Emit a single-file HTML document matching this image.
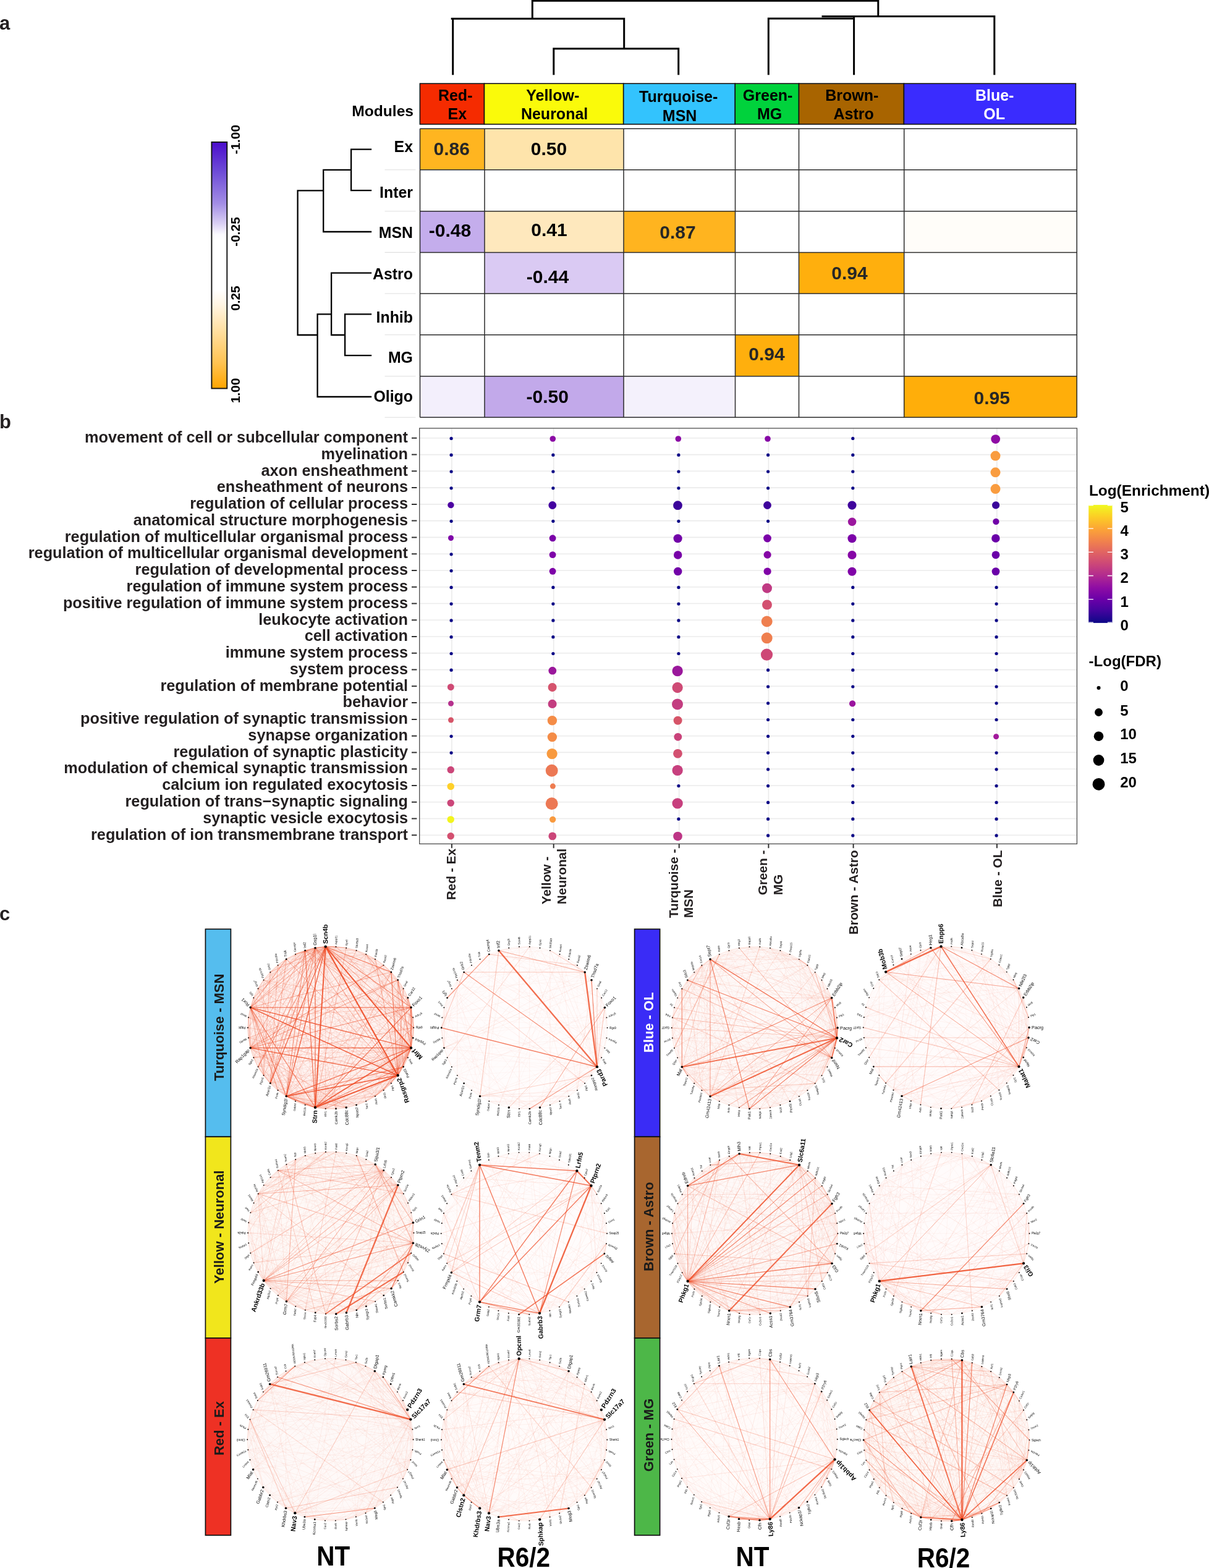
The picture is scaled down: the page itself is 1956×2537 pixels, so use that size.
<!DOCTYPE html>
<html><head><meta charset="utf-8"><title>Figure</title>
<style>html,body{margin:0;padding:0;background:#fff;overflow:hidden;}svg{display:block;}
</style></head>
<body><svg width="1956" height="2537" viewBox="0 0 1956 2537">
<rect width="1956" height="2537" fill="#fff"/>
<g font-family="'Liberation Sans', Arial, Helvetica, sans-serif" font-weight="bold" fill="#1a1a1a">
<text x="-1" y="48" font-size="31" fill="#231f20">a</text>
<path d="M861.3 1.3L1420.8 1.3 M861.3 0L861.3 30.3 M1420.8 0L1420.8 26.4 M731.2 30.3L1009.7 30.3 M732.7 30.3L732.7 119.7 M1009.7 30.3L1009.7 78.8 M895.8 78.8L1097.7 78.8 M895.8 78.8L895.8 119.7 M1097.7 78.8L1097.7 119.7 M1331 26.4L1608.8 26.4 M1243.3 30L1381.6 30 M1243.3 30L1243.3 119.7 M1381.6 26.4L1381.6 119.7 M1608.8 26.4L1608.8 119.7" stroke="#000" stroke-width="3" fill="none" stroke-linecap="square"/>
<rect x="679.4" y="135.2" width="104.1" height="65.8" fill="#f52b00" stroke="#111" stroke-width="1.6"/>
<rect x="783.5" y="135.2" width="225.2" height="65.8" fill="#fafa0a" stroke="#111" stroke-width="1.6"/>
<rect x="1008.7" y="135.2" width="180.6" height="65.8" fill="#33c3fd" stroke="#111" stroke-width="1.6"/>
<rect x="1189.3" y="135.2" width="103.2" height="65.8" fill="#00d23c" stroke="#111" stroke-width="1.6"/>
<rect x="1292.5" y="135.2" width="169.9" height="65.8" fill="#a86400" stroke="#111" stroke-width="1.6"/>
<rect x="1462.4" y="135.2" width="278" height="65.8" fill="#3a2cfe" stroke="#111" stroke-width="1.6"/>
<text x="736.7" y="162.8" font-size="25.0" text-anchor="middle" fill="#000">Red-</text>
<text x="739.9" y="193.2" font-size="25.0" text-anchor="middle" fill="#000">Ex</text>
<text x="894.3" y="162.8" font-size="25.0" text-anchor="middle" fill="#000">Yellow-</text>
<text x="897.1" y="193.2" font-size="25.0" text-anchor="middle" fill="#000">Neuronal</text>
<text x="1097.7" y="165.3" font-size="25.0" text-anchor="middle" fill="#000">Turquoise-</text>
<text x="1099.6" y="195.7" font-size="25.0" text-anchor="middle" fill="#000">MSN</text>
<text x="1242.1" y="162.8" font-size="25.0" text-anchor="middle" fill="#000">Green-</text>
<text x="1245.1" y="193.2" font-size="25.0" text-anchor="middle" fill="#000">MG</text>
<text x="1378.3" y="162.8" font-size="25.0" text-anchor="middle" fill="#000">Brown-</text>
<text x="1381.2" y="193.2" font-size="25.0" text-anchor="middle" fill="#000">Astro</text>
<text x="1609.2" y="162.8" font-size="25.0" text-anchor="middle" fill="#ffffff">Blue-</text>
<text x="1608.7" y="193.2" font-size="25.0" text-anchor="middle" fill="#ffffff">OL</text>
<text x="669" y="187.7" font-size="24.6" text-anchor="end" fill="#000">Modules</text>
<rect x="679.5" y="208.3" width="104.5" height="66.5" fill="#ffb520"/>
<rect x="784" y="208.3" width="225" height="66.5" fill="#fee4ab"/>
<rect x="679.5" y="341.7" width="104.5" height="66.7" fill="#c4adec"/>
<rect x="784" y="341.7" width="225" height="66.7" fill="#fee8bd"/>
<rect x="1009" y="341.7" width="180.5" height="66.7" fill="#ffb41f"/>
<rect x="1462.7" y="341.7" width="279.5" height="66.7" fill="#fffdf9"/>
<rect x="784" y="408.4" width="225" height="66.6" fill="#dacaf3"/>
<rect x="1292.5" y="408.4" width="170.2" height="66.6" fill="#ffaf0d"/>
<rect x="1189.5" y="541.8" width="103" height="66.9" fill="#ffaf0d"/>
<rect x="679.5" y="608.7" width="104.5" height="66.5" fill="#f3effc"/>
<rect x="784" y="608.7" width="225" height="66.5" fill="#c2a9ea"/>
<rect x="1009" y="608.7" width="180.5" height="66.5" fill="#f4f1fc"/>
<rect x="1462.7" y="608.7" width="279.5" height="66.5" fill="#ffae0a"/>
<text x="730.7" y="251" font-size="30" text-anchor="middle" fill="#262626">0.86</text>
<text x="888" y="251" font-size="30" text-anchor="middle" fill="#000">0.50</text>
<text x="728" y="383.1" font-size="30" text-anchor="middle" fill="#000">-0.48</text>
<text x="888.5" y="382.4" font-size="30" text-anchor="middle" fill="#000">0.41</text>
<text x="1096.5" y="385.6" font-size="30" text-anchor="middle" fill="#262626">0.87</text>
<text x="886" y="457.8" font-size="30" text-anchor="middle" fill="#000">-0.44</text>
<text x="1374.4" y="452.4" font-size="30" text-anchor="middle" fill="#262626">0.94</text>
<text x="1240.4" y="583" font-size="30" text-anchor="middle" fill="#262626">0.94</text>
<text x="885.7" y="652.3" font-size="30" text-anchor="middle" fill="#000">-0.50</text>
<text x="1604.8" y="653.5" font-size="30" text-anchor="middle" fill="#262626">0.95</text>
<path d="M679.5 208.3V675.2M784 208.3V675.2M1009 208.3V675.2M1189.5 208.3V675.2M1292.5 208.3V675.2M1462.7 208.3V675.2M1742.2 208.3V675.2M679.5 208.3H1742.2M679.5 274.8H1742.2M679.5 341.7H1742.2M679.5 408.4H1742.2M679.5 475H1742.2M679.5 541.8H1742.2M679.5 608.7H1742.2M679.5 675.2H1742.2" stroke="#2b2b2b" stroke-width="1.5" fill="none"/>
<path d="M622.5 274.8H672.5M622.5 341.7H672.5M622.5 408.4H672.5M622.5 475H672.5M622.5 541.8H672.5M622.5 608.7H672.5M622.5 675.2H672.5" stroke="#dedede" stroke-width="1.1" fill="none"/>
<text x="668" y="245.5" font-size="24.9" text-anchor="end" fill="#000">Ex</text>
<text x="668" y="319.6" font-size="24.9" text-anchor="end" fill="#000">Inter</text>
<text x="668" y="384.6" font-size="24.9" text-anchor="end" fill="#000">MSN</text>
<text x="668" y="452" font-size="24.9" text-anchor="end" fill="#000">Astro</text>
<text x="668" y="522.2" font-size="24.9" text-anchor="end" fill="#000">Inhib</text>
<text x="668" y="587.1" font-size="24.9" text-anchor="end" fill="#000">MG</text>
<text x="668" y="649.5" font-size="24.9" text-anchor="end" fill="#000">Oligo</text>
<path d="M568.1 241.6L600 241.6 M568.1 308.2L600 308.2 M568.1 241.6L568.1 308.2 M523.2 274.8L568.1 274.8 M523.2 274.8L523.2 375 M523.2 375L600 375 M481.6 308.4L523.2 308.4 M481.6 308.4L481.6 542 M481.6 542L513.6 542 M513.6 508.3L513.6 642 M513.6 642L600 642 M513.6 508.3L536.1 508.3 M536.1 441.7L536.1 542 M536.1 441.7L600 441.7 M536.1 542L558.1 542 M558.1 508.4L558.1 575.2 M558.1 508.4L600 508.4 M558.1 575.2L600 575.2" stroke="#000" stroke-width="2.3" fill="none" stroke-linecap="square"/>
<defs><linearGradient id="cb1" x1="0" y1="0" x2="0" y2="1"><stop offset="0" stop-color="#4b0ccc"/><stop offset="0.12" stop-color="#6e4cd7"/><stop offset="0.25" stop-color="#a38ee5"/><stop offset="0.33" stop-color="#d9cff4"/><stop offset="0.375" stop-color="#fbfaff"/><stop offset="0.4" stop-color="#ffffff"/><stop offset="0.6" stop-color="#ffffff"/><stop offset="0.66" stop-color="#fff5e3"/><stop offset="0.78" stop-color="#ffdc98"/><stop offset="0.9" stop-color="#ffc24f"/><stop offset="1" stop-color="#ffa500"/></linearGradient></defs>
<rect x="342.4" y="229.9" width="24.9" height="398.6" fill="url(#cb1)" stroke="#111" stroke-width="1.9"/>
<text x="0" y="0" font-size="20.8" text-anchor="middle" fill="#000" transform="translate(388,225.7) rotate(-90)">-1.00</text>
<text x="0" y="0" font-size="20.8" text-anchor="middle" fill="#000" transform="translate(388,375) rotate(-90)">-0.25</text>
<text x="0" y="0" font-size="20.8" text-anchor="middle" fill="#000" transform="translate(388,482.6) rotate(-90)">0.25</text>
<text x="0" y="0" font-size="20.8" text-anchor="middle" fill="#000" transform="translate(388,632) rotate(-90)">1.00</text>
<text x="-1" y="692.9" font-size="31" fill="#231f20">b</text>
<path d="M730.9 692.9V1365.4M895.7 692.9V1365.4M1098.7 692.9V1365.4M1243.4 692.9V1365.4M1380.6 692.9V1365.4M1612.9 692.9V1365.4M678.7 708.8H1742.4M678.7 735.6H1742.4M678.7 762.3H1742.4M678.7 789.1H1742.4M678.7 815.9H1742.4M678.7 842.6H1742.4M678.7 869.4H1742.4M678.7 896.2H1742.4M678.7 923H1742.4M678.7 949.7H1742.4M678.7 976.5H1742.4M678.7 1003.3H1742.4M678.7 1030H1742.4M678.7 1056.8H1742.4M678.7 1083.6H1742.4M678.7 1110.3H1742.4M678.7 1137.1H1742.4M678.7 1163.9H1742.4M678.7 1190.7H1742.4M678.7 1217.4H1742.4M678.7 1244.2H1742.4M678.7 1271H1742.4M678.7 1297.7H1742.4M678.7 1324.5H1742.4M678.7 1351.3H1742.4" stroke="#ebebeb" stroke-width="1.6" fill="none"/>
<rect x="678.7" y="692.9" width="1063.7" height="672.5" fill="none" stroke="#4d4d4d" stroke-width="1.3"/>
<path d="M666 708.8H674.4M666 735.6H674.4M666 762.3H674.4M666 789.1H674.4M666 815.9H674.4M666 842.6H674.4M666 869.4H674.4M666 896.2H674.4M666 923H674.4M666 949.7H674.4M666 976.5H674.4M666 1003.3H674.4M666 1030H674.4M666 1056.8H674.4M666 1083.6H674.4M666 1110.3H674.4M666 1137.1H674.4M666 1163.9H674.4M666 1190.7H674.4M666 1217.4H674.4M666 1244.2H674.4M666 1271H674.4M666 1297.7H674.4M666 1324.5H674.4M666 1351.3H674.4M730.9 1365.4V1372.2M895.7 1365.4V1372.2M1098.7 1365.4V1372.2M1243.4 1365.4V1372.2M1380.6 1365.4V1372.2M1612.9 1365.4V1372.2" stroke="#333" stroke-width="2" fill="none"/>
<text x="660" y="716" font-size="25.3" text-anchor="end" fill="#231f20">movement of cell or subcellular component</text>
<text x="660" y="742.8" font-size="25.3" text-anchor="end" fill="#231f20">myelination</text>
<text x="660" y="769.5" font-size="25.3" text-anchor="end" fill="#231f20">axon ensheathment</text>
<text x="660" y="796.3" font-size="25.3" text-anchor="end" fill="#231f20">ensheathment of neurons</text>
<text x="660" y="823.1" font-size="25.3" text-anchor="end" fill="#231f20">regulation of cellular process</text>
<text x="660" y="849.9" font-size="25.3" text-anchor="end" fill="#231f20">anatomical structure morphogenesis</text>
<text x="660" y="876.6" font-size="25.3" text-anchor="end" fill="#231f20">regulation of multicellular organismal process</text>
<text x="660" y="903.4" font-size="25.3" text-anchor="end" fill="#231f20">regulation of multicellular organismal development</text>
<text x="660" y="930.2" font-size="25.3" text-anchor="end" fill="#231f20">regulation of developmental process</text>
<text x="660" y="956.9" font-size="25.3" text-anchor="end" fill="#231f20">regulation of immune system process</text>
<text x="660" y="983.7" font-size="25.3" text-anchor="end" fill="#231f20">positive regulation of immune system process</text>
<text x="660" y="1010.5" font-size="25.3" text-anchor="end" fill="#231f20">leukocyte activation</text>
<text x="660" y="1037.2" font-size="25.3" text-anchor="end" fill="#231f20">cell activation</text>
<text x="660" y="1064" font-size="25.3" text-anchor="end" fill="#231f20">immune system process</text>
<text x="660" y="1090.8" font-size="25.3" text-anchor="end" fill="#231f20">system process</text>
<text x="660" y="1117.5" font-size="25.3" text-anchor="end" fill="#231f20">regulation of membrane potential</text>
<text x="660" y="1144.3" font-size="25.3" text-anchor="end" fill="#231f20">behavior</text>
<text x="660" y="1171.1" font-size="25.3" text-anchor="end" fill="#231f20">positive regulation of synaptic transmission</text>
<text x="660" y="1197.9" font-size="25.3" text-anchor="end" fill="#231f20">synapse organization</text>
<text x="660" y="1224.6" font-size="25.3" text-anchor="end" fill="#231f20">regulation of synaptic plasticity</text>
<text x="660" y="1251.4" font-size="25.3" text-anchor="end" fill="#231f20">modulation of chemical synaptic transmission</text>
<text x="660" y="1278.2" font-size="25.3" text-anchor="end" fill="#231f20">calcium ion regulated exocytosis</text>
<text x="660" y="1304.9" font-size="25.3" text-anchor="end" fill="#231f20">regulation of trans&#8722;synaptic signaling</text>
<text x="660" y="1331.7" font-size="25.3" text-anchor="end" fill="#231f20">synaptic vesicle exocytosis</text>
<text x="660" y="1358.5" font-size="25.3" text-anchor="end" fill="#231f20">regulation of ion transmembrane transport</text>
<circle cx="730.1" cy="709.4" r="2.60" fill="#0d0887"/>
<circle cx="894.3" cy="710" r="4.80" fill="#8b0aa5"/>
<circle cx="1097.3" cy="710" r="4.80" fill="#8b0aa5"/>
<circle cx="1242" cy="710" r="4.80" fill="#8606a6"/>
<circle cx="1379.8" cy="709.4" r="2.60" fill="#0d0887"/>
<circle cx="1610.7" cy="710.6" r="7.40" fill="#8e0ca4"/>
<circle cx="730.1" cy="736.2" r="2.60" fill="#0d0887"/>
<circle cx="894.9" cy="736.2" r="2.60" fill="#0d0887"/>
<circle cx="1097.9" cy="736.2" r="2.60" fill="#0d0887"/>
<circle cx="1242.6" cy="736.2" r="2.60" fill="#0d0887"/>
<circle cx="1379.8" cy="736.2" r="2.60" fill="#0d0887"/>
<circle cx="1610.5" cy="737.6" r="8.00" fill="#f99c3f"/>
<circle cx="730.1" cy="763" r="2.60" fill="#0d0887"/>
<circle cx="894.9" cy="763" r="2.60" fill="#0d0887"/>
<circle cx="1097.9" cy="763" r="2.60" fill="#0d0887"/>
<circle cx="1242.6" cy="763" r="2.60" fill="#0d0887"/>
<circle cx="1379.8" cy="763" r="2.60" fill="#0d0887"/>
<circle cx="1610.5" cy="764.3" r="8.00" fill="#f99c3f"/>
<circle cx="730.1" cy="789.8" r="2.60" fill="#0d0887"/>
<circle cx="894.9" cy="789.8" r="2.60" fill="#0d0887"/>
<circle cx="1097.9" cy="789.8" r="2.60" fill="#0d0887"/>
<circle cx="1242.6" cy="789.8" r="2.60" fill="#0d0887"/>
<circle cx="1379.8" cy="789.8" r="2.60" fill="#0d0887"/>
<circle cx="1610.5" cy="791.1" r="8.00" fill="#f99c3f"/>
<circle cx="729.4" cy="817.2" r="5.15" fill="#4c02a1"/>
<circle cx="893.8" cy="817.5" r="6.40" fill="#4402a0"/>
<circle cx="1096.5" cy="817.7" r="7.40" fill="#3b049a"/>
<circle cx="1241.5" cy="817.5" r="6.40" fill="#3f049c"/>
<circle cx="1378.5" cy="817.6" r="7.05" fill="#3f049c"/>
<circle cx="1611.1" cy="817.4" r="6.10" fill="#3a049a"/>
<circle cx="730.1" cy="843.3" r="2.60" fill="#0d0887"/>
<circle cx="894.9" cy="843.3" r="2.60" fill="#0d0887"/>
<circle cx="1097.9" cy="843.3" r="2.60" fill="#0d0887"/>
<circle cx="1242.6" cy="843.3" r="2.60" fill="#0d0887"/>
<circle cx="1378.6" cy="844.3" r="6.75" fill="#9b179e"/>
<circle cx="1611.4" cy="843.9" r="5.15" fill="#7000a8"/>
<circle cx="729.5" cy="870.5" r="4.50" fill="#7e03a8"/>
<circle cx="894.1" cy="870.8" r="5.45" fill="#7a02a8"/>
<circle cx="1096.6" cy="871.2" r="7.05" fill="#7202a8"/>
<circle cx="1241.5" cy="871" r="6.40" fill="#7b02a8"/>
<circle cx="1378.5" cy="871.2" r="7.05" fill="#7b02a8"/>
<circle cx="1610.9" cy="871.1" r="6.75" fill="#6a00a8"/>
<circle cx="730.1" cy="896.8" r="2.60" fill="#0d0887"/>
<circle cx="894.1" cy="897.6" r="5.45" fill="#7e03a8"/>
<circle cx="1096.7" cy="897.9" r="6.75" fill="#7802a8"/>
<circle cx="1241.6" cy="897.7" r="6.10" fill="#8606a6"/>
<circle cx="1378.5" cy="898" r="7.05" fill="#8606a6"/>
<circle cx="1611" cy="897.8" r="6.40" fill="#6a00a8"/>
<circle cx="730.1" cy="923.6" r="2.60" fill="#0d0887"/>
<circle cx="894.1" cy="924.3" r="5.45" fill="#7e03a8"/>
<circle cx="1096.7" cy="924.6" r="6.75" fill="#7202a8"/>
<circle cx="1241.6" cy="924.5" r="6.10" fill="#8003a7"/>
<circle cx="1378.5" cy="924.7" r="7.05" fill="#8003a7"/>
<circle cx="1611" cy="924.6" r="6.40" fill="#6a00a8"/>
<circle cx="730.1" cy="950.4" r="2.60" fill="#0d0887"/>
<circle cx="894.9" cy="950.4" r="2.60" fill="#0d0887"/>
<circle cx="1097.9" cy="950.4" r="2.60" fill="#0d0887"/>
<circle cx="1241" cy="951.7" r="8.00" fill="#c03a83"/>
<circle cx="1379.8" cy="950.4" r="2.60" fill="#0d0887"/>
<circle cx="1612.1" cy="950.4" r="2.60" fill="#0d0887"/>
<circle cx="730.1" cy="977.1" r="2.60" fill="#0d0887"/>
<circle cx="894.9" cy="977.1" r="2.60" fill="#0d0887"/>
<circle cx="1097.9" cy="977.1" r="2.60" fill="#0d0887"/>
<circle cx="1241" cy="978.5" r="8.00" fill="#d35070"/>
<circle cx="1379.8" cy="977.1" r="2.60" fill="#0d0887"/>
<circle cx="1612.1" cy="977.1" r="2.60" fill="#0d0887"/>
<circle cx="730.1" cy="1003.9" r="2.60" fill="#0d0887"/>
<circle cx="894.9" cy="1003.9" r="2.60" fill="#0d0887"/>
<circle cx="1097.9" cy="1003.9" r="2.60" fill="#0d0887"/>
<circle cx="1240.7" cy="1005.5" r="9.00" fill="#ef7f4f"/>
<circle cx="1379.8" cy="1003.9" r="2.60" fill="#0d0887"/>
<circle cx="1612.1" cy="1003.9" r="2.60" fill="#0d0887"/>
<circle cx="730.1" cy="1030.7" r="2.60" fill="#0d0887"/>
<circle cx="894.9" cy="1030.7" r="2.60" fill="#0d0887"/>
<circle cx="1097.9" cy="1030.7" r="2.60" fill="#0d0887"/>
<circle cx="1240.7" cy="1032.3" r="9.00" fill="#ef7f4f"/>
<circle cx="1379.8" cy="1030.7" r="2.60" fill="#0d0887"/>
<circle cx="1612.1" cy="1030.7" r="2.60" fill="#0d0887"/>
<circle cx="730.1" cy="1057.5" r="2.60" fill="#0d0887"/>
<circle cx="894.9" cy="1057.5" r="2.60" fill="#0d0887"/>
<circle cx="1097.9" cy="1057.5" r="2.60" fill="#0d0887"/>
<circle cx="1240.5" cy="1059.2" r="9.60" fill="#ce4876"/>
<circle cx="1379.8" cy="1057.5" r="2.60" fill="#0d0887"/>
<circle cx="1612.1" cy="1057.5" r="2.60" fill="#0d0887"/>
<circle cx="730.1" cy="1084.2" r="2.60" fill="#0d0887"/>
<circle cx="893.8" cy="1085.2" r="6.40" fill="#9a179b"/>
<circle cx="1096.1" cy="1085.7" r="8.65" fill="#9a179b"/>
<circle cx="1242.6" cy="1084.2" r="2.60" fill="#0d0887"/>
<circle cx="1379.8" cy="1084.2" r="2.60" fill="#0d0887"/>
<circle cx="1612.1" cy="1084.2" r="2.60" fill="#0d0887"/>
<circle cx="729.3" cy="1111.7" r="5.45" fill="#cf4a74"/>
<circle cx="893.6" cy="1112.1" r="7.05" fill="#d5536d"/>
<circle cx="1096.1" cy="1112.5" r="8.65" fill="#ce4a75"/>
<circle cx="1242.6" cy="1111" r="2.60" fill="#0d0887"/>
<circle cx="1379.8" cy="1111" r="2.60" fill="#0d0887"/>
<circle cx="1612.1" cy="1111" r="2.60" fill="#0d0887"/>
<circle cx="729.5" cy="1138.2" r="4.50" fill="#b5318d"/>
<circle cx="893.6" cy="1138.9" r="7.05" fill="#c33d80"/>
<circle cx="1096" cy="1139.4" r="9.00" fill="#c33d80"/>
<circle cx="1242.6" cy="1137.8" r="2.60" fill="#0d0887"/>
<circle cx="1379.1" cy="1138.4" r="5.15" fill="#9a159e"/>
<circle cx="1612.1" cy="1137.8" r="2.60" fill="#0d0887"/>
<circle cx="729.5" cy="1165" r="4.50" fill="#d65468"/>
<circle cx="893.4" cy="1165.8" r="7.70" fill="#f48c47"/>
<circle cx="1096.6" cy="1165.7" r="7.05" fill="#d65468"/>
<circle cx="1242.6" cy="1164.5" r="2.60" fill="#0d0887"/>
<circle cx="1379.8" cy="1164.5" r="2.60" fill="#0d0887"/>
<circle cx="1612.1" cy="1164.5" r="2.60" fill="#0d0887"/>
<circle cx="730.1" cy="1191.3" r="2.60" fill="#0d0887"/>
<circle cx="893.4" cy="1192.6" r="7.70" fill="#f48c47"/>
<circle cx="1096.8" cy="1192.3" r="6.40" fill="#c9427a"/>
<circle cx="1242.6" cy="1191.3" r="2.60" fill="#0d0887"/>
<circle cx="1379.8" cy="1191.3" r="2.60" fill="#0d0887"/>
<circle cx="1611.6" cy="1191.8" r="4.50" fill="#a2199b"/>
<circle cx="730.1" cy="1218.1" r="2.60" fill="#0d0887"/>
<circle cx="893.1" cy="1219.6" r="8.65" fill="#f89a3f"/>
<circle cx="1096.5" cy="1219.3" r="7.40" fill="#d35070"/>
<circle cx="1242.6" cy="1218.1" r="2.60" fill="#0d0887"/>
<circle cx="1379.8" cy="1218.1" r="2.60" fill="#0d0887"/>
<circle cx="1612.1" cy="1218.1" r="2.60" fill="#0d0887"/>
<circle cx="729.2" cy="1245.6" r="5.75" fill="#cb4679"/>
<circle cx="892.7" cy="1246.7" r="9.95" fill="#ec7854"/>
<circle cx="1096.1" cy="1246.4" r="8.65" fill="#c7407e"/>
<circle cx="1242.6" cy="1244.8" r="2.60" fill="#0d0887"/>
<circle cx="1379.8" cy="1244.8" r="2.60" fill="#0d0887"/>
<circle cx="1612.1" cy="1244.8" r="2.60" fill="#0d0887"/>
<circle cx="729.2" cy="1272.4" r="5.75" fill="#fed02a"/>
<circle cx="894.4" cy="1272.1" r="4.50" fill="#ee7c50"/>
<circle cx="1097.9" cy="1271.6" r="2.60" fill="#0d0887"/>
<circle cx="1242.6" cy="1271.6" r="2.60" fill="#0d0887"/>
<circle cx="1379.8" cy="1271.6" r="2.60" fill="#0d0887"/>
<circle cx="1612.1" cy="1271.6" r="2.60" fill="#0d0887"/>
<circle cx="729.2" cy="1299.2" r="5.75" fill="#cb4679"/>
<circle cx="892.7" cy="1300.2" r="9.95" fill="#ec7854"/>
<circle cx="1096.1" cy="1299.9" r="8.65" fill="#c7407e"/>
<circle cx="1242.6" cy="1298.4" r="2.60" fill="#0d0887"/>
<circle cx="1379.8" cy="1298.4" r="2.60" fill="#0d0887"/>
<circle cx="1612.1" cy="1298.4" r="2.60" fill="#0d0887"/>
<circle cx="729.2" cy="1325.9" r="5.75" fill="#f2f41e"/>
<circle cx="894.2" cy="1325.8" r="5.15" fill="#f89a3f"/>
<circle cx="1097.9" cy="1325.2" r="2.60" fill="#0d0887"/>
<circle cx="1242.6" cy="1325.2" r="2.60" fill="#0d0887"/>
<circle cx="1379.8" cy="1325.2" r="2.60" fill="#0d0887"/>
<circle cx="1612.1" cy="1325.2" r="2.60" fill="#0d0887"/>
<circle cx="729.2" cy="1352.7" r="5.75" fill="#d34f6f"/>
<circle cx="893.8" cy="1352.9" r="6.40" fill="#cb4679"/>
<circle cx="1096.5" cy="1353.1" r="7.40" fill="#bd3585"/>
<circle cx="1242.6" cy="1351.9" r="2.60" fill="#0d0887"/>
<circle cx="1379.8" cy="1351.9" r="2.60" fill="#0d0887"/>
<circle cx="1612.1" cy="1351.9" r="2.60" fill="#0d0887"/>
<text x="0" y="0" font-size="20.8" text-anchor="end" fill="#231f20" transform="translate(737,1373) rotate(-90)">Red - Ex</text>
<text x="0" y="0" font-size="20.8" fill="#231f20" transform="translate(891,1463.2) rotate(-90)">Yellow -</text>
<text x="0" y="0" font-size="20.8" fill="#231f20" transform="translate(915.7,1463.2) rotate(-90)">Neuronal</text>
<text x="0" y="0" font-size="20.8" fill="#231f20" transform="translate(1096.5,1485.2) rotate(-90)">Turquoise -</text>
<text x="0" y="0" font-size="20.8" fill="#231f20" transform="translate(1121.2,1485.2) rotate(-90)">MSN</text>
<text x="0" y="0" font-size="20.8" fill="#231f20" transform="translate(1241.2,1448.3) rotate(-90)">Green -</text>
<text x="0" y="0" font-size="20.8" fill="#231f20" transform="translate(1265.9,1448.3) rotate(-90)">MG</text>
<text x="0" y="0" font-size="20.8" text-anchor="end" fill="#231f20" transform="translate(1388.2,1375.5) rotate(-90)">Brown - Astro</text>
<text x="0" y="0" font-size="20.8" text-anchor="end" fill="#231f20" transform="translate(1620.5,1375.5) rotate(-90)">Blue - OL</text>
<text x="1761.9" y="802.4" font-size="24.4" fill="#000">Log(Enrichment)</text>
<defs><linearGradient id="cb2" x1="0" y1="0" x2="0" y2="1"><stop offset="0.0" stop-color="#f0f921"/><stop offset="0.1" stop-color="#fcce25"/><stop offset="0.2" stop-color="#fca636"/><stop offset="0.3" stop-color="#f2844b"/><stop offset="0.4" stop-color="#e16462"/><stop offset="0.5" stop-color="#cc4778"/><stop offset="0.6" stop-color="#b12a90"/><stop offset="0.7" stop-color="#8f0da4"/><stop offset="0.8" stop-color="#6a00a8"/><stop offset="0.9" stop-color="#41049d"/><stop offset="1.0" stop-color="#0d0887"/></linearGradient></defs>
<rect x="1761.2" y="816.9" width="38.3" height="191" fill="url(#cb2)"/>
<path d="M1761.2 1007.2h7.7M1791.8 1007.2h7.7M1761.2 969.7h7.7M1791.8 969.7h7.7M1761.2 931.5h7.7M1791.8 931.5h7.7M1761.2 893.3h7.7M1791.8 893.3h7.7M1761.2 855.1h7.7M1791.8 855.1h7.7M1761.2 817.6h7.7M1791.8 817.6h7.7" stroke="#fff" stroke-width="1.3"/>
<text x="1812.5" y="1019.9" font-size="24" fill="#000">0</text>
<text x="1812.5" y="981.6" font-size="24" fill="#000">1</text>
<text x="1812.5" y="943.4" font-size="24" fill="#000">2</text>
<text x="1812.5" y="905.1" font-size="24" fill="#000">3</text>
<text x="1812.5" y="866.9" font-size="24" fill="#000">4</text>
<text x="1812.5" y="828.6" font-size="24" fill="#000">5</text>
<text x="1761.6" y="1078" font-size="24" fill="#000">-Log(FDR)</text>
<circle cx="1777.5" cy="1113" r="3.0" fill="#000"/>
<text x="1812.2" y="1118" font-size="24" fill="#000">0</text>
<circle cx="1777.5" cy="1152.5" r="6.4" fill="#000"/>
<text x="1812.2" y="1157.5" font-size="24" fill="#000">5</text>
<circle cx="1777.5" cy="1191.3" r="7.8" fill="#000"/>
<text x="1812.2" y="1196.3" font-size="24" fill="#000">10</text>
<circle cx="1777.5" cy="1230" r="8.9" fill="#000"/>
<text x="1812.2" y="1235" font-size="24" fill="#000">15</text>
<circle cx="1777.5" cy="1268.8" r="9.9" fill="#000"/>
<text x="1812.2" y="1273.8" font-size="24" fill="#000">20</text>
<text x="-1" y="1489" font-size="31" fill="#231f20">c</text>
<rect x="332.4" y="1503.3" width="41.0" height="336" fill="#55bdee" stroke="#111" stroke-width="1.7"/>
<text x="0" y="0" font-size="22" text-anchor="middle" transform="translate(362.4,1662.3) rotate(-90)">Turquoise - MSN</text>
<rect x="332.4" y="1839.3" width="41.0" height="325.7" fill="#f1e61c" stroke="#111" stroke-width="1.7"/>
<text x="0" y="0" font-size="22" text-anchor="middle" transform="translate(362.4,1985.2) rotate(-90)">Yellow - Neuronal</text>
<rect x="332.4" y="2165" width="41.0" height="319" fill="#ee3124" stroke="#111" stroke-width="1.7"/>
<text x="0" y="0" font-size="22" text-anchor="middle" transform="translate(362.4,2311) rotate(-90)">Red - Ex</text>
<rect x="1026.6" y="1503.3" width="41.0" height="336" fill="#3a2cf6" stroke="#111" stroke-width="1.7"/>
<text x="0" y="0" font-size="22" text-anchor="middle" fill="#ffffff" transform="translate(1056.6,1654.3) rotate(-90)">Blue - OL</text>
<rect x="1026.6" y="1839.3" width="41.0" height="325.7" fill="#a8662f" stroke="#111" stroke-width="1.7"/>
<text x="0" y="0" font-size="22" text-anchor="middle" transform="translate(1056.6,1984.7) rotate(-90)">Brown - Astro</text>
<rect x="1026.6" y="2165" width="41.0" height="319" fill="#4db748" stroke="#111" stroke-width="1.7"/>
<text x="0" y="0" font-size="22" text-anchor="middle" transform="translate(1056.6,2322) rotate(-90)">Green - MG</text>
<text x="539.2" y="2533.3" font-size="40.5" text-anchor="middle" fill="#000" transform="matrix(1 0 0 1.08 0 -202.66)">NT</text>
<text x="847.3" y="2535.4" font-size="40.5" text-anchor="middle" fill="#000" transform="matrix(1 0 0 1.08 0 -202.83)">R6/2</text>
<text x="1217.5" y="2534.2" font-size="40.5" text-anchor="middle" fill="#000" transform="matrix(1 0 0 1.08 0 -202.74)">NT</text>
<text x="1526.5" y="2535.7" font-size="40.5" text-anchor="middle" fill="#000" transform="matrix(1 0 0 1.08 0 -202.86)">R6/2</text>
<polygon points="669.3,1662.8 668.2,1646.3 665.1,1630.1 659.9,1614.4 652.7,1599.5 643.7,1585.6 632.9,1572.9 620.6,1561.6 607,1551.9 592.2,1543.9 576.6,1537.8 560.2,1533.7 543.5,1531.7 526.7,1531.7 510,1533.7 493.6,1537.8 478,1543.9 463.2,1551.9 449.6,1561.6 437.3,1572.9 426.5,1585.6 417.5,1599.5 410.3,1614.4 405.1,1630.1 402,1646.3 400.9,1662.8 402,1679.3 405.1,1695.5 410.3,1711.2 417.5,1726.1 426.5,1740 437.3,1752.7 449.6,1764 463.2,1773.7 478,1781.7 493.6,1787.8 510,1791.9 526.7,1793.9 543.5,1793.9 560.2,1791.9 576.6,1787.8 592.2,1781.7 607,1773.7 620.6,1764 632.9,1752.7 643.7,1740 652.7,1726.1 659.9,1711.2 665.1,1695.5 668.2,1679.3" fill="#ef4b24" fill-opacity="0.06" stroke="#ef4b24" stroke-opacity="0.18" stroke-width="1.5"/>
<path d="M620.6 1561.6L643.7 1740M643.7 1740L510 1791.9M620.6 1764L405.1 1695.5M632.9 1572.9L652.7 1726.1M526.7 1531.7L510 1791.9M592.2 1781.7L643.7 1740M659.9 1711.2L665.1 1695.5M665.1 1695.5L560.2 1533.7M417.5 1599.5L463.2 1773.7M576.6 1537.8L510 1791.9M665.1 1695.5L417.5 1726.1M463.2 1773.7L410.3 1711.2M526.7 1531.7L510 1791.9M659.9 1711.2L668.2 1646.3M592.2 1543.9L659.9 1711.2M643.7 1740L510 1533.7M510 1791.9L426.5 1740M643.7 1740L405.1 1630.1M463.2 1551.9L405.1 1630.1M643.7 1740L592.2 1781.7M607 1551.9L405.1 1630.1M493.6 1537.8L607 1551.9M400.9 1662.8L410.3 1614.4M665.1 1630.1L510 1791.9M426.5 1585.6L643.7 1740M576.6 1787.8L665.1 1695.5M510 1791.9L478 1543.9M449.6 1764L463.2 1773.7M526.7 1531.7L632.9 1752.7M449.6 1764L643.7 1740M576.6 1537.8L665.1 1695.5M665.1 1695.5L665.1 1630.1M510 1791.9L405.1 1695.5" stroke="#ef4b24" stroke-opacity="0.035" stroke-width="0.89" fill="none"/>
<path d="M560.2 1791.9L526.7 1531.7M493.6 1537.8L449.6 1764M426.5 1740L405.1 1630.1M405.1 1695.5L526.7 1531.7M405.1 1630.1L543.5 1531.7M478 1543.9L463.2 1773.7M665.1 1695.5L632.9 1572.9M576.6 1787.8L665.1 1695.5M526.7 1531.7L669.3 1662.8M665.1 1630.1L665.1 1695.5M402 1679.3L643.7 1740M449.6 1561.6L669.3 1662.8M643.7 1740L510 1533.7M510 1791.9L493.6 1537.8M607 1551.9L493.6 1787.8M592.2 1543.9L437.3 1572.9M652.7 1726.1L543.5 1531.7M543.5 1531.7L493.6 1537.8M668.2 1646.3L576.6 1537.8M510 1791.9L643.7 1585.6M510 1533.7L510 1791.9M526.7 1531.7L560.2 1791.9M632.9 1572.9L437.3 1572.9M669.3 1662.8L665.1 1630.1M560.2 1533.7L510 1791.9M665.1 1695.5L560.2 1533.7M607 1551.9L526.7 1531.7M543.5 1793.9L526.7 1531.7M410.3 1711.2L665.1 1695.5M510 1533.7L643.7 1740M510 1533.7L643.7 1585.6M526.7 1531.7L426.5 1740M437.3 1752.7L620.6 1764" stroke="#ef4b24" stroke-opacity="0.039" stroke-width="0.82" fill="none"/>
<path d="M405.1 1695.5L405.1 1630.1M665.1 1630.1L643.7 1740M463.2 1773.7L632.9 1752.7M632.9 1572.9L493.6 1787.8M592.2 1781.7L437.3 1572.9M526.7 1531.7L463.2 1773.7M632.9 1752.7L493.6 1537.8M620.6 1764L463.2 1773.7M560.2 1791.9L437.3 1752.7M426.5 1585.6L405.1 1630.1M652.7 1599.5L643.7 1740M632.9 1572.9L417.5 1599.5M665.1 1630.1L426.5 1585.6M665.1 1630.1L643.7 1585.6M405.1 1695.5L643.7 1585.6M410.3 1614.4L510 1791.9M510 1791.9L669.3 1662.8M526.7 1531.7L643.7 1740M426.5 1585.6L510 1791.9M510 1533.7L526.7 1531.7M510 1791.9L665.1 1630.1M478 1781.7L417.5 1726.1M632.9 1572.9L607 1551.9M643.7 1585.6L478 1543.9M437.3 1752.7L405.1 1695.5M463.2 1551.9L510 1533.7M659.9 1614.4L643.7 1740M652.7 1726.1L643.7 1585.6M592.2 1781.7L576.6 1787.8M510 1533.7L510 1791.9M669.3 1662.8L560.2 1791.9M463.2 1773.7L526.7 1531.7" stroke="#ef4b24" stroke-opacity="0.043" stroke-width="0.83" fill="none"/>
<path d="M478 1781.7L592.2 1781.7M405.1 1695.5L449.6 1764M437.3 1752.7L526.7 1531.7M510 1533.7L405.1 1695.5M437.3 1752.7L526.7 1531.7M665.1 1695.5L417.5 1726.1M632.9 1572.9L405.1 1695.5M478 1781.7L405.1 1630.1M510 1533.7L659.9 1711.2M426.5 1585.6L510 1533.7M410.3 1614.4L643.7 1740M405.1 1695.5L437.3 1572.9M402 1679.3L643.7 1585.6M620.6 1561.6L402 1646.3M620.6 1764L402 1646.3M463.2 1551.9L437.3 1752.7M665.1 1630.1L643.7 1585.6M632.9 1572.9L493.6 1537.8M449.6 1764L510 1533.7M510 1533.7L405.1 1695.5M449.6 1561.6L402 1646.3M652.7 1599.5L510 1791.9M417.5 1726.1L643.7 1740M405.1 1695.5L463.2 1551.9M665.1 1695.5L493.6 1787.8M405.1 1630.1L607 1773.7M402 1646.3L607 1551.9M493.6 1537.8L620.6 1764M510 1791.9L665.1 1630.1M405.1 1630.1L668.2 1679.3M643.7 1585.6L632.9 1752.7M493.6 1537.8L463.2 1773.7" stroke="#ef4b24" stroke-opacity="0.047" stroke-width="0.89" fill="none"/>
<path d="M643.7 1585.6L665.1 1630.1M665.1 1630.1L526.7 1531.7M405.1 1695.5L402 1679.3M607 1551.9L510 1791.9M493.6 1537.8L643.7 1740M643.7 1585.6L510 1533.7M510 1791.9L493.6 1787.8M659.9 1711.2L510 1533.7M665.1 1695.5L607 1551.9M632.9 1572.9L620.6 1764M437.3 1752.7L510 1791.9M405.1 1695.5L526.7 1793.9M543.5 1531.7L665.1 1630.1M643.7 1740L652.7 1726.1M437.3 1572.9L665.1 1695.5M665.1 1630.1L620.6 1764M417.5 1726.1L510 1533.7M643.7 1740L526.7 1793.9M668.2 1679.3L526.7 1531.7M652.7 1726.1L632.9 1572.9M478 1543.9L463.2 1773.7M643.7 1585.6L493.6 1537.8M510 1533.7L665.1 1695.5M592.2 1781.7L402 1646.3M665.1 1695.5L510 1791.9M620.6 1561.6L526.7 1531.7M665.1 1695.5L463.2 1773.7M592.2 1781.7L437.3 1752.7M510 1533.7L400.9 1662.8M665.1 1630.1L405.1 1695.5M665.1 1630.1L405.1 1630.1" stroke="#ef4b24" stroke-opacity="0.052" stroke-width="0.81" fill="none"/>
<path d="M643.7 1740L405.1 1630.1M607 1773.7L405.1 1630.1M449.6 1561.6L463.2 1551.9M592.2 1543.9L510 1791.9M652.7 1726.1L668.2 1646.3M643.7 1740L437.3 1752.7M526.7 1531.7L417.5 1726.1M643.7 1740L607 1551.9M526.7 1531.7L405.1 1695.5M576.6 1787.8L643.7 1740M632.9 1572.9L543.5 1793.9M652.7 1726.1L543.5 1793.9M576.6 1537.8L478 1781.7M449.6 1764L643.7 1740M665.1 1630.1L659.9 1614.4M665.1 1630.1L410.3 1711.2M478 1781.7L493.6 1537.8M632.9 1572.9L526.7 1531.7M665.1 1695.5L417.5 1726.1M405.1 1695.5L526.7 1793.9M643.7 1740L632.9 1572.9M560.2 1533.7L643.7 1740M510 1533.7L665.1 1630.1M665.1 1630.1L493.6 1537.8M659.9 1711.2L478 1781.7M402 1646.3L402 1679.3M526.7 1531.7L607 1773.7M643.7 1585.6L643.7 1740M665.1 1695.5L449.6 1764M632.9 1572.9L437.3 1752.7M526.7 1793.9L493.6 1537.8M526.7 1531.7L510 1533.7M643.7 1740L526.7 1531.7" stroke="#ef4b24" stroke-opacity="0.056" stroke-width="0.94" fill="none"/>
<path d="M560.2 1791.9L669.3 1662.8M560.2 1533.7L417.5 1726.1M410.3 1711.2L463.2 1773.7M510 1791.9L417.5 1726.1M526.7 1531.7L493.6 1537.8M665.1 1695.5L405.1 1630.1M493.6 1537.8L526.7 1531.7M659.9 1711.2L665.1 1630.1M400.9 1662.8L526.7 1531.7M493.6 1787.8L510 1791.9M417.5 1726.1L665.1 1695.5M402 1679.3L526.7 1793.9M510 1791.9L620.6 1764M526.7 1531.7L665.1 1630.1M643.7 1740L665.1 1630.1M405.1 1630.1L620.6 1561.6M510 1533.7L463.2 1551.9M463.2 1773.7L405.1 1695.5M437.3 1752.7L417.5 1726.1M510 1791.9L405.1 1630.1M426.5 1585.6L652.7 1726.1M510 1791.9L410.3 1711.2M665.1 1630.1L607 1551.9M510 1791.9L592.2 1543.9M607 1773.7L632.9 1752.7M576.6 1787.8L510 1791.9M478 1781.7L410.3 1711.2M410.3 1711.2L526.7 1531.7M463.2 1773.7L526.7 1531.7M543.5 1531.7L405.1 1695.5M668.2 1646.3L652.7 1726.1M643.7 1740L665.1 1695.5M402 1679.3L437.3 1572.9M405.1 1630.1L510 1791.9" stroke="#ef4b24" stroke-opacity="0.060" stroke-width="0.70" fill="none"/>
<path d="M405.1 1630.1L510 1791.9M463.2 1773.7L405.1 1630.1M526.7 1531.7L665.1 1695.5M665.1 1695.5L592.2 1781.7M510 1533.7L592.2 1781.7M643.7 1585.6L510 1533.7M493.6 1537.8L652.7 1726.1M410.3 1614.4L426.5 1740M405.1 1630.1L665.1 1695.5M560.2 1791.9L665.1 1695.5M463.2 1773.7L478 1781.7M510 1533.7L463.2 1773.7M510 1791.9L620.6 1764M510 1533.7L632.9 1572.9M417.5 1599.5L510 1791.9M493.6 1537.8L543.5 1793.9M405.1 1695.5L417.5 1726.1M576.6 1787.8L402 1679.3M526.7 1531.7L405.1 1695.5M659.9 1614.4L493.6 1537.8M417.5 1599.5L665.1 1695.5M659.9 1711.2L607 1551.9M526.7 1531.7L620.6 1764M543.5 1531.7L405.1 1630.1M526.7 1531.7L576.6 1787.8M405.1 1630.1L643.7 1740M526.7 1531.7L405.1 1695.5M405.1 1695.5L526.7 1531.7M478 1543.9L437.3 1572.9M632.9 1752.7L652.7 1599.5M417.5 1599.5L478 1781.7M665.1 1695.5L510 1791.9" stroke="#ef4b24" stroke-opacity="0.064" stroke-width="0.93" fill="none"/>
<path d="M526.7 1531.7L665.1 1695.5M437.3 1572.9L405.1 1630.1M665.1 1630.1L526.7 1531.7M607 1773.7L405.1 1695.5M478 1543.9L526.7 1531.7M643.7 1740L668.2 1646.3M665.1 1695.5L405.1 1630.1M607 1773.7L652.7 1726.1M652.7 1726.1L659.9 1711.2M665.1 1695.5L426.5 1585.6M620.6 1561.6L405.1 1695.5M463.2 1773.7L410.3 1614.4M526.7 1531.7L426.5 1740M665.1 1695.5L463.2 1773.7M643.7 1585.6L665.1 1630.1M643.7 1740L665.1 1630.1M643.7 1740L463.2 1773.7M632.9 1752.7L665.1 1695.5M510 1791.9L402 1679.3M405.1 1630.1L643.7 1740M510 1791.9L478 1781.7M463.2 1773.7L526.7 1531.7M643.7 1740L526.7 1531.7M526.7 1531.7L426.5 1740M417.5 1726.1L437.3 1752.7M632.9 1572.9L478 1781.7M437.3 1752.7L426.5 1740M632.9 1572.9L652.7 1726.1M449.6 1561.6L643.7 1740M417.5 1726.1L463.2 1773.7M493.6 1537.8L665.1 1695.5M543.5 1531.7L560.2 1533.7" stroke="#ef4b24" stroke-opacity="0.068" stroke-width="0.92" fill="none"/>
<path d="M652.7 1726.1L665.1 1630.1M405.1 1695.5L576.6 1787.8M560.2 1533.7L437.3 1752.7M526.7 1531.7L478 1781.7M510 1791.9L643.7 1740M510 1791.9L643.7 1585.6M478 1781.7L463.2 1773.7M643.7 1740L526.7 1793.9M510 1533.7L478 1781.7M607 1773.7L405.1 1630.1M437.3 1752.7L493.6 1537.8M576.6 1537.8L592.2 1781.7M478 1543.9L643.7 1740M463.2 1773.7L526.7 1793.9M405.1 1695.5L643.7 1585.6M607 1551.9L659.9 1711.2M560.2 1533.7L643.7 1740M410.3 1614.4L463.2 1773.7M665.1 1695.5L510 1791.9M668.2 1679.3L510 1533.7M620.6 1764L643.7 1740M510 1791.9L510 1533.7M449.6 1561.6L592.2 1543.9M665.1 1695.5L643.7 1740M426.5 1585.6L426.5 1740M417.5 1599.5L526.7 1531.7M510 1791.9L632.9 1752.7M665.1 1695.5L576.6 1787.8M437.3 1752.7L402 1679.3M643.7 1740L620.6 1561.6M510 1791.9L510 1533.7" stroke="#ef4b24" stroke-opacity="0.072" stroke-width="0.79" fill="none"/>
<path d="M665.1 1630.1L417.5 1726.1M405.1 1695.5L417.5 1599.5M643.7 1740L607 1773.7M417.5 1599.5L437.3 1752.7M665.1 1695.5L478 1543.9M632.9 1572.9L643.7 1740M665.1 1695.5L426.5 1585.6M510 1791.9L560.2 1533.7M665.1 1630.1L652.7 1599.5M576.6 1537.8L493.6 1537.8M405.1 1695.5L449.6 1561.6M665.1 1695.5L592.2 1781.7M643.7 1740L493.6 1537.8M632.9 1572.9L510 1791.9M510 1791.9L643.7 1740M607 1773.7L643.7 1585.6M668.2 1646.3L437.3 1572.9M643.7 1585.6L620.6 1561.6M402 1679.3L643.7 1740M493.6 1537.8L402 1679.3M405.1 1695.5L493.6 1537.8M478 1543.9L643.7 1740M576.6 1787.8L659.9 1711.2M592.2 1543.9L437.3 1572.9M463.2 1773.7L400.9 1662.8M463.2 1773.7L652.7 1599.5M426.5 1585.6L665.1 1695.5M659.9 1614.4L652.7 1726.1M463.2 1773.7L643.7 1740M405.1 1630.1L449.6 1561.6M665.1 1695.5L405.1 1630.1" stroke="#ef4b24" stroke-opacity="0.076" stroke-width="0.70" fill="none"/>
<path d="M665.1 1695.5L426.5 1585.6M402 1679.3L665.1 1630.1M607 1773.7L632.9 1752.7M493.6 1537.8L463.2 1773.7M643.7 1740L510 1791.9M665.1 1630.1L526.7 1531.7M405.1 1630.1L592.2 1543.9M405.1 1695.5L643.7 1740M632.9 1572.9L659.9 1711.2M405.1 1695.5L669.3 1662.8M643.7 1740L560.2 1791.9M526.7 1531.7L665.1 1695.5M643.7 1585.6L417.5 1599.5M493.6 1787.8L426.5 1585.6M665.1 1630.1L426.5 1585.6M659.9 1614.4L665.1 1695.5M643.7 1740L510 1791.9M405.1 1695.5L449.6 1764M665.1 1695.5L526.7 1531.7M417.5 1726.1L526.7 1531.7M493.6 1537.8L620.6 1561.6M665.1 1695.5L463.2 1551.9M592.2 1543.9L643.7 1740M493.6 1537.8L643.7 1740M632.9 1572.9L665.1 1630.1M665.1 1695.5L526.7 1531.7M592.2 1781.7L659.9 1614.4M620.6 1561.6L510 1791.9M405.1 1630.1L643.7 1740M405.1 1630.1L405.1 1695.5M543.5 1793.9L665.1 1630.1M400.9 1662.8L665.1 1630.1" stroke="#ef4b24" stroke-opacity="0.080" stroke-width="0.80" fill="none"/>
<path d="M526.7 1531.7L405.1 1630.1M665.1 1630.1L510 1791.9M526.7 1531.7L643.7 1740M659.9 1614.4L510 1533.7M402 1679.3L665.1 1695.5M665.1 1695.5L405.1 1630.1M493.6 1537.8L643.7 1740M592.2 1543.9L560.2 1791.9M665.1 1695.5L632.9 1572.9M620.6 1764L463.2 1773.7M510 1791.9L643.7 1740M405.1 1695.5L437.3 1572.9M463.2 1773.7L665.1 1695.5M510 1791.9L493.6 1537.8M400.9 1662.8L659.9 1711.2M510 1533.7L643.7 1740M417.5 1726.1L665.1 1695.5M665.1 1630.1L526.7 1531.7M560.2 1791.9L478 1543.9M607 1551.9L526.7 1531.7M607 1773.7L463.2 1773.7M426.5 1585.6L405.1 1630.1M463.2 1551.9L493.6 1787.8M652.7 1599.5L560.2 1533.7M668.2 1646.3L665.1 1695.5M526.7 1793.9L426.5 1585.6M526.7 1531.7L669.3 1662.8M560.2 1533.7L607 1551.9M620.6 1764L669.3 1662.8M493.6 1537.8L543.5 1793.9M668.2 1646.3L632.9 1572.9" stroke="#ef4b24" stroke-opacity="0.085" stroke-width="0.88" fill="none"/>
<path d="M665.1 1630.1L526.7 1531.7M665.1 1695.5L449.6 1764M510 1791.9L643.7 1585.6M665.1 1695.5L643.7 1740M526.7 1531.7L510 1791.9M632.9 1572.9L576.6 1537.8M643.7 1740L493.6 1537.8M526.7 1531.7L659.9 1614.4M643.7 1740L493.6 1537.8M463.2 1773.7L410.3 1614.4M493.6 1537.8L417.5 1599.5M463.2 1551.9L510 1533.7M665.1 1630.1L652.7 1726.1M576.6 1537.8L526.7 1531.7M463.2 1773.7L526.7 1531.7M620.6 1561.6L607 1773.7M463.2 1773.7L643.7 1740M576.6 1537.8L463.2 1773.7M400.9 1662.8L665.1 1695.5M402 1679.3L669.3 1662.8M643.7 1585.6L410.3 1711.2M643.7 1740L463.2 1773.7M632.9 1572.9L463.2 1773.7M668.2 1679.3L576.6 1787.8M560.2 1791.9L510 1791.9M493.6 1537.8L510 1533.7M510 1791.9L449.6 1764M632.9 1572.9L526.7 1531.7M652.7 1726.1L510 1533.7M592.2 1543.9L493.6 1537.8M643.7 1740L665.1 1630.1M463.2 1773.7L493.6 1787.8" stroke="#ef4b24" stroke-opacity="0.089" stroke-width="0.94" fill="none"/>
<path d="M405.1 1630.1L405.1 1695.5M417.5 1599.5L576.6 1537.8M493.6 1537.8L643.7 1740M643.7 1585.6L576.6 1537.8M526.7 1531.7L526.7 1793.9M478 1543.9L417.5 1726.1M665.1 1695.5L620.6 1764M510 1791.9L643.7 1740M632.9 1572.9L510 1533.7M592.2 1781.7L510 1791.9M510 1791.9L643.7 1740M463.2 1773.7L493.6 1537.8M632.9 1752.7L402 1646.3M659.9 1614.4L665.1 1695.5M620.6 1764L643.7 1740M620.6 1764L665.1 1695.5M643.7 1740L405.1 1630.1M668.2 1679.3L526.7 1793.9M417.5 1599.5L510 1791.9M668.2 1679.3L493.6 1787.8M510 1791.9L426.5 1740M643.7 1740L410.3 1614.4M510 1533.7L510 1791.9M665.1 1630.1L405.1 1630.1M607 1773.7L510 1533.7M405.1 1630.1L449.6 1764M620.6 1561.6L410.3 1711.2M560.2 1791.9L437.3 1572.9M665.1 1630.1L405.1 1695.5M526.7 1531.7L643.7 1740M449.6 1764L493.6 1787.8M665.1 1695.5L405.1 1630.1" stroke="#ef4b24" stroke-opacity="0.093" stroke-width="0.96" fill="none"/>
<path d="M405.1 1695.5L665.1 1695.5M543.5 1793.9L526.7 1531.7M493.6 1537.8L665.1 1695.5M659.9 1711.2L526.7 1531.7M643.7 1585.6L659.9 1711.2M437.3 1752.7L449.6 1764M437.3 1572.9L510 1791.9M526.7 1531.7L543.5 1793.9M402 1679.3L478 1781.7M417.5 1726.1L592.2 1543.9M405.1 1630.1L560.2 1791.9M437.3 1752.7L526.7 1531.7M449.6 1764L463.2 1551.9M493.6 1537.8L405.1 1630.1M665.1 1695.5L607 1773.7M510 1791.9L417.5 1726.1M437.3 1752.7L437.3 1572.9M643.7 1740L643.7 1585.6M510 1791.9L526.7 1531.7M510 1791.9L463.2 1773.7M607 1773.7L463.2 1773.7M437.3 1572.9L510 1533.7M592.2 1543.9L665.1 1695.5M665.1 1695.5L510 1791.9M652.7 1599.5L526.7 1531.7M400.9 1662.8L463.2 1773.7M668.2 1679.3L643.7 1740M607 1551.9L632.9 1572.9M643.7 1740L405.1 1630.1M510 1791.9L478 1543.9" stroke="#ef4b24" stroke-opacity="0.097" stroke-width="0.76" fill="none"/>
<path d="M526.7 1531.7L405.1 1630.1M576.6 1787.8L410.3 1711.2M632.9 1572.9L463.2 1773.7M526.7 1793.9L405.1 1630.1M560.2 1791.9L463.2 1773.7M437.3 1572.9L665.1 1695.5M526.7 1531.7L668.2 1646.3M643.7 1740L405.1 1630.1M526.7 1793.9L449.6 1764M669.3 1662.8L543.5 1531.7M437.3 1572.9L526.7 1531.7M643.7 1740L402 1679.3M592.2 1781.7L543.5 1531.7M510 1791.9L493.6 1537.8M463.2 1773.7L426.5 1740M526.7 1531.7L426.5 1740M620.6 1561.6L405.1 1695.5M665.1 1695.5L607 1773.7M417.5 1599.5L665.1 1695.5M463.2 1773.7L668.2 1679.3M510 1533.7L417.5 1726.1M526.7 1531.7L437.3 1752.7M405.1 1695.5L437.3 1752.7M669.3 1662.8L665.1 1695.5M632.9 1752.7L405.1 1630.1M632.9 1752.7L665.1 1695.5M493.6 1537.8L410.3 1711.2M426.5 1585.6L510 1533.7M510 1533.7L463.2 1773.7M417.5 1599.5L668.2 1679.3M493.6 1537.8L405.1 1695.5M665.1 1695.5L526.7 1531.7M652.7 1599.5L405.1 1630.1" stroke="#ef4b24" stroke-opacity="0.101" stroke-width="0.72" fill="none"/>
<path d="M510 1533.7L668.2 1646.3M643.7 1740L526.7 1531.7M478 1543.9L652.7 1599.5M526.7 1531.7L669.3 1662.8M643.7 1740L437.3 1572.9M659.9 1711.2L510 1533.7M526.7 1531.7L652.7 1599.5M417.5 1599.5L478 1543.9M643.7 1740L652.7 1726.1M405.1 1630.1L668.2 1646.3M669.3 1662.8L510 1533.7M402 1646.3L665.1 1630.1M463.2 1773.7L576.6 1537.8M449.6 1764L659.9 1711.2M405.1 1695.5L659.9 1614.4M493.6 1537.8L478 1543.9M437.3 1752.7L668.2 1679.3M510 1791.9L620.6 1764M643.7 1740L510 1791.9M417.5 1726.1L410.3 1711.2M405.1 1630.1L560.2 1791.9M643.7 1740L405.1 1630.1M410.3 1711.2L417.5 1599.5M665.1 1695.5L463.2 1773.7M510 1791.9L463.2 1773.7M668.2 1646.3L417.5 1599.5M405.1 1630.1L405.1 1695.5M493.6 1787.8L665.1 1695.5M510 1791.9L665.1 1695.5M607 1773.7L643.7 1740M632.9 1752.7L668.2 1679.3M632.9 1572.9L620.6 1561.6M510 1791.9L607 1773.7" stroke="#ef4b24" stroke-opacity="0.105" stroke-width="0.74" fill="none"/>
<path d="M643.7 1740L426.5 1740M405.1 1695.5L665.1 1695.5M592.2 1543.9L405.1 1695.5M643.7 1740L665.1 1630.1M478 1543.9L510 1533.7M526.7 1531.7L400.9 1662.8M417.5 1726.1L652.7 1599.5M526.7 1531.7L665.1 1630.1M665.1 1695.5L437.3 1752.7M463.2 1773.7L643.7 1740M405.1 1695.5L526.7 1793.9M665.1 1695.5L405.1 1630.1M668.2 1679.3L665.1 1630.1M463.2 1551.9L410.3 1614.4M592.2 1781.7L665.1 1695.5M592.2 1781.7L510 1791.9M668.2 1679.3L526.7 1531.7M652.7 1726.1L665.1 1695.5M463.2 1551.9L665.1 1695.5M643.7 1740L526.7 1531.7M669.3 1662.8L668.2 1646.3M652.7 1726.1L463.2 1773.7M426.5 1585.6L426.5 1740M405.1 1695.5L665.1 1630.1M463.2 1773.7L526.7 1793.9M405.1 1630.1L576.6 1537.8M449.6 1561.6L643.7 1740M405.1 1695.5L643.7 1740M478 1781.7L417.5 1599.5M643.7 1740L463.2 1773.7M449.6 1764L632.9 1572.9M665.1 1695.5L643.7 1740" stroke="#ef4b24" stroke-opacity="0.109" stroke-width="1.00" fill="none"/>
<path d="M463.2 1773.7L543.5 1531.7M437.3 1752.7L405.1 1630.1M576.6 1537.8L510 1533.7M632.9 1752.7L665.1 1695.5M643.7 1740L463.2 1773.7M643.7 1585.6L478 1781.7M652.7 1599.5L463.2 1773.7M478 1781.7L405.1 1630.1M560.2 1533.7L526.7 1531.7M643.7 1740L526.7 1531.7M643.7 1740L405.1 1695.5M405.1 1630.1L463.2 1551.9M659.9 1711.2L510 1791.9M607 1773.7L643.7 1740M526.7 1531.7L643.7 1740M437.3 1752.7L632.9 1572.9M526.7 1793.9L449.6 1561.6M526.7 1531.7L526.7 1793.9M643.7 1740L426.5 1585.6M665.1 1695.5L643.7 1585.6M510 1533.7L510 1791.9M493.6 1537.8L463.2 1773.7M417.5 1726.1L665.1 1630.1M643.7 1740L405.1 1630.1M510 1791.9L643.7 1740M659.9 1711.2L410.3 1711.2M417.5 1599.5L426.5 1585.6M526.7 1531.7L510 1791.9M665.1 1695.5L560.2 1791.9M652.7 1726.1L402 1646.3M665.1 1630.1L659.9 1614.4M510 1533.7L526.7 1531.7M437.3 1752.7L417.5 1726.1" stroke="#ef4b24" stroke-opacity="0.113" stroke-width="0.89" fill="none"/>
<path d="M668.2 1679.3L643.7 1740M510 1533.7L417.5 1726.1M510 1791.9L405.1 1630.1M437.3 1752.7L576.6 1537.8M665.1 1695.5L643.7 1740M665.1 1630.1L669.3 1662.8M510 1533.7L592.2 1781.7M437.3 1752.7L659.9 1614.4M526.7 1531.7L437.3 1752.7M510 1533.7L417.5 1726.1M665.1 1695.5L402 1646.3M493.6 1787.8L668.2 1646.3M463.2 1773.7L526.7 1531.7M493.6 1537.8L426.5 1585.6M405.1 1630.1L493.6 1787.8M478 1781.7L405.1 1630.1M665.1 1695.5L463.2 1773.7M576.6 1787.8L405.1 1695.5M402 1646.3L607 1773.7M426.5 1740L405.1 1630.1M410.3 1614.4L620.6 1561.6M643.7 1585.6L526.7 1531.7M405.1 1695.5L560.2 1533.7M576.6 1787.8L463.2 1773.7M576.6 1537.8L463.2 1773.7M426.5 1585.6L669.3 1662.8M526.7 1531.7L632.9 1752.7M463.2 1551.9L410.3 1711.2M405.1 1630.1L510 1533.7M665.1 1695.5L426.5 1740M463.2 1773.7L632.9 1752.7M665.1 1630.1L665.1 1695.5M405.1 1695.5L400.9 1662.8" stroke="#ef4b24" stroke-opacity="0.118" stroke-width="0.74" fill="none"/>
<path d="M632.9 1572.9L493.6 1537.8M665.1 1695.5L669.3 1662.8M493.6 1537.8L400.9 1662.8M643.7 1740L665.1 1695.5M620.6 1561.6L417.5 1726.1M665.1 1695.5L510 1533.7M402 1679.3L643.7 1740M463.2 1551.9L607 1551.9M543.5 1793.9L665.1 1630.1M510 1533.7L437.3 1752.7M643.7 1740L410.3 1614.4M405.1 1695.5L665.1 1695.5M405.1 1695.5L607 1551.9M437.3 1752.7L659.9 1711.2M510 1791.9L526.7 1793.9M665.1 1695.5L510 1791.9M410.3 1614.4L402 1646.3M402 1679.3L410.3 1614.4M437.3 1572.9L543.5 1793.9M510 1791.9L632.9 1572.9M543.5 1531.7L426.5 1740M510 1791.9L665.1 1695.5M526.7 1531.7L405.1 1630.1M405.1 1630.1L665.1 1695.5M402 1679.3L478 1543.9M607 1773.7L665.1 1695.5M449.6 1561.6L592.2 1543.9M643.7 1585.6L632.9 1752.7M643.7 1585.6L643.7 1740M659.9 1711.2L400.9 1662.8M510 1533.7L665.1 1695.5M478 1543.9L665.1 1695.5M510 1791.9L437.3 1752.7" stroke="#ef4b24" stroke-opacity="0.122" stroke-width="0.91" fill="none"/>
<path d="M592.2 1781.7L632.9 1752.7M665.1 1630.1L426.5 1585.6M510 1791.9L405.1 1695.5M632.9 1572.9L665.1 1630.1M449.6 1764L405.1 1630.1M592.2 1543.9L405.1 1695.5M632.9 1572.9L526.7 1531.7M526.7 1531.7L510 1791.9M526.7 1793.9L665.1 1695.5M510 1791.9L417.5 1599.5M607 1551.9L510 1791.9M417.5 1599.5L643.7 1740M510 1791.9L543.5 1793.9M643.7 1740L510 1791.9M665.1 1695.5L410.3 1711.2M643.7 1740L607 1773.7M400.9 1662.8L478 1543.9M463.2 1773.7L665.1 1695.5M478 1543.9L463.2 1773.7M417.5 1726.1L526.7 1531.7M410.3 1614.4L463.2 1773.7M510 1791.9L665.1 1695.5M652.7 1726.1L493.6 1787.8M437.3 1752.7L643.7 1740M526.7 1531.7L402 1646.3M620.6 1561.6L426.5 1740M405.1 1630.1L449.6 1764M417.5 1726.1L437.3 1752.7M510 1791.9L526.7 1531.7M643.7 1740L405.1 1630.1" stroke="#ef4b24" stroke-opacity="0.126" stroke-width="0.99" fill="none"/>
<path d="M665.1 1695.5L405.1 1630.1M643.7 1740L526.7 1793.9M405.1 1630.1L543.5 1531.7M437.3 1572.9L463.2 1551.9M652.7 1599.5L643.7 1740M493.6 1537.8L659.9 1614.4M607 1773.7L652.7 1599.5M643.7 1740L417.5 1599.5M463.2 1551.9L405.1 1695.5M592.2 1781.7L620.6 1764M493.6 1537.8L576.6 1537.8M510 1791.9L463.2 1773.7M449.6 1561.6L543.5 1793.9M543.5 1793.9L592.2 1543.9M526.7 1531.7L665.1 1695.5M410.3 1711.2L652.7 1726.1M576.6 1537.8L607 1551.9M437.3 1752.7L665.1 1630.1M405.1 1630.1L632.9 1572.9M400.9 1662.8L607 1773.7M410.3 1711.2L463.2 1773.7M405.1 1695.5L665.1 1630.1M510 1533.7L410.3 1711.2M665.1 1630.1L402 1646.3M668.2 1646.3L652.7 1726.1M478 1543.9L526.7 1531.7M576.6 1787.8L463.2 1773.7M510 1533.7L620.6 1764M405.1 1630.1L665.1 1630.1M493.6 1537.8L607 1551.9M463.2 1773.7L652.7 1599.5M665.1 1695.5L669.3 1662.8M402 1646.3L643.7 1740" stroke="#ef4b24" stroke-opacity="0.130" stroke-width="0.88" fill="none"/>
<path d="M526.7 1531.7L665.1 1695.5M417.5 1599.5L526.7 1531.7M417.5 1726.1L510 1533.7M659.9 1614.4L669.3 1662.8M426.5 1740L405.1 1630.1M449.6 1764L405.1 1630.1" stroke="#ef4b24" stroke-opacity="0.220" stroke-width="1.25" fill="none"/>
<path d="M510 1791.9L560.2 1533.7M592.2 1543.9L668.2 1679.3M669.3 1662.8L493.6 1537.8M659.9 1614.4L510 1791.9M493.6 1537.8L410.3 1614.4M607 1773.7L493.6 1787.8" stroke="#ef4b24" stroke-opacity="0.238" stroke-width="1.16" fill="none"/>
<path d="M560.2 1791.9L405.1 1695.5M526.7 1793.9L643.7 1740M643.7 1585.6L402 1679.3M643.7 1740L659.9 1614.4M668.2 1646.3L543.5 1531.7M632.9 1572.9L526.7 1531.7" stroke="#ef4b24" stroke-opacity="0.256" stroke-width="1.15" fill="none"/>
<path d="M437.3 1752.7L449.6 1561.6M669.3 1662.8L510 1791.9M405.1 1695.5L643.7 1740M669.3 1662.8L410.3 1711.2M463.2 1773.7L560.2 1791.9M526.7 1793.9L632.9 1572.9" stroke="#ef4b24" stroke-opacity="0.273" stroke-width="1.25" fill="none"/>
<path d="M510 1533.7L405.1 1630.1M493.6 1537.8L405.1 1695.5M493.6 1537.8L668.2 1646.3M526.7 1531.7L560.2 1533.7M665.1 1695.5L620.6 1764" stroke="#ef4b24" stroke-opacity="0.291" stroke-width="1.05" fill="none"/>
<path d="M405.1 1695.5L402 1646.3M510 1791.9L665.1 1630.1M668.2 1679.3L510 1533.7M669.3 1662.8L526.7 1531.7M652.7 1726.1L643.7 1585.6M526.7 1531.7L510 1533.7" stroke="#ef4b24" stroke-opacity="0.309" stroke-width="1.07" fill="none"/>
<path d="M643.7 1740L652.7 1599.5M437.3 1572.9L426.5 1740M437.3 1572.9L526.7 1531.7M526.7 1531.7L510 1533.7M607 1773.7L643.7 1740M526.7 1531.7L405.1 1630.1" stroke="#ef4b24" stroke-opacity="0.327" stroke-width="1.00" fill="none"/>
<path d="M526.7 1531.7L665.1 1695.5M643.7 1740L405.1 1695.5M643.7 1585.6L405.1 1695.5M417.5 1726.1L526.7 1531.7M607 1551.9L643.7 1740M526.7 1531.7L665.1 1630.1" stroke="#ef4b24" stroke-opacity="0.344" stroke-width="1.23" fill="none"/>
<path d="M493.6 1537.8L463.2 1773.7M405.1 1695.5L620.6 1561.6M592.2 1543.9L665.1 1630.1M526.7 1531.7L543.5 1531.7" stroke="#ef4b24" stroke-opacity="0.362" stroke-width="1.25" fill="none"/>
<path d="M463.2 1773.7L526.7 1531.7M437.3 1752.7L510 1533.7M643.7 1740L526.7 1531.7M510 1533.7L478 1543.9M463.2 1551.9L405.1 1630.1" stroke="#ef4b24" stroke-opacity="0.380" stroke-width="1.26" fill="none"/>
<line x1="526.7" y1="1531.7" x2="643.7" y2="1740" stroke="#ef4b24" stroke-opacity="0.80" stroke-width="2.34"/>
<line x1="526.7" y1="1531.7" x2="665.1" y2="1695.5" stroke="#ef4b24" stroke-opacity="0.76" stroke-width="2.03"/>
<line x1="526.7" y1="1531.7" x2="510" y2="1791.9" stroke="#ef4b24" stroke-opacity="0.80" stroke-width="2.03"/>
<line x1="510" y1="1791.9" x2="643.7" y2="1740" stroke="#ef4b24" stroke-opacity="0.80" stroke-width="2.03"/>
<line x1="510" y1="1791.9" x2="665.1" y2="1695.5" stroke="#ef4b24" stroke-opacity="0.76" stroke-width="1.87"/>
<line x1="463.2" y1="1773.7" x2="643.7" y2="1740" stroke="#ef4b24" stroke-opacity="0.71" stroke-width="1.56"/>
<line x1="463.2" y1="1773.7" x2="665.1" y2="1695.5" stroke="#ef4b24" stroke-opacity="0.67" stroke-width="1.25"/>
<line x1="405.1" y1="1630.1" x2="643.7" y2="1740" stroke="#ef4b24" stroke-opacity="0.71" stroke-width="1.56"/>
<line x1="405.1" y1="1630.1" x2="665.1" y2="1695.5" stroke="#ef4b24" stroke-opacity="0.63" stroke-width="1.25"/>
<line x1="405.1" y1="1630.1" x2="463.2" y2="1773.7" stroke="#ef4b24" stroke-opacity="0.59" stroke-width="1.17"/>
<line x1="405.1" y1="1630.1" x2="510" y2="1791.9" stroke="#ef4b24" stroke-opacity="0.59" stroke-width="1.09"/>
<line x1="405.1" y1="1695.5" x2="665.1" y2="1695.5" stroke="#ef4b24" stroke-opacity="0.67" stroke-width="1.40"/>
<line x1="405.1" y1="1695.5" x2="643.7" y2="1740" stroke="#ef4b24" stroke-opacity="0.59" stroke-width="1.01"/>
<line x1="405.1" y1="1630.1" x2="665.1" y2="1630.1" stroke="#ef4b24" stroke-opacity="0.55" stroke-width="1.09"/>
<line x1="526.7" y1="1531.7" x2="463.2" y2="1773.7" stroke="#ef4b24" stroke-opacity="0.63" stroke-width="1.17"/>
<line x1="526.7" y1="1531.7" x2="437.3" y2="1752.7" stroke="#ef4b24" stroke-opacity="0.59" stroke-width="1.09"/>
<line x1="493.6" y1="1537.8" x2="510" y2="1791.9" stroke="#ef4b24" stroke-opacity="0.67" stroke-width="1.25"/>
<line x1="632.9" y1="1572.9" x2="643.7" y2="1740" stroke="#ef4b24" stroke-opacity="0.63" stroke-width="1.17"/>
<line x1="643.7" y1="1585.6" x2="665.1" y2="1695.5" stroke="#ef4b24" stroke-opacity="0.59" stroke-width="1.01"/>
<line x1="665.1" y1="1630.1" x2="665.1" y2="1695.5" stroke="#ef4b24" stroke-opacity="0.67" stroke-width="1.56"/>
<line x1="665.1" y1="1695.5" x2="643.7" y2="1740" stroke="#ef4b24" stroke-opacity="0.59" stroke-width="1.09"/>
<line x1="510" y1="1533.7" x2="510" y2="1791.9" stroke="#ef4b24" stroke-opacity="0.59" stroke-width="1.09"/>
<line x1="510" y1="1533.7" x2="463.2" y2="1773.7" stroke="#ef4b24" stroke-opacity="0.55" stroke-width="0.94"/>
<line x1="510" y1="1791.9" x2="665.1" y2="1630.1" stroke="#ef4b24" stroke-opacity="0.55" stroke-width="1.01"/>
<line x1="463.2" y1="1773.7" x2="510" y2="1791.9" stroke="#ef4b24" stroke-opacity="0.71" stroke-width="1.40"/>
<line x1="510" y1="1791.9" x2="652.7" y2="1726.1" stroke="#ef4b24" stroke-opacity="0.63" stroke-width="1.09"/>
<line x1="463.2" y1="1773.7" x2="652.7" y2="1726.1" stroke="#ef4b24" stroke-opacity="0.59" stroke-width="1.09"/>
<line x1="526.7" y1="1531.7" x2="632.9" y2="1572.9" stroke="#ef4b24" stroke-opacity="0.50" stroke-width="0.94"/>
<line x1="510" y1="1533.7" x2="643.7" y2="1740" stroke="#ef4b24" stroke-opacity="0.50" stroke-width="0.94"/>
<line x1="463.2" y1="1551.9" x2="643.7" y2="1740" stroke="#ef4b24" stroke-opacity="0.50" stroke-width="0.94"/>
<line x1="405.1" y1="1695.5" x2="665.1" y2="1630.1" stroke="#ef4b24" stroke-opacity="0.42" stroke-width="0.78"/>
<line x1="437.3" y1="1752.7" x2="526.7" y2="1531.7" stroke="#ef4b24" stroke-opacity="0.50" stroke-width="0.94"/>
<line x1="405.1" y1="1630.1" x2="632.9" y2="1572.9" stroke="#ef4b24" stroke-opacity="0.42" stroke-width="0.78"/>
<line x1="493.6" y1="1537.8" x2="437.3" y2="1752.7" stroke="#ef4b24" stroke-opacity="0.46" stroke-width="0.78"/>
<line x1="463.2" y1="1551.9" x2="437.3" y2="1752.7" stroke="#ef4b24" stroke-opacity="0.46" stroke-width="0.78"/>
<g fill="#000"><circle cx="669.3" cy="1662.8" r="0.95"/><circle cx="668.2" cy="1646.3" r="0.95"/><circle cx="665.1" cy="1630.1" r="1.75"/><circle cx="659.9" cy="1614.4" r="1.35"/><circle cx="652.7" cy="1599.5" r="0.95"/><circle cx="643.7" cy="1585.6" r="1.35"/><circle cx="632.9" cy="1572.9" r="1.35"/><circle cx="620.6" cy="1561.6" r="0.95"/><circle cx="607" cy="1551.9" r="0.95"/><circle cx="592.2" cy="1543.9" r="0.95"/><circle cx="576.6" cy="1537.8" r="0.95"/><circle cx="560.2" cy="1533.7" r="0.95"/><circle cx="543.5" cy="1531.7" r="0.95"/><circle cx="526.7" cy="1531.7" r="2.15"/><circle cx="510" cy="1533.7" r="1.75"/><circle cx="493.6" cy="1537.8" r="1.35"/><circle cx="478" cy="1543.9" r="0.95"/><circle cx="463.2" cy="1551.9" r="1.35"/><circle cx="449.6" cy="1561.6" r="0.95"/><circle cx="437.3" cy="1572.9" r="0.95"/><circle cx="426.5" cy="1585.6" r="0.95"/><circle cx="417.5" cy="1599.5" r="0.95"/><circle cx="410.3" cy="1614.4" r="0.95"/><circle cx="405.1" cy="1630.1" r="1.75"/><circle cx="402" cy="1646.3" r="0.95"/><circle cx="400.9" cy="1662.8" r="0.95"/><circle cx="402" cy="1679.3" r="0.95"/><circle cx="405.1" cy="1695.5" r="1.75"/><circle cx="410.3" cy="1711.2" r="0.95"/><circle cx="417.5" cy="1726.1" r="0.95"/><circle cx="426.5" cy="1740" r="0.95"/><circle cx="437.3" cy="1752.7" r="1.35"/><circle cx="449.6" cy="1764" r="0.95"/><circle cx="463.2" cy="1773.7" r="1.75"/><circle cx="478" cy="1781.7" r="0.95"/><circle cx="493.6" cy="1787.8" r="0.95"/><circle cx="510" cy="1791.9" r="2.15"/><circle cx="526.7" cy="1793.9" r="0.95"/><circle cx="543.5" cy="1793.9" r="1.35"/><circle cx="560.2" cy="1791.9" r="1.75"/><circle cx="576.6" cy="1787.8" r="1.35"/><circle cx="592.2" cy="1781.7" r="0.95"/><circle cx="607" cy="1773.7" r="0.95"/><circle cx="620.6" cy="1764" r="0.95"/><circle cx="632.9" cy="1752.7" r="0.95"/><circle cx="643.7" cy="1740" r="2.15"/><circle cx="652.7" cy="1726.1" r="1.35"/><circle cx="659.9" cy="1711.2" r="0.95"/><circle cx="665.1" cy="1695.5" r="2.15"/><circle cx="668.2" cy="1679.3" r="1.35"/></g>
<g font-weight="normal" fill="#000"><text transform="translate(672.9,1662.8) rotate(-0.0) translate(0,1.6)" font-size="4.5">Rgs9</text><text transform="translate(671.5,1644.7) rotate(-26.8) translate(0,1.6)" font-size="4.5">Adcy5</text><text transform="translate(667.9,1627.3) rotate(-45.8) translate(0,2.5)" font-size="7.2">Foxo1</text><text transform="translate(661.9,1611.2) rotate(-57.7) translate(0,2)" font-size="5.8">Car12</text><text transform="translate(654.2,1596.2) rotate(-65.5) translate(0,1.6)" font-size="4.5">Gnal</text><text transform="translate(644.9,1582) rotate(-71.0) translate(0,2)" font-size="5.8">Thsd7a</text><text transform="translate(633.9,1569.2) rotate(-75.1) translate(0,2)" font-size="5.8">Zswim6</text><text transform="translate(621.4,1558) rotate(-78.3) translate(0,1.6)" font-size="4.5">Rasd2</text><text transform="translate(607.6,1548.3) rotate(-81.0) translate(0,1.6)" font-size="4.5">Pde1b</text><text transform="translate(592.7,1540.3) rotate(-83.3) translate(0,1.6)" font-size="4.5">Kcnk4</text><text transform="translate(576.9,1534.2) rotate(-85.4) translate(0,1.6)" font-size="4.5">Slc35d3</text><text transform="translate(560.4,1530.1) rotate(-87.3) translate(0,1.6)" font-size="4.5">Gpr6</text><text transform="translate(543.6,1528.1) rotate(-89.1) translate(0,1.6)" font-size="4.5">Arpp21</text><text transform="translate(526.6,1527.1) rotate(-90.9) translate(0,3.7)" font-size="10.5" font-weight="bold">Scn4b</text><text transform="translate(509.8,1529.7) rotate(-92.7) translate(0,2.5)" font-size="7.2">Gsg1l</text><text transform="translate(493.3,1534) rotate(-94.6) translate(0,2)" font-size="5.8">Inf2</text><text transform="translate(477.5,1540.3) rotate(-96.7) translate(0,1.6)" font-size="4.5">Cacng4</text><text transform="translate(462.6,1548.1) rotate(-99.0) translate(0,2)" font-size="5.8">Tnik</text><text transform="translate(448.8,1558) rotate(-101.7) translate(0,1.6)" font-size="4.5">Pde10a</text><text transform="translate(436.3,1569.4) rotate(-104.9) translate(0,1.6)" font-size="4.5">Grik2</text><text transform="translate(425.4,1582.2) rotate(-109.0) translate(0,1.6)" font-size="4.5">Ppp1r1b</text><text transform="translate(416,1596.2) rotate(-114.5) translate(0,1.6)" font-size="4.5">Gng7</text><text transform="translate(408.4,1611.4) rotate(-122.3) translate(0,1.6)" font-size="4.5">Igf1</text><text transform="translate(402.3,1627.3) rotate(-134.2) translate(0,2.5)" font-size="7.2">Ror1</text><text transform="translate(398.7,1644.7) rotate(-153.2) translate(0,1.6)" font-size="4.5">Wnt2</text><text transform="translate(397.3,1662.8) rotate(-180.0) translate(0,1.6)" font-size="4.5">Pdgfc</text><text transform="translate(398.7,1680.9) rotate(-26.8) translate(0,1.6)" font-size="4.5" text-anchor="end">Gpr88</text><text transform="translate(402.3,1698.3) rotate(-45.8) translate(0,2.5)" font-size="7.2" text-anchor="end">Rap1gap</text><text transform="translate(408.4,1714.2) rotate(-57.7) translate(0,1.6)" font-size="4.5" text-anchor="end">Sgk3</text><text transform="translate(416,1729.4) rotate(-65.5) translate(0,1.6)" font-size="4.5" text-anchor="end">Adora2a</text><text transform="translate(425.4,1743.4) rotate(-71.0) translate(0,1.6)" font-size="4.5" text-anchor="end">Ptpn5</text><text transform="translate(436.3,1756.4) rotate(-75.1) translate(0,2)" font-size="5.8" text-anchor="end">Acvr1c</text><text transform="translate(448.8,1767.6) rotate(-78.3) translate(0,1.6)" font-size="4.5" text-anchor="end">Penk</text><text transform="translate(462.6,1777.7) rotate(-81.0) translate(0,2.5)" font-size="7.2" text-anchor="end">Syndig1l</text><text transform="translate(477.5,1785.3) rotate(-83.3) translate(0,1.6)" font-size="4.5" text-anchor="end">Gabrd</text><text transform="translate(493.3,1791.4) rotate(-85.4) translate(0,1.6)" font-size="4.5" text-anchor="end">Bcl11b</text><text transform="translate(509.7,1796.5) rotate(-87.3) translate(0,3.7)" font-size="10.5" font-weight="bold" text-anchor="end">Strn</text><text transform="translate(526.6,1797.5) rotate(-89.1) translate(0,1.6)" font-size="4.5" text-anchor="end">Ebf1</text><text transform="translate(543.6,1797.7) rotate(-90.9) translate(0,2)" font-size="5.8" text-anchor="end">Camk2b</text><text transform="translate(560.4,1795.9) rotate(-92.7) translate(0,2.5)" font-size="7.2" text-anchor="end">Cdc88c</text><text transform="translate(576.9,1791.6) rotate(-94.6) translate(0,2)" font-size="5.8" text-anchor="end">Npas2</text><text transform="translate(592.7,1785.3) rotate(-96.7) translate(0,1.6)" font-size="4.5" text-anchor="end">Tac1</text><text transform="translate(607.6,1777.3) rotate(-99.0) translate(0,1.6)" font-size="4.5" text-anchor="end">Rarb</text><text transform="translate(621.4,1767.6) rotate(-101.7) translate(0,1.6)" font-size="4.5" text-anchor="end">Drd1</text><text transform="translate(633.9,1756.2) rotate(-104.9) translate(0,1.6)" font-size="4.5" text-anchor="end">Plp1</text><text transform="translate(645.2,1744.4) rotate(-109.0) translate(0,3.7)" font-size="10.5" font-weight="bold" text-anchor="end">Rasgrp2</text><text transform="translate(654.3,1729.6) rotate(-114.5) translate(0,2)" font-size="5.8" text-anchor="end">Pard3</text><text transform="translate(661.8,1714.2) rotate(-122.3) translate(0,1.6)" font-size="4.5" text-anchor="end">Mog</text><text transform="translate(668.3,1698.8) rotate(-134.2) translate(0,3.7)" font-size="10.5" font-weight="bold" text-anchor="end">Mlrf</text><text transform="translate(671.6,1681) rotate(-153.2) translate(0,2)" font-size="5.8" text-anchor="end">Ppp4r4</text></g>
<polygon points="982.6,1662.9 981.5,1646.4 978.4,1630.2 973.2,1614.5 966,1599.6 957,1585.7 946.2,1573 933.9,1561.7 920.3,1552 905.5,1544 889.9,1537.9 873.5,1533.8 856.8,1531.8 840,1531.8 823.3,1533.8 806.9,1537.9 791.3,1544 776.5,1552 762.9,1561.7 750.6,1573 739.8,1585.7 730.8,1599.6 723.6,1614.5 718.4,1630.2 715.3,1646.4 714.2,1662.9 715.3,1679.4 718.4,1695.6 723.6,1711.3 730.8,1726.2 739.8,1740.1 750.6,1752.8 762.9,1764.1 776.5,1773.8 791.3,1781.8 806.9,1787.9 823.3,1792 840,1794 856.8,1794 873.5,1792 889.9,1787.9 905.5,1781.8 920.3,1773.8 933.9,1764.1 946.2,1752.8 957,1740.1 966,1726.2 973.2,1711.3 978.4,1695.6 981.5,1679.4" fill="#ef4b24" fill-opacity="0.015" stroke="#ef4b24" stroke-opacity="0.04" stroke-width="1.5"/>
<path d="M973.2 1711.3L966 1726.2M714.2 1662.9L718.4 1695.6M889.9 1537.9L966 1726.2M973.2 1711.3L840 1531.8M723.6 1614.5L718.4 1695.6M762.9 1561.7L715.3 1646.4M981.5 1679.4L905.5 1781.8M946.2 1573L762.9 1764.1M946.2 1752.8L806.9 1537.9M776.5 1552L966 1726.2" stroke="#ef4b24" stroke-opacity="0.020" stroke-width="0.96" fill="none"/>
<path d="M978.4 1630.2L966 1599.6M714.2 1662.9L966 1726.2M723.6 1614.5L840 1794M750.6 1752.8L723.6 1614.5M905.5 1544L966 1599.6M920.3 1773.8L823.3 1533.8M730.8 1726.2L946.2 1573M718.4 1630.2L840 1531.8M776.5 1773.8L920.3 1773.8M966 1726.2L715.3 1679.4" stroke="#ef4b24" stroke-opacity="0.022" stroke-width="0.98" fill="none"/>
<path d="M946.2 1752.8L856.8 1794M715.3 1679.4L946.2 1752.8M981.5 1646.4L750.6 1573M981.5 1646.4L730.8 1726.2M920.3 1773.8L750.6 1573M718.4 1695.6L714.2 1662.9M718.4 1630.2L981.5 1646.4M730.8 1726.2L714.2 1662.9M776.5 1773.8L739.8 1585.7M823.3 1792L966 1726.2" stroke="#ef4b24" stroke-opacity="0.025" stroke-width="0.93" fill="none"/>
<path d="M791.3 1781.8L806.9 1537.9M762.9 1561.7L966 1726.2M920.3 1552L806.9 1787.9M946.2 1573L978.4 1630.2M718.4 1695.6L966 1726.2M973.2 1711.3L933.9 1764.1M750.6 1752.8L966 1726.2M889.9 1537.9L973.2 1711.3M957 1740.1L966 1599.6" stroke="#ef4b24" stroke-opacity="0.027" stroke-width="0.99" fill="none"/>
<path d="M750.6 1752.8L762.9 1764.1M966 1726.2L714.2 1662.9M966 1599.6L973.2 1711.3M978.4 1630.2L933.9 1561.7M762.9 1764.1L806.9 1537.9M966 1726.2L946.2 1752.8M905.5 1544L718.4 1695.6M973.2 1614.5L982.6 1662.9M776.5 1773.8L739.8 1585.7" stroke="#ef4b24" stroke-opacity="0.030" stroke-width="0.79" fill="none"/>
<path d="M739.8 1740.1L933.9 1561.7M730.8 1726.2L966 1726.2M981.5 1646.4L856.8 1794M966 1599.6L776.5 1773.8M978.4 1695.6L750.6 1573M806.9 1537.9L856.8 1531.8M714.2 1662.9L730.8 1599.6M714.2 1662.9L957 1740.1M718.4 1695.6L957 1740.1" stroke="#ef4b24" stroke-opacity="0.032" stroke-width="0.89" fill="none"/>
<path d="M718.4 1630.2L730.8 1599.6M856.8 1794L714.2 1662.9M981.5 1646.4L840 1531.8M718.4 1695.6L978.4 1695.6M981.5 1646.4L806.9 1787.9M714.2 1662.9L840 1531.8M840 1794L966 1726.2M791.3 1781.8L889.9 1787.9M920.3 1773.8L776.5 1773.8" stroke="#ef4b24" stroke-opacity="0.034" stroke-width="0.90" fill="none"/>
<path d="M856.8 1794L981.5 1679.4M873.5 1533.8L791.3 1544M933.9 1764.1L933.9 1561.7M966 1726.2L981.5 1679.4M957 1585.7L806.9 1537.9M718.4 1630.2L806.9 1787.9M840 1794L714.2 1662.9M714.2 1662.9L806.9 1787.9M806.9 1537.9L856.8 1531.8" stroke="#ef4b24" stroke-opacity="0.037" stroke-width="0.81" fill="none"/>
<path d="M966 1726.2L723.6 1711.3M823.3 1792L920.3 1552M905.5 1544L823.3 1792M856.8 1531.8L715.3 1646.4M957 1740.1L806.9 1787.9M966 1726.2L739.8 1740.1M973.2 1711.3L776.5 1552M776.5 1552L823.3 1533.8M715.3 1646.4L856.8 1531.8" stroke="#ef4b24" stroke-opacity="0.039" stroke-width="0.82" fill="none"/>
<path d="M715.3 1646.4L823.3 1533.8M966 1726.2L823.3 1533.8M739.8 1585.7L978.4 1630.2M840 1531.8L750.6 1752.8M982.6 1662.9L715.3 1646.4M933.9 1764.1L966 1599.6M873.5 1792L791.3 1781.8M715.3 1679.4L981.5 1646.4M823.3 1533.8L973.2 1711.3" stroke="#ef4b24" stroke-opacity="0.042" stroke-width="0.75" fill="none"/>
<path d="M978.4 1630.2L981.5 1646.4M966 1726.2L806.9 1537.9M981.5 1679.4L933.9 1561.7M776.5 1773.8L920.3 1773.8M723.6 1614.5L714.2 1662.9M762.9 1561.7L981.5 1679.4M889.9 1787.9L957 1740.1M973.2 1614.5L873.5 1792M957 1585.7L933.9 1764.1" stroke="#ef4b24" stroke-opacity="0.044" stroke-width="0.99" fill="none"/>
<path d="M714.2 1662.9L791.3 1544M973.2 1711.3L840 1794M978.4 1630.2L776.5 1552M840 1794L840 1531.8M889.9 1537.9L739.8 1740.1M946.2 1573L723.6 1614.5M873.5 1533.8L762.9 1764.1M920.3 1552L873.5 1792M739.8 1585.7L750.6 1573" stroke="#ef4b24" stroke-opacity="0.046" stroke-width="0.81" fill="none"/>
<path d="M739.8 1585.7L966 1726.2M715.3 1679.4L718.4 1695.6M762.9 1764.1L873.5 1792M723.6 1614.5L718.4 1695.6M973.2 1614.5L806.9 1537.9M973.2 1614.5L966 1599.6M730.8 1599.6L791.3 1781.8M905.5 1781.8L730.8 1599.6M791.3 1544L973.2 1614.5" stroke="#ef4b24" stroke-opacity="0.049" stroke-width="0.84" fill="none"/>
<path d="M718.4 1695.6L730.8 1726.2M776.5 1773.8L739.8 1740.1M957 1585.7L776.5 1552M982.6 1662.9L978.4 1630.2M750.6 1573L966 1726.2M966 1726.2L981.5 1679.4M978.4 1695.6L776.5 1773.8M806.9 1787.9L920.3 1773.8M715.3 1646.4L920.3 1552" stroke="#ef4b24" stroke-opacity="0.051" stroke-width="0.97" fill="none"/>
<path d="M856.8 1531.8L981.5 1646.4M791.3 1544L889.9 1537.9M981.5 1646.4L715.3 1646.4M730.8 1599.6L957 1585.7M973.2 1614.5L889.9 1787.9M776.5 1773.8L946.2 1573M982.6 1662.9L714.2 1662.9M957 1740.1L946.2 1573M718.4 1630.2L806.9 1537.9" stroke="#ef4b24" stroke-opacity="0.053" stroke-width="0.76" fill="none"/>
<path d="M791.3 1544L946.2 1573M718.4 1695.6L966 1726.2M889.9 1787.9L873.5 1792M856.8 1794L856.8 1531.8M905.5 1544L730.8 1726.2M806.9 1537.9L856.8 1531.8M840 1794L966 1726.2M933.9 1561.7L739.8 1585.7" stroke="#ef4b24" stroke-opacity="0.056" stroke-width="0.99" fill="none"/>
<path d="M718.4 1695.6L981.5 1679.4M776.5 1773.8L973.2 1614.5M966 1726.2L889.9 1787.9M957 1585.7L905.5 1544M739.8 1585.7L714.2 1662.9M791.3 1781.8L806.9 1787.9M776.5 1773.8L933.9 1764.1M714.2 1662.9L806.9 1537.9M718.4 1630.2L776.5 1773.8" stroke="#ef4b24" stroke-opacity="0.058" stroke-width="0.74" fill="none"/>
<path d="M806.9 1787.9L905.5 1544M946.2 1752.8L856.8 1794M957 1740.1L840 1794M856.8 1531.8L873.5 1533.8M873.5 1792L730.8 1599.6M718.4 1630.2L718.4 1695.6M981.5 1646.4L966 1726.2M982.6 1662.9L730.8 1726.2M966 1726.2L791.3 1544" stroke="#ef4b24" stroke-opacity="0.061" stroke-width="0.71" fill="none"/>
<path d="M966 1726.2L920.3 1773.8M966 1726.2L905.5 1544M714.2 1662.9L873.5 1533.8M718.4 1695.6L714.2 1662.9M957 1585.7L718.4 1695.6M856.8 1794L750.6 1752.8M973.2 1711.3L750.6 1573M957 1585.7L856.8 1531.8" stroke="#ef4b24" stroke-opacity="0.063" stroke-width="0.81" fill="none"/>
<path d="M856.8 1794L966 1726.2M873.5 1792L978.4 1630.2M791.3 1781.8L791.3 1544M806.9 1537.9L776.5 1773.8M973.2 1614.5L957 1740.1M966 1726.2L889.9 1787.9M718.4 1695.6L739.8 1585.7M905.5 1544L806.9 1787.9" stroke="#ef4b24" stroke-opacity="0.065" stroke-width="0.81" fill="none"/>
<path d="M889.9 1787.9L920.3 1773.8M776.5 1773.8L823.3 1533.8M957 1585.7L715.3 1646.4M889.9 1537.9L966 1726.2M776.5 1773.8L973.2 1711.3M966 1599.6L718.4 1695.6M957 1585.7L933.9 1764.1M715.3 1646.4L966 1726.2M750.6 1573L762.9 1561.7" stroke="#ef4b24" stroke-opacity="0.068" stroke-width="0.98" fill="none"/>
<path d="M762.9 1561.7L978.4 1695.6M873.5 1533.8L966 1726.2M966 1726.2L946.2 1573M973.2 1711.3L856.8 1794M823.3 1792L981.5 1646.4M840 1794L840 1531.8M889.9 1787.9L889.9 1537.9M806.9 1537.9L776.5 1773.8M920.3 1773.8L856.8 1531.8" stroke="#ef4b24" stroke-opacity="0.070" stroke-width="0.96" fill="none"/>
<path d="M973.2 1711.3L933.9 1561.7M957 1585.7L718.4 1695.6M739.8 1740.1L739.8 1585.7M718.4 1630.2L718.4 1695.6M791.3 1781.8L905.5 1781.8M966 1726.2L714.2 1662.9M873.5 1792L739.8 1740.1M714.2 1662.9L718.4 1695.6M933.9 1764.1L776.5 1773.8" stroke="#ef4b24" stroke-opacity="0.073" stroke-width="0.93" fill="none"/>
<path d="M873.5 1792L840 1794M957 1740.1L856.8 1531.8M718.4 1695.6L946.2 1573M739.8 1740.1L978.4 1630.2M856.8 1794L715.3 1679.4M823.3 1792L730.8 1599.6M905.5 1544L933.9 1764.1M966 1726.2L973.2 1614.5M730.8 1599.6L946.2 1752.8" stroke="#ef4b24" stroke-opacity="0.075" stroke-width="0.83" fill="none"/>
<path d="M723.6 1711.3L856.8 1531.8" stroke="#ef4b24" stroke-opacity="0.200" stroke-width="1.00" fill="none"/>
<path d="M946.2 1752.8L739.8 1585.7" stroke="#ef4b24" stroke-opacity="0.213" stroke-width="1.07" fill="none"/>
<path d="M806.9 1537.9L776.5 1773.8" stroke="#ef4b24" stroke-opacity="0.227" stroke-width="1.00" fill="none"/>
<path d="M933.9 1561.7L791.3 1544" stroke="#ef4b24" stroke-opacity="0.240" stroke-width="1.04" fill="none"/>
<path d="M966 1726.2L966 1599.6" stroke="#ef4b24" stroke-opacity="0.253" stroke-width="1.00" fill="none"/>
<path d="M946.2 1573L889.9 1537.9" stroke="#ef4b24" stroke-opacity="0.267" stroke-width="1.00" fill="none"/>
<line x1="806.9" y1="1537.9" x2="966" y2="1726.2" stroke="#ef4b24" stroke-opacity="0.80" stroke-width="2.34"/>
<line x1="946.2" y1="1573" x2="966" y2="1726.2" stroke="#ef4b24" stroke-opacity="0.80" stroke-width="2.34"/>
<line x1="957" y1="1585.7" x2="966" y2="1726.2" stroke="#ef4b24" stroke-opacity="0.67" stroke-width="1.17"/>
<line x1="714.2" y1="1662.9" x2="966" y2="1726.2" stroke="#ef4b24" stroke-opacity="0.67" stroke-width="1.40"/>
<line x1="750.6" y1="1573" x2="966" y2="1726.2" stroke="#ef4b24" stroke-opacity="0.63" stroke-width="1.09"/>
<line x1="806.9" y1="1537.9" x2="946.2" y2="1573" stroke="#ef4b24" stroke-opacity="0.50" stroke-width="0.94"/>
<line x1="791.3" y1="1544" x2="723.6" y2="1614.5" stroke="#ef4b24" stroke-opacity="0.59" stroke-width="1.17"/>
<line x1="750.6" y1="1573" x2="714.2" y2="1662.9" stroke="#ef4b24" stroke-opacity="0.42" stroke-width="0.78"/>
<line x1="978.4" y1="1630.2" x2="873.5" y2="1792" stroke="#ef4b24" stroke-opacity="0.50" stroke-width="0.94"/>
<line x1="966" y1="1726.2" x2="856.8" y2="1794" stroke="#ef4b24" stroke-opacity="0.55" stroke-width="1.01"/>
<line x1="750.6" y1="1573" x2="946.2" y2="1573" stroke="#ef4b24" stroke-opacity="0.38" stroke-width="0.78"/>
<line x1="978.4" y1="1630.2" x2="966" y2="1726.2" stroke="#ef4b24" stroke-opacity="0.42" stroke-width="0.78"/>
<line x1="823.3" y1="1792" x2="978.4" y2="1630.2" stroke="#ef4b24" stroke-opacity="0.34" stroke-width="0.70"/>
<line x1="776.5" y1="1773.8" x2="957" y2="1740.1" stroke="#ef4b24" stroke-opacity="0.34" stroke-width="0.70"/>
<g fill="#000"><circle cx="982.6" cy="1662.9" r="0.95"/><circle cx="981.5" cy="1646.4" r="0.95"/><circle cx="978.4" cy="1630.2" r="1.75"/><circle cx="973.2" cy="1614.5" r="0.95"/><circle cx="966" cy="1599.6" r="0.95"/><circle cx="957" cy="1585.7" r="1.75"/><circle cx="946.2" cy="1573" r="1.75"/><circle cx="933.9" cy="1561.7" r="0.95"/><circle cx="920.3" cy="1552" r="0.95"/><circle cx="905.5" cy="1544" r="0.95"/><circle cx="889.9" cy="1537.9" r="0.95"/><circle cx="873.5" cy="1533.8" r="0.95"/><circle cx="856.8" cy="1531.8" r="0.95"/><circle cx="840" cy="1531.8" r="0.95"/><circle cx="823.3" cy="1533.8" r="0.95"/><circle cx="806.9" cy="1537.9" r="1.75"/><circle cx="791.3" cy="1544" r="1.35"/><circle cx="776.5" cy="1552" r="0.95"/><circle cx="762.9" cy="1561.7" r="0.95"/><circle cx="750.6" cy="1573" r="1.35"/><circle cx="739.8" cy="1585.7" r="0.95"/><circle cx="730.8" cy="1599.6" r="0.95"/><circle cx="723.6" cy="1614.5" r="1.35"/><circle cx="718.4" cy="1630.2" r="0.95"/><circle cx="715.3" cy="1646.4" r="0.95"/><circle cx="714.2" cy="1662.9" r="1.35"/><circle cx="715.3" cy="1679.4" r="0.95"/><circle cx="718.4" cy="1695.6" r="1.35"/><circle cx="723.6" cy="1711.3" r="0.95"/><circle cx="730.8" cy="1726.2" r="0.95"/><circle cx="739.8" cy="1740.1" r="0.95"/><circle cx="750.6" cy="1752.8" r="1.35"/><circle cx="762.9" cy="1764.1" r="0.95"/><circle cx="776.5" cy="1773.8" r="1.75"/><circle cx="791.3" cy="1781.8" r="0.95"/><circle cx="806.9" cy="1787.9" r="0.95"/><circle cx="823.3" cy="1792" r="1.75"/><circle cx="840" cy="1794" r="0.95"/><circle cx="856.8" cy="1794" r="1.35"/><circle cx="873.5" cy="1792" r="1.75"/><circle cx="889.9" cy="1787.9" r="0.95"/><circle cx="905.5" cy="1781.8" r="0.95"/><circle cx="920.3" cy="1773.8" r="0.95"/><circle cx="933.9" cy="1764.1" r="0.95"/><circle cx="946.2" cy="1752.8" r="0.95"/><circle cx="957" cy="1740.1" r="1.35"/><circle cx="966" cy="1726.2" r="2.15"/><circle cx="973.2" cy="1711.3" r="0.95"/><circle cx="978.4" cy="1695.6" r="0.95"/><circle cx="981.5" cy="1679.4" r="0.95"/></g>
<g font-weight="normal" fill="#000"><text transform="translate(986.2,1662.9) rotate(-0.0) translate(0,1.6)" font-size="4.5">Rgs9</text><text transform="translate(984.8,1644.8) rotate(-26.8) translate(0,1.6)" font-size="4.5">Adcy5</text><text transform="translate(981.2,1627.4) rotate(-45.8) translate(0,2.5)" font-size="7.2">Foxo1</text><text transform="translate(975.1,1611.5) rotate(-57.7) translate(0,1.6)" font-size="4.5">Car12</text><text transform="translate(967.5,1596.3) rotate(-65.5) translate(0,1.6)" font-size="4.5">Gnal</text><text transform="translate(958.3,1581.9) rotate(-71.0) translate(0,2.5)" font-size="7.2">Thsd7a</text><text transform="translate(947.3,1569.1) rotate(-75.1) translate(0,2.5)" font-size="7.2">Zswim6</text><text transform="translate(934.7,1558.1) rotate(-78.3) translate(0,1.6)" font-size="4.5">Rasd2</text><text transform="translate(920.9,1548.4) rotate(-81.0) translate(0,1.6)" font-size="4.5">Pde1b</text><text transform="translate(906,1540.4) rotate(-83.3) translate(0,1.6)" font-size="4.5">Kcnk4</text><text transform="translate(890.2,1534.3) rotate(-85.4) translate(0,1.6)" font-size="4.5">Slc35d3</text><text transform="translate(873.7,1530.2) rotate(-87.3) translate(0,1.6)" font-size="4.5">Gpr6</text><text transform="translate(856.9,1528.2) rotate(-89.1) translate(0,1.6)" font-size="4.5">Arpp21</text><text transform="translate(839.9,1528.2) rotate(-90.9) translate(0,1.6)" font-size="4.5">Scn4b</text><text transform="translate(823.1,1530.2) rotate(-92.7) translate(0,1.6)" font-size="4.5">Gsg1l</text><text transform="translate(806.6,1533.9) rotate(-94.6) translate(0,2.5)" font-size="7.2">Inf2</text><text transform="translate(790.8,1540.2) rotate(-96.7) translate(0,2)" font-size="5.8">Cacng4</text><text transform="translate(775.9,1548.4) rotate(-99.0) translate(0,1.6)" font-size="4.5">Tnik</text><text transform="translate(762.1,1558.1) rotate(-101.7) translate(0,1.6)" font-size="4.5">Pde10a</text><text transform="translate(749.6,1569.3) rotate(-104.9) translate(0,2)" font-size="5.8">Grik2</text><text transform="translate(738.7,1582.3) rotate(-109.0) translate(0,1.6)" font-size="4.5">Ppp1r1b</text><text transform="translate(729.3,1596.3) rotate(-114.5) translate(0,1.6)" font-size="4.5">Gng7</text><text transform="translate(721.6,1611.3) rotate(-122.3) translate(0,2)" font-size="5.8">Igf1</text><text transform="translate(715.9,1627.6) rotate(-134.2) translate(0,1.6)" font-size="4.5">Ror1</text><text transform="translate(712,1644.8) rotate(-153.2) translate(0,1.6)" font-size="4.5">Wnt2</text><text transform="translate(710.4,1662.9) rotate(-180.0) translate(0,2)" font-size="5.8">Pdgfc</text><text transform="translate(712,1681) rotate(-26.8) translate(0,1.6)" font-size="4.5" text-anchor="end">Gpr88</text><text transform="translate(715.8,1698.3) rotate(-45.8) translate(0,2)" font-size="5.8" text-anchor="end">Rap1gap</text><text transform="translate(721.7,1714.3) rotate(-57.7) translate(0,1.6)" font-size="4.5" text-anchor="end">Sgk3</text><text transform="translate(729.3,1729.5) rotate(-65.5) translate(0,1.6)" font-size="4.5" text-anchor="end">Adora2a</text><text transform="translate(738.7,1743.5) rotate(-71.0) translate(0,1.6)" font-size="4.5" text-anchor="end">Ptpn5</text><text transform="translate(749.6,1756.5) rotate(-75.1) translate(0,2)" font-size="5.8" text-anchor="end">Acvr1c</text><text transform="translate(762.1,1767.7) rotate(-78.3) translate(0,1.6)" font-size="4.5" text-anchor="end">Penk</text><text transform="translate(775.9,1777.8) rotate(-81.0) translate(0,2.5)" font-size="7.2" text-anchor="end">Syndig1l</text><text transform="translate(790.8,1785.4) rotate(-83.3) translate(0,1.6)" font-size="4.5" text-anchor="end">Gabrd</text><text transform="translate(806.6,1791.5) rotate(-85.4) translate(0,1.6)" font-size="4.5" text-anchor="end">Bcl11b</text><text transform="translate(823.1,1796) rotate(-87.3) translate(0,2.5)" font-size="7.2" text-anchor="end">Strn</text><text transform="translate(839.9,1797.6) rotate(-89.1) translate(0,1.6)" font-size="4.5" text-anchor="end">Ebf1</text><text transform="translate(856.9,1797.8) rotate(-90.9) translate(0,2)" font-size="5.8" text-anchor="end">Camk2b</text><text transform="translate(873.7,1796) rotate(-92.7) translate(0,2.5)" font-size="7.2" text-anchor="end">Cdc88c</text><text transform="translate(890.2,1791.5) rotate(-94.6) translate(0,1.6)" font-size="4.5" text-anchor="end">Npas2</text><text transform="translate(906,1785.4) rotate(-96.7) translate(0,1.6)" font-size="4.5" text-anchor="end">Tac1</text><text transform="translate(920.9,1777.4) rotate(-99.0) translate(0,1.6)" font-size="4.5" text-anchor="end">Rarb</text><text transform="translate(934.7,1767.7) rotate(-101.7) translate(0,1.6)" font-size="4.5" text-anchor="end">Drd1</text><text transform="translate(947.2,1756.3) rotate(-104.9) translate(0,1.6)" font-size="4.5" text-anchor="end">Plp1</text><text transform="translate(958.2,1743.7) rotate(-109.0) translate(0,2)" font-size="5.8" text-anchor="end">Rasgrp2</text><text transform="translate(967.9,1730.4) rotate(-114.5) translate(0,3.7)" font-size="10.5" font-weight="bold" text-anchor="end">Pard3</text><text transform="translate(975.1,1714.3) rotate(-122.3) translate(0,1.6)" font-size="4.5" text-anchor="end">Mog</text><text transform="translate(980.9,1698.2) rotate(-134.2) translate(0,1.6)" font-size="4.5" text-anchor="end">Mlrf</text><text transform="translate(984.8,1681) rotate(-153.2) translate(0,1.6)" font-size="4.5" text-anchor="end">Ppp4r4</text></g>
<polygon points="1355.1,1663 1354,1646.5 1350.9,1630.3 1345.7,1614.6 1338.5,1599.7 1329.5,1585.8 1318.7,1573.1 1306.4,1561.8 1292.8,1552.1 1278,1544.1 1262.4,1538 1246,1533.9 1229.3,1531.9 1212.5,1531.9 1195.8,1533.9 1179.4,1538 1163.8,1544.1 1149,1552.1 1135.4,1561.8 1123.1,1573.1 1112.3,1585.8 1103.3,1599.7 1096.1,1614.6 1090.9,1630.3 1087.8,1646.5 1086.7,1663 1087.8,1679.5 1090.9,1695.7 1096.1,1711.4 1103.3,1726.3 1112.3,1740.2 1123.1,1752.9 1135.4,1764.2 1149,1773.9 1163.8,1781.9 1179.4,1788 1195.8,1792.1 1212.5,1794.1 1229.3,1794.1 1246,1792.1 1262.4,1788 1278,1781.9 1292.8,1773.9 1306.4,1764.2 1318.7,1752.9 1329.5,1740.2 1338.5,1726.3 1345.7,1711.4 1350.9,1695.7 1354,1679.5" fill="#ef4b24" fill-opacity="0.03" stroke="#ef4b24" stroke-opacity="0.09" stroke-width="1.5"/>
<path d="M1212.5 1531.9L1103.3 1726.3M1123.1 1752.9L1354 1679.5M1354 1679.5L1112.3 1585.8M1149 1552.1L1246 1533.9M1246 1792.1L1338.5 1726.3M1096.1 1614.6L1086.7 1663M1354 1679.5L1306.4 1764.2M1123.1 1573.1L1112.3 1585.8M1087.8 1679.5L1135.4 1764.2M1179.4 1538L1179.4 1788M1179.4 1538L1112.3 1585.8M1135.4 1764.2L1229.3 1794.1M1212.5 1794.1L1103.3 1726.3M1229.3 1794.1L1179.4 1538M1103.3 1599.7L1229.3 1531.9M1135.4 1764.2L1292.8 1773.9M1354 1679.5L1229.3 1794.1M1123.1 1573.1L1345.7 1711.4" stroke="#ef4b24" stroke-opacity="0.028" stroke-width="0.83" fill="none"/>
<path d="M1112.3 1585.8L1135.4 1764.2M1195.8 1792.1L1354 1679.5M1087.8 1646.5L1103.3 1726.3M1318.7 1752.9L1212.5 1531.9M1179.4 1788L1103.3 1726.3M1292.8 1773.9L1355.1 1663M1195.8 1533.9L1086.7 1663M1135.4 1561.8L1103.3 1599.7M1086.7 1663L1338.5 1726.3M1345.7 1614.6L1350.9 1695.7M1345.7 1711.4L1354 1646.5M1355.1 1663L1278 1781.9M1096.1 1614.6L1163.8 1781.9M1292.8 1773.9L1086.7 1663M1292.8 1773.9L1087.8 1679.5M1103.3 1726.3L1278 1544.1M1345.7 1711.4L1354 1679.5M1163.8 1544.1L1086.7 1663" stroke="#ef4b24" stroke-opacity="0.031" stroke-width="0.80" fill="none"/>
<path d="M1149 1773.9L1350.9 1630.3M1345.7 1711.4L1354 1679.5M1149 1773.9L1135.4 1764.2M1278 1544.1L1090.9 1630.3M1163.8 1544.1L1149 1552.1M1350.9 1630.3L1338.5 1599.7M1338.5 1599.7L1318.7 1752.9M1345.7 1614.6L1096.1 1711.4M1329.5 1740.2L1103.3 1726.3M1354 1679.5L1345.7 1614.6M1096.1 1711.4L1212.5 1531.9M1179.4 1788L1090.9 1695.7M1149 1552.1L1086.7 1663M1354 1679.5L1149 1552.1M1179.4 1538L1306.4 1561.8M1292.8 1552.1L1345.7 1614.6M1149 1773.9L1354 1679.5M1350.9 1695.7L1318.7 1752.9" stroke="#ef4b24" stroke-opacity="0.034" stroke-width="0.72" fill="none"/>
<path d="M1355.1 1663L1338.5 1726.3M1195.8 1792.1L1306.4 1561.8M1103.3 1726.3L1149 1773.9M1212.5 1794.1L1345.7 1614.6M1229.3 1531.9L1345.7 1614.6M1338.5 1599.7L1345.7 1614.6M1179.4 1788L1350.9 1695.7M1354 1679.5L1103.3 1599.7M1087.8 1679.5L1212.5 1794.1M1354 1679.5L1112.3 1585.8M1278 1781.9L1135.4 1561.8M1103.3 1726.3L1086.7 1663M1262.4 1788L1112.3 1585.8M1212.5 1531.9L1179.4 1538M1212.5 1794.1L1149 1773.9M1329.5 1740.2L1345.7 1614.6M1103.3 1726.3L1103.3 1599.7M1149 1552.1L1212.5 1531.9" stroke="#ef4b24" stroke-opacity="0.037" stroke-width="0.86" fill="none"/>
<path d="M1195.8 1533.9L1229.3 1531.9M1345.7 1711.4L1354 1679.5M1354 1679.5L1096.1 1711.4M1123.1 1752.9L1163.8 1544.1M1354 1679.5L1345.7 1711.4M1306.4 1764.2L1179.4 1788M1246 1792.1L1306.4 1561.8M1345.7 1711.4L1112.3 1585.8M1278 1781.9L1262.4 1788M1149 1552.1L1112.3 1585.8M1278 1544.1L1103.3 1726.3M1292.8 1552.1L1354 1679.5M1318.7 1752.9L1149 1773.9M1212.5 1794.1L1112.3 1585.8M1355.1 1663L1354 1679.5M1318.7 1752.9L1355.1 1663" stroke="#ef4b24" stroke-opacity="0.041" stroke-width="0.73" fill="none"/>
<path d="M1354 1679.5L1086.7 1663M1354 1679.5L1112.3 1740.2M1096.1 1614.6L1212.5 1794.1M1338.5 1726.3L1090.9 1630.3M1318.7 1752.9L1354 1646.5M1345.7 1614.6L1096.1 1711.4M1229.3 1794.1L1103.3 1726.3M1212.5 1794.1L1262.4 1788M1229.3 1794.1L1354 1679.5M1149 1552.1L1195.8 1792.1M1103.3 1726.3L1278 1781.9M1355.1 1663L1096.1 1711.4M1212.5 1794.1L1123.1 1573.1M1135.4 1561.8L1345.7 1614.6M1090.9 1695.7L1318.7 1573.1M1262.4 1538L1350.9 1695.7M1354 1679.5L1087.8 1679.5M1338.5 1599.7L1103.3 1726.3" stroke="#ef4b24" stroke-opacity="0.044" stroke-width="0.79" fill="none"/>
<path d="M1338.5 1726.3L1087.8 1679.5M1212.5 1794.1L1246 1533.9M1212.5 1531.9L1149 1552.1M1345.7 1711.4L1306.4 1561.8M1354 1679.5L1212.5 1794.1M1345.7 1614.6L1123.1 1752.9M1195.8 1792.1L1103.3 1726.3M1086.7 1663L1229.3 1531.9M1163.8 1781.9L1318.7 1752.9M1135.4 1561.8L1345.7 1711.4M1163.8 1781.9L1090.9 1630.3M1112.3 1585.8L1103.3 1726.3M1195.8 1792.1L1354 1679.5M1212.5 1794.1L1355.1 1663M1345.7 1614.6L1086.7 1663M1278 1781.9L1112.3 1585.8M1103.3 1726.3L1306.4 1561.8" stroke="#ef4b24" stroke-opacity="0.047" stroke-width="0.77" fill="none"/>
<path d="M1149 1773.9L1318.7 1573.1M1338.5 1726.3L1112.3 1740.2M1354 1679.5L1103.3 1726.3M1149 1552.1L1163.8 1781.9M1135.4 1561.8L1163.8 1781.9M1355.1 1663L1329.5 1585.8M1087.8 1679.5L1149 1773.9M1229.3 1531.9L1212.5 1794.1M1179.4 1538L1262.4 1788M1345.7 1614.6L1179.4 1538M1112.3 1740.2L1354 1679.5M1135.4 1764.2L1229.3 1531.9M1135.4 1764.2L1355.1 1663M1086.7 1663L1262.4 1788M1246 1533.9L1338.5 1726.3M1354 1646.5L1262.4 1538" stroke="#ef4b24" stroke-opacity="0.050" stroke-width="0.94" fill="none"/>
<path d="M1149 1773.9L1345.7 1711.4M1163.8 1544.1L1350.9 1630.3M1103.3 1726.3L1355.1 1663M1350.9 1695.7L1087.8 1646.5M1354 1679.5L1112.3 1740.2M1123.1 1752.9L1123.1 1573.1M1278 1781.9L1354 1646.5M1354 1679.5L1318.7 1573.1M1195.8 1792.1L1354 1679.5M1354 1679.5L1195.8 1792.1M1350.9 1695.7L1329.5 1585.8M1355.1 1663L1262.4 1538M1355.1 1663L1345.7 1614.6M1195.8 1792.1L1345.7 1614.6M1149 1552.1L1354 1679.5M1278 1781.9L1086.7 1663" stroke="#ef4b24" stroke-opacity="0.053" stroke-width="0.83" fill="none"/>
<path d="M1103.3 1726.3L1246 1792.1M1345.7 1711.4L1354 1679.5M1103.3 1599.7L1123.1 1752.9M1229.3 1531.9L1338.5 1599.7M1355.1 1663L1246 1792.1M1278 1544.1L1149 1552.1M1345.7 1614.6L1246 1792.1M1345.7 1711.4L1212.5 1531.9M1103.3 1726.3L1345.7 1614.6M1292.8 1773.9L1229.3 1794.1M1306.4 1764.2L1149 1773.9M1292.8 1773.9L1329.5 1585.8M1306.4 1561.8L1355.1 1663M1212.5 1531.9L1345.7 1711.4M1262.4 1788L1345.7 1711.4M1278 1544.1L1345.7 1614.6M1354 1679.5L1292.8 1773.9" stroke="#ef4b24" stroke-opacity="0.056" stroke-width="0.78" fill="none"/>
<path d="M1195.8 1792.1L1350.9 1630.3M1345.7 1614.6L1306.4 1764.2M1355.1 1663L1149 1773.9M1103.3 1726.3L1278 1544.1M1292.8 1552.1L1149 1552.1M1338.5 1599.7L1103.3 1726.3M1345.7 1711.4L1292.8 1552.1M1354 1679.5L1103.3 1726.3M1278 1544.1L1195.8 1533.9M1090.9 1695.7L1135.4 1561.8M1354 1646.5L1123.1 1573.1M1087.8 1646.5L1278 1544.1M1350.9 1630.3L1163.8 1781.9M1149 1773.9L1345.7 1711.4M1135.4 1561.8L1135.4 1764.2M1212.5 1794.1L1149 1552.1M1354 1679.5L1355.1 1663" stroke="#ef4b24" stroke-opacity="0.059" stroke-width="0.71" fill="none"/>
<path d="M1262.4 1788L1123.1 1752.9M1103.3 1599.7L1318.7 1573.1M1149 1773.9L1350.9 1630.3M1318.7 1752.9L1338.5 1726.3M1179.4 1788L1103.3 1726.3M1212.5 1794.1L1112.3 1585.8M1355.1 1663L1338.5 1726.3M1090.9 1630.3L1212.5 1794.1M1278 1544.1L1212.5 1794.1M1212.5 1794.1L1195.8 1792.1M1103.3 1599.7L1246 1792.1M1229.3 1531.9L1345.7 1614.6M1262.4 1538L1306.4 1561.8M1354 1679.5L1262.4 1538M1345.7 1711.4L1087.8 1646.5M1090.9 1630.3L1345.7 1614.6M1103.3 1726.3L1149 1773.9M1278 1544.1L1355.1 1663" stroke="#ef4b24" stroke-opacity="0.062" stroke-width="0.83" fill="none"/>
<path d="M1149 1552.1L1355.1 1663M1149 1552.1L1278 1781.9M1149 1773.9L1086.7 1663M1292.8 1552.1L1163.8 1544.1M1103.3 1599.7L1354 1679.5M1345.7 1614.6L1292.8 1552.1M1338.5 1599.7L1345.7 1711.4M1278 1544.1L1179.4 1538M1345.7 1711.4L1354 1679.5M1112.3 1740.2L1292.8 1552.1M1318.7 1752.9L1246 1792.1M1103.3 1726.3L1354 1679.5M1112.3 1585.8L1306.4 1561.8M1354 1679.5L1087.8 1679.5M1354 1679.5L1229.3 1794.1M1338.5 1726.3L1135.4 1764.2M1354 1646.5L1246 1792.1" stroke="#ef4b24" stroke-opacity="0.066" stroke-width="0.89" fill="none"/>
<path d="M1345.7 1711.4L1086.7 1663M1345.7 1711.4L1354 1646.5M1195.8 1792.1L1135.4 1561.8M1318.7 1752.9L1149 1773.9M1149 1773.9L1149 1552.1M1112.3 1585.8L1135.4 1764.2M1195.8 1792.1L1338.5 1726.3M1262.4 1538L1123.1 1752.9M1195.8 1533.9L1345.7 1711.4M1163.8 1781.9L1149 1773.9M1123.1 1752.9L1318.7 1573.1M1149 1552.1L1345.7 1711.4M1355.1 1663L1345.7 1614.6M1318.7 1752.9L1354 1679.5M1149 1552.1L1112.3 1585.8M1318.7 1752.9L1262.4 1538M1179.4 1538L1096.1 1614.6" stroke="#ef4b24" stroke-opacity="0.069" stroke-width="0.90" fill="none"/>
<path d="M1212.5 1794.1L1345.7 1711.4M1149 1773.9L1354 1646.5M1212.5 1794.1L1246 1792.1M1318.7 1752.9L1135.4 1561.8M1195.8 1533.9L1345.7 1711.4M1292.8 1773.9L1112.3 1585.8M1354 1679.5L1123.1 1752.9M1149 1552.1L1229.3 1531.9M1149 1552.1L1096.1 1614.6M1292.8 1552.1L1350.9 1695.7M1112.3 1585.8L1278 1544.1M1212.5 1794.1L1329.5 1585.8M1306.4 1561.8L1090.9 1695.7M1354 1679.5L1355.1 1663M1345.7 1614.6L1112.3 1585.8M1103.3 1726.3L1086.7 1663M1135.4 1561.8L1246 1792.1" stroke="#ef4b24" stroke-opacity="0.072" stroke-width="0.97" fill="none"/>
<path d="M1212.5 1794.1L1354 1679.5M1212.5 1794.1L1149 1552.1M1355.1 1663L1350.9 1630.3M1338.5 1599.7L1149 1552.1M1087.8 1679.5L1292.8 1773.9M1306.4 1764.2L1149 1773.9M1306.4 1764.2L1355.1 1663M1212.5 1794.1L1354 1679.5M1229.3 1794.1L1345.7 1614.6M1163.8 1781.9L1338.5 1599.7M1103.3 1726.3L1112.3 1740.2M1345.7 1711.4L1135.4 1764.2M1350.9 1630.3L1355.1 1663M1149 1552.1L1149 1773.9M1354 1679.5L1345.7 1614.6M1229.3 1794.1L1345.7 1614.6M1246 1792.1L1163.8 1544.1" stroke="#ef4b24" stroke-opacity="0.075" stroke-width="0.94" fill="none"/>
<path d="M1112.3 1585.8L1306.4 1764.2M1345.7 1711.4L1354 1679.5M1195.8 1792.1L1354 1679.5M1306.4 1764.2L1179.4 1538M1135.4 1561.8L1278 1544.1M1096.1 1614.6L1112.3 1585.8M1278 1781.9L1096.1 1711.4M1149 1552.1L1212.5 1794.1M1345.7 1614.6L1338.5 1726.3M1354 1679.5L1329.5 1585.8M1262.4 1538L1195.8 1533.9M1354 1679.5L1212.5 1794.1M1087.8 1646.5L1112.3 1585.8M1354 1679.5L1345.7 1614.6M1112.3 1740.2L1345.7 1614.6M1135.4 1561.8L1087.8 1679.5M1345.7 1614.6L1149 1552.1" stroke="#ef4b24" stroke-opacity="0.078" stroke-width="0.77" fill="none"/>
<path d="M1090.9 1630.3L1354 1679.5M1096.1 1711.4L1354 1679.5M1195.8 1533.9L1087.8 1646.5M1135.4 1561.8L1103.3 1599.7M1103.3 1726.3L1329.5 1740.2M1090.9 1695.7L1212.5 1794.1M1212.5 1794.1L1345.7 1614.6M1103.3 1599.7L1345.7 1711.4M1149 1552.1L1123.1 1573.1M1149 1552.1L1212.5 1794.1M1292.8 1773.9L1355.1 1663M1246 1792.1L1135.4 1561.8M1212.5 1794.1L1354 1646.5M1149 1552.1L1345.7 1711.4M1345.7 1614.6L1163.8 1781.9M1345.7 1614.6L1103.3 1726.3M1103.3 1599.7L1345.7 1614.6" stroke="#ef4b24" stroke-opacity="0.081" stroke-width="0.74" fill="none"/>
<path d="M1345.7 1711.4L1345.7 1614.6M1149 1552.1L1345.7 1614.6M1135.4 1764.2L1149 1552.1M1292.8 1552.1L1306.4 1764.2M1103.3 1599.7L1212.5 1794.1M1246 1792.1L1354 1679.5M1123.1 1752.9L1179.4 1538M1123.1 1752.9L1195.8 1792.1M1135.4 1764.2L1103.3 1726.3M1318.7 1752.9L1350.9 1695.7M1318.7 1752.9L1354 1679.5M1345.7 1614.6L1112.3 1585.8M1212.5 1531.9L1354 1646.5M1229.3 1794.1L1096.1 1614.6M1318.7 1573.1L1262.4 1788" stroke="#ef4b24" stroke-opacity="0.084" stroke-width="0.93" fill="none"/>
<path d="M1329.5 1585.8L1246 1533.9M1135.4 1764.2L1355.1 1663M1123.1 1573.1L1149 1552.1M1354 1679.5L1318.7 1573.1M1354 1679.5L1318.7 1752.9M1086.7 1663L1212.5 1531.9M1350.9 1630.3L1149 1552.1M1246 1533.9L1355.1 1663M1355.1 1663L1149 1552.1M1163.8 1781.9L1087.8 1646.5M1354 1679.5L1112.3 1585.8M1345.7 1711.4L1090.9 1630.3M1355.1 1663L1354 1679.5M1149 1552.1L1195.8 1792.1M1318.7 1573.1L1149 1773.9M1163.8 1781.9L1149 1773.9M1212.5 1794.1L1354 1679.5" stroke="#ef4b24" stroke-opacity="0.087" stroke-width="0.94" fill="none"/>
<path d="M1354 1679.5L1090.9 1630.3M1262.4 1538L1103.3 1599.7M1112.3 1585.8L1135.4 1764.2M1355.1 1663L1354 1679.5M1329.5 1740.2L1355.1 1663M1103.3 1726.3L1212.5 1794.1M1103.3 1726.3L1329.5 1740.2M1087.8 1679.5L1112.3 1585.8M1090.9 1630.3L1087.8 1679.5M1149 1552.1L1292.8 1552.1M1103.3 1726.3L1123.1 1752.9M1262.4 1788L1087.8 1679.5M1246 1533.9L1345.7 1614.6M1354 1679.5L1292.8 1552.1M1123.1 1752.9L1355.1 1663M1246 1533.9L1135.4 1561.8M1354 1679.5L1345.7 1711.4" stroke="#ef4b24" stroke-opacity="0.091" stroke-width="0.85" fill="none"/>
<path d="M1149 1773.9L1149 1552.1M1149 1773.9L1318.7 1573.1M1149 1552.1L1112.3 1585.8M1345.7 1711.4L1354 1679.5M1149 1773.9L1345.7 1711.4M1345.7 1614.6L1096.1 1614.6M1212.5 1531.9L1292.8 1552.1M1292.8 1552.1L1123.1 1573.1M1262.4 1538L1123.1 1752.9M1345.7 1614.6L1212.5 1794.1M1149 1773.9L1354 1679.5M1345.7 1614.6L1354 1646.5M1087.8 1679.5L1306.4 1561.8M1246 1792.1L1229.3 1794.1M1229.3 1531.9L1354 1679.5M1354 1679.5L1149 1552.1M1112.3 1585.8L1306.4 1561.8" stroke="#ef4b24" stroke-opacity="0.094" stroke-width="0.95" fill="none"/>
<path d="M1096.1 1711.4L1112.3 1585.8M1354 1646.5L1345.7 1711.4M1278 1781.9L1355.1 1663M1090.9 1630.3L1354 1679.5M1354 1646.5L1179.4 1538M1096.1 1614.6L1345.7 1711.4M1212.5 1531.9L1149 1773.9M1149 1552.1L1278 1781.9M1354 1679.5L1112.3 1585.8M1262.4 1788L1103.3 1726.3M1212.5 1794.1L1149 1552.1M1345.7 1614.6L1262.4 1538M1149 1773.9L1135.4 1561.8M1338.5 1726.3L1103.3 1726.3M1246 1533.9L1103.3 1726.3M1096.1 1614.6L1345.7 1614.6M1149 1552.1L1086.7 1663" stroke="#ef4b24" stroke-opacity="0.097" stroke-width="0.87" fill="none"/>
<path d="M1135.4 1561.8L1123.1 1752.9M1149 1552.1L1354 1679.5M1112.3 1740.2L1229.3 1794.1M1354 1679.5L1246 1533.9M1179.4 1538L1103.3 1726.3M1354 1679.5L1112.3 1585.8M1262.4 1788L1112.3 1585.8M1329.5 1585.8L1354 1679.5M1103.3 1726.3L1338.5 1599.7M1246 1792.1L1123.1 1573.1M1345.7 1711.4L1087.8 1679.5M1306.4 1561.8L1090.9 1695.7M1338.5 1599.7L1354 1646.5M1354 1679.5L1123.1 1573.1M1103.3 1599.7L1292.8 1773.9M1246 1533.9L1306.4 1561.8" stroke="#ef4b24" stroke-opacity="0.100" stroke-width="0.78" fill="none"/>
<path d="M1306.4 1561.8L1355.1 1663M1318.7 1752.9L1087.8 1646.5" stroke="#ef4b24" stroke-opacity="0.220" stroke-width="1.18" fill="none"/>
<path d="M1149 1773.9L1354 1679.5M1354 1679.5L1318.7 1573.1" stroke="#ef4b24" stroke-opacity="0.238" stroke-width="1.26" fill="none"/>
<path d="M1354 1679.5L1086.7 1663M1149 1552.1L1103.3 1726.3" stroke="#ef4b24" stroke-opacity="0.256" stroke-width="0.94" fill="none"/>
<path d="M1179.4 1788L1354 1679.5M1103.3 1599.7L1345.7 1711.4" stroke="#ef4b24" stroke-opacity="0.273" stroke-width="1.17" fill="none"/>
<path d="M1318.7 1752.9L1135.4 1764.2M1329.5 1740.2L1354 1679.5" stroke="#ef4b24" stroke-opacity="0.291" stroke-width="1.05" fill="none"/>
<path d="M1103.3 1599.7L1103.3 1726.3M1149 1773.9L1355.1 1663" stroke="#ef4b24" stroke-opacity="0.309" stroke-width="1.11" fill="none"/>
<path d="M1306.4 1561.8L1292.8 1552.1M1112.3 1740.2L1103.3 1726.3" stroke="#ef4b24" stroke-opacity="0.327" stroke-width="1.26" fill="none"/>
<path d="M1195.8 1792.1L1354 1679.5M1090.9 1695.7L1163.8 1544.1" stroke="#ef4b24" stroke-opacity="0.344" stroke-width="1.28" fill="none"/>
<path d="M1103.3 1726.3L1103.3 1599.7" stroke="#ef4b24" stroke-opacity="0.362" stroke-width="1.16" fill="none"/>
<path d="M1135.4 1561.8L1087.8 1646.5" stroke="#ef4b24" stroke-opacity="0.380" stroke-width="0.98" fill="none"/>
<line x1="1103.3" y1="1726.3" x2="1354" y2="1679.5" stroke="#ef4b24" stroke-opacity="0.76" stroke-width="1.87"/>
<line x1="1149" y1="1773.9" x2="1354" y2="1679.5" stroke="#ef4b24" stroke-opacity="0.76" stroke-width="2.03"/>
<line x1="1149" y1="1552.1" x2="1354" y2="1679.5" stroke="#ef4b24" stroke-opacity="0.71" stroke-width="1.40"/>
<line x1="1112.3" y1="1585.8" x2="1354" y2="1679.5" stroke="#ef4b24" stroke-opacity="0.59" stroke-width="1.09"/>
<line x1="1212.5" y1="1794.1" x2="1354" y2="1679.5" stroke="#ef4b24" stroke-opacity="0.63" stroke-width="1.09"/>
<line x1="1345.7" y1="1614.6" x2="1354" y2="1679.5" stroke="#ef4b24" stroke-opacity="0.71" stroke-width="1.56"/>
<line x1="1345.7" y1="1614.6" x2="1103.3" y2="1726.3" stroke="#ef4b24" stroke-opacity="0.59" stroke-width="1.09"/>
<line x1="1355.1" y1="1663" x2="1354" y2="1679.5" stroke="#ef4b24" stroke-opacity="0.67" stroke-width="1.25"/>
<line x1="1354" y1="1679.5" x2="1345.7" y2="1711.4" stroke="#ef4b24" stroke-opacity="0.71" stroke-width="1.72"/>
<line x1="1149" y1="1552.1" x2="1212.5" y2="1794.1" stroke="#ef4b24" stroke-opacity="0.59" stroke-width="1.01"/>
<line x1="1149" y1="1552.1" x2="1345.7" y2="1711.4" stroke="#ef4b24" stroke-opacity="0.50" stroke-width="0.94"/>
<line x1="1149" y1="1773.9" x2="1345.7" y2="1614.6" stroke="#ef4b24" stroke-opacity="0.50" stroke-width="0.94"/>
<line x1="1149" y1="1552.1" x2="1149" y2="1773.9" stroke="#ef4b24" stroke-opacity="0.42" stroke-width="0.78"/>
<line x1="1112.3" y1="1585.8" x2="1345.7" y2="1711.4" stroke="#ef4b24" stroke-opacity="0.42" stroke-width="0.78"/>
<line x1="1103.3" y1="1726.3" x2="1149" y2="1773.9" stroke="#ef4b24" stroke-opacity="0.42" stroke-width="0.78"/>
<line x1="1212.5" y1="1794.1" x2="1345.7" y2="1614.6" stroke="#ef4b24" stroke-opacity="0.50" stroke-width="0.86"/>
<line x1="1103.3" y1="1726.3" x2="1355.1" y2="1663" stroke="#ef4b24" stroke-opacity="0.46" stroke-width="0.86"/>
<line x1="1087.8" y1="1646.5" x2="1354" y2="1679.5" stroke="#ef4b24" stroke-opacity="0.42" stroke-width="0.78"/>
<line x1="1195.8" y1="1533.9" x2="1345.7" y2="1711.4" stroke="#ef4b24" stroke-opacity="0.38" stroke-width="0.78"/>
<line x1="1229.3" y1="1531.9" x2="1149" y2="1773.9" stroke="#ef4b24" stroke-opacity="0.34" stroke-width="0.70"/>
<g fill="#000"><circle cx="1355.1" cy="1663" r="1.75"/><circle cx="1354" cy="1646.5" r="0.95"/><circle cx="1350.9" cy="1630.3" r="0.95"/><circle cx="1345.7" cy="1614.6" r="1.75"/><circle cx="1338.5" cy="1599.7" r="0.95"/><circle cx="1329.5" cy="1585.8" r="0.95"/><circle cx="1318.7" cy="1573.1" r="0.95"/><circle cx="1306.4" cy="1561.8" r="0.95"/><circle cx="1292.8" cy="1552.1" r="0.95"/><circle cx="1278" cy="1544.1" r="0.95"/><circle cx="1262.4" cy="1538" r="0.95"/><circle cx="1246" cy="1533.9" r="0.95"/><circle cx="1229.3" cy="1531.9" r="0.95"/><circle cx="1212.5" cy="1531.9" r="0.95"/><circle cx="1195.8" cy="1533.9" r="0.95"/><circle cx="1179.4" cy="1538" r="0.95"/><circle cx="1163.8" cy="1544.1" r="0.95"/><circle cx="1149" cy="1552.1" r="1.75"/><circle cx="1135.4" cy="1561.8" r="0.95"/><circle cx="1123.1" cy="1573.1" r="0.95"/><circle cx="1112.3" cy="1585.8" r="1.35"/><circle cx="1103.3" cy="1599.7" r="0.95"/><circle cx="1096.1" cy="1614.6" r="0.95"/><circle cx="1090.9" cy="1630.3" r="0.95"/><circle cx="1087.8" cy="1646.5" r="0.95"/><circle cx="1086.7" cy="1663" r="0.95"/><circle cx="1087.8" cy="1679.5" r="0.95"/><circle cx="1090.9" cy="1695.7" r="0.95"/><circle cx="1096.1" cy="1711.4" r="0.95"/><circle cx="1103.3" cy="1726.3" r="1.75"/><circle cx="1112.3" cy="1740.2" r="0.95"/><circle cx="1123.1" cy="1752.9" r="0.95"/><circle cx="1135.4" cy="1764.2" r="0.95"/><circle cx="1149" cy="1773.9" r="1.75"/><circle cx="1163.8" cy="1781.9" r="0.95"/><circle cx="1179.4" cy="1788" r="0.95"/><circle cx="1195.8" cy="1792.1" r="0.95"/><circle cx="1212.5" cy="1794.1" r="1.35"/><circle cx="1229.3" cy="1794.1" r="0.95"/><circle cx="1246" cy="1792.1" r="0.95"/><circle cx="1262.4" cy="1788" r="0.95"/><circle cx="1278" cy="1781.9" r="1.35"/><circle cx="1292.8" cy="1773.9" r="0.95"/><circle cx="1306.4" cy="1764.2" r="0.95"/><circle cx="1318.7" cy="1752.9" r="0.95"/><circle cx="1329.5" cy="1740.2" r="0.95"/><circle cx="1338.5" cy="1726.3" r="0.95"/><circle cx="1345.7" cy="1711.4" r="1.75"/><circle cx="1350.9" cy="1695.7" r="0.95"/><circle cx="1354" cy="1679.5" r="2.15"/></g>
<g font-weight="normal" fill="#000"><text transform="translate(1359.1,1663) rotate(-0.0) translate(0,2.5)" font-size="7.2">Pacrg</text><text transform="translate(1357.3,1644.9) rotate(-26.8) translate(0,1.6)" font-size="4.5">Plp1</text><text transform="translate(1353.4,1627.7) rotate(-45.8) translate(0,1.6)" font-size="4.5">Mog</text><text transform="translate(1347.8,1611.2) rotate(-57.7) translate(0,2.5)" font-size="7.2">Erbb2ip</text><text transform="translate(1340,1596.4) rotate(-65.5) translate(0,1.6)" font-size="4.5">Nfe2l3</text><text transform="translate(1330.6,1582.4) rotate(-71.0) translate(0,1.6)" font-size="4.5">Mag</text><text transform="translate(1319.7,1569.6) rotate(-75.1) translate(0,1.6)" font-size="4.5">Tppp</text><text transform="translate(1307.2,1558.2) rotate(-78.3) translate(0,1.6)" font-size="4.5">Cldn11</text><text transform="translate(1293.4,1548.5) rotate(-81.0) translate(0,1.6)" font-size="4.5">Ugt8a</text><text transform="translate(1278.5,1540.5) rotate(-83.3) translate(0,1.6)" font-size="4.5">Dusp15</text><text transform="translate(1262.7,1534.4) rotate(-85.4) translate(0,1.6)" font-size="4.5">Sept4</text><text transform="translate(1246.2,1530.3) rotate(-87.3) translate(0,1.6)" font-size="4.5">Abca8a</text><text transform="translate(1229.4,1528.3) rotate(-89.1) translate(0,1.6)" font-size="4.5">Fa2h</text><text transform="translate(1212.4,1528.3) rotate(-90.9) translate(0,1.6)" font-size="4.5">Enpp6</text><text transform="translate(1195.6,1530.3) rotate(-92.7) translate(0,1.6)" font-size="4.5">Heg1</text><text transform="translate(1179.1,1534.4) rotate(-94.6) translate(0,1.6)" font-size="4.5">Gjc3</text><text transform="translate(1163.3,1540.5) rotate(-96.7) translate(0,1.6)" font-size="4.5">Aspa</text><text transform="translate(1148.4,1548.1) rotate(-99.0) translate(0,2.5)" font-size="7.2">Sept7</text><text transform="translate(1134.6,1558.2) rotate(-101.7) translate(0,1.6)" font-size="4.5">Car14</text><text transform="translate(1122.1,1569.6) rotate(-104.9) translate(0,1.6)" font-size="4.5">Mob3b</text><text transform="translate(1111.1,1582.2) rotate(-109.0) translate(0,2)" font-size="5.8">Sdc3</text><text transform="translate(1101.8,1596.4) rotate(-114.5) translate(0,1.6)" font-size="4.5">Cnp</text><text transform="translate(1094.2,1611.6) rotate(-122.3) translate(0,1.6)" font-size="4.5">Opalin</text><text transform="translate(1088.4,1627.7) rotate(-134.2) translate(0,1.6)" font-size="4.5">Trf</text><text transform="translate(1084.5,1644.9) rotate(-153.2) translate(0,1.6)" font-size="4.5">Klk6</text><text transform="translate(1083.1,1663) rotate(-180.0) translate(0,1.6)" font-size="4.5">Gpr37</text><text transform="translate(1084.5,1681.1) rotate(-26.8) translate(0,1.6)" font-size="4.5" text-anchor="end">Prr18</text><text transform="translate(1088.4,1698.3) rotate(-45.8) translate(0,1.6)" font-size="4.5" text-anchor="end">Tmeff2</text><text transform="translate(1094.2,1714.4) rotate(-57.7) translate(0,1.6)" font-size="4.5" text-anchor="end">Qdpr</text><text transform="translate(1101.6,1729.9) rotate(-65.5) translate(0,2.5)" font-size="7.2" text-anchor="end">Mal</text><text transform="translate(1111.2,1743.6) rotate(-71.0) translate(0,1.6)" font-size="4.5" text-anchor="end">Tspan2</text><text transform="translate(1122.1,1756.4) rotate(-75.1) translate(0,1.6)" font-size="4.5" text-anchor="end">Tubb4a</text><text transform="translate(1134.6,1767.8) rotate(-78.3) translate(0,1.6)" font-size="4.5" text-anchor="end">Plekhh1</text><text transform="translate(1148.4,1777.9) rotate(-81.0) translate(0,2.5)" font-size="7.2" text-anchor="end">Gm42413</text><text transform="translate(1163.3,1785.5) rotate(-83.3) translate(0,1.6)" font-size="4.5" text-anchor="end">Mbp</text><text transform="translate(1179.1,1791.6) rotate(-85.4) translate(0,1.6)" font-size="4.5" text-anchor="end">Anln</text><text transform="translate(1195.6,1795.7) rotate(-87.3) translate(0,1.6)" font-size="4.5" text-anchor="end">Mobp</text><text transform="translate(1212.4,1797.9) rotate(-89.1) translate(0,2)" font-size="5.8" text-anchor="end">Pak1</text><text transform="translate(1229.4,1797.7) rotate(-90.9) translate(0,1.6)" font-size="4.5" text-anchor="end">Ndrg1</text><text transform="translate(1246.2,1795.7) rotate(-92.7) translate(0,1.6)" font-size="4.5" text-anchor="end">Zdhhc9</text><text transform="translate(1262.7,1791.6) rotate(-94.6) translate(0,1.6)" font-size="4.5" text-anchor="end">St18</text><text transform="translate(1278.5,1785.7) rotate(-96.7) translate(0,2)" font-size="5.8" text-anchor="end">Pex5l</text><text transform="translate(1293.4,1777.5) rotate(-99.0) translate(0,1.6)" font-size="4.5" text-anchor="end">Cryab</text><text transform="translate(1307.2,1767.8) rotate(-101.7) translate(0,1.6)" font-size="4.5" text-anchor="end">Sox10</text><text transform="translate(1319.7,1756.4) rotate(-104.9) translate(0,1.6)" font-size="4.5" text-anchor="end">Snap25</text><text transform="translate(1330.6,1743.6) rotate(-109.0) translate(0,1.6)" font-size="4.5" text-anchor="end">Syt1</text><text transform="translate(1340,1729.6) rotate(-114.5) translate(0,1.6)" font-size="4.5" text-anchor="end">Malat1</text><text transform="translate(1347.8,1714.8) rotate(-122.3) translate(0,2.5)" font-size="7.2" text-anchor="end">Nsmf</text><text transform="translate(1353.4,1698.3) rotate(-134.2) translate(0,1.6)" font-size="4.5" text-anchor="end">Rbfox3</text><text transform="translate(1358.1,1681.5) rotate(-153.2) translate(0,3.7)" font-size="10.5" font-weight="bold" text-anchor="end">Car2</text></g>
<polygon points="1665.1,1662.5 1664,1646 1660.9,1629.8 1655.7,1614.1 1648.5,1599.2 1639.5,1585.3 1628.7,1572.6 1616.4,1561.3 1602.8,1551.6 1588,1543.6 1572.4,1537.5 1556,1533.4 1539.3,1531.4 1522.5,1531.4 1505.8,1533.4 1489.4,1537.5 1473.8,1543.6 1459,1551.6 1445.4,1561.3 1433.1,1572.6 1422.3,1585.3 1413.3,1599.2 1406.1,1614.1 1400.9,1629.8 1397.8,1646 1396.7,1662.5 1397.8,1679 1400.9,1695.2 1406.1,1710.9 1413.3,1725.8 1422.3,1739.7 1433.1,1752.4 1445.4,1763.7 1459,1773.4 1473.8,1781.4 1489.4,1787.5 1505.8,1791.6 1522.5,1793.6 1539.3,1793.6 1556,1791.6 1572.4,1787.5 1588,1781.4 1602.8,1773.4 1616.4,1763.7 1628.7,1752.4 1639.5,1739.7 1648.5,1725.8 1655.7,1710.9 1660.9,1695.2 1664,1679" fill="#ef4b24" fill-opacity="0.018" stroke="#ef4b24" stroke-opacity="0.05" stroke-width="1.5"/>
<path d="M1539.3 1531.4L1648.5 1599.2M1660.9 1629.8L1445.4 1763.7M1664 1646L1602.8 1551.6M1397.8 1646L1648.5 1599.2M1406.1 1614.1L1397.8 1679M1505.8 1533.4L1400.9 1695.2M1648.5 1599.2L1522.5 1531.4M1664 1679L1473.8 1543.6M1572.4 1787.5L1433.1 1572.6M1433.1 1752.4L1459 1551.6" stroke="#ef4b24" stroke-opacity="0.022" stroke-width="0.81" fill="none"/>
<path d="M1433.1 1572.6L1616.4 1561.3M1522.5 1531.4L1397.8 1679M1588 1781.4L1459 1551.6M1572.4 1537.5L1648.5 1725.8M1665.1 1662.5L1664 1646M1400.9 1629.8L1522.5 1793.6M1660.9 1695.2L1616.4 1561.3M1556 1533.4L1655.7 1710.9M1665.1 1662.5L1648.5 1725.8M1648.5 1599.2L1522.5 1793.6M1445.4 1763.7L1639.5 1739.7M1664 1679L1602.8 1551.6" stroke="#ef4b24" stroke-opacity="0.025" stroke-width="0.91" fill="none"/>
<path d="M1655.7 1614.1L1433.1 1572.6M1406.1 1614.1L1473.8 1543.6M1522.5 1531.4L1648.5 1599.2M1648.5 1725.8L1655.7 1710.9M1422.3 1739.7L1400.9 1629.8M1400.9 1629.8L1655.7 1614.1M1413.3 1725.8L1397.8 1646M1648.5 1725.8L1588 1781.4M1665.1 1662.5L1664 1679M1397.8 1646L1400.9 1695.2M1505.8 1533.4L1445.4 1763.7M1572.4 1537.5L1664 1679" stroke="#ef4b24" stroke-opacity="0.028" stroke-width="0.98" fill="none"/>
<path d="M1648.5 1725.8L1616.4 1763.7M1664 1679L1588 1543.6M1664 1679L1433.1 1572.6M1489.4 1537.5L1459 1773.4M1648.5 1725.8L1433.1 1752.4M1539.3 1531.4L1648.5 1725.8M1413.3 1725.8L1655.7 1710.9M1628.7 1572.6L1539.3 1531.4M1628.7 1572.6L1616.4 1561.3M1422.3 1739.7L1522.5 1531.4M1522.5 1531.4L1396.7 1662.5M1660.9 1695.2L1489.4 1787.5" stroke="#ef4b24" stroke-opacity="0.031" stroke-width="0.76" fill="none"/>
<path d="M1572.4 1787.5L1556 1533.4M1433.1 1572.6L1572.4 1537.5M1572.4 1537.5L1660.9 1629.8M1602.8 1773.4L1459 1773.4M1628.7 1572.6L1459 1551.6M1459 1551.6L1572.4 1787.5M1572.4 1787.5L1664 1679M1522.5 1531.4L1660.9 1695.2M1648.5 1725.8L1628.7 1752.4M1572.4 1537.5L1655.7 1614.1M1665.1 1662.5L1522.5 1531.4M1664 1679L1660.9 1629.8" stroke="#ef4b24" stroke-opacity="0.034" stroke-width="0.80" fill="none"/>
<path d="M1397.8 1679L1522.5 1531.4M1459 1773.4L1522.5 1531.4M1660.9 1629.8L1616.4 1561.3M1616.4 1763.7L1397.8 1679M1572.4 1787.5L1396.7 1662.5M1664 1679L1445.4 1763.7M1648.5 1599.2L1459 1773.4M1616.4 1561.3L1602.8 1773.4M1539.3 1531.4L1400.9 1695.2M1588 1781.4L1648.5 1725.8M1522.5 1531.4L1648.5 1725.8M1648.5 1725.8L1505.8 1791.6" stroke="#ef4b24" stroke-opacity="0.037" stroke-width="0.99" fill="none"/>
<path d="M1602.8 1551.6L1648.5 1599.2M1459 1551.6L1556 1791.6M1473.8 1781.4L1628.7 1572.6M1459 1773.4L1489.4 1787.5M1665.1 1662.5L1639.5 1739.7M1473.8 1781.4L1433.1 1752.4M1473.8 1781.4L1556 1791.6M1489.4 1787.5L1400.9 1695.2M1406.1 1614.1L1522.5 1793.6M1505.8 1791.6L1648.5 1599.2M1639.5 1585.3L1572.4 1787.5M1473.8 1781.4L1639.5 1739.7" stroke="#ef4b24" stroke-opacity="0.040" stroke-width="0.76" fill="none"/>
<path d="M1572.4 1537.5L1655.7 1710.9M1505.8 1533.4L1406.1 1710.9M1664 1646L1400.9 1629.8M1522.5 1531.4L1648.5 1725.8M1628.7 1752.4L1648.5 1599.2M1505.8 1533.4L1648.5 1725.8M1445.4 1763.7L1639.5 1739.7M1664 1679L1522.5 1531.4M1588 1543.6L1628.7 1752.4M1664 1679L1628.7 1752.4M1648.5 1599.2L1664 1679M1648.5 1599.2L1588 1543.6" stroke="#ef4b24" stroke-opacity="0.043" stroke-width="0.71" fill="none"/>
<path d="M1628.7 1752.4L1616.4 1763.7M1648.5 1725.8L1648.5 1599.2M1522.5 1531.4L1664 1679M1664 1679L1655.7 1614.1M1400.9 1695.2L1445.4 1561.3M1406.1 1614.1L1648.5 1725.8M1522.5 1531.4L1655.7 1710.9M1397.8 1679L1616.4 1561.3M1664 1679L1505.8 1791.6M1396.7 1662.5L1665.1 1662.5M1616.4 1561.3L1648.5 1599.2M1639.5 1585.3L1400.9 1629.8" stroke="#ef4b24" stroke-opacity="0.046" stroke-width="0.76" fill="none"/>
<path d="M1616.4 1763.7L1588 1543.6M1655.7 1614.1L1556 1533.4M1648.5 1599.2L1397.8 1679M1602.8 1773.4L1505.8 1533.4M1522.5 1531.4L1648.5 1725.8M1433.1 1572.6L1422.3 1739.7M1648.5 1599.2L1664 1646M1648.5 1725.8L1655.7 1710.9M1639.5 1739.7L1445.4 1763.7M1572.4 1537.5L1655.7 1710.9" stroke="#ef4b24" stroke-opacity="0.049" stroke-width="0.95" fill="none"/>
<path d="M1505.8 1533.4L1445.4 1763.7M1572.4 1787.5L1445.4 1763.7M1588 1781.4L1433.1 1572.6M1473.8 1781.4L1664 1646M1539.3 1531.4L1400.9 1629.8M1602.8 1773.4L1433.1 1752.4M1648.5 1725.8L1505.8 1791.6M1505.8 1533.4L1648.5 1599.2M1445.4 1561.3L1648.5 1725.8M1445.4 1763.7L1665.1 1662.5M1473.8 1781.4L1648.5 1725.8M1459 1551.6L1556 1791.6" stroke="#ef4b24" stroke-opacity="0.052" stroke-width="0.92" fill="none"/>
<path d="M1539.3 1793.6L1648.5 1725.8M1539.3 1531.4L1489.4 1537.5M1664 1679L1400.9 1629.8M1648.5 1725.8L1639.5 1585.3M1664 1679L1648.5 1599.2M1422.3 1585.3L1628.7 1572.6M1505.8 1533.4L1556 1533.4M1660.9 1629.8L1664 1679M1639.5 1739.7L1422.3 1739.7M1539.3 1793.6L1664 1646M1397.8 1646L1648.5 1599.2M1639.5 1739.7L1572.4 1787.5" stroke="#ef4b24" stroke-opacity="0.055" stroke-width="0.98" fill="none"/>
<path d="M1648.5 1725.8L1648.5 1599.2M1602.8 1551.6L1413.3 1599.2M1539.3 1531.4L1433.1 1572.6M1664 1679L1473.8 1781.4M1648.5 1599.2L1445.4 1763.7M1588 1781.4L1459 1551.6M1489.4 1537.5L1445.4 1763.7M1522.5 1531.4L1648.5 1725.8M1648.5 1599.2L1445.4 1763.7M1400.9 1629.8L1628.7 1572.6M1473.8 1543.6L1413.3 1599.2M1664 1646L1628.7 1572.6" stroke="#ef4b24" stroke-opacity="0.057" stroke-width="0.85" fill="none"/>
<path d="M1433.1 1752.4L1473.8 1781.4M1664 1646L1505.8 1791.6M1664 1646L1433.1 1572.6M1660.9 1629.8L1616.4 1561.3M1648.5 1725.8L1396.7 1662.5M1473.8 1781.4L1639.5 1585.3M1664 1679L1648.5 1725.8M1505.8 1791.6L1539.3 1793.6M1648.5 1725.8L1522.5 1531.4M1459 1551.6L1648.5 1725.8M1664 1679L1616.4 1561.3M1556 1533.4L1539.3 1531.4" stroke="#ef4b24" stroke-opacity="0.060" stroke-width="0.71" fill="none"/>
<path d="M1397.8 1646L1602.8 1551.6M1648.5 1725.8L1664 1679M1522.5 1531.4L1648.5 1725.8M1459 1773.4L1406.1 1710.9M1422.3 1585.3L1648.5 1725.8M1648.5 1599.2L1628.7 1572.6M1459 1773.4L1660.9 1695.2M1459 1773.4L1648.5 1725.8M1556 1791.6L1628.7 1752.4M1539.3 1531.4L1639.5 1739.7M1413.3 1725.8L1588 1543.6" stroke="#ef4b24" stroke-opacity="0.063" stroke-width="0.79" fill="none"/>
<path d="M1406.1 1614.1L1648.5 1599.2M1539.3 1793.6L1664 1679M1639.5 1739.7L1397.8 1646M1556 1791.6L1655.7 1710.9M1588 1781.4L1655.7 1614.1M1616.4 1763.7L1602.8 1551.6M1628.7 1752.4L1522.5 1531.4M1648.5 1725.8L1522.5 1793.6M1433.1 1752.4L1664 1646M1522.5 1531.4L1433.1 1572.6M1648.5 1599.2L1664 1679M1445.4 1763.7L1473.8 1543.6" stroke="#ef4b24" stroke-opacity="0.066" stroke-width="0.92" fill="none"/>
<path d="M1655.7 1710.9L1648.5 1725.8M1665.1 1662.5L1522.5 1531.4M1664 1646L1522.5 1531.4M1556 1533.4L1665.1 1662.5M1648.5 1725.8L1588 1543.6M1648.5 1725.8L1445.4 1561.3M1433.1 1572.6L1665.1 1662.5M1406.1 1710.9L1505.8 1791.6M1459 1773.4L1522.5 1531.4M1433.1 1752.4L1664 1646M1522.5 1531.4L1406.1 1710.9" stroke="#ef4b24" stroke-opacity="0.069" stroke-width="0.82" fill="none"/>
<path d="M1400.9 1695.2L1522.5 1531.4M1664 1679L1588 1781.4M1539.3 1531.4L1572.4 1537.5M1648.5 1725.8L1665.1 1662.5M1522.5 1531.4L1639.5 1739.7M1413.3 1725.8L1473.8 1543.6M1602.8 1551.6L1400.9 1695.2M1539.3 1793.6L1400.9 1695.2M1648.5 1725.8L1473.8 1781.4M1433.1 1572.6L1664 1679M1459 1773.4L1648.5 1725.8" stroke="#ef4b24" stroke-opacity="0.072" stroke-width="0.74" fill="none"/>
<path d="M1648.5 1725.8L1413.3 1725.8M1433.1 1572.6L1660.9 1695.2M1539.3 1531.4L1648.5 1725.8M1648.5 1725.8L1648.5 1599.2M1433.1 1572.6L1602.8 1773.4M1445.4 1763.7L1648.5 1599.2M1505.8 1791.6L1433.1 1752.4M1397.8 1646L1616.4 1561.3M1522.5 1531.4L1648.5 1725.8M1572.4 1787.5L1648.5 1725.8M1655.7 1614.1L1648.5 1725.8" stroke="#ef4b24" stroke-opacity="0.075" stroke-width="0.81" fill="none"/>
<path d="M1445.4 1763.7L1628.7 1752.4M1628.7 1572.6L1660.9 1629.8M1616.4 1763.7L1588 1781.4M1616.4 1561.3L1648.5 1725.8M1433.1 1572.6L1655.7 1710.9M1459 1551.6L1660.9 1695.2M1639.5 1739.7L1400.9 1629.8M1445.4 1763.7L1473.8 1543.6M1522.5 1531.4L1489.4 1787.5M1602.8 1551.6L1522.5 1793.6" stroke="#ef4b24" stroke-opacity="0.078" stroke-width="0.84" fill="none"/>
<path d="M1396.7 1662.5L1433.1 1572.6M1522.5 1531.4L1588 1543.6M1655.7 1710.9L1406.1 1710.9M1648.5 1725.8L1400.9 1695.2M1602.8 1551.6L1628.7 1572.6M1602.8 1551.6L1459 1773.4M1445.4 1763.7L1616.4 1561.3M1655.7 1614.1L1616.4 1561.3M1639.5 1739.7L1648.5 1725.8M1602.8 1773.4L1505.8 1791.6M1665.1 1662.5L1572.4 1787.5" stroke="#ef4b24" stroke-opacity="0.081" stroke-width="0.81" fill="none"/>
<path d="M1422.3 1739.7L1422.3 1585.3M1422.3 1585.3L1639.5 1585.3M1664 1679L1433.1 1572.6M1648.5 1725.8L1572.4 1537.5M1397.8 1646L1473.8 1543.6M1489.4 1537.5L1522.5 1531.4M1655.7 1614.1L1664 1679M1648.5 1725.8L1522.5 1531.4M1422.3 1585.3L1602.8 1551.6M1602.8 1551.6L1572.4 1537.5" stroke="#ef4b24" stroke-opacity="0.084" stroke-width="0.83" fill="none"/>
<path d="M1616.4 1561.3L1522.5 1531.4M1445.4 1561.3L1664 1679M1648.5 1725.8L1459 1773.4M1473.8 1781.4L1489.4 1537.5M1400.9 1695.2L1648.5 1725.8M1664 1679L1648.5 1725.8M1433.1 1572.6L1489.4 1787.5M1459 1773.4L1505.8 1791.6M1665.1 1662.5L1648.5 1725.8M1664 1646L1489.4 1537.5" stroke="#ef4b24" stroke-opacity="0.087" stroke-width="0.74" fill="none"/>
<path d="M1616.4 1763.7L1664 1646M1489.4 1537.5L1665.1 1662.5M1602.8 1773.4L1556 1791.6M1648.5 1725.8L1588 1781.4M1522.5 1793.6L1665.1 1662.5M1660.9 1695.2L1628.7 1752.4M1433.1 1752.4L1505.8 1533.4M1648.5 1725.8L1489.4 1537.5M1433.1 1752.4L1397.8 1679M1655.7 1710.9L1522.5 1531.4M1489.4 1537.5L1664 1679" stroke="#ef4b24" stroke-opacity="0.090" stroke-width="0.71" fill="none"/>
<path d="M1588 1781.4L1539.3 1793.6M1602.8 1551.6L1522.5 1531.4" stroke="#ef4b24" stroke-opacity="0.180" stroke-width="1.15" fill="none"/>
<path d="M1433.1 1572.6L1648.5 1599.2M1422.3 1585.3L1505.8 1533.4" stroke="#ef4b24" stroke-opacity="0.196" stroke-width="0.97" fill="none"/>
<path d="M1522.5 1531.4L1406.1 1710.9" stroke="#ef4b24" stroke-opacity="0.211" stroke-width="1.04" fill="none"/>
<path d="M1648.5 1725.8L1400.9 1629.8" stroke="#ef4b24" stroke-opacity="0.227" stroke-width="1.17" fill="none"/>
<path d="M1664 1679L1397.8 1679" stroke="#ef4b24" stroke-opacity="0.242" stroke-width="1.12" fill="none"/>
<path d="M1602.8 1551.6L1433.1 1752.4" stroke="#ef4b24" stroke-opacity="0.258" stroke-width="1.28" fill="none"/>
<path d="M1433.1 1752.4L1422.3 1739.7" stroke="#ef4b24" stroke-opacity="0.273" stroke-width="1.27" fill="none"/>
<path d="M1539.3 1793.6L1665.1 1662.5" stroke="#ef4b24" stroke-opacity="0.289" stroke-width="1.00" fill="none"/>
<path d="M1422.3 1585.3L1616.4 1763.7" stroke="#ef4b24" stroke-opacity="0.304" stroke-width="1.03" fill="none"/>
<path d="M1639.5 1585.3L1664 1646" stroke="#ef4b24" stroke-opacity="0.320" stroke-width="1.12" fill="none"/>
<line x1="1433.1" y1="1572.6" x2="1522.5" y2="1531.4" stroke="#ef4b24" stroke-opacity="0.80" stroke-width="2.34"/>
<line x1="1433.1" y1="1572.6" x2="1505.8" y2="1533.4" stroke="#ef4b24" stroke-opacity="0.59" stroke-width="1.01"/>
<line x1="1522.5" y1="1531.4" x2="1648.5" y2="1725.8" stroke="#ef4b24" stroke-opacity="0.71" stroke-width="1.56"/>
<line x1="1505.8" y1="1533.4" x2="1648.5" y2="1725.8" stroke="#ef4b24" stroke-opacity="0.59" stroke-width="1.01"/>
<line x1="1522.5" y1="1531.4" x2="1648.5" y2="1599.2" stroke="#ef4b24" stroke-opacity="0.63" stroke-width="1.17"/>
<line x1="1433.1" y1="1572.6" x2="1648.5" y2="1599.2" stroke="#ef4b24" stroke-opacity="0.46" stroke-width="0.78"/>
<line x1="1433.1" y1="1572.6" x2="1648.5" y2="1725.8" stroke="#ef4b24" stroke-opacity="0.55" stroke-width="0.94"/>
<line x1="1459" y1="1773.4" x2="1664" y2="1679" stroke="#ef4b24" stroke-opacity="0.59" stroke-width="1.01"/>
<line x1="1413.3" y1="1725.8" x2="1648.5" y2="1725.8" stroke="#ef4b24" stroke-opacity="0.46" stroke-width="0.78"/>
<line x1="1648.5" y1="1725.8" x2="1664" y2="1679" stroke="#ef4b24" stroke-opacity="0.50" stroke-width="0.94"/>
<line x1="1648.5" y1="1725.8" x2="1665.1" y2="1662.5" stroke="#ef4b24" stroke-opacity="0.50" stroke-width="0.94"/>
<line x1="1572.4" y1="1787.5" x2="1655.7" y2="1614.1" stroke="#ef4b24" stroke-opacity="0.42" stroke-width="0.78"/>
<line x1="1489.4" y1="1787.5" x2="1522.5" y2="1531.4" stroke="#ef4b24" stroke-opacity="0.42" stroke-width="0.78"/>
<line x1="1396.7" y1="1662.5" x2="1648.5" y2="1725.8" stroke="#ef4b24" stroke-opacity="0.42" stroke-width="0.78"/>
<line x1="1655.7" y1="1710.9" x2="1664" y2="1679" stroke="#ef4b24" stroke-opacity="0.42" stroke-width="0.78"/>
<g fill="#000"><circle cx="1665.1" cy="1662.5" r="1.75"/><circle cx="1664" cy="1646" r="0.95"/><circle cx="1660.9" cy="1629.8" r="0.95"/><circle cx="1655.7" cy="1614.1" r="1.75"/><circle cx="1648.5" cy="1599.2" r="1.75"/><circle cx="1639.5" cy="1585.3" r="0.95"/><circle cx="1628.7" cy="1572.6" r="0.95"/><circle cx="1616.4" cy="1561.3" r="0.95"/><circle cx="1602.8" cy="1551.6" r="0.95"/><circle cx="1588" cy="1543.6" r="0.95"/><circle cx="1572.4" cy="1537.5" r="0.95"/><circle cx="1556" cy="1533.4" r="1.35"/><circle cx="1539.3" cy="1531.4" r="0.95"/><circle cx="1522.5" cy="1531.4" r="2.15"/><circle cx="1505.8" cy="1533.4" r="1.75"/><circle cx="1489.4" cy="1537.5" r="0.95"/><circle cx="1473.8" cy="1543.6" r="0.95"/><circle cx="1459" cy="1551.6" r="1.35"/><circle cx="1445.4" cy="1561.3" r="0.95"/><circle cx="1433.1" cy="1572.6" r="2.15"/><circle cx="1422.3" cy="1585.3" r="0.95"/><circle cx="1413.3" cy="1599.2" r="0.95"/><circle cx="1406.1" cy="1614.1" r="0.95"/><circle cx="1400.9" cy="1629.8" r="0.95"/><circle cx="1397.8" cy="1646" r="0.95"/><circle cx="1396.7" cy="1662.5" r="0.95"/><circle cx="1397.8" cy="1679" r="0.95"/><circle cx="1400.9" cy="1695.2" r="0.95"/><circle cx="1406.1" cy="1710.9" r="0.95"/><circle cx="1413.3" cy="1725.8" r="1.35"/><circle cx="1422.3" cy="1739.7" r="0.95"/><circle cx="1433.1" cy="1752.4" r="0.95"/><circle cx="1445.4" cy="1763.7" r="0.95"/><circle cx="1459" cy="1773.4" r="1.75"/><circle cx="1473.8" cy="1781.4" r="0.95"/><circle cx="1489.4" cy="1787.5" r="0.95"/><circle cx="1505.8" cy="1791.6" r="0.95"/><circle cx="1522.5" cy="1793.6" r="1.35"/><circle cx="1539.3" cy="1793.6" r="0.95"/><circle cx="1556" cy="1791.6" r="0.95"/><circle cx="1572.4" cy="1787.5" r="0.95"/><circle cx="1588" cy="1781.4" r="0.95"/><circle cx="1602.8" cy="1773.4" r="0.95"/><circle cx="1616.4" cy="1763.7" r="0.95"/><circle cx="1628.7" cy="1752.4" r="0.95"/><circle cx="1639.5" cy="1739.7" r="0.95"/><circle cx="1648.5" cy="1725.8" r="2.15"/><circle cx="1655.7" cy="1710.9" r="1.35"/><circle cx="1660.9" cy="1695.2" r="0.95"/><circle cx="1664" cy="1679" r="1.75"/></g>
<g font-weight="normal" fill="#000"><text transform="translate(1669.1,1662.5) rotate(-0.0) translate(0,2.5)" font-size="7.2">Pacrg</text><text transform="translate(1667.3,1644.4) rotate(-26.8) translate(0,1.6)" font-size="4.5">Plp1</text><text transform="translate(1663.4,1627.2) rotate(-45.8) translate(0,1.6)" font-size="4.5">Mog</text><text transform="translate(1657.8,1610.7) rotate(-57.7) translate(0,2.5)" font-size="7.2">Erbb2ip</text><text transform="translate(1650.2,1595.6) rotate(-65.5) translate(0,2.5)" font-size="7.2">Nfe2l3</text><text transform="translate(1640.6,1581.9) rotate(-71.0) translate(0,1.6)" font-size="4.5">Mag</text><text transform="translate(1629.7,1569.1) rotate(-75.1) translate(0,1.6)" font-size="4.5">Tppp</text><text transform="translate(1617.2,1557.7) rotate(-78.3) translate(0,1.6)" font-size="4.5">Cldn11</text><text transform="translate(1603.4,1548) rotate(-81.0) translate(0,1.6)" font-size="4.5">Ugt8a</text><text transform="translate(1588.5,1540) rotate(-83.3) translate(0,1.6)" font-size="4.5">Dusp15</text><text transform="translate(1572.7,1533.9) rotate(-85.4) translate(0,1.6)" font-size="4.5">Sept4</text><text transform="translate(1556.2,1529.6) rotate(-87.3) translate(0,2)" font-size="5.8">Abca8a</text><text transform="translate(1539.4,1527.8) rotate(-89.1) translate(0,1.6)" font-size="4.5">Fa2h</text><text transform="translate(1522.4,1526.8) rotate(-90.9) translate(0,3.7)" font-size="10.5" font-weight="bold">Enpp6</text><text transform="translate(1505.6,1529.4) rotate(-92.7) translate(0,2.5)" font-size="7.2">Heg1</text><text transform="translate(1489.1,1533.9) rotate(-94.6) translate(0,1.6)" font-size="4.5">Gjc3</text><text transform="translate(1473.3,1540) rotate(-96.7) translate(0,1.6)" font-size="4.5">Aspa</text><text transform="translate(1458.4,1547.8) rotate(-99.0) translate(0,2)" font-size="5.8">Sept7</text><text transform="translate(1444.6,1557.7) rotate(-101.7) translate(0,1.6)" font-size="4.5">Car14</text><text transform="translate(1431.9,1568.1) rotate(-104.9) translate(0,3.7)" font-size="10.5" font-weight="bold">Mob3b</text><text transform="translate(1421.2,1581.9) rotate(-109.0) translate(0,1.6)" font-size="4.5">Sdc3</text><text transform="translate(1411.8,1595.9) rotate(-114.5) translate(0,1.6)" font-size="4.5">Cnp</text><text transform="translate(1404.2,1611.1) rotate(-122.3) translate(0,1.6)" font-size="4.5">Opalin</text><text transform="translate(1398.4,1627.2) rotate(-134.2) translate(0,1.6)" font-size="4.5">Trf</text><text transform="translate(1394.5,1644.4) rotate(-153.2) translate(0,1.6)" font-size="4.5">Klk6</text><text transform="translate(1393.1,1662.5) rotate(-180.0) translate(0,1.6)" font-size="4.5">Gpr37</text><text transform="translate(1394.5,1680.6) rotate(-26.8) translate(0,1.6)" font-size="4.5" text-anchor="end">Prr18</text><text transform="translate(1398.4,1697.8) rotate(-45.8) translate(0,1.6)" font-size="4.5" text-anchor="end">Tmeff2</text><text transform="translate(1404.2,1713.9) rotate(-57.7) translate(0,1.6)" font-size="4.5" text-anchor="end">Qdpr</text><text transform="translate(1411.7,1729.3) rotate(-65.5) translate(0,2)" font-size="5.8" text-anchor="end">Mal</text><text transform="translate(1421.2,1743.1) rotate(-71.0) translate(0,1.6)" font-size="4.5" text-anchor="end">Tspan2</text><text transform="translate(1432.1,1755.9) rotate(-75.1) translate(0,1.6)" font-size="4.5" text-anchor="end">Tubb4a</text><text transform="translate(1444.6,1767.3) rotate(-78.3) translate(0,1.6)" font-size="4.5" text-anchor="end">Plekhh1</text><text transform="translate(1458.4,1777.4) rotate(-81.0) translate(0,2.5)" font-size="7.2" text-anchor="end">Gm42413</text><text transform="translate(1473.3,1785) rotate(-83.3) translate(0,1.6)" font-size="4.5" text-anchor="end">Mbp</text><text transform="translate(1489.1,1791.1) rotate(-85.4) translate(0,1.6)" font-size="4.5" text-anchor="end">Anln</text><text transform="translate(1505.6,1795.2) rotate(-87.3) translate(0,1.6)" font-size="4.5" text-anchor="end">Mobp</text><text transform="translate(1522.4,1797.4) rotate(-89.1) translate(0,2)" font-size="5.8" text-anchor="end">Pak1</text><text transform="translate(1539.4,1797.2) rotate(-90.9) translate(0,1.6)" font-size="4.5" text-anchor="end">Ndrg1</text><text transform="translate(1556.2,1795.2) rotate(-92.7) translate(0,1.6)" font-size="4.5" text-anchor="end">Zdhhc9</text><text transform="translate(1572.7,1791.1) rotate(-94.6) translate(0,1.6)" font-size="4.5" text-anchor="end">St18</text><text transform="translate(1588.5,1785) rotate(-96.7) translate(0,1.6)" font-size="4.5" text-anchor="end">Pex5l</text><text transform="translate(1603.4,1777) rotate(-99.0) translate(0,1.6)" font-size="4.5" text-anchor="end">Cryab</text><text transform="translate(1617.2,1767.3) rotate(-101.7) translate(0,1.6)" font-size="4.5" text-anchor="end">Sox10</text><text transform="translate(1629.7,1755.9) rotate(-104.9) translate(0,1.6)" font-size="4.5" text-anchor="end">Snap25</text><text transform="translate(1640.6,1743.1) rotate(-109.0) translate(0,1.6)" font-size="4.5" text-anchor="end">Syt1</text><text transform="translate(1650.4,1730) rotate(-114.5) translate(0,3.7)" font-size="10.5" font-weight="bold" text-anchor="end">Malat1</text><text transform="translate(1657.7,1714.1) rotate(-122.3) translate(0,2)" font-size="5.8" text-anchor="end">Nsmf</text><text transform="translate(1663.4,1697.8) rotate(-134.2) translate(0,1.6)" font-size="4.5" text-anchor="end">Rbfox3</text><text transform="translate(1667.6,1680.8) rotate(-153.2) translate(0,2.5)" font-size="7.2" text-anchor="end">Car2</text></g>
<polygon points="669.5,1994.8 668.4,1978.3 665.3,1962.1 660.1,1946.4 652.9,1931.5 643.9,1917.6 633.1,1904.9 620.8,1893.6 607.2,1883.9 592.4,1875.9 576.8,1869.8 560.4,1865.7 543.7,1863.7 526.9,1863.7 510.2,1865.7 493.8,1869.8 478.2,1875.9 463.4,1883.9 449.8,1893.6 437.5,1904.9 426.7,1917.6 417.7,1931.5 410.5,1946.4 405.3,1962.1 402.2,1978.3 401.1,1994.8 402.2,2011.3 405.3,2027.5 410.5,2043.2 417.7,2058.1 426.7,2072 437.5,2084.7 449.8,2096 463.4,2105.7 478.2,2113.7 493.8,2119.8 510.2,2123.9 526.9,2125.9 543.7,2125.9 560.4,2123.9 576.8,2119.8 592.4,2113.7 607.2,2105.7 620.8,2096 633.1,2084.7 643.9,2072 652.9,2058.1 660.1,2043.2 665.3,2027.5 668.4,2011.3" fill="#ef4b24" fill-opacity="0.035" stroke="#ef4b24" stroke-opacity="0.11" stroke-width="1.5"/>
<path d="M426.7 2072L478.2 2113.7M669.5 1994.8L463.4 2105.7M463.4 2105.7L668.4 2011.3M463.4 1883.9L526.9 2125.9M426.7 2072L510.2 2123.9M560.4 2123.9L660.1 1946.4M560.4 1865.7L417.7 2058.1M426.7 1917.6L668.4 2011.3M652.9 2058.1L426.7 2072M560.4 2123.9L417.7 1931.5M402.2 1978.3L463.4 2105.7M437.5 1904.9L643.9 1917.6M592.4 1875.9L463.4 2105.7M449.8 1893.6L526.9 1863.7" stroke="#ef4b24" stroke-opacity="0.030" stroke-width="0.94" fill="none"/>
<path d="M543.7 2125.9L665.3 2027.5M478.2 1875.9L493.8 1869.8M620.8 1893.6L665.3 1962.1M510.2 2123.9L463.4 2105.7M426.7 2072L463.4 2105.7M426.7 2072L478.2 1875.9M478.2 2113.7L643.9 1917.6M592.4 1875.9L560.4 2123.9M560.4 1865.7L493.8 2119.8M478.2 2113.7L437.5 1904.9M463.4 1883.9L493.8 1869.8M607.2 2105.7L607.2 1883.9M543.7 1863.7L560.4 2123.9M665.3 1962.1L668.4 2011.3M426.7 1917.6L668.4 2011.3M463.4 2105.7L417.7 2058.1M592.4 2113.7L402.2 1978.3M401.1 1994.8L463.4 2105.7" stroke="#ef4b24" stroke-opacity="0.033" stroke-width="0.70" fill="none"/>
<path d="M478.2 2113.7L652.9 2058.1M560.4 2123.9L402.2 1978.3M668.4 2011.3L410.5 2043.2M449.8 2096L493.8 2119.8M668.4 1978.3L620.8 1893.6M633.1 2084.7L669.5 1994.8M493.8 2119.8L510.2 1865.7M526.9 2125.9L449.8 2096M405.3 2027.5L633.1 1904.9M643.9 1917.6L668.4 1978.3M405.3 1962.1L526.9 1863.7M668.4 1978.3L410.5 2043.2M437.5 1904.9L643.9 1917.6M668.4 1978.3L426.7 2072M560.4 2123.9L652.9 2058.1M463.4 2105.7L449.8 1893.6M643.9 1917.6L607.2 1883.9M526.9 2125.9L426.7 2072" stroke="#ef4b24" stroke-opacity="0.036" stroke-width="0.93" fill="none"/>
<path d="M668.4 1978.3L405.3 1962.1M493.8 1869.8L402.2 1978.3M426.7 1917.6L576.8 1869.8M463.4 1883.9L463.4 2105.7M417.7 1931.5L437.5 2084.7M643.9 1917.6L426.7 2072M410.5 2043.2L478.2 1875.9M668.4 1978.3L463.4 2105.7M592.4 1875.9L449.8 1893.6M607.2 1883.9L668.4 1978.3M401.1 1994.8L426.7 2072M660.1 1946.4L620.8 1893.6M402.2 1978.3L620.8 2096M463.4 2105.7L449.8 2096M633.1 2084.7L607.2 1883.9M620.8 1893.6L643.9 1917.6M510.2 1865.7L478.2 1875.9" stroke="#ef4b24" stroke-opacity="0.039" stroke-width="0.81" fill="none"/>
<path d="M665.3 2027.5L437.5 2084.7M463.4 2105.7L665.3 1962.1M426.7 2072L576.8 2119.8M526.9 1863.7L401.1 1994.8M607.2 1883.9L463.4 2105.7M426.7 2072L633.1 1904.9M510.2 1865.7L410.5 2043.2M478.2 2113.7L620.8 1893.6M633.1 2084.7L402.2 1978.3M620.8 1893.6L576.8 1869.8M449.8 1893.6L426.7 2072M560.4 1865.7L449.8 2096M437.5 1904.9L607.2 1883.9M410.5 2043.2L543.7 2125.9M510.2 1865.7L543.7 1863.7M620.8 1893.6L426.7 2072M592.4 2113.7L405.3 2027.5" stroke="#ef4b24" stroke-opacity="0.042" stroke-width="0.70" fill="none"/>
<path d="M643.9 2072L643.9 1917.6M668.4 2011.3L668.4 1978.3M410.5 1946.4L417.7 1931.5M510.2 2123.9L463.4 2105.7M426.7 2072L668.4 1978.3M426.7 2072L633.1 2084.7M405.3 1962.1L463.4 1883.9M463.4 2105.7L665.3 1962.1M463.4 2105.7L437.5 2084.7M493.8 2119.8L669.5 1994.8M449.8 2096L660.1 2043.2M463.4 2105.7L652.9 2058.1M526.9 1863.7L660.1 1946.4M543.7 1863.7L607.2 1883.9M463.4 1883.9L426.7 2072M426.7 2072L643.9 2072M643.9 1917.6L493.8 2119.8M665.3 1962.1L417.7 1931.5" stroke="#ef4b24" stroke-opacity="0.045" stroke-width="0.78" fill="none"/>
<path d="M405.3 1962.1L576.8 1869.8M478.2 2113.7L592.4 2113.7M665.3 1962.1L652.9 2058.1M526.9 1863.7L665.3 2027.5M402.2 1978.3L592.4 1875.9M449.8 1893.6L417.7 1931.5M478.2 2113.7L426.7 2072M592.4 2113.7L607.2 1883.9M652.9 1931.5L449.8 2096M405.3 1962.1L633.1 2084.7M426.7 2072L417.7 1931.5M510.2 1865.7L410.5 1946.4M493.8 2119.8L417.7 2058.1M426.7 2072L463.4 1883.9M463.4 2105.7L405.3 2027.5M620.8 1893.6L426.7 2072M478.2 2113.7L560.4 2123.9M576.8 1869.8L449.8 2096" stroke="#ef4b24" stroke-opacity="0.048" stroke-width="0.84" fill="none"/>
<path d="M410.5 2043.2L426.7 2072M668.4 1978.3L526.9 2125.9M668.4 1978.3L401.1 1994.8M437.5 2084.7L426.7 2072M665.3 1962.1L633.1 1904.9M592.4 1875.9L526.9 1863.7M668.4 1978.3L560.4 1865.7M426.7 2072L665.3 2027.5M426.7 2072L417.7 1931.5M668.4 2011.3L669.5 1994.8M576.8 2119.8L592.4 1875.9M668.4 1978.3L665.3 1962.1M493.8 2119.8L576.8 1869.8M526.9 1863.7L652.9 1931.5M510.2 2123.9L592.4 1875.9M543.7 2125.9L463.4 2105.7M660.1 1946.4L543.7 1863.7" stroke="#ef4b24" stroke-opacity="0.051" stroke-width="0.81" fill="none"/>
<path d="M669.5 1994.8L607.2 1883.9M463.4 1883.9L426.7 2072M592.4 2113.7L643.9 1917.6M669.5 1994.8L417.7 2058.1M493.8 1869.8L620.8 1893.6M668.4 2011.3L449.8 1893.6M410.5 1946.4L652.9 2058.1M463.4 2105.7L633.1 1904.9M426.7 2072L576.8 1869.8M405.3 1962.1L643.9 1917.6M660.1 1946.4L510.2 2123.9M643.9 1917.6L493.8 1869.8M643.9 1917.6L463.4 1883.9M478.2 1875.9L576.8 1869.8M652.9 1931.5L463.4 1883.9M660.1 1946.4L426.7 2072M652.9 2058.1L668.4 2011.3M643.9 1917.6L402.2 1978.3" stroke="#ef4b24" stroke-opacity="0.054" stroke-width="0.86" fill="none"/>
<path d="M526.9 1863.7L652.9 2058.1M669.5 1994.8L665.3 1962.1M463.4 2105.7L665.3 2027.5M560.4 1865.7L449.8 2096M607.2 1883.9L668.4 1978.3M668.4 2011.3L652.9 2058.1M633.1 2084.7L417.7 2058.1M526.9 1863.7L652.9 2058.1M620.8 2096L402.2 1978.3M426.7 1917.6L665.3 1962.1M652.9 1931.5L510.2 2123.9M607.2 2105.7L665.3 2027.5M668.4 2011.3L592.4 2113.7M426.7 2072L493.8 2119.8M576.8 2119.8L620.8 2096M426.7 2072L668.4 2011.3M668.4 2011.3L410.5 2043.2" stroke="#ef4b24" stroke-opacity="0.057" stroke-width="0.72" fill="none"/>
<path d="M510.2 2123.9L620.8 1893.6M620.8 1893.6L665.3 2027.5M426.7 2072L526.9 2125.9M405.3 1962.1L560.4 2123.9M405.3 1962.1L449.8 1893.6M426.7 2072L560.4 1865.7M669.5 1994.8L510.2 2123.9M620.8 1893.6L426.7 2072M493.8 1869.8L543.7 2125.9M449.8 1893.6L437.5 1904.9M417.7 2058.1L668.4 2011.3M560.4 2123.9L493.8 1869.8M426.7 2072L592.4 1875.9M592.4 2113.7L426.7 2072M463.4 2105.7L510.2 1865.7M463.4 2105.7L417.7 1931.5M437.5 1904.9L660.1 2043.2" stroke="#ef4b24" stroke-opacity="0.060" stroke-width="0.77" fill="none"/>
<path d="M543.7 2125.9L633.1 1904.9M607.2 1883.9L493.8 2119.8M643.9 1917.6L417.7 1931.5M437.5 2084.7L543.7 2125.9M668.4 2011.3L401.1 1994.8M417.7 1931.5L426.7 2072M417.7 1931.5L620.8 1893.6M668.4 1978.3L463.4 2105.7M620.8 2096L620.8 1893.6M405.3 2027.5L478.2 1875.9M643.9 1917.6L652.9 1931.5M417.7 1931.5L463.4 1883.9M426.7 1917.6L633.1 1904.9M660.1 2043.2L543.7 1863.7M417.7 1931.5L405.3 2027.5M660.1 1946.4L607.2 1883.9M643.9 1917.6L463.4 1883.9" stroke="#ef4b24" stroke-opacity="0.063" stroke-width="0.99" fill="none"/>
<path d="M426.7 2072L643.9 1917.6M660.1 2043.2L665.3 2027.5M620.8 1893.6L592.4 2113.7M478.2 1875.9L426.7 2072M576.8 1869.8L643.9 2072M417.7 1931.5L493.8 1869.8M463.4 2105.7L426.7 2072M426.7 2072L668.4 1978.3M665.3 1962.1L620.8 1893.6M560.4 1865.7L543.7 1863.7M643.9 1917.6L660.1 1946.4M576.8 1869.8L652.9 1931.5M478.2 1875.9L669.5 1994.8M576.8 2119.8L401.1 1994.8M463.4 2105.7L660.1 1946.4M643.9 2072L510.2 1865.7M449.8 1893.6L405.3 1962.1" stroke="#ef4b24" stroke-opacity="0.067" stroke-width="0.83" fill="none"/>
<path d="M669.5 1994.8L620.8 2096M478.2 1875.9L463.4 1883.9M510.2 1865.7L410.5 1946.4M478.2 2113.7L576.8 2119.8M669.5 1994.8L426.7 1917.6M668.4 2011.3L401.1 1994.8M402.2 1978.3L643.9 2072M643.9 1917.6L449.8 1893.6M665.3 2027.5L463.4 2105.7M620.8 1893.6L526.9 1863.7M643.9 2072L401.1 1994.8M417.7 1931.5L426.7 2072M426.7 2072L576.8 2119.8M668.4 1978.3L620.8 1893.6M493.8 2119.8L449.8 2096M526.9 1863.7L426.7 2072M463.4 2105.7L478.2 2113.7" stroke="#ef4b24" stroke-opacity="0.070" stroke-width="0.84" fill="none"/>
<path d="M405.3 2027.5L510.2 2123.9M668.4 2011.3L592.4 2113.7M478.2 1875.9L592.4 2113.7M543.7 1863.7L426.7 1917.6M526.9 1863.7L402.2 1978.3M660.1 1946.4L665.3 1962.1M592.4 1875.9L643.9 1917.6M592.4 1875.9L402.2 1978.3M660.1 2043.2L665.3 1962.1M576.8 1869.8L660.1 1946.4M463.4 2105.7L643.9 1917.6M643.9 1917.6L463.4 2105.7M668.4 2011.3L643.9 2072M668.4 2011.3L620.8 1893.6M652.9 1931.5L426.7 1917.6" stroke="#ef4b24" stroke-opacity="0.073" stroke-width="0.73" fill="none"/>
<path d="M668.4 2011.3L620.8 2096M643.9 1917.6L478.2 2113.7M668.4 2011.3L410.5 1946.4M620.8 2096L463.4 2105.7M643.9 1917.6L576.8 2119.8M643.9 1917.6L426.7 2072M592.4 2113.7L607.2 1883.9M426.7 2072L478.2 2113.7M668.4 2011.3L449.8 2096M668.4 1978.3L652.9 2058.1M576.8 1869.8L665.3 1962.1M463.4 2105.7L665.3 1962.1M410.5 2043.2L620.8 1893.6M643.9 2072L607.2 1883.9M463.4 2105.7L592.4 2113.7M668.4 1978.3L643.9 1917.6M410.5 2043.2L449.8 1893.6" stroke="#ef4b24" stroke-opacity="0.076" stroke-width="0.78" fill="none"/>
<path d="M526.9 1863.7L668.4 2011.3M543.7 2125.9L607.2 2105.7M401.1 1994.8L463.4 2105.7M449.8 1893.6L668.4 1978.3M410.5 1946.4L526.9 1863.7M510.2 1865.7L576.8 2119.8M620.8 2096L633.1 1904.9M560.4 2123.9L633.1 1904.9M449.8 1893.6L660.1 2043.2M426.7 1917.6L660.1 1946.4M607.2 1883.9L526.9 1863.7M463.4 2105.7L410.5 1946.4M543.7 2125.9L478.2 1875.9M478.2 2113.7L426.7 2072M643.9 1917.6L426.7 2072" stroke="#ef4b24" stroke-opacity="0.079" stroke-width="0.99" fill="none"/>
<path d="M410.5 2043.2L463.4 2105.7M668.4 1978.3L665.3 2027.5M402.2 1978.3L526.9 1863.7M426.7 2072L643.9 1917.6M526.9 2125.9L576.8 2119.8M660.1 1946.4L576.8 2119.8M417.7 1931.5L493.8 1869.8M426.7 2072L463.4 1883.9M463.4 2105.7L449.8 2096M560.4 1865.7L426.7 1917.6M449.8 1893.6L643.9 1917.6M660.1 2043.2L543.7 2125.9M463.4 2105.7L607.2 2105.7M607.2 1883.9L405.3 2027.5M449.8 1893.6L463.4 2105.7" stroke="#ef4b24" stroke-opacity="0.082" stroke-width="0.91" fill="none"/>
<path d="M607.2 1883.9L660.1 2043.2M643.9 1917.6L478.2 1875.9M426.7 1917.6L633.1 1904.9M620.8 1893.6L576.8 2119.8M417.7 2058.1L478.2 1875.9M669.5 1994.8L410.5 2043.2M463.4 2105.7L417.7 1931.5M426.7 2072L401.1 1994.8M592.4 1875.9L478.2 1875.9M402.2 1978.3L665.3 2027.5M510.2 1865.7L665.3 1962.1M417.7 1931.5L493.8 1869.8M643.9 1917.6L493.8 1869.8M426.7 2072L543.7 2125.9M633.1 2084.7L576.8 1869.8M401.1 1994.8L668.4 2011.3" stroke="#ef4b24" stroke-opacity="0.085" stroke-width="0.85" fill="none"/>
<path d="M463.4 2105.7L668.4 2011.3M426.7 2072L652.9 2058.1M449.8 1893.6L668.4 2011.3M660.1 2043.2L402.2 1978.3M426.7 2072L668.4 2011.3M543.7 1863.7L660.1 2043.2M526.9 1863.7L526.9 2125.9M660.1 2043.2L449.8 1893.6M426.7 2072L478.2 1875.9M643.9 1917.6L449.8 2096M668.4 1978.3L668.4 2011.3M493.8 2119.8L417.7 2058.1M652.9 2058.1L405.3 1962.1M449.8 1893.6L669.5 1994.8M668.4 2011.3L410.5 2043.2M665.3 2027.5L660.1 1946.4" stroke="#ef4b24" stroke-opacity="0.088" stroke-width="0.72" fill="none"/>
<path d="M633.1 2084.7L510.2 1865.7M478.2 1875.9L652.9 2058.1M668.4 2011.3L426.7 2072M560.4 2123.9L417.7 1931.5M526.9 2125.9L576.8 1869.8M643.9 2072L633.1 1904.9M665.3 1962.1L463.4 2105.7M437.5 1904.9L633.1 1904.9M526.9 1863.7L449.8 2096M620.8 1893.6L402.2 2011.3M633.1 2084.7L437.5 2084.7M417.7 1931.5L410.5 1946.4M402.2 2011.3L426.7 2072M437.5 1904.9L669.5 1994.8M660.1 1946.4L402.2 1978.3M493.8 2119.8L463.4 2105.7" stroke="#ef4b24" stroke-opacity="0.091" stroke-width="0.82" fill="none"/>
<path d="M463.4 1883.9L620.8 1893.6M417.7 2058.1L493.8 1869.8M401.1 1994.8L478.2 1875.9M463.4 2105.7L620.8 1893.6M560.4 2123.9L426.7 2072M543.7 1863.7L620.8 1893.6M402.2 1978.3L417.7 2058.1M620.8 1893.6L426.7 2072M576.8 2119.8L437.5 2084.7M463.4 2105.7L620.8 1893.6M426.7 1917.6L410.5 2043.2M493.8 2119.8L426.7 2072M510.2 2123.9L660.1 2043.2M620.8 1893.6L437.5 1904.9M437.5 1904.9L620.8 1893.6M576.8 2119.8L668.4 2011.3M510.2 1865.7L643.9 1917.6" stroke="#ef4b24" stroke-opacity="0.094" stroke-width="0.93" fill="none"/>
<path d="M633.1 1904.9L660.1 1946.4M493.8 1869.8L620.8 1893.6M643.9 1917.6L543.7 1863.7M526.9 2125.9L426.7 2072M449.8 1893.6L633.1 1904.9M668.4 2011.3L526.9 1863.7M401.1 1994.8L478.2 1875.9M402.2 2011.3L643.9 2072M543.7 2125.9L417.7 1931.5M607.2 1883.9L668.4 1978.3M652.9 1931.5L493.8 1869.8M410.5 1946.4L560.4 2123.9M410.5 2043.2L668.4 2011.3M493.8 1869.8L668.4 1978.3M437.5 2084.7L643.9 2072M493.8 1869.8L592.4 2113.7M402.2 1978.3L463.4 1883.9" stroke="#ef4b24" stroke-opacity="0.097" stroke-width="0.83" fill="none"/>
<path d="M510.2 1865.7L426.7 2072M652.9 1931.5L620.8 1893.6M526.9 2125.9L607.2 2105.7M449.8 2096L417.7 1931.5M426.7 2072L402.2 1978.3M620.8 1893.6L426.7 2072M417.7 2058.1L426.7 2072M592.4 2113.7L405.3 2027.5M592.4 1875.9L652.9 1931.5M643.9 1917.6L410.5 2043.2M437.5 2084.7L665.3 2027.5M426.7 2072L643.9 1917.6M493.8 1869.8L437.5 1904.9M643.9 2072L426.7 2072M426.7 2072L660.1 2043.2M478.2 2113.7L652.9 2058.1" stroke="#ef4b24" stroke-opacity="0.100" stroke-width="0.88" fill="none"/>
<path d="M643.9 2072L426.7 2072M417.7 1931.5L543.7 1863.7M660.1 2043.2L668.4 1978.3" stroke="#ef4b24" stroke-opacity="0.200" stroke-width="1.29" fill="none"/>
<path d="M426.7 2072L668.4 1978.3M405.3 1962.1L526.9 1863.7M620.8 1893.6L417.7 1931.5" stroke="#ef4b24" stroke-opacity="0.217" stroke-width="1.18" fill="none"/>
<path d="M668.4 1978.3L510.2 2123.9M449.8 2096L643.9 1917.6M543.7 1863.7L493.8 2119.8" stroke="#ef4b24" stroke-opacity="0.233" stroke-width="0.94" fill="none"/>
<path d="M417.7 1931.5L620.8 2096M620.8 1893.6L405.3 1962.1M449.8 1893.6L510.2 2123.9" stroke="#ef4b24" stroke-opacity="0.250" stroke-width="0.94" fill="none"/>
<path d="M576.8 2119.8L652.9 2058.1M652.9 1931.5L449.8 1893.6M620.8 1893.6L405.3 2027.5" stroke="#ef4b24" stroke-opacity="0.267" stroke-width="1.16" fill="none"/>
<path d="M449.8 1893.6L668.4 2011.3M643.9 2072L633.1 2084.7" stroke="#ef4b24" stroke-opacity="0.283" stroke-width="1.05" fill="none"/>
<path d="M493.8 2119.8L633.1 2084.7M607.2 1883.9L668.4 1978.3" stroke="#ef4b24" stroke-opacity="0.300" stroke-width="1.05" fill="none"/>
<path d="M620.8 1893.6L526.9 2125.9M576.8 2119.8L668.4 2011.3" stroke="#ef4b24" stroke-opacity="0.317" stroke-width="1.09" fill="none"/>
<path d="M417.7 1931.5L668.4 2011.3M426.7 2072L633.1 1904.9" stroke="#ef4b24" stroke-opacity="0.333" stroke-width="1.13" fill="none"/>
<path d="M668.4 2011.3L607.2 1883.9M576.8 1869.8L652.9 2058.1" stroke="#ef4b24" stroke-opacity="0.350" stroke-width="1.29" fill="none"/>
<line x1="643.9" y1="1917.6" x2="560.4" y2="2123.9" stroke="#ef4b24" stroke-opacity="0.80" stroke-width="2.34"/>
<line x1="526.9" y1="2125.9" x2="665.3" y2="2027.5" stroke="#ef4b24" stroke-opacity="0.76" stroke-width="1.72"/>
<line x1="543.7" y1="2125.9" x2="652.9" y2="2058.1" stroke="#ef4b24" stroke-opacity="0.80" stroke-width="2.03"/>
<line x1="668.4" y1="2011.3" x2="633.1" y2="2084.7" stroke="#ef4b24" stroke-opacity="0.71" stroke-width="1.40"/>
<line x1="426.7" y1="2072" x2="668.4" y2="2011.3" stroke="#ef4b24" stroke-opacity="0.50" stroke-width="0.94"/>
<line x1="426.7" y1="2072" x2="668.4" y2="1978.3" stroke="#ef4b24" stroke-opacity="0.46" stroke-width="0.86"/>
<line x1="426.7" y1="2072" x2="633.1" y2="2084.7" stroke="#ef4b24" stroke-opacity="0.46" stroke-width="0.78"/>
<line x1="426.7" y1="2072" x2="607.2" y2="2105.7" stroke="#ef4b24" stroke-opacity="0.42" stroke-width="0.78"/>
<line x1="463.4" y1="2105.7" x2="478.2" y2="1875.9" stroke="#ef4b24" stroke-opacity="0.46" stroke-width="0.86"/>
<line x1="463.4" y1="2105.7" x2="643.9" y2="1917.6" stroke="#ef4b24" stroke-opacity="0.42" stroke-width="0.78"/>
<line x1="417.7" y1="1931.5" x2="643.9" y2="1917.6" stroke="#ef4b24" stroke-opacity="0.42" stroke-width="0.78"/>
<line x1="449.8" y1="1893.6" x2="607.2" y2="1883.9" stroke="#ef4b24" stroke-opacity="0.42" stroke-width="0.78"/>
<line x1="426.7" y1="2072" x2="607.2" y2="1883.9" stroke="#ef4b24" stroke-opacity="0.42" stroke-width="0.78"/>
<line x1="463.4" y1="2105.7" x2="620.8" y2="1893.6" stroke="#ef4b24" stroke-opacity="0.42" stroke-width="0.78"/>
<line x1="463.4" y1="1883.9" x2="526.9" y2="2125.9" stroke="#ef4b24" stroke-opacity="0.42" stroke-width="0.78"/>
<g fill="#000"><circle cx="669.5" cy="1994.8" r="0.95"/><circle cx="668.4" cy="1978.3" r="1.75"/><circle cx="665.3" cy="1962.1" r="0.95"/><circle cx="660.1" cy="1946.4" r="0.95"/><circle cx="652.9" cy="1931.5" r="0.95"/><circle cx="643.9" cy="1917.6" r="1.75"/><circle cx="633.1" cy="1904.9" r="0.95"/><circle cx="620.8" cy="1893.6" r="1.35"/><circle cx="607.2" cy="1883.9" r="1.75"/><circle cx="592.4" cy="1875.9" r="0.95"/><circle cx="576.8" cy="1869.8" r="0.95"/><circle cx="560.4" cy="1865.7" r="0.95"/><circle cx="543.7" cy="1863.7" r="0.95"/><circle cx="526.9" cy="1863.7" r="0.95"/><circle cx="510.2" cy="1865.7" r="0.95"/><circle cx="493.8" cy="1869.8" r="0.95"/><circle cx="478.2" cy="1875.9" r="0.95"/><circle cx="463.4" cy="1883.9" r="0.95"/><circle cx="449.8" cy="1893.6" r="0.95"/><circle cx="437.5" cy="1904.9" r="0.95"/><circle cx="426.7" cy="1917.6" r="0.95"/><circle cx="417.7" cy="1931.5" r="0.95"/><circle cx="410.5" cy="1946.4" r="0.95"/><circle cx="405.3" cy="1962.1" r="0.95"/><circle cx="402.2" cy="1978.3" r="0.95"/><circle cx="401.1" cy="1994.8" r="0.95"/><circle cx="402.2" cy="2011.3" r="0.95"/><circle cx="405.3" cy="2027.5" r="0.95"/><circle cx="410.5" cy="2043.2" r="0.95"/><circle cx="417.7" cy="2058.1" r="1.35"/><circle cx="426.7" cy="2072" r="2.15"/><circle cx="437.5" cy="2084.7" r="0.95"/><circle cx="449.8" cy="2096" r="0.95"/><circle cx="463.4" cy="2105.7" r="1.75"/><circle cx="478.2" cy="2113.7" r="0.95"/><circle cx="493.8" cy="2119.8" r="0.95"/><circle cx="510.2" cy="2123.9" r="1.35"/><circle cx="526.9" cy="2125.9" r="0.95"/><circle cx="543.7" cy="2125.9" r="1.75"/><circle cx="560.4" cy="2123.9" r="1.75"/><circle cx="576.8" cy="2119.8" r="1.35"/><circle cx="592.4" cy="2113.7" r="1.35"/><circle cx="607.2" cy="2105.7" r="0.95"/><circle cx="620.8" cy="2096" r="1.35"/><circle cx="633.1" cy="2084.7" r="1.75"/><circle cx="643.9" cy="2072" r="0.95"/><circle cx="652.9" cy="2058.1" r="0.95"/><circle cx="660.1" cy="2043.2" r="0.95"/><circle cx="665.3" cy="2027.5" r="0.95"/><circle cx="668.4" cy="2011.3" r="1.75"/></g>
<g font-weight="normal" fill="#000"><text transform="translate(673.1,1994.8) rotate(-0.0) translate(0,1.6)" font-size="4.5">Snap25</text><text transform="translate(672,1976.5) rotate(-26.8) translate(0,2.5)" font-size="7.2">Grin1</text><text transform="translate(667.8,1959.5) rotate(-45.8) translate(0,1.6)" font-size="4.5">Syt1</text><text transform="translate(662,1943.4) rotate(-57.7) translate(0,1.6)" font-size="4.5">Rbfox3</text><text transform="translate(654.4,1928.2) rotate(-65.5) translate(0,1.6)" font-size="4.5">Scn2a</text><text transform="translate(645.2,1913.8) rotate(-71.0) translate(0,2.5)" font-size="7.2">Ptprn2</text><text transform="translate(634.1,1901.4) rotate(-75.1) translate(0,1.6)" font-size="4.5">Cplx2</text><text transform="translate(621.6,1889.8) rotate(-78.3) translate(0,2)" font-size="5.8">Lrfn5</text><text transform="translate(607.8,1879.9) rotate(-81.0) translate(0,2.5)" font-size="7.2">Sipa1l1</text><text transform="translate(592.9,1872.3) rotate(-83.3) translate(0,1.6)" font-size="4.5">Gria2</text><text transform="translate(577.1,1866.2) rotate(-85.4) translate(0,1.6)" font-size="4.5">Nrgn</text><text transform="translate(560.6,1862.1) rotate(-87.3) translate(0,1.6)" font-size="4.5">Kcnq5</text><text transform="translate(543.8,1860.1) rotate(-89.1) translate(0,1.6)" font-size="4.5">Pak6</text><text transform="translate(526.8,1860.1) rotate(-90.9) translate(0,1.6)" font-size="4.5">Kcnb2</text><text transform="translate(510,1862.1) rotate(-92.7) translate(0,1.6)" font-size="4.5">Nrxn3</text><text transform="translate(493.5,1866.2) rotate(-94.6) translate(0,1.6)" font-size="4.5">Ntrk3</text><text transform="translate(477.7,1872.3) rotate(-96.7) translate(0,1.6)" font-size="4.5">Syp</text><text transform="translate(462.8,1880.3) rotate(-99.0) translate(0,1.6)" font-size="4.5">Tenm2</text><text transform="translate(449,1890) rotate(-101.7) translate(0,1.6)" font-size="4.5">Gabra1</text><text transform="translate(436.5,1901.4) rotate(-104.9) translate(0,1.6)" font-size="4.5">Celf4</text><text transform="translate(425.6,1914.2) rotate(-109.0) translate(0,1.6)" font-size="4.5">Atp1a3</text><text transform="translate(416.2,1928.2) rotate(-114.5) translate(0,1.6)" font-size="4.5">Rph3a</text><text transform="translate(408.6,1943.4) rotate(-122.3) translate(0,1.6)" font-size="4.5">Mast1</text><text transform="translate(402.8,1959.5) rotate(-134.2) translate(0,1.6)" font-size="4.5">Nefl</text><text transform="translate(398.9,1976.7) rotate(-153.2) translate(0,1.6)" font-size="4.5">Nell2</text><text transform="translate(397.5,1994.8) rotate(-180.0) translate(0,1.6)" font-size="4.5">Pde2a</text><text transform="translate(398.9,2012.9) rotate(-26.8) translate(0,1.6)" font-size="4.5" text-anchor="end">Stxbp1</text><text transform="translate(402.8,2030.1) rotate(-45.8) translate(0,1.6)" font-size="4.5" text-anchor="end">Dlg4</text><text transform="translate(408.6,2046.2) rotate(-57.7) translate(0,1.6)" font-size="4.5" text-anchor="end">Kalrn</text><text transform="translate(416.1,2061.6) rotate(-65.5) translate(0,2)" font-size="5.8" text-anchor="end">Frmpd4</text><text transform="translate(425.2,2076.4) rotate(-71.0) translate(0,3.7)" font-size="10.5" font-weight="bold" text-anchor="end">Ankrd33b</text><text transform="translate(436.5,2088.2) rotate(-75.1) translate(0,1.6)" font-size="4.5" text-anchor="end">Atp2b2</text><text transform="translate(449,2099.6) rotate(-78.3) translate(0,1.6)" font-size="4.5" text-anchor="end">Pcp4</text><text transform="translate(462.8,2109.7) rotate(-81.0) translate(0,2.5)" font-size="7.2" text-anchor="end">Grm7</text><text transform="translate(477.7,2117.3) rotate(-83.3) translate(0,1.6)" font-size="4.5" text-anchor="end">Satb2</text><text transform="translate(493.5,2123.4) rotate(-85.4) translate(0,1.6)" font-size="4.5" text-anchor="end">Stx1a</text><text transform="translate(510,2127.7) rotate(-87.3) translate(0,2)" font-size="5.8" text-anchor="end">Fat4</text><text transform="translate(526.8,2129.5) rotate(-89.1) translate(0,1.6)" font-size="4.5" text-anchor="end">Gm30382</text><text transform="translate(543.8,2129.9) rotate(-90.9) translate(0,2.5)" font-size="7.2" text-anchor="end">Sorbs2</text><text transform="translate(560.6,2127.9) rotate(-92.7) translate(0,2.5)" font-size="7.2" text-anchor="end">Gabrb3</text><text transform="translate(577.1,2123.6) rotate(-94.6) translate(0,2)" font-size="5.8" text-anchor="end">Nin</text><text transform="translate(592.9,2117.5) rotate(-96.7) translate(0,2)" font-size="5.8" text-anchor="end">Syngr3</text><text transform="translate(607.8,2109.3) rotate(-99.0) translate(0,1.6)" font-size="4.5" text-anchor="end">Shank1</text><text transform="translate(621.6,2099.8) rotate(-101.7) translate(0,2)" font-size="5.8" text-anchor="end">Sorbs1</text><text transform="translate(634.2,2088.6) rotate(-104.9) translate(0,2.5)" font-size="7.2" text-anchor="end">Camkk2</text><text transform="translate(645,2075.4) rotate(-109.0) translate(0,1.6)" font-size="4.5" text-anchor="end">Nrn1</text><text transform="translate(654.4,2061.4) rotate(-114.5) translate(0,1.6)" font-size="4.5" text-anchor="end">Sorcs3</text><text transform="translate(662,2046.2) rotate(-122.3) translate(0,1.6)" font-size="4.5" text-anchor="end">Kcnc2</text><text transform="translate(667.8,2030.1) rotate(-134.2) translate(0,1.6)" font-size="4.5" text-anchor="end">Adgrl2</text><text transform="translate(672,2013.1) rotate(-153.2) translate(0,2.5)" font-size="7.2" text-anchor="end">Zfyve28</text></g>
<polygon points="982.1,1995.7 981,1979.2 977.9,1963 972.7,1947.3 965.5,1932.4 956.5,1918.5 945.7,1905.8 933.4,1894.5 919.8,1884.8 905,1876.8 889.4,1870.7 873,1866.6 856.3,1864.6 839.5,1864.6 822.8,1866.6 806.4,1870.7 790.8,1876.8 776,1884.8 762.4,1894.5 750.1,1905.8 739.3,1918.5 730.3,1932.4 723.1,1947.3 717.9,1963 714.8,1979.2 713.7,1995.7 714.8,2012.2 717.9,2028.4 723.1,2044.1 730.3,2059 739.3,2072.9 750.1,2085.6 762.4,2096.9 776,2106.6 790.8,2114.6 806.4,2120.7 822.8,2124.8 839.5,2126.8 856.3,2126.8 873,2124.8 889.4,2120.7 905,2114.6 919.8,2106.6 933.4,2096.9 945.7,2085.6 956.5,2072.9 965.5,2059 972.7,2044.1 977.9,2028.4 981,2012.2" fill="#ef4b24" fill-opacity="0.015" stroke="#ef4b24" stroke-opacity="0.04" stroke-width="1.5"/>
<path d="M730.3 2059L956.5 1918.5M956.5 1918.5L730.3 2059M956.5 1918.5L776 1884.8M977.9 1963L933.4 1894.5M776 2106.6L977.9 2028.4M956.5 1918.5L730.3 2059M933.4 2096.9L945.7 1905.8M776 1884.8L933.4 1894.5" stroke="#ef4b24" stroke-opacity="0.025" stroke-width="0.99" fill="none"/>
<path d="M714.8 1979.2L873 1866.6M919.8 2106.6L714.8 2012.2M776 1884.8L873 1866.6M945.7 1905.8L750.1 2085.6M776 1884.8L972.7 1947.3M933.4 1894.5L750.1 2085.6M977.9 1963L776 1884.8M945.7 2085.6L905 2114.6M806.4 2120.7L945.7 2085.6" stroke="#ef4b24" stroke-opacity="0.028" stroke-width="0.89" fill="none"/>
<path d="M982.1 1995.7L776 2106.6M956.5 1918.5L776 2106.6M730.3 1932.4L956.5 2072.9M730.3 2059L945.7 1905.8M981 2012.2L839.5 2126.8M776 1884.8L972.7 1947.3M956.5 1918.5L965.5 2059M889.4 2120.7L790.8 1876.8" stroke="#ef4b24" stroke-opacity="0.031" stroke-width="0.97" fill="none"/>
<path d="M717.9 1963L839.5 2126.8M822.8 1866.6L933.4 1894.5M873 1866.6L750.1 1905.8M750.1 2085.6L956.5 1918.5M965.5 2059L776 2106.6M977.9 1963L839.5 2126.8M981 1979.2L945.7 2085.6M873 1866.6L956.5 1918.5M750.1 2085.6L905 2114.6" stroke="#ef4b24" stroke-opacity="0.033" stroke-width="0.78" fill="none"/>
<path d="M776 1884.8L856.3 2126.8M717.9 1963L956.5 1918.5M919.8 2106.6L739.3 2072.9M956.5 1918.5L762.4 2096.9M790.8 1876.8L965.5 1932.4M956.5 1918.5L790.8 2114.6M965.5 2059L739.3 1918.5M776 1884.8L889.4 2120.7M822.8 2124.8L723.1 1947.3" stroke="#ef4b24" stroke-opacity="0.036" stroke-width="0.70" fill="none"/>
<path d="M856.3 1864.6L873 2124.8M919.8 1884.8L905 2114.6M856.3 1864.6L717.9 1963M723.1 1947.3L933.4 2096.9M806.4 2120.7L956.5 1918.5M956.5 1918.5L776 1884.8M873 2124.8L972.7 1947.3M776 1884.8L982.1 1995.7M956.5 1918.5L739.3 2072.9" stroke="#ef4b24" stroke-opacity="0.039" stroke-width="0.96" fill="none"/>
<path d="M806.4 2120.7L750.1 1905.8M776 2106.6L982.1 1995.7M717.9 1963L945.7 1905.8M750.1 2085.6L776 2106.6M723.1 2044.1L723.1 1947.3M977.9 1963L717.9 2028.4M956.5 1918.5L982.1 1995.7M822.8 1866.6L956.5 1918.5M723.1 1947.3L873 2124.8" stroke="#ef4b24" stroke-opacity="0.042" stroke-width="0.71" fill="none"/>
<path d="M717.9 2028.4L776 2106.6M856.3 2126.8L981 1979.2M776 1884.8L822.8 1866.6M956.5 1918.5L873 2124.8M714.8 1979.2L965.5 1932.4M873 2124.8L905 1876.8M965.5 1932.4L982.1 1995.7M739.3 2072.9L856.3 2126.8M723.1 2044.1L806.4 2120.7" stroke="#ef4b24" stroke-opacity="0.045" stroke-width="1.00" fill="none"/>
<path d="M933.4 1894.5L723.1 2044.1M790.8 1876.8L933.4 2096.9M873 2124.8L806.4 1870.7M956.5 1918.5L739.3 2072.9M965.5 1932.4L714.8 2012.2M723.1 2044.1L956.5 2072.9M873 2124.8L956.5 1918.5M956.5 2072.9L956.5 1918.5" stroke="#ef4b24" stroke-opacity="0.048" stroke-width="0.84" fill="none"/>
<path d="M873 2124.8L873 1866.6M739.3 2072.9L822.8 1866.6M776 2106.6L977.9 2028.4M981 1979.2L714.8 2012.2M839.5 1864.6L717.9 1963M730.3 2059L856.3 1864.6M776 1884.8L956.5 1918.5" stroke="#ef4b24" stroke-opacity="0.050" stroke-width="0.72" fill="none"/>
<path d="M873 2124.8L776 2106.6M956.5 2072.9L776 1884.8M933.4 2096.9L730.3 1932.4M945.7 1905.8L839.5 1864.6M806.4 2120.7L905 2114.6M956.5 1918.5L750.1 1905.8M945.7 2085.6L873 2124.8" stroke="#ef4b24" stroke-opacity="0.053" stroke-width="0.78" fill="none"/>
<path d="M889.4 2120.7L790.8 1876.8M956.5 1918.5L981 2012.2M730.3 2059L806.4 1870.7M776 2106.6L873 2124.8M945.7 1905.8L723.1 2044.1M933.4 1894.5L776 2106.6M933.4 1894.5L977.9 2028.4M714.8 2012.2L972.7 2044.1" stroke="#ef4b24" stroke-opacity="0.056" stroke-width="0.92" fill="none"/>
<path d="M956.5 1918.5L873 2124.8M972.7 1947.3L739.3 1918.5M762.4 1894.5L714.8 1979.2M956.5 1918.5L965.5 2059M776 1884.8L905 1876.8M776 1884.8L730.3 2059M714.8 2012.2L856.3 2126.8" stroke="#ef4b24" stroke-opacity="0.059" stroke-width="0.82" fill="none"/>
<path d="M873 2124.8L730.3 1932.4M822.8 2124.8L762.4 1894.5M873 2124.8L956.5 2072.9M945.7 2085.6L730.3 1932.4M905 1876.8L723.1 2044.1M977.9 2028.4L972.7 1947.3M723.1 2044.1L750.1 2085.6M714.8 1979.2L776 1884.8" stroke="#ef4b24" stroke-opacity="0.062" stroke-width="0.89" fill="none"/>
<path d="M956.5 1918.5L933.4 1894.5M977.9 2028.4L889.4 1870.7M839.5 1864.6L982.1 1995.7M856.3 2126.8L730.3 1932.4M945.7 2085.6L750.1 1905.8M945.7 2085.6L839.5 2126.8M717.9 1963L856.3 1864.6M981 2012.2L873 2124.8" stroke="#ef4b24" stroke-opacity="0.065" stroke-width="0.73" fill="none"/>
<path d="M750.1 2085.6L839.5 1864.6M977.9 2028.4L933.4 2096.9M730.3 1932.4L972.7 1947.3M856.3 1864.6L790.8 2114.6M933.4 1894.5L806.4 1870.7M776 2106.6L806.4 2120.7M956.5 1918.5L919.8 2106.6M730.3 2059L905 2114.6" stroke="#ef4b24" stroke-opacity="0.067" stroke-width="0.95" fill="none"/>
<path d="M965.5 2059L730.3 2059M776 2106.6L919.8 2106.6M981 1979.2L856.3 2126.8M965.5 1932.4L873 2124.8M889.4 1870.7L723.1 2044.1M762.4 2096.9L839.5 1864.6M933.4 1894.5L730.3 1932.4M762.4 2096.9L873 2124.8" stroke="#ef4b24" stroke-opacity="0.070" stroke-width="0.81" fill="none"/>
<path d="M933.4 1894.5L762.4 2096.9M730.3 1932.4L873 2124.8M956.5 1918.5L790.8 2114.6M977.9 2028.4L839.5 1864.6M873 2124.8L723.1 2044.1M730.3 1932.4L933.4 1894.5M873 2124.8L723.1 2044.1M965.5 1932.4L956.5 1918.5" stroke="#ef4b24" stroke-opacity="0.073" stroke-width="0.95" fill="none"/>
<path d="M776 1884.8L956.5 2072.9M873 2124.8L714.8 2012.2M776 1884.8L965.5 2059M965.5 2059L956.5 1918.5M933.4 1894.5L806.4 1870.7M889.4 2120.7L856.3 2126.8M965.5 2059L873 2124.8M956.5 1918.5L730.3 2059" stroke="#ef4b24" stroke-opacity="0.076" stroke-width="0.74" fill="none"/>
<path d="M945.7 2085.6L713.7 1995.7M717.9 1963L790.8 2114.6M889.4 2120.7L972.7 1947.3M889.4 2120.7L856.3 1864.6M776 1884.8L730.3 1932.4M873 2124.8L919.8 1884.8M713.7 1995.7L956.5 1918.5M806.4 2120.7L945.7 1905.8" stroke="#ef4b24" stroke-opacity="0.079" stroke-width="0.90" fill="none"/>
<path d="M762.4 2096.9L776 2106.6M750.1 1905.8L956.5 1918.5M933.4 1894.5L965.5 2059M972.7 2044.1L739.3 1918.5M762.4 1894.5L981 2012.2M730.3 2059L873 1866.6M730.3 2059L717.9 1963M713.7 1995.7L956.5 1918.5" stroke="#ef4b24" stroke-opacity="0.082" stroke-width="0.84" fill="none"/>
<path d="M873 2124.8L977.9 2028.4M822.8 2124.8L856.3 1864.6M739.3 2072.9L739.3 1918.5M956.5 2072.9L977.9 1963M723.1 2044.1L776 2106.6M873 2124.8L822.8 2124.8M905 2114.6L714.8 2012.2M776 2106.6L856.3 2126.8" stroke="#ef4b24" stroke-opacity="0.084" stroke-width="0.82" fill="none"/>
<path d="M981 1979.2L776 1884.8M714.8 1979.2L873 2124.8M956.5 1918.5L873 2124.8M790.8 2114.6L762.4 2096.9M981 2012.2L790.8 2114.6M776 2106.6L873 2124.8M956.5 1918.5L977.9 2028.4" stroke="#ef4b24" stroke-opacity="0.087" stroke-width="0.71" fill="none"/>
<path d="M730.3 2059L822.8 1866.6M933.4 1894.5L981 1979.2M714.8 1979.2L717.9 1963M750.1 2085.6L717.9 2028.4M873 2124.8L776 1884.8M776 2106.6L856.3 2126.8M717.9 1963L873 2124.8M776 2106.6L956.5 1918.5" stroke="#ef4b24" stroke-opacity="0.090" stroke-width="0.86" fill="none"/>
<path d="M873 2124.8L956.5 1918.5" stroke="#ef4b24" stroke-opacity="0.180" stroke-width="1.08" fill="none"/>
<path d="M730.3 1932.4L982.1 1995.7" stroke="#ef4b24" stroke-opacity="0.196" stroke-width="1.29" fill="none"/>
<path d="M981 2012.2L977.9 2028.4" stroke="#ef4b24" stroke-opacity="0.211" stroke-width="1.19" fill="none"/>
<path d="M776 2106.6L717.9 1963" stroke="#ef4b24" stroke-opacity="0.227" stroke-width="0.92" fill="none"/>
<path d="M965.5 1932.4L956.5 1918.5" stroke="#ef4b24" stroke-opacity="0.242" stroke-width="1.20" fill="none"/>
<path d="M790.8 2114.6L873 2124.8" stroke="#ef4b24" stroke-opacity="0.258" stroke-width="1.16" fill="none"/>
<path d="M981 2012.2L905 2114.6" stroke="#ef4b24" stroke-opacity="0.273" stroke-width="1.15" fill="none"/>
<path d="M730.3 1932.4L873 1866.6" stroke="#ef4b24" stroke-opacity="0.289" stroke-width="0.90" fill="none"/>
<path d="M717.9 2028.4L776 1884.8" stroke="#ef4b24" stroke-opacity="0.304" stroke-width="1.25" fill="none"/>
<path d="M717.9 2028.4L919.8 2106.6" stroke="#ef4b24" stroke-opacity="0.320" stroke-width="1.10" fill="none"/>
<line x1="776" y1="1884.8" x2="933.4" y2="1894.5" stroke="#ef4b24" stroke-opacity="0.71" stroke-width="1.40"/>
<line x1="776" y1="1884.8" x2="956.5" y2="1918.5" stroke="#ef4b24" stroke-opacity="0.71" stroke-width="1.56"/>
<line x1="933.4" y1="1894.5" x2="956.5" y2="1918.5" stroke="#ef4b24" stroke-opacity="0.80" stroke-width="2.03"/>
<line x1="776" y1="1884.8" x2="776" y2="2106.6" stroke="#ef4b24" stroke-opacity="0.67" stroke-width="1.40"/>
<line x1="776" y1="1884.8" x2="873" y2="2124.8" stroke="#ef4b24" stroke-opacity="0.71" stroke-width="1.40"/>
<line x1="776" y1="2106.6" x2="933.4" y2="1894.5" stroke="#ef4b24" stroke-opacity="0.71" stroke-width="1.40"/>
<line x1="776" y1="2106.6" x2="956.5" y2="1918.5" stroke="#ef4b24" stroke-opacity="0.71" stroke-width="1.40"/>
<line x1="873" y1="2124.8" x2="956.5" y2="1918.5" stroke="#ef4b24" stroke-opacity="0.80" stroke-width="2.34"/>
<line x1="873" y1="2124.8" x2="933.4" y2="1894.5" stroke="#ef4b24" stroke-opacity="0.67" stroke-width="1.17"/>
<line x1="776" y1="2106.6" x2="873" y2="2124.8" stroke="#ef4b24" stroke-opacity="0.67" stroke-width="1.17"/>
<line x1="839.5" y1="2126.8" x2="977.9" y2="2028.4" stroke="#ef4b24" stroke-opacity="0.76" stroke-width="1.56"/>
<line x1="730.3" y1="2059" x2="776" y2="1884.8" stroke="#ef4b24" stroke-opacity="0.42" stroke-width="0.78"/>
<line x1="730.3" y1="2059" x2="873" y2="2124.8" stroke="#ef4b24" stroke-opacity="0.42" stroke-width="0.78"/>
<line x1="723.1" y1="2044.1" x2="956.5" y2="1918.5" stroke="#ef4b24" stroke-opacity="0.38" stroke-width="0.70"/>
<line x1="730.3" y1="2059" x2="933.4" y2="1894.5" stroke="#ef4b24" stroke-opacity="0.38" stroke-width="0.70"/>
<line x1="723.1" y1="2044.1" x2="776" y2="1884.8" stroke="#ef4b24" stroke-opacity="0.34" stroke-width="0.70"/>
<line x1="730.3" y1="2059" x2="956.5" y2="1918.5" stroke="#ef4b24" stroke-opacity="0.34" stroke-width="0.70"/>
<line x1="776" y1="2106.6" x2="856.3" y2="2126.8" stroke="#ef4b24" stroke-opacity="0.50" stroke-width="0.94"/>
<g fill="#000"><circle cx="982.1" cy="1995.7" r="0.95"/><circle cx="981" cy="1979.2" r="0.95"/><circle cx="977.9" cy="1963" r="0.95"/><circle cx="972.7" cy="1947.3" r="0.95"/><circle cx="965.5" cy="1932.4" r="0.95"/><circle cx="956.5" cy="1918.5" r="2.15"/><circle cx="945.7" cy="1905.8" r="0.95"/><circle cx="933.4" cy="1894.5" r="2.15"/><circle cx="919.8" cy="1884.8" r="0.95"/><circle cx="905" cy="1876.8" r="0.95"/><circle cx="889.4" cy="1870.7" r="0.95"/><circle cx="873" cy="1866.6" r="0.95"/><circle cx="856.3" cy="1864.6" r="0.95"/><circle cx="839.5" cy="1864.6" r="0.95"/><circle cx="822.8" cy="1866.6" r="0.95"/><circle cx="806.4" cy="1870.7" r="0.95"/><circle cx="790.8" cy="1876.8" r="0.95"/><circle cx="776" cy="1884.8" r="2.15"/><circle cx="762.4" cy="1894.5" r="0.95"/><circle cx="750.1" cy="1905.8" r="0.95"/><circle cx="739.3" cy="1918.5" r="0.95"/><circle cx="730.3" cy="1932.4" r="0.95"/><circle cx="723.1" cy="1947.3" r="0.95"/><circle cx="717.9" cy="1963" r="0.95"/><circle cx="714.8" cy="1979.2" r="0.95"/><circle cx="713.7" cy="1995.7" r="0.95"/><circle cx="714.8" cy="2012.2" r="0.95"/><circle cx="717.9" cy="2028.4" r="0.95"/><circle cx="723.1" cy="2044.1" r="0.95"/><circle cx="730.3" cy="2059" r="1.75"/><circle cx="739.3" cy="2072.9" r="0.95"/><circle cx="750.1" cy="2085.6" r="0.95"/><circle cx="762.4" cy="2096.9" r="0.95"/><circle cx="776" cy="2106.6" r="2.15"/><circle cx="790.8" cy="2114.6" r="0.95"/><circle cx="806.4" cy="2120.7" r="0.95"/><circle cx="822.8" cy="2124.8" r="0.95"/><circle cx="839.5" cy="2126.8" r="1.35"/><circle cx="856.3" cy="2126.8" r="0.95"/><circle cx="873" cy="2124.8" r="2.15"/><circle cx="889.4" cy="2120.7" r="0.95"/><circle cx="905" cy="2114.6" r="0.95"/><circle cx="919.8" cy="2106.6" r="0.95"/><circle cx="933.4" cy="2096.9" r="0.95"/><circle cx="945.7" cy="2085.6" r="0.95"/><circle cx="956.5" cy="2072.9" r="0.95"/><circle cx="965.5" cy="2059" r="0.95"/><circle cx="972.7" cy="2044.1" r="0.95"/><circle cx="977.9" cy="2028.4" r="1.35"/><circle cx="981" cy="2012.2" r="0.95"/></g>
<g font-weight="normal" fill="#000"><text transform="translate(985.7,1995.7) rotate(-0.0) translate(0,1.6)" font-size="4.5">Snap25</text><text transform="translate(984.3,1977.6) rotate(-26.8) translate(0,1.6)" font-size="4.5">Grin1</text><text transform="translate(980.4,1960.4) rotate(-45.8) translate(0,1.6)" font-size="4.5">Syt1</text><text transform="translate(974.6,1944.3) rotate(-57.7) translate(0,1.6)" font-size="4.5">Rbfox3</text><text transform="translate(967,1929.1) rotate(-65.5) translate(0,1.6)" font-size="4.5">Scn2a</text><text transform="translate(958,1914.1) rotate(-71.0) translate(0,3.7)" font-size="10.5" font-weight="bold">Ptprn2</text><text transform="translate(946.7,1902.3) rotate(-75.1) translate(0,1.6)" font-size="4.5">Cplx2</text><text transform="translate(934.4,1889.9) rotate(-78.3) translate(0,3.7)" font-size="10.5" font-weight="bold">Lrfn5</text><text transform="translate(920.4,1881.2) rotate(-81.0) translate(0,1.6)" font-size="4.5">Sipa1l1</text><text transform="translate(905.5,1873.2) rotate(-83.3) translate(0,1.6)" font-size="4.5">Gria2</text><text transform="translate(889.7,1867.1) rotate(-85.4) translate(0,1.6)" font-size="4.5">Nrgn</text><text transform="translate(873.2,1863) rotate(-87.3) translate(0,1.6)" font-size="4.5">Kcnq5</text><text transform="translate(856.4,1861) rotate(-89.1) translate(0,1.6)" font-size="4.5">Pak6</text><text transform="translate(839.4,1861) rotate(-90.9) translate(0,1.6)" font-size="4.5">Kcnb2</text><text transform="translate(822.6,1863) rotate(-92.7) translate(0,1.6)" font-size="4.5">Nrxn3</text><text transform="translate(806.1,1867.1) rotate(-94.6) translate(0,1.6)" font-size="4.5">Ntrk3</text><text transform="translate(790.3,1873.2) rotate(-96.7) translate(0,1.6)" font-size="4.5">Syp</text><text transform="translate(775.3,1880.2) rotate(-99.0) translate(0,3.7)" font-size="10.5" font-weight="bold">Tenm2</text><text transform="translate(761.6,1890.9) rotate(-101.7) translate(0,1.6)" font-size="4.5">Gabra1</text><text transform="translate(749.1,1902.3) rotate(-104.9) translate(0,1.6)" font-size="4.5">Celf4</text><text transform="translate(738.2,1915.1) rotate(-109.0) translate(0,1.6)" font-size="4.5">Atp1a3</text><text transform="translate(728.8,1929.1) rotate(-114.5) translate(0,1.6)" font-size="4.5">Rph3a</text><text transform="translate(721.2,1944.3) rotate(-122.3) translate(0,1.6)" font-size="4.5">Mast1</text><text transform="translate(715.4,1960.4) rotate(-134.2) translate(0,1.6)" font-size="4.5">Nefl</text><text transform="translate(711.5,1977.6) rotate(-153.2) translate(0,1.6)" font-size="4.5">Nell2</text><text transform="translate(710.1,1995.7) rotate(-180.0) translate(0,1.6)" font-size="4.5">Pde2a</text><text transform="translate(711.5,2013.8) rotate(-26.8) translate(0,1.6)" font-size="4.5" text-anchor="end">Stxbp1</text><text transform="translate(715.4,2031) rotate(-45.8) translate(0,1.6)" font-size="4.5" text-anchor="end">Dlg4</text><text transform="translate(721.2,2047.1) rotate(-57.7) translate(0,1.6)" font-size="4.5" text-anchor="end">Kalrn</text><text transform="translate(728.6,2062.6) rotate(-65.5) translate(0,2.5)" font-size="7.2" text-anchor="end">Frmpd4</text><text transform="translate(738.2,2076.3) rotate(-71.0) translate(0,1.6)" font-size="4.5" text-anchor="end">Ankrd33b</text><text transform="translate(749.1,2089.1) rotate(-75.1) translate(0,1.6)" font-size="4.5" text-anchor="end">Atp2b2</text><text transform="translate(761.6,2100.5) rotate(-78.3) translate(0,1.6)" font-size="4.5" text-anchor="end">Pcp4</text><text transform="translate(775.3,2111.2) rotate(-81.0) translate(0,3.7)" font-size="10.5" font-weight="bold" text-anchor="end">Grm7</text><text transform="translate(790.3,2118.2) rotate(-83.3) translate(0,1.6)" font-size="4.5" text-anchor="end">Satb2</text><text transform="translate(806.1,2124.3) rotate(-85.4) translate(0,1.6)" font-size="4.5" text-anchor="end">Stx1a</text><text transform="translate(822.6,2128.4) rotate(-87.3) translate(0,1.6)" font-size="4.5" text-anchor="end">Fat4</text><text transform="translate(839.4,2130.6) rotate(-89.1) translate(0,2)" font-size="5.8" text-anchor="end">Gm30382</text><text transform="translate(856.4,2130.4) rotate(-90.9) translate(0,1.6)" font-size="4.5" text-anchor="end">Sorbs2</text><text transform="translate(873.3,2129.4) rotate(-92.7) translate(0,3.7)" font-size="10.5" font-weight="bold" text-anchor="end">Gabrb3</text><text transform="translate(889.7,2124.3) rotate(-94.6) translate(0,1.6)" font-size="4.5" text-anchor="end">Nin</text><text transform="translate(905.5,2118.2) rotate(-96.7) translate(0,1.6)" font-size="4.5" text-anchor="end">Syngr3</text><text transform="translate(920.4,2110.2) rotate(-99.0) translate(0,1.6)" font-size="4.5" text-anchor="end">Shank1</text><text transform="translate(934.2,2100.5) rotate(-101.7) translate(0,1.6)" font-size="4.5" text-anchor="end">Sorbs1</text><text transform="translate(946.7,2089.1) rotate(-104.9) translate(0,1.6)" font-size="4.5" text-anchor="end">Camkk2</text><text transform="translate(957.6,2076.3) rotate(-109.0) translate(0,1.6)" font-size="4.5" text-anchor="end">Nrn1</text><text transform="translate(967,2062.3) rotate(-114.5) translate(0,1.6)" font-size="4.5" text-anchor="end">Sorcs3</text><text transform="translate(974.6,2047.1) rotate(-122.3) translate(0,1.6)" font-size="4.5" text-anchor="end">Kcnc2</text><text transform="translate(980.5,2031.1) rotate(-134.2) translate(0,2)" font-size="5.8" text-anchor="end">Adgrl2</text><text transform="translate(984.3,2013.8) rotate(-153.2) translate(0,1.6)" font-size="4.5" text-anchor="end">Zfyve28</text></g>
<polygon points="668.6,2329.3 667.5,2312.8 664.4,2296.6 659.2,2280.9 652,2266 643,2252.1 632.2,2239.4 619.9,2228.1 606.3,2218.4 591.5,2210.4 575.9,2204.3 559.5,2200.2 542.8,2198.2 526,2198.2 509.3,2200.2 492.9,2204.3 477.3,2210.4 462.5,2218.4 448.9,2228.1 436.6,2239.4 425.8,2252.1 416.8,2266 409.6,2280.9 404.4,2296.6 401.3,2312.8 400.2,2329.3 401.3,2345.8 404.4,2362 409.6,2377.7 416.8,2392.6 425.8,2406.5 436.6,2419.2 448.9,2430.5 462.5,2440.2 477.3,2448.2 492.9,2454.3 509.3,2458.4 526,2460.4 542.8,2460.4 559.5,2458.4 575.9,2454.3 591.5,2448.2 606.3,2440.2 619.9,2430.5 632.2,2419.2 643,2406.5 652,2392.6 659.2,2377.7 664.4,2362 667.5,2345.8" fill="#ef4b24" fill-opacity="0.03" stroke="#ef4b24" stroke-opacity="0.09" stroke-width="1.5"/>
<path d="M509.3 2200.2L652 2266M492.9 2454.3L559.5 2200.2M477.3 2210.4L619.9 2430.5M416.8 2266L409.6 2280.9M619.9 2228.1L606.3 2218.4M575.9 2204.3L436.6 2239.4M404.4 2362L652 2392.6M436.6 2239.4L632.2 2419.2M575.9 2454.3L436.6 2239.4M664.4 2296.6L667.5 2312.8M448.9 2430.5L664.4 2296.6M652 2266L401.3 2312.8M436.6 2419.2L632.2 2419.2M664.4 2296.6L559.5 2200.2" stroke="#ef4b24" stroke-opacity="0.022" stroke-width="0.84" fill="none"/>
<path d="M448.9 2430.5L664.4 2296.6M664.4 2362L664.4 2296.6M659.2 2377.7L652 2266M425.8 2406.5L632.2 2419.2M659.2 2280.9L632.2 2419.2M591.5 2448.2L652 2266M575.9 2454.3L575.9 2204.3M404.4 2296.6L591.5 2448.2M542.8 2198.2L606.3 2218.4M492.9 2454.3L591.5 2210.4M659.2 2377.7L659.2 2280.9M652 2392.6L401.3 2345.8M664.4 2362L659.2 2280.9" stroke="#ef4b24" stroke-opacity="0.025" stroke-width="0.87" fill="none"/>
<path d="M400.2 2329.3L477.3 2210.4M436.6 2239.4L509.3 2458.4M632.2 2239.4L606.3 2218.4M492.9 2204.3L575.9 2204.3M591.5 2448.2L409.6 2280.9M492.9 2204.3L416.8 2266M659.2 2280.9L425.8 2252.1M652 2266L643 2406.5M448.9 2228.1L404.4 2296.6M409.6 2377.7L400.2 2329.3M664.4 2296.6L575.9 2204.3M575.9 2454.3L401.3 2312.8M477.3 2448.2L664.4 2296.6M404.4 2296.6L436.6 2419.2" stroke="#ef4b24" stroke-opacity="0.028" stroke-width="0.71" fill="none"/>
<path d="M664.4 2296.6L404.4 2296.6M652 2266L409.6 2280.9M606.3 2218.4L409.6 2280.9M575.9 2454.3L643 2252.1M448.9 2430.5L559.5 2458.4M409.6 2377.7L632.2 2419.2M664.4 2296.6L591.5 2210.4M404.4 2362L477.3 2448.2M477.3 2448.2L664.4 2362M509.3 2458.4L448.9 2430.5M492.9 2454.3L606.3 2218.4M619.9 2430.5L477.3 2448.2M492.9 2454.3L425.8 2252.1M606.3 2440.2L606.3 2218.4" stroke="#ef4b24" stroke-opacity="0.031" stroke-width="0.93" fill="none"/>
<path d="M664.4 2296.6L436.6 2239.4M664.4 2296.6L462.5 2440.2M409.6 2377.7L575.9 2204.3M667.5 2312.8L659.2 2377.7M664.4 2296.6L448.9 2430.5M436.6 2239.4L643 2406.5M664.4 2296.6L462.5 2440.2M492.9 2204.3L591.5 2448.2M477.3 2448.2L606.3 2440.2M492.9 2454.3L664.4 2362M606.3 2218.4L619.9 2430.5M509.3 2458.4L448.9 2430.5M575.9 2204.3L591.5 2210.4" stroke="#ef4b24" stroke-opacity="0.034" stroke-width="0.77" fill="none"/>
<path d="M526 2460.4L404.4 2362M668.6 2329.3L436.6 2239.4M400.2 2329.3L652 2266M632.2 2419.2L542.8 2460.4M404.4 2296.6L400.2 2329.3M542.8 2460.4L619.9 2430.5M477.3 2448.2L436.6 2239.4M477.3 2448.2L436.6 2419.2M462.5 2218.4L509.3 2200.2M404.4 2296.6L462.5 2218.4M409.6 2280.9L667.5 2312.8M559.5 2200.2L664.4 2296.6M448.9 2228.1L425.8 2252.1" stroke="#ef4b24" stroke-opacity="0.037" stroke-width="0.98" fill="none"/>
<path d="M436.6 2239.4L575.9 2454.3M606.3 2440.2L526 2198.2M477.3 2210.4L404.4 2362M401.3 2345.8L667.5 2312.8M509.3 2458.4L409.6 2280.9M401.3 2312.8L667.5 2312.8M643 2252.1L477.3 2448.2M664.4 2296.6L652 2392.6M448.9 2228.1L492.9 2204.3M667.5 2345.8L652 2266M409.6 2280.9L477.3 2448.2M668.6 2329.3L404.4 2296.6M643 2406.5L659.2 2280.9M659.2 2377.7L606.3 2440.2" stroke="#ef4b24" stroke-opacity="0.040" stroke-width="0.89" fill="none"/>
<path d="M659.2 2280.9L606.3 2218.4M477.3 2448.2L416.8 2392.6M659.2 2377.7L477.3 2448.2M400.2 2329.3L664.4 2362M632.2 2239.4L542.8 2460.4M436.6 2239.4L632.2 2239.4M448.9 2430.5L652 2266M436.6 2419.2L559.5 2458.4M664.4 2296.6L659.2 2280.9M477.3 2448.2L436.6 2419.2M526 2460.4L425.8 2406.5M425.8 2252.1L542.8 2198.2M416.8 2266L492.9 2204.3M606.3 2440.2L667.5 2312.8" stroke="#ef4b24" stroke-opacity="0.043" stroke-width="0.79" fill="none"/>
<path d="M436.6 2419.2L652 2392.6M409.6 2377.7L425.8 2252.1M401.3 2312.8L425.8 2406.5M606.3 2440.2L477.3 2448.2M509.3 2200.2L559.5 2458.4M668.6 2329.3L559.5 2458.4M619.9 2430.5L664.4 2362M664.4 2296.6L606.3 2440.2M664.4 2296.6L492.9 2454.3M664.4 2296.6L591.5 2448.2M436.6 2419.2L664.4 2296.6M652 2266L492.9 2204.3M542.8 2198.2L492.9 2454.3M667.5 2312.8L477.3 2448.2" stroke="#ef4b24" stroke-opacity="0.046" stroke-width="0.74" fill="none"/>
<path d="M409.6 2377.7L448.9 2228.1M591.5 2448.2L652 2392.6M462.5 2440.2L664.4 2296.6M575.9 2204.3L477.3 2210.4M664.4 2362L448.9 2228.1M632.2 2239.4L416.8 2266M606.3 2218.4L659.2 2377.7M664.4 2296.6L606.3 2440.2M575.9 2204.3L643 2252.1M619.9 2430.5L436.6 2419.2M652 2266L591.5 2210.4M526 2198.2L591.5 2448.2M664.4 2362L575.9 2204.3M619.9 2430.5L416.8 2266" stroke="#ef4b24" stroke-opacity="0.049" stroke-width="0.78" fill="none"/>
<path d="M664.4 2362L664.4 2296.6M416.8 2266L462.5 2440.2M632.2 2419.2L542.8 2460.4M643 2252.1L526 2460.4M448.9 2228.1L652 2392.6M477.3 2448.2L401.3 2345.8M448.9 2228.1L409.6 2280.9M425.8 2252.1L492.9 2204.3M664.4 2296.6L591.5 2448.2M492.9 2454.3L559.5 2458.4M492.9 2454.3L542.8 2198.2M668.6 2329.3L509.3 2458.4M448.9 2430.5L542.8 2198.2M409.6 2377.7L668.6 2329.3" stroke="#ef4b24" stroke-opacity="0.052" stroke-width="0.89" fill="none"/>
<path d="M606.3 2440.2L542.8 2198.2M664.4 2296.6L477.3 2448.2M606.3 2440.2L559.5 2458.4M400.2 2329.3L526 2460.4M477.3 2448.2L632.2 2239.4M509.3 2200.2L401.3 2312.8M667.5 2345.8L591.5 2448.2M401.3 2345.8L643 2406.5M606.3 2440.2L462.5 2440.2M652 2266L401.3 2312.8M404.4 2362L668.6 2329.3M591.5 2448.2L659.2 2280.9M401.3 2345.8L448.9 2228.1M448.9 2228.1L643 2406.5" stroke="#ef4b24" stroke-opacity="0.055" stroke-width="0.91" fill="none"/>
<path d="M652 2266L664.4 2296.6M448.9 2430.5L667.5 2345.8M509.3 2200.2L606.3 2218.4M659.2 2280.9L652 2266M401.3 2345.8L542.8 2460.4M643 2252.1L436.6 2239.4M575.9 2204.3L659.2 2280.9M559.5 2200.2L591.5 2210.4M404.4 2296.6L591.5 2448.2M664.4 2296.6L575.9 2204.3M643 2406.5L477.3 2448.2M575.9 2454.3L606.3 2440.2" stroke="#ef4b24" stroke-opacity="0.057" stroke-width="0.73" fill="none"/>
<path d="M526 2198.2L575.9 2454.3M575.9 2454.3L559.5 2200.2M664.4 2296.6L436.6 2419.2M559.5 2458.4L667.5 2345.8M632.2 2419.2L559.5 2458.4M664.4 2296.6L404.4 2362M401.3 2312.8L492.9 2204.3M400.2 2329.3L591.5 2210.4M542.8 2198.2L416.8 2266M559.5 2458.4L575.9 2454.3M462.5 2440.2L477.3 2448.2M632.2 2419.2L542.8 2198.2M606.3 2218.4L632.2 2419.2M664.4 2362L591.5 2210.4" stroke="#ef4b24" stroke-opacity="0.060" stroke-width="0.72" fill="none"/>
<path d="M632.2 2239.4L409.6 2377.7M462.5 2218.4L462.5 2440.2M606.3 2440.2L559.5 2458.4M652 2266L575.9 2454.3M591.5 2210.4L559.5 2200.2M619.9 2228.1L526 2198.2M664.4 2296.6L643 2252.1M643 2252.1L425.8 2252.1M409.6 2377.7L619.9 2430.5M462.5 2440.2L542.8 2198.2M477.3 2210.4L448.9 2228.1M404.4 2296.6L606.3 2218.4M664.4 2296.6L643 2252.1" stroke="#ef4b24" stroke-opacity="0.063" stroke-width="0.86" fill="none"/>
<path d="M436.6 2419.2L477.3 2210.4M667.5 2312.8L416.8 2266M606.3 2218.4L643 2252.1M575.9 2454.3L492.9 2454.3M664.4 2362L448.9 2430.5M526 2460.4L404.4 2296.6M477.3 2448.2L667.5 2312.8M664.4 2296.6L619.9 2228.1M575.9 2204.3L659.2 2377.7M401.3 2312.8L416.8 2266M667.5 2345.8L409.6 2377.7M632.2 2419.2L667.5 2345.8M401.3 2312.8L477.3 2448.2" stroke="#ef4b24" stroke-opacity="0.066" stroke-width="0.87" fill="none"/>
<path d="M401.3 2345.8L664.4 2296.6M643 2252.1L664.4 2296.6M492.9 2204.3L664.4 2296.6M606.3 2218.4L401.3 2312.8M492.9 2204.3L401.3 2345.8M404.4 2362L509.3 2458.4M401.3 2345.8L436.6 2239.4M526 2198.2L542.8 2198.2M664.4 2362L401.3 2345.8M606.3 2218.4L667.5 2312.8M416.8 2266L664.4 2296.6M477.3 2210.4L436.6 2239.4M425.8 2252.1L652 2266M652 2392.6L477.3 2448.2" stroke="#ef4b24" stroke-opacity="0.069" stroke-width="0.82" fill="none"/>
<path d="M664.4 2296.6L606.3 2218.4M664.4 2296.6L526 2460.4M668.6 2329.3L652 2266M492.9 2204.3L667.5 2312.8M659.2 2280.9L668.6 2329.3M632.2 2419.2L425.8 2252.1M667.5 2312.8L509.3 2200.2M509.3 2458.4L542.8 2198.2M591.5 2210.4L659.2 2377.7M659.2 2280.9L477.3 2210.4M619.9 2430.5L619.9 2228.1M559.5 2200.2L664.4 2296.6M619.9 2228.1L664.4 2296.6M448.9 2430.5L526 2460.4" stroke="#ef4b24" stroke-opacity="0.072" stroke-width="0.77" fill="none"/>
<path d="M477.3 2448.2L436.6 2239.4M659.2 2280.9L591.5 2210.4M664.4 2296.6L477.3 2210.4M667.5 2312.8L559.5 2200.2M664.4 2362L448.9 2430.5M425.8 2406.5L404.4 2296.6M425.8 2406.5L401.3 2312.8M404.4 2296.6L632.2 2239.4M526 2198.2L477.3 2210.4M664.4 2296.6L591.5 2448.2M664.4 2362L652 2392.6M664.4 2296.6L591.5 2448.2M492.9 2204.3L664.4 2296.6" stroke="#ef4b24" stroke-opacity="0.075" stroke-width="0.88" fill="none"/>
<path d="M526 2198.2L409.6 2377.7M448.9 2228.1L606.3 2440.2M667.5 2312.8L606.3 2440.2M575.9 2204.3L477.3 2448.2M400.2 2329.3L652 2392.6M401.3 2312.8L477.3 2448.2M664.4 2296.6L667.5 2345.8M492.9 2204.3L667.5 2312.8M668.6 2329.3L462.5 2218.4M401.3 2345.8L436.6 2419.2M667.5 2312.8L416.8 2266M559.5 2200.2L652 2392.6M591.5 2210.4L575.9 2204.3" stroke="#ef4b24" stroke-opacity="0.078" stroke-width="0.70" fill="none"/>
<path d="M425.8 2252.1L542.8 2198.2M664.4 2296.6L425.8 2252.1M425.8 2406.5L652 2266M659.2 2377.7L425.8 2252.1M436.6 2239.4L606.3 2440.2M425.8 2252.1L400.2 2329.3M542.8 2460.4L664.4 2362M591.5 2210.4L668.6 2329.3M409.6 2280.9L404.4 2296.6M425.8 2406.5L477.3 2448.2M575.9 2454.3L664.4 2362M591.5 2210.4L575.9 2204.3M404.4 2362L619.9 2430.5" stroke="#ef4b24" stroke-opacity="0.081" stroke-width="0.79" fill="none"/>
<path d="M542.8 2460.4L477.3 2448.2M401.3 2345.8L619.9 2430.5M591.5 2210.4L492.9 2204.3M652 2392.6L667.5 2345.8M575.9 2454.3L606.3 2218.4M409.6 2280.9L652 2392.6M664.4 2296.6L575.9 2204.3M492.9 2454.3L401.3 2345.8M619.9 2228.1L404.4 2296.6M409.6 2280.9L668.6 2329.3M425.8 2252.1L575.9 2204.3M401.3 2312.8L619.9 2228.1M509.3 2458.4L436.6 2239.4" stroke="#ef4b24" stroke-opacity="0.084" stroke-width="0.84" fill="none"/>
<path d="M591.5 2210.4L404.4 2362M575.9 2454.3L606.3 2440.2M477.3 2210.4L659.2 2280.9M659.2 2377.7L477.3 2210.4M591.5 2210.4L542.8 2198.2M477.3 2448.2L606.3 2440.2M664.4 2296.6L526 2460.4M619.9 2228.1L409.6 2280.9M668.6 2329.3L575.9 2204.3M559.5 2458.4L509.3 2458.4M606.3 2218.4L652 2392.6M462.5 2218.4L659.2 2377.7M436.6 2239.4L401.3 2312.8" stroke="#ef4b24" stroke-opacity="0.087" stroke-width="0.99" fill="none"/>
<path d="M401.3 2312.8L606.3 2440.2M559.5 2200.2L436.6 2239.4M606.3 2440.2L667.5 2345.8M591.5 2210.4L409.6 2377.7M652 2392.6L575.9 2204.3M575.9 2204.3L659.2 2280.9M652 2392.6L664.4 2296.6M664.4 2296.6L448.9 2228.1M404.4 2296.6L400.2 2329.3M606.3 2218.4L409.6 2377.7M619.9 2430.5L559.5 2458.4M462.5 2218.4L509.3 2200.2" stroke="#ef4b24" stroke-opacity="0.090" stroke-width="0.89" fill="none"/>
<path d="M619.9 2430.5L409.6 2280.9" stroke="#ef4b24" stroke-opacity="0.180" stroke-width="1.04" fill="none"/>
<path d="M606.3 2218.4L591.5 2210.4" stroke="#ef4b24" stroke-opacity="0.193" stroke-width="1.07" fill="none"/>
<path d="M659.2 2377.7L477.3 2448.2" stroke="#ef4b24" stroke-opacity="0.207" stroke-width="1.17" fill="none"/>
<path d="M526 2198.2L667.5 2312.8" stroke="#ef4b24" stroke-opacity="0.220" stroke-width="0.98" fill="none"/>
<path d="M404.4 2296.6L462.5 2440.2" stroke="#ef4b24" stroke-opacity="0.233" stroke-width="1.22" fill="none"/>
<path d="M436.6 2239.4L575.9 2204.3" stroke="#ef4b24" stroke-opacity="0.247" stroke-width="1.20" fill="none"/>
<path d="M462.5 2440.2L643 2406.5" stroke="#ef4b24" stroke-opacity="0.260" stroke-width="1.10" fill="none"/>
<path d="M606.3 2218.4L664.4 2296.6" stroke="#ef4b24" stroke-opacity="0.273" stroke-width="0.98" fill="none"/>
<line x1="436.6" y1="2239.4" x2="664.4" y2="2296.6" stroke="#ef4b24" stroke-opacity="0.80" stroke-width="2.34"/>
<line x1="448.9" y1="2228.1" x2="664.4" y2="2296.6" stroke="#ef4b24" stroke-opacity="0.59" stroke-width="1.01"/>
<line x1="477.3" y1="2210.4" x2="416.8" y2="2266" stroke="#ef4b24" stroke-opacity="0.59" stroke-width="1.01"/>
<line x1="477.3" y1="2210.4" x2="425.8" y2="2252.1" stroke="#ef4b24" stroke-opacity="0.50" stroke-width="0.78"/>
<line x1="619.9" y1="2228.1" x2="664.4" y2="2296.6" stroke="#ef4b24" stroke-opacity="0.50" stroke-width="0.94"/>
<line x1="492.9" y1="2454.3" x2="606.3" y2="2440.2" stroke="#ef4b24" stroke-opacity="0.59" stroke-width="1.01"/>
<line x1="606.3" y1="2218.4" x2="477.3" y2="2448.2" stroke="#ef4b24" stroke-opacity="0.42" stroke-width="0.70"/>
<line x1="477.3" y1="2448.2" x2="404.4" y2="2296.6" stroke="#ef4b24" stroke-opacity="0.42" stroke-width="0.70"/>
<line x1="409.6" y1="2280.9" x2="664.4" y2="2296.6" stroke="#ef4b24" stroke-opacity="0.38" stroke-width="0.62"/>
<g fill="#000"><circle cx="668.6" cy="2329.3" r="0.95"/><circle cx="667.5" cy="2312.8" r="0.95"/><circle cx="664.4" cy="2296.6" r="2.15"/><circle cx="659.2" cy="2280.9" r="2.15"/><circle cx="652" cy="2266" r="0.95"/><circle cx="643" cy="2252.1" r="0.95"/><circle cx="632.2" cy="2239.4" r="1.35"/><circle cx="619.9" cy="2228.1" r="1.35"/><circle cx="606.3" cy="2218.4" r="1.75"/><circle cx="591.5" cy="2210.4" r="0.95"/><circle cx="575.9" cy="2204.3" r="0.95"/><circle cx="559.5" cy="2200.2" r="0.95"/><circle cx="542.8" cy="2198.2" r="0.95"/><circle cx="526" cy="2198.2" r="0.95"/><circle cx="509.3" cy="2200.2" r="0.95"/><circle cx="492.9" cy="2204.3" r="0.95"/><circle cx="477.3" cy="2210.4" r="0.95"/><circle cx="462.5" cy="2218.4" r="0.95"/><circle cx="448.9" cy="2228.1" r="0.95"/><circle cx="436.6" cy="2239.4" r="1.75"/><circle cx="425.8" cy="2252.1" r="0.95"/><circle cx="416.8" cy="2266" r="0.95"/><circle cx="409.6" cy="2280.9" r="0.95"/><circle cx="404.4" cy="2296.6" r="0.95"/><circle cx="401.3" cy="2312.8" r="0.95"/><circle cx="400.2" cy="2329.3" r="0.95"/><circle cx="401.3" cy="2345.8" r="0.95"/><circle cx="404.4" cy="2362" r="0.95"/><circle cx="409.6" cy="2377.7" r="1.75"/><circle cx="416.8" cy="2392.6" r="0.95"/><circle cx="425.8" cy="2406.5" r="1.75"/><circle cx="436.6" cy="2419.2" r="1.35"/><circle cx="448.9" cy="2430.5" r="0.95"/><circle cx="462.5" cy="2440.2" r="1.75"/><circle cx="477.3" cy="2448.2" r="2.15"/><circle cx="492.9" cy="2454.3" r="1.35"/><circle cx="509.3" cy="2458.4" r="1.35"/><circle cx="526" cy="2460.4" r="0.95"/><circle cx="542.8" cy="2460.4" r="0.95"/><circle cx="559.5" cy="2458.4" r="0.95"/><circle cx="575.9" cy="2454.3" r="0.95"/><circle cx="591.5" cy="2448.2" r="0.95"/><circle cx="606.3" cy="2440.2" r="1.35"/><circle cx="619.9" cy="2430.5" r="0.95"/><circle cx="632.2" cy="2419.2" r="0.95"/><circle cx="643" cy="2406.5" r="0.95"/><circle cx="652" cy="2392.6" r="0.95"/><circle cx="659.2" cy="2377.7" r="0.95"/><circle cx="664.4" cy="2362" r="0.95"/><circle cx="667.5" cy="2345.8" r="0.95"/></g>
<g font-weight="normal" fill="#000"><text transform="translate(672.2,2329.3) rotate(-0.0) translate(0,1.6)" font-size="4.5">Shank1</text><text transform="translate(670.8,2311.2) rotate(-26.8) translate(0,1.6)" font-size="4.5">Nrn1</text><text transform="translate(667.6,2293.3) rotate(-45.8) translate(0,3.7)" font-size="10.5" font-weight="bold">Slc17a7</text><text transform="translate(661.6,2277) rotate(-57.7) translate(0,3.7)" font-size="10.5" font-weight="bold">Pdzrn3</text><text transform="translate(653.5,2262.7) rotate(-65.5) translate(0,1.6)" font-size="4.5">Kcnc2</text><text transform="translate(644.1,2248.7) rotate(-71.0) translate(0,1.6)" font-size="4.5">Rtn4r</text><text transform="translate(633.2,2235.7) rotate(-75.1) translate(0,2)" font-size="5.8">Olfm1</text><text transform="translate(620.7,2224.3) rotate(-78.3) translate(0,2)" font-size="5.8">Pparg</text><text transform="translate(606.9,2214.4) rotate(-81.0) translate(0,2.5)" font-size="7.2">Dlgap1</text><text transform="translate(592,2206.8) rotate(-83.3) translate(0,1.6)" font-size="4.5">Sv2b</text><text transform="translate(576.2,2200.7) rotate(-85.4) translate(0,1.6)" font-size="4.5">Tbr1</text><text transform="translate(559.7,2196.6) rotate(-87.3) translate(0,1.6)" font-size="4.5">Grm2</text><text transform="translate(542.9,2194.6) rotate(-89.1) translate(0,1.6)" font-size="4.5">Lmo4</text><text transform="translate(525.9,2194.6) rotate(-90.9) translate(0,1.6)" font-size="4.5">Opcml</text><text transform="translate(509.1,2196.6) rotate(-92.7) translate(0,1.6)" font-size="4.5">Kcnh7</text><text transform="translate(492.6,2200.7) rotate(-94.6) translate(0,1.6)" font-size="4.5">Nptx1</text><text transform="translate(476.8,2206.8) rotate(-96.7) translate(0,1.6)" font-size="4.5">4930578G10Rik</text><text transform="translate(461.9,2214.8) rotate(-99.0) translate(0,1.6)" font-size="4.5">Cck</text><text transform="translate(448.1,2224.5) rotate(-101.7) translate(0,1.6)" font-size="4.5">Sorcs2</text><text transform="translate(435.5,2235.5) rotate(-104.9) translate(0,2.5)" font-size="7.2">Gm26911</text><text transform="translate(424.7,2248.7) rotate(-109.0) translate(0,1.6)" font-size="4.5">Satb1</text><text transform="translate(415.3,2262.7) rotate(-114.5) translate(0,1.6)" font-size="4.5">Sstr4</text><text transform="translate(407.7,2277.9) rotate(-122.3) translate(0,1.6)" font-size="4.5">Prickle1</text><text transform="translate(401.9,2294) rotate(-134.2) translate(0,1.6)" font-size="4.5">Etl4</text><text transform="translate(398,2311.2) rotate(-153.2) translate(0,1.6)" font-size="4.5">Ptk2b</text><text transform="translate(396.6,2329.3) rotate(-180.0) translate(0,1.6)" font-size="4.5">Chrm3</text><text transform="translate(398,2347.4) rotate(-26.8) translate(0,1.6)" font-size="4.5" text-anchor="end">Camk2a</text><text transform="translate(401.9,2364.6) rotate(-45.8) translate(0,1.6)" font-size="4.5" text-anchor="end">Lrrtm4</text><text transform="translate(407.5,2381.1) rotate(-57.7) translate(0,2.5)" font-size="7.2" text-anchor="end">Mlat</text><text transform="translate(415.3,2395.9) rotate(-65.5) translate(0,1.6)" font-size="4.5" text-anchor="end">Neurod6</text><text transform="translate(424.5,2410.3) rotate(-71.0) translate(0,2.5)" font-size="7.2" text-anchor="end">Gabbr2</text><text transform="translate(435.6,2422.9) rotate(-75.1) translate(0,2)" font-size="5.8" text-anchor="end">Clstn2</text><text transform="translate(448.1,2434.1) rotate(-78.3) translate(0,1.6)" font-size="4.5" text-anchor="end">Ryr2</text><text transform="translate(461.9,2444.2) rotate(-81.0) translate(0,2.5)" font-size="7.2" text-anchor="end">Khdrbs3</text><text transform="translate(476.7,2452.8) rotate(-83.3) translate(0,3.7)" font-size="10.5" font-weight="bold" text-anchor="end">Nav3</text><text transform="translate(492.6,2458.1) rotate(-85.4) translate(0,2)" font-size="5.8" text-anchor="end">Ube3a</text><text transform="translate(509.1,2462.2) rotate(-87.3) translate(0,2)" font-size="5.8" text-anchor="end">Kcnma1</text><text transform="translate(525.9,2464) rotate(-89.1) translate(0,1.6)" font-size="4.5" text-anchor="end">Cux2</text><text transform="translate(542.9,2464) rotate(-90.9) translate(0,1.6)" font-size="4.5" text-anchor="end">Rorb</text><text transform="translate(559.7,2462) rotate(-92.7) translate(0,1.6)" font-size="4.5" text-anchor="end">Sphkap</text><text transform="translate(576.2,2457.9) rotate(-94.6) translate(0,1.6)" font-size="4.5" text-anchor="end">Vsnl1</text><text transform="translate(592,2451.8) rotate(-96.7) translate(0,1.6)" font-size="4.5" text-anchor="end">Slc1a2</text><text transform="translate(606.9,2444) rotate(-99.0) translate(0,2)" font-size="5.8" text-anchor="end">Meg3</text><text transform="translate(620.7,2434.1) rotate(-101.7) translate(0,1.6)" font-size="4.5" text-anchor="end">Gja1</text><text transform="translate(633.2,2422.7) rotate(-104.9) translate(0,1.6)" font-size="4.5" text-anchor="end">Aqp4</text><text transform="translate(644.1,2409.9) rotate(-109.0) translate(0,1.6)" font-size="4.5" text-anchor="end">Sparcl1</text><text transform="translate(653.5,2395.9) rotate(-114.5) translate(0,1.6)" font-size="4.5" text-anchor="end">Atp1a2</text><text transform="translate(661.1,2380.7) rotate(-122.3) translate(0,1.6)" font-size="4.5" text-anchor="end">Pla2g7</text><text transform="translate(666.9,2364.6) rotate(-134.2) translate(0,1.6)" font-size="4.5" text-anchor="end">Ntsr2</text><text transform="translate(670.8,2347.4) rotate(-153.2) translate(0,1.6)" font-size="4.5" text-anchor="end">Prodh</text></g>
<polygon points="982.3,2329.5 981.2,2313 978.1,2296.8 972.9,2281.1 965.7,2266.2 956.7,2252.3 945.9,2239.6 933.6,2228.3 920,2218.6 905.2,2210.6 889.6,2204.5 873.2,2200.4 856.5,2198.4 839.7,2198.4 823,2200.4 806.6,2204.5 791,2210.6 776.2,2218.6 762.6,2228.3 750.3,2239.6 739.5,2252.3 730.5,2266.2 723.3,2281.1 718.1,2296.8 715,2313 713.9,2329.5 715,2346 718.1,2362.2 723.3,2377.9 730.5,2392.8 739.5,2406.7 750.3,2419.4 762.6,2430.7 776.2,2440.4 791,2448.4 806.6,2454.5 823,2458.6 839.7,2460.6 856.5,2460.6 873.2,2458.6 889.6,2454.5 905.2,2448.4 920,2440.4 933.6,2430.7 945.9,2419.4 956.7,2406.7 965.7,2392.8 972.9,2377.9 978.1,2362.2 981.2,2346" fill="#ef4b24" fill-opacity="0.025" stroke="#ef4b24" stroke-opacity="0.08" stroke-width="1.5"/>
<path d="M905.2 2210.6L972.9 2377.9M978.1 2296.8L776.2 2440.4M718.1 2296.8L791 2448.4M978.1 2296.8L978.1 2362.2M978.1 2296.8L791 2448.4M933.6 2430.7L956.7 2406.7M965.7 2392.8L750.3 2419.4M978.1 2296.8L839.7 2460.6M791 2448.4L905.2 2210.6M889.6 2454.5L956.7 2406.7M718.1 2296.8L776.2 2218.6M715 2313L718.1 2362.2" stroke="#ef4b24" stroke-opacity="0.022" stroke-width="0.72" fill="none"/>
<path d="M965.7 2266.2L791 2448.4M791 2448.4L972.9 2377.9M978.1 2362.2L978.1 2296.8M806.6 2454.5L718.1 2296.8M873.2 2200.4L762.6 2228.3M791 2448.4L730.5 2392.8M776.2 2440.4L981.2 2346M723.3 2281.1L933.6 2228.3M806.6 2454.5L920 2218.6M776.2 2218.6L776.2 2440.4M776.2 2218.6L823 2458.6M739.5 2252.3L730.5 2266.2M723.3 2377.9L739.5 2252.3" stroke="#ef4b24" stroke-opacity="0.025" stroke-width="0.75" fill="none"/>
<path d="M978.1 2296.8L889.6 2204.5M889.6 2454.5L718.1 2296.8M982.3 2329.5L956.7 2252.3M791 2448.4L920 2218.6M972.9 2281.1L873.2 2458.6M723.3 2281.1L806.6 2204.5M905.2 2210.6L806.6 2204.5M750.3 2419.4L889.6 2204.5M873.2 2200.4L715 2313M972.9 2281.1L791 2210.6M856.5 2460.6L945.9 2239.6M806.6 2204.5L839.7 2198.4" stroke="#ef4b24" stroke-opacity="0.028" stroke-width="0.83" fill="none"/>
<path d="M981.2 2346L920 2218.6M920 2218.6L956.7 2252.3M791 2210.6L718.1 2362.2M905.2 2210.6L713.9 2329.5M856.5 2198.4L839.7 2198.4M806.6 2204.5L839.7 2198.4M889.6 2454.5L713.9 2329.5M823 2200.4L806.6 2204.5M933.6 2430.7L920 2218.6M730.5 2392.8L776.2 2218.6M905.2 2448.4L762.6 2430.7M972.9 2281.1L956.7 2406.7M972.9 2281.1L920 2218.6" stroke="#ef4b24" stroke-opacity="0.031" stroke-width="0.78" fill="none"/>
<path d="M750.3 2419.4L730.5 2266.2M713.9 2329.5L715 2313M791 2448.4L823 2200.4M791 2448.4L750.3 2419.4M856.5 2460.6L718.1 2296.8M715 2313L972.9 2281.1M839.7 2198.4L776.2 2440.4M856.5 2460.6L791 2210.6M972.9 2281.1L978.1 2296.8M920 2218.6L776.2 2440.4M739.5 2252.3L730.5 2392.8M715 2313L791 2448.4M723.3 2281.1L718.1 2362.2" stroke="#ef4b24" stroke-opacity="0.034" stroke-width="0.87" fill="none"/>
<path d="M739.5 2252.3L718.1 2296.8M978.1 2296.8L945.9 2419.4M972.9 2377.9L982.3 2329.5M982.3 2329.5L739.5 2406.7M856.5 2198.4L933.6 2430.7M791 2448.4L823 2200.4M723.3 2281.1L965.7 2266.2M750.3 2419.4L978.1 2296.8M791 2448.4L920 2218.6M791 2448.4L920 2218.6M723.3 2281.1L715 2346M956.7 2406.7L791 2448.4M978.1 2296.8L889.6 2454.5" stroke="#ef4b24" stroke-opacity="0.037" stroke-width="0.90" fill="none"/>
<path d="M920 2218.6L889.6 2454.5M718.1 2296.8L791 2448.4M889.6 2454.5L920 2218.6M945.9 2419.4L791 2448.4M762.6 2228.3L806.6 2204.5M945.9 2239.6L873.2 2200.4M889.6 2454.5L718.1 2296.8M956.7 2252.3L791 2448.4M839.7 2198.4L978.1 2362.2M856.5 2460.6L750.3 2419.4M933.6 2430.7L978.1 2362.2M718.1 2362.2L972.9 2377.9M981.2 2313L965.7 2266.2" stroke="#ef4b24" stroke-opacity="0.040" stroke-width="0.98" fill="none"/>
<path d="M978.1 2296.8L905.2 2210.6M920 2218.6L889.6 2204.5M920 2440.4L981.2 2313M956.7 2406.7L978.1 2362.2M972.9 2377.9L839.7 2460.6M791 2210.6L750.3 2239.6M978.1 2362.2L713.9 2329.5M933.6 2430.7L839.7 2198.4M920 2440.4L839.7 2460.6M920 2218.6L806.6 2454.5M739.5 2406.7L739.5 2252.3M739.5 2252.3L839.7 2198.4" stroke="#ef4b24" stroke-opacity="0.043" stroke-width="0.74" fill="none"/>
<path d="M981.2 2313L873.2 2200.4M982.3 2329.5L823 2200.4M972.9 2377.9L806.6 2454.5M905.2 2210.6L839.7 2198.4M806.6 2454.5L889.6 2204.5M839.7 2460.6L978.1 2296.8M965.7 2392.8L839.7 2198.4M981.2 2313L905.2 2210.6M718.1 2362.2L750.3 2419.4M718.1 2296.8L791 2448.4M965.7 2392.8L730.5 2392.8M933.6 2228.3L945.9 2239.6M715 2313L776.2 2440.4" stroke="#ef4b24" stroke-opacity="0.046" stroke-width="0.99" fill="none"/>
<path d="M762.6 2228.3L945.9 2419.4M873.2 2200.4L762.6 2228.3M981.2 2346L723.3 2377.9M715 2346L978.1 2362.2M856.5 2460.6L730.5 2392.8M905.2 2210.6L839.7 2198.4M920 2218.6L713.9 2329.5M982.3 2329.5L856.5 2460.6M839.7 2198.4L750.3 2419.4M718.1 2296.8L806.6 2204.5M839.7 2460.6L933.6 2430.7M730.5 2392.8L839.7 2460.6" stroke="#ef4b24" stroke-opacity="0.049" stroke-width="0.70" fill="none"/>
<path d="M791 2210.6L972.9 2281.1M791 2210.6L889.6 2454.5M933.6 2228.3L978.1 2362.2M806.6 2204.5L965.7 2392.8M873.2 2458.6L806.6 2204.5M933.6 2228.3L806.6 2454.5M823 2458.6L873.2 2458.6M718.1 2362.2L839.7 2198.4M839.7 2198.4L905.2 2448.4M978.1 2296.8L823 2200.4M723.3 2281.1L723.3 2377.9M806.6 2204.5L713.9 2329.5M730.5 2266.2L762.6 2430.7" stroke="#ef4b24" stroke-opacity="0.052" stroke-width="0.97" fill="none"/>
<path d="M873.2 2200.4L981.2 2346M933.6 2430.7L933.6 2228.3M739.5 2252.3L978.1 2296.8M905.2 2448.4L715 2313M972.9 2281.1L978.1 2296.8M750.3 2419.4L965.7 2266.2M750.3 2419.4L839.7 2460.6M762.6 2228.3L945.9 2419.4M718.1 2296.8L933.6 2430.7M739.5 2406.7L972.9 2281.1M776.2 2440.4L730.5 2392.8M762.6 2228.3L965.7 2266.2" stroke="#ef4b24" stroke-opacity="0.055" stroke-width="1.00" fill="none"/>
<path d="M978.1 2296.8L739.5 2406.7M776.2 2218.6L945.9 2239.6M730.5 2392.8L718.1 2296.8M739.5 2406.7L972.9 2377.9M791 2210.6L750.3 2419.4M715 2346L791 2448.4M776.2 2218.6L978.1 2296.8M839.7 2460.6L791 2448.4M982.3 2329.5L978.1 2362.2M776.2 2440.4L945.9 2419.4M981.2 2346L856.5 2198.4M856.5 2198.4L945.9 2419.4" stroke="#ef4b24" stroke-opacity="0.057" stroke-width="0.81" fill="none"/>
<path d="M791 2210.6L750.3 2419.4M762.6 2430.7L978.1 2362.2M730.5 2266.2L945.9 2239.6M839.7 2460.6L839.7 2198.4M839.7 2460.6L981.2 2346M873.2 2458.6L718.1 2362.2M806.6 2204.5L965.7 2392.8M723.3 2377.9L873.2 2200.4M978.1 2296.8L715 2313M920 2440.4L978.1 2362.2M715 2346L920 2218.6M715 2346L791 2448.4" stroke="#ef4b24" stroke-opacity="0.060" stroke-width="0.94" fill="none"/>
<path d="M839.7 2198.4L776.2 2440.4M920 2218.6L823 2458.6M965.7 2266.2L723.3 2377.9M889.6 2454.5L920 2218.6M956.7 2406.7L839.7 2460.6M839.7 2198.4L933.6 2430.7M823 2200.4L791 2448.4M889.6 2454.5L839.7 2198.4M723.3 2281.1L981.2 2346M750.3 2419.4L978.1 2296.8M776.2 2440.4L750.3 2239.6" stroke="#ef4b24" stroke-opacity="0.063" stroke-width="0.85" fill="none"/>
<path d="M718.1 2296.8L750.3 2419.4M839.7 2198.4L982.3 2329.5M739.5 2252.3L965.7 2266.2M806.6 2204.5L972.9 2377.9M956.7 2252.3L739.5 2406.7M791 2448.4L723.3 2281.1M739.5 2406.7L956.7 2252.3M905.2 2448.4L739.5 2252.3M791 2448.4L978.1 2362.2M730.5 2266.2L905.2 2210.6M839.7 2198.4L791 2210.6M791 2448.4L920 2218.6" stroke="#ef4b24" stroke-opacity="0.066" stroke-width="0.87" fill="none"/>
<path d="M945.9 2419.4L723.3 2377.9M823 2458.6L823 2200.4M750.3 2239.6L791 2448.4M889.6 2454.5L839.7 2198.4M776.2 2440.4L978.1 2296.8M718.1 2362.2L965.7 2392.8M776.2 2440.4L978.1 2296.8M750.3 2419.4L718.1 2296.8M945.9 2419.4L750.3 2239.6M839.7 2460.6L739.5 2406.7M839.7 2198.4L723.3 2281.1M715 2346L750.3 2419.4" stroke="#ef4b24" stroke-opacity="0.069" stroke-width="0.96" fill="none"/>
<path d="M956.7 2252.3L978.1 2296.8M933.6 2228.3L750.3 2239.6M791 2448.4L730.5 2266.2M839.7 2198.4L739.5 2406.7M730.5 2266.2L920 2440.4M981.2 2346L956.7 2406.7M933.6 2228.3L723.3 2377.9M750.3 2419.4L823 2200.4M945.9 2239.6L889.6 2204.5M945.9 2239.6L723.3 2281.1M750.3 2419.4L839.7 2198.4" stroke="#ef4b24" stroke-opacity="0.072" stroke-width="0.98" fill="none"/>
<path d="M965.7 2392.8L723.3 2281.1M905.2 2210.6L762.6 2228.3M776.2 2218.6L806.6 2204.5M889.6 2454.5L776.2 2440.4M945.9 2419.4L956.7 2406.7M965.7 2266.2L839.7 2198.4M965.7 2266.2L972.9 2377.9M723.3 2377.9L791 2448.4M791 2448.4L972.9 2377.9M905.2 2210.6L791 2448.4M839.7 2460.6L750.3 2419.4M933.6 2228.3L978.1 2296.8" stroke="#ef4b24" stroke-opacity="0.075" stroke-width="0.79" fill="none"/>
<path d="M920 2218.6L965.7 2392.8M739.5 2252.3L762.6 2228.3M905.2 2210.6L920 2218.6M965.7 2392.8L791 2448.4M978.1 2296.8L730.5 2392.8M762.6 2228.3L945.9 2239.6M750.3 2239.6L750.3 2419.4M806.6 2204.5L730.5 2392.8M762.6 2430.7L823 2200.4M730.5 2392.8L920 2218.6M978.1 2362.2L972.9 2377.9M965.7 2266.2L933.6 2228.3" stroke="#ef4b24" stroke-opacity="0.078" stroke-width="0.77" fill="none"/>
<path d="M723.3 2377.9L791 2448.4M723.3 2377.9L839.7 2198.4M739.5 2252.3L972.9 2281.1M873.2 2458.6L730.5 2392.8M920 2440.4L750.3 2419.4M806.6 2454.5L978.1 2296.8M972.9 2377.9L972.9 2281.1M739.5 2252.3L730.5 2266.2M730.5 2392.8L750.3 2419.4M776.2 2440.4L718.1 2362.2M723.3 2281.1L730.5 2266.2M723.3 2281.1L718.1 2362.2" stroke="#ef4b24" stroke-opacity="0.081" stroke-width="0.97" fill="none"/>
<path d="M920 2440.4L856.5 2198.4M806.6 2204.5L750.3 2239.6M839.7 2198.4L978.1 2296.8M933.6 2430.7L723.3 2377.9M981.2 2346L978.1 2296.8M791 2210.6L715 2346M889.6 2204.5L776.2 2440.4M873.2 2200.4L739.5 2252.3M806.6 2454.5L920 2440.4M791 2448.4L750.3 2239.6" stroke="#ef4b24" stroke-opacity="0.084" stroke-width="0.88" fill="none"/>
<path d="M806.6 2204.5L920 2440.4M972.9 2281.1L715 2313M739.5 2406.7L981.2 2313M723.3 2281.1L713.9 2329.5M956.7 2406.7L905.2 2448.4M739.5 2406.7L762.6 2228.3M730.5 2392.8L750.3 2419.4M791 2448.4L933.6 2228.3M920 2218.6L981.2 2313M981.2 2346L956.7 2252.3M713.9 2329.5L762.6 2430.7M823 2458.6L981.2 2313" stroke="#ef4b24" stroke-opacity="0.087" stroke-width="0.97" fill="none"/>
<path d="M965.7 2266.2L823 2458.6M806.6 2204.5L856.5 2460.6M806.6 2204.5L750.3 2239.6M889.6 2454.5L873.2 2200.4M750.3 2419.4L806.6 2204.5M965.7 2392.8L723.3 2377.9M981.2 2346L806.6 2204.5M956.7 2252.3L873.2 2458.6M978.1 2296.8L723.3 2281.1M905.2 2210.6L730.5 2392.8M776.2 2440.4L715 2313M823 2200.4L965.7 2266.2" stroke="#ef4b24" stroke-opacity="0.090" stroke-width="0.77" fill="none"/>
<path d="M905.2 2448.4L945.9 2239.6" stroke="#ef4b24" stroke-opacity="0.180" stroke-width="1.16" fill="none"/>
<path d="M956.7 2252.3L839.7 2198.4" stroke="#ef4b24" stroke-opacity="0.193" stroke-width="1.07" fill="none"/>
<path d="M956.7 2406.7L791 2210.6" stroke="#ef4b24" stroke-opacity="0.207" stroke-width="1.19" fill="none"/>
<path d="M750.3 2239.6L839.7 2198.4" stroke="#ef4b24" stroke-opacity="0.220" stroke-width="1.30" fill="none"/>
<path d="M978.1 2296.8L739.5 2252.3" stroke="#ef4b24" stroke-opacity="0.233" stroke-width="1.18" fill="none"/>
<path d="M718.1 2296.8L839.7 2198.4" stroke="#ef4b24" stroke-opacity="0.247" stroke-width="0.92" fill="none"/>
<path d="M791 2448.4L839.7 2198.4" stroke="#ef4b24" stroke-opacity="0.260" stroke-width="1.15" fill="none"/>
<path d="M978.1 2362.2L945.9 2419.4" stroke="#ef4b24" stroke-opacity="0.273" stroke-width="1.15" fill="none"/>
<path d="M723.3 2377.9L978.1 2296.8" stroke="#ef4b24" stroke-opacity="0.287" stroke-width="1.12" fill="none"/>
<path d="M718.1 2362.2L739.5 2406.7" stroke="#ef4b24" stroke-opacity="0.300" stroke-width="1.28" fill="none"/>
<line x1="750.3" y1="2239.6" x2="978.1" y2="2296.8" stroke="#ef4b24" stroke-opacity="0.76" stroke-width="1.72"/>
<line x1="806.6" y1="2454.5" x2="920" y2="2440.4" stroke="#ef4b24" stroke-opacity="0.80" stroke-width="2.03"/>
<line x1="839.7" y1="2198.4" x2="791" y2="2448.4" stroke="#ef4b24" stroke-opacity="0.59" stroke-width="1.01"/>
<line x1="839.7" y1="2198.4" x2="920" y2="2218.6" stroke="#ef4b24" stroke-opacity="0.46" stroke-width="0.78"/>
<line x1="791" y1="2210.6" x2="730.5" y2="2266.2" stroke="#ef4b24" stroke-opacity="0.59" stroke-width="1.01"/>
<line x1="762.6" y1="2228.3" x2="978.1" y2="2296.8" stroke="#ef4b24" stroke-opacity="0.42" stroke-width="0.70"/>
<line x1="873.2" y1="2458.6" x2="978.1" y2="2296.8" stroke="#ef4b24" stroke-opacity="0.46" stroke-width="0.78"/>
<line x1="750.3" y1="2419.4" x2="839.7" y2="2198.4" stroke="#ef4b24" stroke-opacity="0.42" stroke-width="0.78"/>
<line x1="750.3" y1="2419.4" x2="776.2" y2="2440.4" stroke="#ef4b24" stroke-opacity="0.59" stroke-width="1.17"/>
<line x1="739.5" y1="2406.7" x2="750.3" y2="2419.4" stroke="#ef4b24" stroke-opacity="0.50" stroke-width="0.94"/>
<g fill="#000"><circle cx="982.3" cy="2329.5" r="0.95"/><circle cx="981.2" cy="2313" r="0.95"/><circle cx="978.1" cy="2296.8" r="2.15"/><circle cx="972.9" cy="2281.1" r="2.15"/><circle cx="965.7" cy="2266.2" r="0.95"/><circle cx="956.7" cy="2252.3" r="0.95"/><circle cx="945.9" cy="2239.6" r="0.95"/><circle cx="933.6" cy="2228.3" r="0.95"/><circle cx="920" cy="2218.6" r="1.75"/><circle cx="905.2" cy="2210.6" r="0.95"/><circle cx="889.6" cy="2204.5" r="0.95"/><circle cx="873.2" cy="2200.4" r="0.95"/><circle cx="856.5" cy="2198.4" r="0.95"/><circle cx="839.7" cy="2198.4" r="2.15"/><circle cx="823" cy="2200.4" r="0.95"/><circle cx="806.6" cy="2204.5" r="0.95"/><circle cx="791" cy="2210.6" r="0.95"/><circle cx="776.2" cy="2218.6" r="0.95"/><circle cx="762.6" cy="2228.3" r="0.95"/><circle cx="750.3" cy="2239.6" r="1.75"/><circle cx="739.5" cy="2252.3" r="0.95"/><circle cx="730.5" cy="2266.2" r="0.95"/><circle cx="723.3" cy="2281.1" r="0.95"/><circle cx="718.1" cy="2296.8" r="0.95"/><circle cx="715" cy="2313" r="0.95"/><circle cx="713.9" cy="2329.5" r="0.95"/><circle cx="715" cy="2346" r="0.95"/><circle cx="718.1" cy="2362.2" r="0.95"/><circle cx="723.3" cy="2377.9" r="1.75"/><circle cx="730.5" cy="2392.8" r="0.95"/><circle cx="739.5" cy="2406.7" r="1.75"/><circle cx="750.3" cy="2419.4" r="2.15"/><circle cx="762.6" cy="2430.7" r="0.95"/><circle cx="776.2" cy="2440.4" r="2.15"/><circle cx="791" cy="2448.4" r="2.15"/><circle cx="806.6" cy="2454.5" r="1.75"/><circle cx="823" cy="2458.6" r="0.95"/><circle cx="839.7" cy="2460.6" r="0.95"/><circle cx="856.5" cy="2460.6" r="0.95"/><circle cx="873.2" cy="2458.6" r="2.15"/><circle cx="889.6" cy="2454.5" r="0.95"/><circle cx="905.2" cy="2448.4" r="0.95"/><circle cx="920" cy="2440.4" r="1.75"/><circle cx="933.6" cy="2430.7" r="0.95"/><circle cx="945.9" cy="2419.4" r="0.95"/><circle cx="956.7" cy="2406.7" r="0.95"/><circle cx="965.7" cy="2392.8" r="0.95"/><circle cx="972.9" cy="2377.9" r="0.95"/><circle cx="978.1" cy="2362.2" r="0.95"/><circle cx="981.2" cy="2346" r="0.95"/></g>
<g font-weight="normal" fill="#000"><text transform="translate(985.9,2329.5) rotate(-0.0) translate(0,1.6)" font-size="4.5">Shank1</text><text transform="translate(984.5,2311.4) rotate(-26.8) translate(0,1.6)" font-size="4.5">Nrn1</text><text transform="translate(981.3,2293.5) rotate(-45.8) translate(0,3.7)" font-size="10.5" font-weight="bold">Slc17a7</text><text transform="translate(975.3,2277.2) rotate(-57.7) translate(0,3.7)" font-size="10.5" font-weight="bold">Pdzrn3</text><text transform="translate(967.2,2262.9) rotate(-65.5) translate(0,1.6)" font-size="4.5">Kcnc2</text><text transform="translate(957.8,2248.9) rotate(-71.0) translate(0,1.6)" font-size="4.5">Rtn4r</text><text transform="translate(946.9,2236.1) rotate(-75.1) translate(0,1.6)" font-size="4.5">Olfm1</text><text transform="translate(934.4,2224.7) rotate(-78.3) translate(0,1.6)" font-size="4.5">Pparg</text><text transform="translate(920.6,2214.6) rotate(-81.0) translate(0,2.5)" font-size="7.2">Dlgap1</text><text transform="translate(905.7,2207) rotate(-83.3) translate(0,1.6)" font-size="4.5">Sv2b</text><text transform="translate(889.9,2200.9) rotate(-85.4) translate(0,1.6)" font-size="4.5">Tbr1</text><text transform="translate(873.4,2196.8) rotate(-87.3) translate(0,1.6)" font-size="4.5">Grm2</text><text transform="translate(856.6,2194.8) rotate(-89.1) translate(0,1.6)" font-size="4.5">Lmo4</text><text transform="translate(839.6,2193.8) rotate(-90.9) translate(0,3.7)" font-size="10.5" font-weight="bold">Opcml</text><text transform="translate(822.8,2196.8) rotate(-92.7) translate(0,1.6)" font-size="4.5">Kcnh7</text><text transform="translate(806.3,2200.9) rotate(-94.6) translate(0,1.6)" font-size="4.5">Nptx1</text><text transform="translate(790.5,2207) rotate(-96.7) translate(0,1.6)" font-size="4.5">4930578G10Rik</text><text transform="translate(775.6,2215) rotate(-99.0) translate(0,1.6)" font-size="4.5">Cck</text><text transform="translate(761.8,2224.7) rotate(-101.7) translate(0,1.6)" font-size="4.5">Sorcs2</text><text transform="translate(749.2,2235.7) rotate(-104.9) translate(0,2.5)" font-size="7.2">Gm26911</text><text transform="translate(738.4,2248.9) rotate(-109.0) translate(0,1.6)" font-size="4.5">Satb1</text><text transform="translate(729,2262.9) rotate(-114.5) translate(0,1.6)" font-size="4.5">Sstr4</text><text transform="translate(721.4,2278.1) rotate(-122.3) translate(0,1.6)" font-size="4.5">Prickle1</text><text transform="translate(715.6,2294.2) rotate(-134.2) translate(0,1.6)" font-size="4.5">Etl4</text><text transform="translate(711.7,2311.4) rotate(-153.2) translate(0,1.6)" font-size="4.5">Ptk2b</text><text transform="translate(710.3,2329.5) rotate(-180.0) translate(0,1.6)" font-size="4.5">Chrm3</text><text transform="translate(711.7,2347.6) rotate(-26.8) translate(0,1.6)" font-size="4.5" text-anchor="end">Camk2a</text><text transform="translate(715.6,2364.8) rotate(-45.8) translate(0,1.6)" font-size="4.5" text-anchor="end">Lrrtm4</text><text transform="translate(721.2,2381.3) rotate(-57.7) translate(0,2.5)" font-size="7.2" text-anchor="end">Mlat</text><text transform="translate(729,2396.1) rotate(-65.5) translate(0,1.6)" font-size="4.5" text-anchor="end">Neurod6</text><text transform="translate(738.2,2410.5) rotate(-71.0) translate(0,2.5)" font-size="7.2" text-anchor="end">Gabbr2</text><text transform="translate(749.1,2423.9) rotate(-75.1) translate(0,3.7)" font-size="10.5" font-weight="bold" text-anchor="end">Clstn2</text><text transform="translate(761.8,2434.3) rotate(-78.3) translate(0,1.6)" font-size="4.5" text-anchor="end">Ryr2</text><text transform="translate(775.5,2445) rotate(-81.0) translate(0,3.7)" font-size="10.5" font-weight="bold" text-anchor="end">Khdrbs3</text><text transform="translate(790.4,2453) rotate(-83.3) translate(0,3.7)" font-size="10.5" font-weight="bold" text-anchor="end">Nav3</text><text transform="translate(806.3,2458.5) rotate(-85.4) translate(0,2.5)" font-size="7.2" text-anchor="end">Ube3a</text><text transform="translate(822.8,2462.2) rotate(-87.3) translate(0,1.6)" font-size="4.5" text-anchor="end">Kcnma1</text><text transform="translate(839.6,2464.2) rotate(-89.1) translate(0,1.6)" font-size="4.5" text-anchor="end">Cux2</text><text transform="translate(856.6,2464.2) rotate(-90.9) translate(0,1.6)" font-size="4.5" text-anchor="end">Rorb</text><text transform="translate(873.5,2463.2) rotate(-92.7) translate(0,3.7)" font-size="10.5" font-weight="bold" text-anchor="end">Sphkap</text><text transform="translate(889.9,2458.1) rotate(-94.6) translate(0,1.6)" font-size="4.5" text-anchor="end">Vsnl1</text><text transform="translate(905.7,2452) rotate(-96.7) translate(0,1.6)" font-size="4.5" text-anchor="end">Slc1a2</text><text transform="translate(920.6,2444.4) rotate(-99.0) translate(0,2.5)" font-size="7.2" text-anchor="end">Meg3</text><text transform="translate(934.4,2434.3) rotate(-101.7) translate(0,1.6)" font-size="4.5" text-anchor="end">Gja1</text><text transform="translate(946.9,2422.9) rotate(-104.9) translate(0,1.6)" font-size="4.5" text-anchor="end">Aqp4</text><text transform="translate(957.8,2410.1) rotate(-109.0) translate(0,1.6)" font-size="4.5" text-anchor="end">Sparcl1</text><text transform="translate(967.2,2396.1) rotate(-114.5) translate(0,1.6)" font-size="4.5" text-anchor="end">Atp1a2</text><text transform="translate(974.8,2380.9) rotate(-122.3) translate(0,1.6)" font-size="4.5" text-anchor="end">Pla2g7</text><text transform="translate(980.6,2364.8) rotate(-134.2) translate(0,1.6)" font-size="4.5" text-anchor="end">Ntsr2</text><text transform="translate(984.5,2347.6) rotate(-153.2) translate(0,1.6)" font-size="4.5" text-anchor="end">Prodh</text></g>
<polygon points="1355.4,1995.8 1354.3,1979.3 1351.2,1963.1 1346,1947.4 1338.8,1932.5 1329.8,1918.6 1319,1905.9 1306.7,1894.6 1293.1,1884.9 1278.3,1876.9 1262.7,1870.8 1246.3,1866.7 1229.6,1864.7 1212.8,1864.7 1196.1,1866.7 1179.7,1870.8 1164.1,1876.9 1149.3,1884.9 1135.7,1894.6 1123.4,1905.9 1112.6,1918.6 1103.6,1932.5 1096.4,1947.4 1091.2,1963.1 1088.1,1979.3 1087,1995.8 1088.1,2012.3 1091.2,2028.5 1096.4,2044.2 1103.6,2059.1 1112.6,2073 1123.4,2085.7 1135.7,2097 1149.3,2106.7 1164.1,2114.7 1179.7,2120.8 1196.1,2124.9 1212.8,2126.9 1229.6,2126.9 1246.3,2124.9 1262.7,2120.8 1278.3,2114.7 1293.1,2106.7 1306.7,2097 1319,2085.7 1329.8,2073 1338.8,2059.1 1346,2044.2 1351.2,2028.5 1354.3,2012.3" fill="#ef4b24" fill-opacity="0.03" stroke="#ef4b24" stroke-opacity="0.09" stroke-width="1.5"/>
<path d="M1088.1 1979.3L1123.4 1905.9M1278.3 1876.9L1355.4 1995.8M1338.8 1932.5L1112.6 2073M1149.3 2106.7L1196.1 2124.9M1306.7 2097L1351.2 1963.1M1229.6 2126.9L1346 1947.4M1103.6 2059.1L1149.3 1884.9M1246.3 1866.7L1149.3 1884.9M1112.6 2073L1278.3 1876.9M1179.7 1870.8L1246.3 1866.7M1091.2 1963.1L1346 1947.4M1338.8 1932.5L1103.6 1932.5M1091.2 1963.1L1351.2 1963.1M1229.6 2126.9L1135.7 1894.6M1179.7 2120.8L1096.4 2044.2M1293.1 1884.9L1112.6 2073M1346 1947.4L1338.8 2059.1" stroke="#ef4b24" stroke-opacity="0.028" stroke-width="0.81" fill="none"/>
<path d="M1306.7 1894.6L1293.1 2106.7M1338.8 1932.5L1103.6 2059.1M1329.8 1918.6L1212.8 2126.9M1306.7 2097L1088.1 2012.3M1212.8 1864.7L1278.3 2114.7M1354.3 1979.3L1112.6 2073M1179.7 2120.8L1135.7 1894.6M1262.7 2120.8L1196.1 1866.7M1293.1 1884.9L1112.6 2073M1346 2044.2L1103.6 1932.5M1196.1 2124.9L1164.1 2114.7M1262.7 1870.8L1262.7 2120.8M1338.8 2059.1L1338.8 1932.5M1278.3 2114.7L1346 2044.2M1096.4 1947.4L1149.3 2106.7M1354.3 2012.3L1103.6 1932.5" stroke="#ef4b24" stroke-opacity="0.031" stroke-width="0.87" fill="none"/>
<path d="M1355.4 1995.8L1091.2 2028.5M1354.3 1979.3L1338.8 1932.5M1354.3 1979.3L1196.1 2124.9M1329.8 1918.6L1346 1947.4M1123.4 2085.7L1103.6 1932.5M1112.6 2073L1246.3 1866.7M1087 1995.8L1293.1 2106.7M1112.6 2073L1103.6 2059.1M1306.7 1894.6L1179.7 1870.8M1338.8 2059.1L1123.4 1905.9M1346 2044.2L1293.1 1884.9M1346 1947.4L1087 1995.8M1306.7 2097L1112.6 2073M1338.8 1932.5L1123.4 1905.9M1196.1 1866.7L1293.1 1884.9M1135.7 1894.6L1346 1947.4M1123.4 1905.9L1306.7 2097" stroke="#ef4b24" stroke-opacity="0.034" stroke-width="0.92" fill="none"/>
<path d="M1319 2085.7L1338.8 1932.5M1088.1 2012.3L1329.8 2073M1229.6 2126.9L1088.1 2012.3M1096.4 2044.2L1293.1 1884.9M1346 1947.4L1278.3 1876.9M1346 1947.4L1196.1 1866.7M1164.1 1876.9L1262.7 2120.8M1338.8 2059.1L1354.3 1979.3M1351.2 1963.1L1112.6 1918.6M1112.6 2073L1164.1 1876.9M1112.6 2073L1229.6 2126.9M1112.6 2073L1103.6 2059.1M1338.8 1932.5L1196.1 2124.9M1088.1 1979.3L1123.4 1905.9M1149.3 1884.9L1354.3 1979.3M1278.3 1876.9L1293.1 1884.9M1112.6 2073L1179.7 2120.8" stroke="#ef4b24" stroke-opacity="0.037" stroke-width="0.89" fill="none"/>
<path d="M1103.6 1932.5L1112.6 1918.6M1149.3 2106.7L1229.6 1864.7M1112.6 2073L1338.8 1932.5M1112.6 2073L1293.1 1884.9M1179.7 1870.8L1229.6 2126.9M1091.2 2028.5L1329.8 1918.6M1293.1 1884.9L1196.1 2124.9M1196.1 2124.9L1088.1 1979.3M1329.8 2073L1112.6 2073M1112.6 2073L1096.4 1947.4M1293.1 1884.9L1112.6 2073M1293.1 2106.7L1196.1 1866.7M1246.3 1866.7L1091.2 1963.1M1229.6 1864.7L1338.8 1932.5M1164.1 2114.7L1135.7 2097M1293.1 1884.9L1164.1 2114.7" stroke="#ef4b24" stroke-opacity="0.041" stroke-width="0.98" fill="none"/>
<path d="M1351.2 1963.1L1112.6 1918.6M1112.6 2073L1338.8 1932.5M1179.7 2120.8L1096.4 1947.4M1196.1 2124.9L1246.3 1866.7M1346 1947.4L1135.7 1894.6M1351.2 2028.5L1212.8 2126.9M1149.3 2106.7L1196.1 1866.7M1112.6 2073L1329.8 1918.6M1346 2044.2L1351.2 1963.1M1354.3 1979.3L1179.7 2120.8M1354.3 1979.3L1096.4 1947.4M1135.7 2097L1103.6 2059.1M1087 1995.8L1196.1 1866.7M1319 2085.7L1346 2044.2M1355.4 1995.8L1112.6 1918.6M1103.6 2059.1L1164.1 1876.9M1091.2 1963.1L1346 1947.4" stroke="#ef4b24" stroke-opacity="0.044" stroke-width="0.91" fill="none"/>
<path d="M1149.3 2106.7L1091.2 1963.1M1112.6 2073L1293.1 1884.9M1246.3 1866.7L1346 2044.2M1355.4 1995.8L1293.1 1884.9M1087 1995.8L1103.6 2059.1M1319 2085.7L1338.8 2059.1M1103.6 2059.1L1346 1947.4M1306.7 1894.6L1262.7 1870.8M1262.7 1870.8L1346 1947.4M1112.6 1918.6L1346 2044.2M1346 2044.2L1112.6 2073M1346 1947.4L1164.1 2114.7M1112.6 2073L1212.8 1864.7M1355.4 1995.8L1087 1995.8M1164.1 2114.7L1091.2 1963.1M1346 1947.4L1212.8 1864.7" stroke="#ef4b24" stroke-opacity="0.047" stroke-width="0.80" fill="none"/>
<path d="M1164.1 2114.7L1293.1 1884.9M1112.6 2073L1346 2044.2M1112.6 1918.6L1123.4 1905.9M1088.1 1979.3L1112.6 2073M1354.3 1979.3L1196.1 2124.9M1306.7 2097L1329.8 2073M1355.4 1995.8L1329.8 2073M1103.6 2059.1L1319 2085.7M1112.6 2073L1278.3 1876.9M1354.3 1979.3L1262.7 2120.8M1351.2 2028.5L1346 2044.2M1355.4 1995.8L1196.1 1866.7M1293.1 1884.9L1338.8 1932.5M1112.6 2073L1293.1 1884.9M1278.3 2114.7L1149.3 2106.7M1088.1 2012.3L1278.3 1876.9M1246.3 1866.7L1196.1 1866.7" stroke="#ef4b24" stroke-opacity="0.050" stroke-width="0.99" fill="none"/>
<path d="M1229.6 1864.7L1319 1905.9M1346 1947.4L1112.6 2073M1293.1 2106.7L1123.4 1905.9M1112.6 1918.6L1293.1 1884.9M1149.3 1884.9L1212.8 2126.9M1346 2044.2L1329.8 1918.6M1351.2 1963.1L1293.1 1884.9M1262.7 1870.8L1278.3 1876.9M1112.6 2073L1096.4 2044.2M1149.3 2106.7L1135.7 1894.6M1351.2 2028.5L1293.1 1884.9M1135.7 2097L1338.8 1932.5M1329.8 2073L1329.8 1918.6M1346 1947.4L1212.8 2126.9M1346 1947.4L1164.1 2114.7M1354.3 2012.3L1091.2 1963.1M1329.8 2073L1112.6 1918.6" stroke="#ef4b24" stroke-opacity="0.053" stroke-width="0.70" fill="none"/>
<path d="M1091.2 2028.5L1338.8 2059.1M1112.6 2073L1293.1 1884.9M1112.6 2073L1293.1 1884.9M1087 1995.8L1346 2044.2M1355.4 1995.8L1346 2044.2M1164.1 1876.9L1229.6 1864.7M1293.1 1884.9L1329.8 1918.6M1123.4 2085.7L1096.4 1947.4M1112.6 2073L1278.3 2114.7M1112.6 2073L1149.3 2106.7M1354.3 1979.3L1196.1 1866.7M1346 2044.2L1135.7 2097M1179.7 2120.8L1246.3 2124.9M1196.1 1866.7L1293.1 1884.9M1278.3 1876.9L1229.6 2126.9M1087 1995.8L1262.7 1870.8M1262.7 1870.8L1329.8 1918.6" stroke="#ef4b24" stroke-opacity="0.056" stroke-width="0.76" fill="none"/>
<path d="M1112.6 2073L1196.1 2124.9M1196.1 1866.7L1354.3 2012.3M1262.7 2120.8L1212.8 1864.7M1103.6 2059.1L1346 2044.2M1112.6 2073L1351.2 2028.5M1112.6 2073L1088.1 2012.3M1246.3 2124.9L1354.3 2012.3M1278.3 2114.7L1354.3 2012.3M1212.8 2126.9L1338.8 2059.1M1346 1947.4L1149.3 2106.7M1355.4 1995.8L1319 1905.9M1179.7 2120.8L1293.1 1884.9M1212.8 1864.7L1123.4 1905.9M1246.3 2124.9L1319 1905.9M1112.6 2073L1103.6 2059.1M1091.2 1963.1L1087 1995.8M1346 1947.4L1112.6 1918.6" stroke="#ef4b24" stroke-opacity="0.059" stroke-width="0.74" fill="none"/>
<path d="M1112.6 1918.6L1179.7 2120.8M1354.3 2012.3L1319 1905.9M1346 1947.4L1351.2 2028.5M1354.3 1979.3L1354.3 2012.3M1354.3 2012.3L1262.7 2120.8M1135.7 1894.6L1262.7 2120.8M1112.6 2073L1112.6 1918.6M1338.8 2059.1L1149.3 2106.7M1293.1 1884.9L1112.6 1918.6M1149.3 2106.7L1346 2044.2M1112.6 2073L1278.3 1876.9M1355.4 1995.8L1293.1 2106.7M1246.3 1866.7L1149.3 2106.7M1229.6 1864.7L1293.1 1884.9M1096.4 1947.4L1351.2 2028.5M1096.4 1947.4L1179.7 2120.8M1103.6 1932.5L1338.8 1932.5" stroke="#ef4b24" stroke-opacity="0.062" stroke-width="0.81" fill="none"/>
<path d="M1329.8 1918.6L1196.1 1866.7M1149.3 2106.7L1346 2044.2M1293.1 1884.9L1346 2044.2M1306.7 2097L1103.6 2059.1M1329.8 1918.6L1135.7 1894.6M1112.6 1918.6L1262.7 1870.8M1306.7 2097L1091.2 2028.5M1088.1 2012.3L1346 1947.4M1346 2044.2L1112.6 1918.6M1346 1947.4L1112.6 2073M1112.6 2073L1112.6 1918.6M1091.2 2028.5L1091.2 1963.1M1351.2 2028.5L1179.7 2120.8M1319 2085.7L1123.4 2085.7M1262.7 1870.8L1319 2085.7M1149.3 1884.9L1112.6 2073M1096.4 2044.2L1135.7 1894.6" stroke="#ef4b24" stroke-opacity="0.066" stroke-width="0.81" fill="none"/>
<path d="M1123.4 2085.7L1164.1 2114.7M1229.6 1864.7L1112.6 2073M1354.3 2012.3L1112.6 2073M1096.4 2044.2L1103.6 2059.1M1246.3 1866.7L1196.1 2124.9M1196.1 1866.7L1088.1 1979.3M1306.7 1894.6L1135.7 2097M1229.6 2126.9L1112.6 1918.6M1196.1 1866.7L1087 1995.8M1091.2 2028.5L1278.3 2114.7M1196.1 1866.7L1351.2 2028.5M1096.4 2044.2L1196.1 2124.9M1088.1 2012.3L1103.6 2059.1M1293.1 1884.9L1346 1947.4M1262.7 1870.8L1329.8 1918.6M1112.6 2073L1306.7 1894.6M1354.3 1979.3L1087 1995.8" stroke="#ef4b24" stroke-opacity="0.069" stroke-width="0.82" fill="none"/>
<path d="M1103.6 1932.5L1338.8 1932.5M1351.2 1963.1L1123.4 1905.9M1355.4 1995.8L1346 1947.4M1329.8 2073L1346 1947.4M1278.3 1876.9L1246.3 1866.7M1135.7 1894.6L1196.1 1866.7M1088.1 1979.3L1112.6 2073M1293.1 1884.9L1278.3 2114.7M1123.4 1905.9L1112.6 2073M1293.1 1884.9L1306.7 2097M1123.4 1905.9L1196.1 2124.9M1103.6 1932.5L1149.3 2106.7M1329.8 2073L1306.7 1894.6M1262.7 1870.8L1351.2 1963.1M1246.3 2124.9L1346 1947.4" stroke="#ef4b24" stroke-opacity="0.072" stroke-width="0.89" fill="none"/>
<path d="M1196.1 1866.7L1262.7 1870.8M1123.4 2085.7L1112.6 2073M1262.7 1870.8L1112.6 1918.6M1112.6 2073L1103.6 2059.1M1091.2 1963.1L1293.1 1884.9M1164.1 1876.9L1112.6 1918.6M1346 2044.2L1112.6 2073M1112.6 2073L1329.8 1918.6M1319 2085.7L1135.7 1894.6M1096.4 2044.2L1112.6 2073M1293.1 1884.9L1351.2 2028.5M1196.1 1866.7L1229.6 1864.7M1149.3 2106.7L1135.7 2097M1262.7 2120.8L1293.1 1884.9M1212.8 1864.7L1262.7 2120.8M1179.7 2120.8L1096.4 1947.4" stroke="#ef4b24" stroke-opacity="0.075" stroke-width="0.80" fill="none"/>
<path d="M1196.1 1866.7L1229.6 2126.9M1196.1 2124.9L1338.8 1932.5M1112.6 2073L1346 2044.2M1179.7 1870.8L1164.1 2114.7M1346 2044.2L1351.2 2028.5M1112.6 1918.6L1164.1 1876.9M1293.1 1884.9L1112.6 2073M1329.8 2073L1346 2044.2M1346 2044.2L1096.4 2044.2M1091.2 2028.5L1319 2085.7M1293.1 1884.9L1179.7 2120.8M1135.7 2097L1164.1 1876.9M1135.7 2097L1212.8 1864.7M1112.6 2073L1087 1995.8M1112.6 2073L1196.1 1866.7M1319 1905.9L1196.1 1866.7" stroke="#ef4b24" stroke-opacity="0.078" stroke-width="0.84" fill="none"/>
<path d="M1278.3 1876.9L1306.7 2097M1135.7 1894.6L1293.1 2106.7M1135.7 1894.6L1293.1 1884.9M1164.1 2114.7L1329.8 1918.6M1123.4 1905.9L1179.7 2120.8M1293.1 1884.9L1103.6 2059.1M1293.1 2106.7L1112.6 2073M1338.8 1932.5L1135.7 1894.6M1212.8 1864.7L1112.6 2073M1351.2 1963.1L1351.2 2028.5M1306.7 2097L1278.3 1876.9M1087 1995.8L1306.7 2097M1354.3 2012.3L1164.1 2114.7M1103.6 1932.5L1196.1 1866.7M1135.7 1894.6L1212.8 2126.9M1103.6 1932.5L1346 2044.2" stroke="#ef4b24" stroke-opacity="0.081" stroke-width="0.90" fill="none"/>
<path d="M1306.7 2097L1346 1947.4M1112.6 2073L1091.2 1963.1M1112.6 2073L1306.7 1894.6M1135.7 2097L1088.1 1979.3M1088.1 1979.3L1096.4 2044.2M1278.3 1876.9L1149.3 2106.7M1355.4 1995.8L1123.4 2085.7M1306.7 2097L1196.1 2124.9M1346 2044.2L1135.7 1894.6M1164.1 1876.9L1088.1 1979.3M1087 1995.8L1112.6 2073M1164.1 1876.9L1135.7 2097M1293.1 1884.9L1354.3 1979.3M1112.6 2073L1293.1 1884.9M1112.6 2073L1196.1 1866.7M1351.2 2028.5L1262.7 1870.8" stroke="#ef4b24" stroke-opacity="0.084" stroke-width="0.98" fill="none"/>
<path d="M1112.6 1918.6L1088.1 2012.3M1112.6 1918.6L1354.3 2012.3M1338.8 1932.5L1112.6 2073M1088.1 2012.3L1112.6 2073M1123.4 1905.9L1112.6 2073M1112.6 2073L1306.7 1894.6M1354.3 1979.3L1087 1995.8M1351.2 2028.5L1293.1 1884.9M1355.4 1995.8L1278.3 1876.9M1196.1 1866.7L1229.6 2126.9M1087 1995.8L1179.7 2120.8M1329.8 2073L1346 2044.2M1112.6 2073L1306.7 1894.6M1087 1995.8L1212.8 1864.7M1179.7 2120.8L1293.1 1884.9M1112.6 2073L1262.7 2120.8" stroke="#ef4b24" stroke-opacity="0.087" stroke-width="0.99" fill="none"/>
<path d="M1354.3 1979.3L1096.4 1947.4M1112.6 2073L1354.3 1979.3M1135.7 2097L1346 1947.4M1346 1947.4L1112.6 2073M1229.6 1864.7L1212.8 1864.7M1112.6 2073L1149.3 1884.9M1293.1 2106.7L1123.4 2085.7M1096.4 2044.2L1338.8 2059.1M1346 1947.4L1096.4 2044.2M1103.6 2059.1L1179.7 2120.8M1112.6 2073L1164.1 1876.9M1212.8 1864.7L1212.8 2126.9M1088.1 2012.3L1112.6 2073M1123.4 1905.9L1319 2085.7M1351.2 1963.1L1135.7 2097M1091.2 2028.5L1164.1 1876.9" stroke="#ef4b24" stroke-opacity="0.091" stroke-width="0.81" fill="none"/>
<path d="M1329.8 2073L1319 1905.9M1229.6 2126.9L1149.3 1884.9M1091.2 1963.1L1149.3 2106.7M1123.4 1905.9L1306.7 2097M1096.4 2044.2L1278.3 1876.9M1091.2 1963.1L1112.6 2073M1329.8 2073L1179.7 2120.8M1103.6 2059.1L1112.6 2073M1179.7 1870.8L1278.3 2114.7M1329.8 1918.6L1306.7 2097M1123.4 2085.7L1196.1 2124.9M1112.6 2073L1229.6 2126.9M1229.6 2126.9L1112.6 1918.6M1278.3 2114.7L1179.7 2120.8M1293.1 1884.9L1346 1947.4" stroke="#ef4b24" stroke-opacity="0.094" stroke-width="0.82" fill="none"/>
<path d="M1112.6 2073L1319 1905.9M1096.4 1947.4L1262.7 1870.8M1179.7 2120.8L1112.6 1918.6M1246.3 1866.7L1246.3 2124.9M1091.2 1963.1L1346 2044.2M1179.7 2120.8L1306.7 2097M1196.1 1866.7L1293.1 1884.9M1351.2 2028.5L1293.1 1884.9M1262.7 1870.8L1355.4 1995.8M1246.3 2124.9L1123.4 2085.7M1088.1 1979.3L1112.6 2073M1346 1947.4L1103.6 1932.5M1103.6 2059.1L1246.3 2124.9M1112.6 2073L1355.4 1995.8M1135.7 2097L1338.8 2059.1M1351.2 1963.1L1346 1947.4" stroke="#ef4b24" stroke-opacity="0.097" stroke-width="1.00" fill="none"/>
<path d="M1112.6 2073L1319 2085.7M1091.2 1963.1L1164.1 1876.9M1306.7 2097L1293.1 1884.9M1164.1 2114.7L1112.6 2073M1354.3 1979.3L1329.8 1918.6M1164.1 2114.7L1262.7 1870.8M1091.2 1963.1L1123.4 2085.7M1346 1947.4L1278.3 2114.7M1088.1 1979.3L1319 1905.9M1246.3 1866.7L1212.8 1864.7M1112.6 2073L1087 1995.8M1091.2 1963.1L1246.3 2124.9M1306.7 1894.6L1149.3 1884.9M1212.8 2126.9L1293.1 2106.7M1338.8 2059.1L1112.6 2073M1164.1 2114.7L1112.6 2073" stroke="#ef4b24" stroke-opacity="0.100" stroke-width="0.95" fill="none"/>
<path d="M1306.7 2097L1319 1905.9M1112.6 2073L1338.8 2059.1M1329.8 1918.6L1346 1947.4" stroke="#ef4b24" stroke-opacity="0.220" stroke-width="1.24" fill="none"/>
<path d="M1196.1 1866.7L1096.4 1947.4M1123.4 2085.7L1112.6 2073M1212.8 2126.9L1196.1 2124.9" stroke="#ef4b24" stroke-opacity="0.238" stroke-width="1.22" fill="none"/>
<path d="M1179.7 1870.8L1088.1 1979.3M1112.6 2073L1329.8 2073" stroke="#ef4b24" stroke-opacity="0.256" stroke-width="0.99" fill="none"/>
<path d="M1346 2044.2L1112.6 1918.6M1329.8 2073L1293.1 1884.9" stroke="#ef4b24" stroke-opacity="0.273" stroke-width="1.05" fill="none"/>
<path d="M1091.2 2028.5L1164.1 1876.9M1319 1905.9L1306.7 1894.6" stroke="#ef4b24" stroke-opacity="0.291" stroke-width="1.01" fill="none"/>
<path d="M1112.6 2073L1103.6 2059.1M1355.4 1995.8L1278.3 2114.7" stroke="#ef4b24" stroke-opacity="0.309" stroke-width="1.25" fill="none"/>
<path d="M1293.1 1884.9L1346 1947.4M1346 2044.2L1091.2 2028.5" stroke="#ef4b24" stroke-opacity="0.327" stroke-width="0.90" fill="none"/>
<path d="M1179.7 2120.8L1262.7 2120.8M1179.7 2120.8L1112.6 2073" stroke="#ef4b24" stroke-opacity="0.344" stroke-width="1.02" fill="none"/>
<path d="M1149.3 1884.9L1278.3 1876.9M1112.6 2073L1112.6 1918.6" stroke="#ef4b24" stroke-opacity="0.362" stroke-width="1.16" fill="none"/>
<path d="M1329.8 1918.6L1112.6 2073M1346 2044.2L1179.7 1870.8" stroke="#ef4b24" stroke-opacity="0.380" stroke-width="1.15" fill="none"/>
<line x1="1196.1" y1="1866.7" x2="1293.1" y2="1884.9" stroke="#ef4b24" stroke-opacity="0.76" stroke-width="1.95"/>
<line x1="1196.1" y1="1866.7" x2="1112.6" y2="1918.6" stroke="#ef4b24" stroke-opacity="0.71" stroke-width="1.56"/>
<line x1="1112.6" y1="1918.6" x2="1293.1" y2="1884.9" stroke="#ef4b24" stroke-opacity="0.63" stroke-width="1.17"/>
<line x1="1112.6" y1="2073" x2="1293.1" y2="1884.9" stroke="#ef4b24" stroke-opacity="0.80" stroke-width="2.03"/>
<line x1="1112.6" y1="2073" x2="1319" y2="1905.9" stroke="#ef4b24" stroke-opacity="0.63" stroke-width="1.17"/>
<line x1="1112.6" y1="2073" x2="1306.7" y2="1894.6" stroke="#ef4b24" stroke-opacity="0.55" stroke-width="0.94"/>
<line x1="1179.7" y1="2120.8" x2="1346" y2="1947.4" stroke="#ef4b24" stroke-opacity="0.80" stroke-width="2.03"/>
<line x1="1112.6" y1="2073" x2="1346" y2="2044.2" stroke="#ef4b24" stroke-opacity="0.67" stroke-width="1.17"/>
<line x1="1112.6" y1="2073" x2="1319" y2="2085.7" stroke="#ef4b24" stroke-opacity="0.67" stroke-width="1.17"/>
<line x1="1112.6" y1="2073" x2="1278.3" y2="2114.7" stroke="#ef4b24" stroke-opacity="0.67" stroke-width="1.17"/>
<line x1="1112.6" y1="2073" x2="1246.3" y2="2124.9" stroke="#ef4b24" stroke-opacity="0.59" stroke-width="1.01"/>
<line x1="1112.6" y1="2073" x2="1354.3" y2="2012.3" stroke="#ef4b24" stroke-opacity="0.50" stroke-width="0.86"/>
<line x1="1278.3" y1="2114.7" x2="1179.7" y2="2120.8" stroke="#ef4b24" stroke-opacity="0.46" stroke-width="0.78"/>
<line x1="1112.6" y1="2073" x2="1351.2" y2="1963.1" stroke="#ef4b24" stroke-opacity="0.42" stroke-width="0.78"/>
<line x1="1112.6" y1="2073" x2="1338.8" y2="1932.5" stroke="#ef4b24" stroke-opacity="0.42" stroke-width="0.78"/>
<line x1="1112.6" y1="2073" x2="1229.6" y2="1864.7" stroke="#ef4b24" stroke-opacity="0.42" stroke-width="0.78"/>
<line x1="1112.6" y1="2073" x2="1164.1" y2="1876.9" stroke="#ef4b24" stroke-opacity="0.42" stroke-width="0.78"/>
<line x1="1112.6" y1="2073" x2="1196.1" y2="2124.9" stroke="#ef4b24" stroke-opacity="0.46" stroke-width="0.78"/>
<line x1="1112.6" y1="2073" x2="1306.7" y2="2097" stroke="#ef4b24" stroke-opacity="0.42" stroke-width="0.78"/>
<g fill="#000"><circle cx="1355.4" cy="1995.8" r="0.95"/><circle cx="1354.3" cy="1979.3" r="0.95"/><circle cx="1351.2" cy="1963.1" r="0.95"/><circle cx="1346" cy="1947.4" r="1.75"/><circle cx="1338.8" cy="1932.5" r="0.95"/><circle cx="1329.8" cy="1918.6" r="0.95"/><circle cx="1319" cy="1905.9" r="0.95"/><circle cx="1306.7" cy="1894.6" r="0.95"/><circle cx="1293.1" cy="1884.9" r="2.15"/><circle cx="1278.3" cy="1876.9" r="0.95"/><circle cx="1262.7" cy="1870.8" r="0.95"/><circle cx="1246.3" cy="1866.7" r="0.95"/><circle cx="1229.6" cy="1864.7" r="0.95"/><circle cx="1212.8" cy="1864.7" r="0.95"/><circle cx="1196.1" cy="1866.7" r="1.75"/><circle cx="1179.7" cy="1870.8" r="0.95"/><circle cx="1164.1" cy="1876.9" r="0.95"/><circle cx="1149.3" cy="1884.9" r="0.95"/><circle cx="1135.7" cy="1894.6" r="0.95"/><circle cx="1123.4" cy="1905.9" r="0.95"/><circle cx="1112.6" cy="1918.6" r="1.75"/><circle cx="1103.6" cy="1932.5" r="0.95"/><circle cx="1096.4" cy="1947.4" r="0.95"/><circle cx="1091.2" cy="1963.1" r="0.95"/><circle cx="1088.1" cy="1979.3" r="0.95"/><circle cx="1087" cy="1995.8" r="0.95"/><circle cx="1088.1" cy="2012.3" r="0.95"/><circle cx="1091.2" cy="2028.5" r="0.95"/><circle cx="1096.4" cy="2044.2" r="0.95"/><circle cx="1103.6" cy="2059.1" r="0.95"/><circle cx="1112.6" cy="2073" r="2.15"/><circle cx="1123.4" cy="2085.7" r="0.95"/><circle cx="1135.7" cy="2097" r="0.95"/><circle cx="1149.3" cy="2106.7" r="0.95"/><circle cx="1164.1" cy="2114.7" r="0.95"/><circle cx="1179.7" cy="2120.8" r="1.75"/><circle cx="1196.1" cy="2124.9" r="0.95"/><circle cx="1212.8" cy="2126.9" r="0.95"/><circle cx="1229.6" cy="2126.9" r="0.95"/><circle cx="1246.3" cy="2124.9" r="1.75"/><circle cx="1262.7" cy="2120.8" r="0.95"/><circle cx="1278.3" cy="2114.7" r="1.75"/><circle cx="1293.1" cy="2106.7" r="0.95"/><circle cx="1306.7" cy="2097" r="0.95"/><circle cx="1319" cy="2085.7" r="1.75"/><circle cx="1329.8" cy="2073" r="0.95"/><circle cx="1338.8" cy="2059.1" r="0.95"/><circle cx="1346" cy="2044.2" r="1.75"/><circle cx="1351.2" cy="2028.5" r="0.95"/><circle cx="1354.3" cy="2012.3" r="1.35"/></g>
<g font-weight="normal" fill="#000"><text transform="translate(1359,1995.8) rotate(-0.0) translate(0,1.6)" font-size="4.5">Pla2g7</text><text transform="translate(1357.6,1977.7) rotate(-26.8) translate(0,1.6)" font-size="4.5">Ntsr2</text><text transform="translate(1353.7,1960.5) rotate(-45.8) translate(0,1.6)" font-size="4.5">Prodh</text><text transform="translate(1348.1,1944) rotate(-57.7) translate(0,2.5)" font-size="7.2">Fgfr3</text><text transform="translate(1340.3,1929.2) rotate(-65.5) translate(0,1.6)" font-size="4.5">Slc4a4</text><text transform="translate(1330.9,1915.2) rotate(-71.0) translate(0,1.6)" font-size="4.5">Pdgfd</text><text transform="translate(1320,1902.4) rotate(-75.1) translate(0,1.6)" font-size="4.5">Aldh1l1</text><text transform="translate(1307.5,1891) rotate(-78.3) translate(0,1.6)" font-size="4.5">Mertk</text><text transform="translate(1293.8,1880.3) rotate(-81.0) translate(0,3.7)" font-size="10.5" font-weight="bold">Slc6a11</text><text transform="translate(1278.8,1873.3) rotate(-83.3) translate(0,1.6)" font-size="4.5">Lrig1</text><text transform="translate(1263,1867.2) rotate(-85.4) translate(0,1.6)" font-size="4.5">Fzd2</text><text transform="translate(1246.5,1863.1) rotate(-87.3) translate(0,1.6)" font-size="4.5">Cxcl14</text><text transform="translate(1229.7,1861.1) rotate(-89.1) translate(0,1.6)" font-size="4.5">Ptprz1</text><text transform="translate(1212.7,1861.1) rotate(-90.9) translate(0,1.6)" font-size="4.5">Id4</text><text transform="translate(1195.9,1862.7) rotate(-92.7) translate(0,2.5)" font-size="7.2">Mlh3</text><text transform="translate(1179.4,1867.2) rotate(-94.6) translate(0,1.6)" font-size="4.5">Etnppl</text><text transform="translate(1163.6,1873.3) rotate(-96.7) translate(0,1.6)" font-size="4.5">Sox9</text><text transform="translate(1148.7,1881.3) rotate(-99.0) translate(0,1.6)" font-size="4.5">Lcat</text><text transform="translate(1134.9,1891) rotate(-101.7) translate(0,1.6)" font-size="4.5">Tril</text><text transform="translate(1122.4,1902.4) rotate(-104.9) translate(0,1.6)" font-size="4.5">Acot11</text><text transform="translate(1111.3,1914.8) rotate(-109.0) translate(0,2.5)" font-size="7.2">Ednrb</text><text transform="translate(1102.1,1929.2) rotate(-114.5) translate(0,1.6)" font-size="4.5">Pbxip1</text><text transform="translate(1094.5,1944.4) rotate(-122.3) translate(0,1.6)" font-size="4.5">Bmpr1b</text><text transform="translate(1088.7,1960.5) rotate(-134.2) translate(0,1.6)" font-size="4.5">Lamp2</text><text transform="translate(1084.8,1977.7) rotate(-153.2) translate(0,1.6)" font-size="4.5">Acsbg1</text><text transform="translate(1083.4,1995.8) rotate(-180.0) translate(0,1.6)" font-size="4.5">Mfge8</text><text transform="translate(1084.8,2013.9) rotate(-26.8) translate(0,1.6)" font-size="4.5" text-anchor="end">Lhx2</text><text transform="translate(1088.7,2031.1) rotate(-45.8) translate(0,1.6)" font-size="4.5" text-anchor="end">Gjb6</text><text transform="translate(1094.5,2047.2) rotate(-57.7) translate(0,1.6)" font-size="4.5" text-anchor="end">Tmem119</text><text transform="translate(1102.1,2062.4) rotate(-65.5) translate(0,1.6)" font-size="4.5" text-anchor="end">P2ry12</text><text transform="translate(1111.1,2077.4) rotate(-71.0) translate(0,3.7)" font-size="10.5" font-weight="bold" text-anchor="end">Phkg1</text><text transform="translate(1122.4,2089.2) rotate(-75.1) translate(0,1.6)" font-size="4.5" text-anchor="end">Fcrls</text><text transform="translate(1134.9,2100.6) rotate(-78.3) translate(0,1.6)" font-size="4.5" text-anchor="end">Gpr34</text><text transform="translate(1148.7,2110.3) rotate(-81.0) translate(0,1.6)" font-size="4.5" text-anchor="end">Siglech</text><text transform="translate(1163.6,2118.3) rotate(-83.3) translate(0,1.6)" font-size="4.5" text-anchor="end">Trem2</text><text transform="translate(1179.4,2124.8) rotate(-85.4) translate(0,2.5)" font-size="7.2" text-anchor="end">Nrxn1</text><text transform="translate(1195.9,2128.5) rotate(-87.3) translate(0,1.6)" font-size="4.5" text-anchor="end">Selplg</text><text transform="translate(1212.7,2130.5) rotate(-89.1) translate(0,1.6)" font-size="4.5" text-anchor="end">Csf1r</text><text transform="translate(1229.7,2130.5) rotate(-90.9) translate(0,1.6)" font-size="4.5" text-anchor="end">Cx3cr1</text><text transform="translate(1246.5,2128.9) rotate(-92.7) translate(0,2.5)" font-size="7.2" text-anchor="end">Acss1</text><text transform="translate(1263,2124.4) rotate(-94.6) translate(0,1.6)" font-size="4.5" text-anchor="end">Dock2</text><text transform="translate(1278.8,2118.7) rotate(-96.7) translate(0,2.5)" font-size="7.2" text-anchor="end">Gm3764</text><text transform="translate(1293.7,2110.3) rotate(-99.0) translate(0,1.6)" font-size="4.5" text-anchor="end">Ikzf1</text><text transform="translate(1307.5,2100.6) rotate(-101.7) translate(0,1.6)" font-size="4.5" text-anchor="end">Laptm5</text><text transform="translate(1320.1,2089.6) rotate(-104.9) translate(0,2.5)" font-size="7.2" text-anchor="end">Sfxn5</text><text transform="translate(1330.9,2076.4) rotate(-109.0) translate(0,1.6)" font-size="4.5" text-anchor="end">Cd53</text><text transform="translate(1340.3,2062.4) rotate(-114.5) translate(0,1.6)" font-size="4.5" text-anchor="end">C1qa</text><text transform="translate(1348.1,2047.6) rotate(-122.3) translate(0,2.5)" font-size="7.2" text-anchor="end">Gli3</text><text transform="translate(1353.7,2031.1) rotate(-134.2) translate(0,1.6)" font-size="4.5" text-anchor="end">Itgam</text><text transform="translate(1357.7,2014) rotate(-153.2) translate(0,2)" font-size="5.8" text-anchor="end">Kcnk1</text></g>
<polygon points="1665.5,1995.7 1664.4,1979.2 1661.3,1963 1656.1,1947.3 1648.9,1932.4 1639.9,1918.5 1629.1,1905.8 1616.8,1894.5 1603.2,1884.8 1588.4,1876.8 1572.8,1870.7 1556.4,1866.6 1539.7,1864.6 1522.9,1864.6 1506.2,1866.6 1489.8,1870.7 1474.2,1876.8 1459.4,1884.8 1445.8,1894.5 1433.5,1905.8 1422.7,1918.5 1413.7,1932.4 1406.5,1947.3 1401.3,1963 1398.2,1979.2 1397.1,1995.7 1398.2,2012.2 1401.3,2028.4 1406.5,2044.1 1413.7,2059 1422.7,2072.9 1433.5,2085.6 1445.8,2096.9 1459.4,2106.6 1474.2,2114.6 1489.8,2120.7 1506.2,2124.8 1522.9,2126.8 1539.7,2126.8 1556.4,2124.8 1572.8,2120.7 1588.4,2114.6 1603.2,2106.6 1616.8,2096.9 1629.1,2085.6 1639.9,2072.9 1648.9,2059 1656.1,2044.1 1661.3,2028.4 1664.4,2012.2" fill="#ef4b24" fill-opacity="0.018" stroke="#ef4b24" stroke-opacity="0.05" stroke-width="1.5"/>
<path d="M1422.7 2072.9L1398.2 1979.2M1629.1 2085.6L1603.2 1884.8M1406.5 2044.1L1603.2 1884.8M1572.8 1870.7L1433.5 1905.8M1572.8 2120.7L1656.1 2044.1M1656.1 2044.1L1413.7 2059M1556.4 2124.8L1639.9 2072.9M1588.4 1876.8L1556.4 1866.6M1539.7 2126.8L1398.2 1979.2M1413.7 1932.4L1556.4 2124.8M1433.5 1905.8L1422.7 2072.9M1422.7 2072.9L1664.4 1979.2" stroke="#ef4b24" stroke-opacity="0.022" stroke-width="0.90" fill="none"/>
<path d="M1422.7 2072.9L1556.4 1866.6M1422.7 2072.9L1413.7 1932.4M1397.1 1995.7L1661.3 2028.4M1648.9 1932.4L1572.8 1870.7M1664.4 2012.2L1506.2 2124.8M1433.5 1905.8L1406.5 1947.3M1588.4 1876.8L1639.9 2072.9M1474.2 1876.8L1603.2 2106.6M1413.7 2059L1489.8 2120.7M1572.8 2120.7L1656.1 2044.1M1603.2 1884.8L1406.5 2044.1M1422.7 2072.9L1433.5 2085.6" stroke="#ef4b24" stroke-opacity="0.025" stroke-width="0.77" fill="none"/>
<path d="M1588.4 2114.6L1603.2 2106.6M1422.7 2072.9L1629.1 1905.8M1401.3 1963L1661.3 1963M1556.4 1866.6L1639.9 1918.5M1656.1 1947.3L1616.8 2096.9M1422.7 2072.9L1433.5 1905.8M1422.7 2072.9L1398.2 1979.2M1445.8 2096.9L1422.7 2072.9M1506.2 2124.8L1616.8 1894.5M1422.7 1918.5L1665.5 1995.7M1588.4 2114.6L1459.4 1884.8" stroke="#ef4b24" stroke-opacity="0.028" stroke-width="0.85" fill="none"/>
<path d="M1459.4 2106.6L1603.2 1884.8M1556.4 2124.8L1639.9 1918.5M1665.5 1995.7L1422.7 2072.9M1664.4 2012.2L1648.9 2059M1616.8 2096.9L1665.5 1995.7M1603.2 1884.8L1629.1 2085.6M1413.7 2059L1648.9 2059M1445.8 2096.9L1422.7 2072.9M1664.4 2012.2L1656.1 2044.1M1474.2 2114.6L1413.7 2059M1522.9 1864.6L1413.7 1932.4" stroke="#ef4b24" stroke-opacity="0.031" stroke-width="0.99" fill="none"/>
<path d="M1422.7 2072.9L1445.8 1894.5M1603.2 1884.8L1588.4 2114.6M1656.1 1947.3L1639.9 1918.5M1398.2 2012.2L1522.9 2126.8M1489.8 2120.7L1422.7 2072.9M1406.5 1947.3L1639.9 1918.5M1398.2 1979.2L1422.7 2072.9M1556.4 1866.6L1459.4 1884.8M1397.1 1995.7L1459.4 2106.6M1556.4 2124.8L1639.9 2072.9M1603.2 1884.8L1556.4 2124.8" stroke="#ef4b24" stroke-opacity="0.034" stroke-width="0.84" fill="none"/>
<path d="M1522.9 1864.6L1656.1 2044.1M1656.1 2044.1L1398.2 1979.2M1629.1 1905.8L1398.2 2012.2M1489.8 2120.7L1422.7 2072.9M1522.9 2126.8L1422.7 2072.9M1506.2 2124.8L1664.4 2012.2M1656.1 2044.1L1616.8 1894.5M1664.4 1979.2L1665.5 1995.7M1489.8 2120.7L1398.2 1979.2M1616.8 2096.9L1656.1 2044.1M1661.3 1963L1489.8 2120.7M1664.4 1979.2L1422.7 2072.9" stroke="#ef4b24" stroke-opacity="0.037" stroke-width="0.93" fill="none"/>
<path d="M1664.4 2012.2L1661.3 1963M1401.3 1963L1522.9 1864.6M1664.4 2012.2L1406.5 2044.1M1398.2 1979.2L1459.4 2106.6M1489.8 1870.7L1572.8 1870.7M1588.4 1876.8L1603.2 2106.6M1629.1 1905.8L1506.2 2124.8M1664.4 1979.2L1656.1 1947.3M1629.1 2085.6L1413.7 1932.4M1506.2 2124.8L1639.9 1918.5M1398.2 2012.2L1639.9 2072.9M1603.2 2106.6L1664.4 1979.2" stroke="#ef4b24" stroke-opacity="0.040" stroke-width="0.81" fill="none"/>
<path d="M1629.1 2085.6L1422.7 2072.9M1489.8 1870.7L1433.5 2085.6M1398.2 2012.2L1397.1 1995.7M1422.7 2072.9L1506.2 1866.6M1588.4 1876.8L1639.9 1918.5M1603.2 2106.6L1433.5 1905.8M1459.4 1884.8L1474.2 1876.8M1556.4 2124.8L1661.3 2028.4M1474.2 2114.6L1629.1 1905.8M1648.9 1932.4L1422.7 1918.5M1629.1 1905.8L1616.8 2096.9M1603.2 1884.8L1664.4 2012.2" stroke="#ef4b24" stroke-opacity="0.043" stroke-width="0.87" fill="none"/>
<path d="M1413.7 1932.4L1474.2 1876.8M1588.4 1876.8L1616.8 1894.5M1413.7 2059L1397.1 1995.7M1422.7 1918.5L1433.5 2085.6M1572.8 2120.7L1656.1 2044.1M1422.7 2072.9L1398.2 2012.2M1445.8 2096.9L1648.9 2059M1616.8 1894.5L1406.5 1947.3M1474.2 1876.8L1629.1 2085.6M1398.2 2012.2L1459.4 1884.8M1398.2 1979.2L1639.9 1918.5M1459.4 1884.8L1556.4 2124.8" stroke="#ef4b24" stroke-opacity="0.046" stroke-width="0.93" fill="none"/>
<path d="M1474.2 2114.6L1398.2 2012.2M1398.2 2012.2L1603.2 1884.8M1506.2 2124.8L1648.9 2059M1433.5 2085.6L1556.4 1866.6M1539.7 1864.6L1522.9 2126.8M1572.8 1870.7L1398.2 1979.2M1433.5 1905.8L1656.1 2044.1M1665.5 1995.7L1397.1 1995.7M1588.4 1876.8L1433.5 2085.6M1522.9 2126.8L1539.7 2126.8M1398.2 2012.2L1639.9 2072.9M1664.4 1979.2L1401.3 2028.4" stroke="#ef4b24" stroke-opacity="0.049" stroke-width="0.91" fill="none"/>
<path d="M1489.8 2120.7L1459.4 2106.6M1445.8 2096.9L1603.2 2106.6M1489.8 2120.7L1398.2 1979.2M1422.7 2072.9L1639.9 2072.9M1656.1 2044.1L1572.8 1870.7M1603.2 1884.8L1656.1 2044.1M1433.5 2085.6L1422.7 2072.9M1459.4 2106.6L1433.5 2085.6M1664.4 1979.2L1422.7 2072.9M1406.5 1947.3L1489.8 2120.7M1648.9 1932.4L1413.7 1932.4M1661.3 1963L1522.9 1864.6" stroke="#ef4b24" stroke-opacity="0.052" stroke-width="0.88" fill="none"/>
<path d="M1616.8 1894.5L1556.4 2124.8M1556.4 2124.8L1401.3 2028.4M1445.8 2096.9L1656.1 2044.1M1639.9 2072.9L1459.4 2106.6M1422.7 2072.9L1397.1 1995.7M1572.8 1870.7L1445.8 2096.9M1422.7 2072.9L1665.5 1995.7M1656.1 2044.1L1422.7 2072.9M1398.2 2012.2L1648.9 2059M1572.8 1870.7L1656.1 2044.1M1648.9 1932.4L1665.5 1995.7M1664.4 1979.2L1474.2 2114.6" stroke="#ef4b24" stroke-opacity="0.055" stroke-width="0.79" fill="none"/>
<path d="M1433.5 1905.8L1397.1 1995.7M1603.2 1884.8L1522.9 1864.6M1648.9 1932.4L1398.2 1979.2M1661.3 2028.4L1639.9 2072.9M1422.7 2072.9L1661.3 2028.4M1603.2 1884.8L1474.2 2114.6M1656.1 1947.3L1413.7 1932.4M1603.2 2106.6L1556.4 2124.8M1522.9 1864.6L1603.2 1884.8M1603.2 2106.6L1422.7 2072.9M1398.2 2012.2L1422.7 1918.5" stroke="#ef4b24" stroke-opacity="0.057" stroke-width="0.72" fill="none"/>
<path d="M1422.7 2072.9L1661.3 1963M1665.5 1995.7L1489.8 2120.7M1433.5 2085.6L1489.8 2120.7M1639.9 1918.5L1656.1 1947.3M1665.5 1995.7L1556.4 1866.6M1572.8 2120.7L1422.7 1918.5M1489.8 2120.7L1639.9 1918.5M1398.2 2012.2L1433.5 1905.8M1433.5 1905.8L1474.2 2114.6M1413.7 1932.4L1629.1 2085.6M1422.7 2072.9L1648.9 2059M1398.2 1979.2L1474.2 2114.6" stroke="#ef4b24" stroke-opacity="0.060" stroke-width="0.84" fill="none"/>
<path d="M1665.5 1995.7L1603.2 1884.8M1445.8 2096.9L1422.7 2072.9M1506.2 1866.6L1398.2 2012.2M1616.8 2096.9L1422.7 2072.9M1413.7 1932.4L1661.3 1963M1445.8 2096.9L1401.3 2028.4M1661.3 1963L1433.5 2085.6M1603.2 1884.8L1406.5 2044.1M1422.7 2072.9L1489.8 2120.7M1639.9 1918.5L1656.1 2044.1M1506.2 1866.6L1603.2 1884.8" stroke="#ef4b24" stroke-opacity="0.063" stroke-width="0.92" fill="none"/>
<path d="M1656.1 2044.1L1459.4 1884.8M1648.9 1932.4L1397.1 1995.7M1603.2 2106.6L1401.3 2028.4M1539.7 2126.8L1433.5 2085.6M1422.7 2072.9L1588.4 2114.6M1656.1 1947.3L1459.4 1884.8M1422.7 2072.9L1406.5 1947.3M1406.5 2044.1L1489.8 2120.7M1406.5 1947.3L1401.3 2028.4M1603.2 2106.6L1406.5 1947.3M1539.7 2126.8L1629.1 2085.6M1661.3 1963L1459.4 2106.6" stroke="#ef4b24" stroke-opacity="0.066" stroke-width="0.81" fill="none"/>
<path d="M1422.7 1918.5L1648.9 2059M1422.7 2072.9L1406.5 1947.3M1588.4 2114.6L1656.1 2044.1M1489.8 1870.7L1489.8 2120.7M1539.7 2126.8L1656.1 2044.1M1656.1 2044.1L1661.3 1963M1539.7 1864.6L1422.7 1918.5M1422.7 1918.5L1648.9 1932.4M1489.8 1870.7L1556.4 1866.6M1656.1 2044.1L1664.4 2012.2M1588.4 2114.6L1406.5 1947.3" stroke="#ef4b24" stroke-opacity="0.069" stroke-width="0.92" fill="none"/>
<path d="M1459.4 1884.8L1422.7 2072.9M1639.9 2072.9L1474.2 2114.6M1397.1 1995.7L1629.1 2085.6M1445.8 1894.5L1661.3 1963M1588.4 1876.8L1445.8 2096.9M1661.3 2028.4L1572.8 1870.7M1506.2 1866.6L1588.4 1876.8M1422.7 2072.9L1459.4 2106.6M1422.7 2072.9L1522.9 2126.8M1664.4 1979.2L1664.4 2012.2" stroke="#ef4b24" stroke-opacity="0.072" stroke-width="0.84" fill="none"/>
<path d="M1397.1 1995.7L1656.1 1947.3M1522.9 1864.6L1422.7 2072.9M1506.2 2124.8L1648.9 2059M1506.2 1866.6L1397.1 1995.7M1489.8 2120.7L1656.1 1947.3M1422.7 1918.5L1572.8 1870.7M1629.1 2085.6L1422.7 2072.9M1398.2 2012.2L1603.2 1884.8M1422.7 2072.9L1656.1 2044.1M1629.1 2085.6L1422.7 2072.9M1433.5 2085.6L1489.8 2120.7" stroke="#ef4b24" stroke-opacity="0.075" stroke-width="0.72" fill="none"/>
<path d="M1422.7 2072.9L1616.8 2096.9M1656.1 2044.1L1422.7 2072.9M1661.3 1963L1656.1 2044.1M1433.5 1905.8L1506.2 2124.8M1422.7 2072.9L1629.1 2085.6M1656.1 2044.1L1661.3 1963M1648.9 1932.4L1588.4 2114.6M1648.9 1932.4L1422.7 2072.9M1422.7 2072.9L1603.2 1884.8M1616.8 1894.5L1459.4 2106.6M1489.8 2120.7L1474.2 1876.8" stroke="#ef4b24" stroke-opacity="0.078" stroke-width="0.87" fill="none"/>
<path d="M1603.2 1884.8L1539.7 1864.6M1422.7 2072.9L1656.1 1947.3M1556.4 2124.8L1656.1 2044.1M1401.3 2028.4L1397.1 1995.7M1406.5 1947.3L1422.7 2072.9M1422.7 2072.9L1398.2 1979.2M1664.4 1979.2L1616.8 2096.9M1603.2 1884.8L1629.1 1905.8M1445.8 2096.9L1459.4 1884.8M1398.2 2012.2L1629.1 2085.6M1459.4 2106.6L1398.2 2012.2" stroke="#ef4b24" stroke-opacity="0.081" stroke-width="0.86" fill="none"/>
<path d="M1401.3 1963L1661.3 1963M1406.5 2044.1L1398.2 2012.2M1661.3 2028.4L1474.2 1876.8M1588.4 1876.8L1603.2 1884.8M1433.5 1905.8L1572.8 1870.7M1433.5 1905.8L1656.1 2044.1M1616.8 1894.5L1489.8 2120.7M1656.1 2044.1L1616.8 1894.5M1556.4 1866.6L1665.5 1995.7M1539.7 1864.6L1406.5 2044.1" stroke="#ef4b24" stroke-opacity="0.084" stroke-width="0.80" fill="none"/>
<path d="M1406.5 2044.1L1603.2 2106.6M1401.3 1963L1398.2 1979.2M1474.2 2114.6L1603.2 1884.8M1489.8 2120.7L1506.2 2124.8M1422.7 2072.9L1629.1 2085.6M1603.2 1884.8L1401.3 1963M1506.2 2124.8L1422.7 1918.5M1398.2 2012.2L1474.2 2114.6M1401.3 2028.4L1459.4 1884.8" stroke="#ef4b24" stroke-opacity="0.087" stroke-width="0.76" fill="none"/>
<path d="M1459.4 2106.6L1422.7 2072.9M1422.7 2072.9L1656.1 2044.1M1588.4 2114.6L1401.3 1963M1664.4 2012.2L1664.4 1979.2M1539.7 2126.8L1401.3 2028.4M1433.5 2085.6L1664.4 2012.2M1422.7 2072.9L1445.8 2096.9M1661.3 2028.4L1422.7 2072.9M1406.5 1947.3L1556.4 1866.6M1522.9 2126.8L1656.1 2044.1" stroke="#ef4b24" stroke-opacity="0.090" stroke-width="1.00" fill="none"/>
<path d="M1422.7 2072.9L1506.2 2124.8M1664.4 2012.2L1489.8 2120.7" stroke="#ef4b24" stroke-opacity="0.180" stroke-width="0.97" fill="none"/>
<path d="M1661.3 1963L1506.2 2124.8M1522.9 1864.6L1445.8 2096.9" stroke="#ef4b24" stroke-opacity="0.193" stroke-width="1.06" fill="none"/>
<path d="M1603.2 1884.8L1401.3 2028.4" stroke="#ef4b24" stroke-opacity="0.207" stroke-width="1.18" fill="none"/>
<path d="M1572.8 2120.7L1556.4 1866.6" stroke="#ef4b24" stroke-opacity="0.233" stroke-width="0.98" fill="none"/>
<path d="M1656.1 2044.1L1616.8 2096.9" stroke="#ef4b24" stroke-opacity="0.247" stroke-width="1.07" fill="none"/>
<path d="M1406.5 2044.1L1639.9 2072.9" stroke="#ef4b24" stroke-opacity="0.260" stroke-width="0.99" fill="none"/>
<path d="M1422.7 2072.9L1656.1 2044.1" stroke="#ef4b24" stroke-opacity="0.273" stroke-width="1.07" fill="none"/>
<path d="M1406.5 2044.1L1661.3 2028.4" stroke="#ef4b24" stroke-opacity="0.287" stroke-width="0.99" fill="none"/>
<path d="M1522.9 2126.8L1459.4 2106.6" stroke="#ef4b24" stroke-opacity="0.300" stroke-width="1.18" fill="none"/>
<line x1="1422.7" y1="2072.9" x2="1656.1" y2="2044.1" stroke="#ef4b24" stroke-opacity="0.80" stroke-width="2.34"/>
<line x1="1489.8" y1="2120.7" x2="1656.1" y2="1947.3" stroke="#ef4b24" stroke-opacity="0.67" stroke-width="1.17"/>
<line x1="1422.7" y1="2072.9" x2="1603.2" y2="1884.8" stroke="#ef4b24" stroke-opacity="0.46" stroke-width="0.78"/>
<line x1="1489.8" y1="2120.7" x2="1588.4" y2="2114.6" stroke="#ef4b24" stroke-opacity="0.50" stroke-width="0.94"/>
<line x1="1422.7" y1="2072.9" x2="1629.1" y2="2085.6" stroke="#ef4b24" stroke-opacity="0.38" stroke-width="0.62"/>
<line x1="1603.2" y1="1884.8" x2="1656.1" y2="2044.1" stroke="#ef4b24" stroke-opacity="0.38" stroke-width="0.62"/>
<line x1="1422.7" y1="2072.9" x2="1588.4" y2="2114.6" stroke="#ef4b24" stroke-opacity="0.42" stroke-width="0.70"/>
<g fill="#000"><circle cx="1665.5" cy="1995.7" r="0.95"/><circle cx="1664.4" cy="1979.2" r="0.95"/><circle cx="1661.3" cy="1963" r="0.95"/><circle cx="1656.1" cy="1947.3" r="1.35"/><circle cx="1648.9" cy="1932.4" r="0.95"/><circle cx="1639.9" cy="1918.5" r="0.95"/><circle cx="1629.1" cy="1905.8" r="0.95"/><circle cx="1616.8" cy="1894.5" r="0.95"/><circle cx="1603.2" cy="1884.8" r="1.75"/><circle cx="1588.4" cy="1876.8" r="0.95"/><circle cx="1572.8" cy="1870.7" r="0.95"/><circle cx="1556.4" cy="1866.6" r="0.95"/><circle cx="1539.7" cy="1864.6" r="0.95"/><circle cx="1522.9" cy="1864.6" r="0.95"/><circle cx="1506.2" cy="1866.6" r="0.95"/><circle cx="1489.8" cy="1870.7" r="0.95"/><circle cx="1474.2" cy="1876.8" r="0.95"/><circle cx="1459.4" cy="1884.8" r="0.95"/><circle cx="1445.8" cy="1894.5" r="0.95"/><circle cx="1433.5" cy="1905.8" r="0.95"/><circle cx="1422.7" cy="1918.5" r="0.95"/><circle cx="1413.7" cy="1932.4" r="0.95"/><circle cx="1406.5" cy="1947.3" r="0.95"/><circle cx="1401.3" cy="1963" r="0.95"/><circle cx="1398.2" cy="1979.2" r="0.95"/><circle cx="1397.1" cy="1995.7" r="0.95"/><circle cx="1398.2" cy="2012.2" r="0.95"/><circle cx="1401.3" cy="2028.4" r="0.95"/><circle cx="1406.5" cy="2044.1" r="0.95"/><circle cx="1413.7" cy="2059" r="0.95"/><circle cx="1422.7" cy="2072.9" r="2.15"/><circle cx="1433.5" cy="2085.6" r="0.95"/><circle cx="1445.8" cy="2096.9" r="0.95"/><circle cx="1459.4" cy="2106.6" r="0.95"/><circle cx="1474.2" cy="2114.6" r="0.95"/><circle cx="1489.8" cy="2120.7" r="1.75"/><circle cx="1506.2" cy="2124.8" r="0.95"/><circle cx="1522.9" cy="2126.8" r="0.95"/><circle cx="1539.7" cy="2126.8" r="0.95"/><circle cx="1556.4" cy="2124.8" r="1.35"/><circle cx="1572.8" cy="2120.7" r="0.95"/><circle cx="1588.4" cy="2114.6" r="1.75"/><circle cx="1603.2" cy="2106.6" r="0.95"/><circle cx="1616.8" cy="2096.9" r="0.95"/><circle cx="1629.1" cy="2085.6" r="1.35"/><circle cx="1639.9" cy="2072.9" r="0.95"/><circle cx="1648.9" cy="2059" r="0.95"/><circle cx="1656.1" cy="2044.1" r="2.15"/><circle cx="1661.3" cy="2028.4" r="0.95"/><circle cx="1664.4" cy="2012.2" r="0.95"/></g>
<g font-weight="normal" fill="#000"><text transform="translate(1669.1,1995.7) rotate(-0.0) translate(0,1.6)" font-size="4.5">Pla2g7</text><text transform="translate(1667.7,1977.6) rotate(-26.8) translate(0,1.6)" font-size="4.5">Ntsr2</text><text transform="translate(1663.8,1960.4) rotate(-45.8) translate(0,1.6)" font-size="4.5">Prodh</text><text transform="translate(1658.1,1944.1) rotate(-57.7) translate(0,2)" font-size="5.8">Fgfr3</text><text transform="translate(1650.4,1929.1) rotate(-65.5) translate(0,1.6)" font-size="4.5">Slc4a4</text><text transform="translate(1641,1915.1) rotate(-71.0) translate(0,1.6)" font-size="4.5">Pdgfd</text><text transform="translate(1630.1,1902.3) rotate(-75.1) translate(0,1.6)" font-size="4.5">Aldh1l1</text><text transform="translate(1617.6,1890.9) rotate(-78.3) translate(0,1.6)" font-size="4.5">Mertk</text><text transform="translate(1603.8,1880.8) rotate(-81.0) translate(0,2.5)" font-size="7.2">Slc6a11</text><text transform="translate(1588.9,1873.2) rotate(-83.3) translate(0,1.6)" font-size="4.5">Lrig1</text><text transform="translate(1573.1,1867.1) rotate(-85.4) translate(0,1.6)" font-size="4.5">Fzd2</text><text transform="translate(1556.6,1863) rotate(-87.3) translate(0,1.6)" font-size="4.5">Cxcl14</text><text transform="translate(1539.8,1861) rotate(-89.1) translate(0,1.6)" font-size="4.5">Ptprz1</text><text transform="translate(1522.8,1861) rotate(-90.9) translate(0,1.6)" font-size="4.5">Id4</text><text transform="translate(1506,1863) rotate(-92.7) translate(0,1.6)" font-size="4.5">Mlh3</text><text transform="translate(1489.5,1867.1) rotate(-94.6) translate(0,1.6)" font-size="4.5">Etnppl</text><text transform="translate(1473.7,1873.2) rotate(-96.7) translate(0,1.6)" font-size="4.5">Sox9</text><text transform="translate(1458.8,1881.2) rotate(-99.0) translate(0,1.6)" font-size="4.5">Lcat</text><text transform="translate(1445,1890.9) rotate(-101.7) translate(0,1.6)" font-size="4.5">Tril</text><text transform="translate(1432.5,1902.3) rotate(-104.9) translate(0,1.6)" font-size="4.5">Acot11</text><text transform="translate(1421.6,1915.1) rotate(-109.0) translate(0,1.6)" font-size="4.5">Ednrb</text><text transform="translate(1412.2,1929.1) rotate(-114.5) translate(0,1.6)" font-size="4.5">Pbxip1</text><text transform="translate(1404.6,1944.3) rotate(-122.3) translate(0,1.6)" font-size="4.5">Bmpr1b</text><text transform="translate(1398.8,1960.4) rotate(-134.2) translate(0,1.6)" font-size="4.5">Lamp2</text><text transform="translate(1394.9,1977.6) rotate(-153.2) translate(0,1.6)" font-size="4.5">Acsbg1</text><text transform="translate(1393.5,1995.7) rotate(-180.0) translate(0,1.6)" font-size="4.5">Mfge8</text><text transform="translate(1394.9,2013.8) rotate(-26.8) translate(0,1.6)" font-size="4.5" text-anchor="end">Lhx2</text><text transform="translate(1398.8,2031) rotate(-45.8) translate(0,1.6)" font-size="4.5" text-anchor="end">Gjb6</text><text transform="translate(1404.6,2047.1) rotate(-57.7) translate(0,1.6)" font-size="4.5" text-anchor="end">Tmem119</text><text transform="translate(1412.2,2062.3) rotate(-65.5) translate(0,1.6)" font-size="4.5" text-anchor="end">P2ry12</text><text transform="translate(1421.2,2077.3) rotate(-71.0) translate(0,3.7)" font-size="10.5" font-weight="bold" text-anchor="end">Phkg1</text><text transform="translate(1432.5,2089.1) rotate(-75.1) translate(0,1.6)" font-size="4.5" text-anchor="end">Fcrls</text><text transform="translate(1445,2100.5) rotate(-78.3) translate(0,1.6)" font-size="4.5" text-anchor="end">Gpr34</text><text transform="translate(1458.8,2110.2) rotate(-81.0) translate(0,1.6)" font-size="4.5" text-anchor="end">Siglech</text><text transform="translate(1473.7,2118.2) rotate(-83.3) translate(0,1.6)" font-size="4.5" text-anchor="end">Trem2</text><text transform="translate(1489.5,2124.7) rotate(-85.4) translate(0,2.5)" font-size="7.2" text-anchor="end">Nrxn1</text><text transform="translate(1506,2128.4) rotate(-87.3) translate(0,1.6)" font-size="4.5" text-anchor="end">Selplg</text><text transform="translate(1522.8,2130.4) rotate(-89.1) translate(0,1.6)" font-size="4.5" text-anchor="end">Csf1r</text><text transform="translate(1539.8,2130.4) rotate(-90.9) translate(0,1.6)" font-size="4.5" text-anchor="end">Cx3cr1</text><text transform="translate(1556.6,2128.6) rotate(-92.7) translate(0,2)" font-size="5.8" text-anchor="end">Acss1</text><text transform="translate(1573.1,2124.3) rotate(-94.6) translate(0,1.6)" font-size="4.5" text-anchor="end">Dock2</text><text transform="translate(1588.9,2118.6) rotate(-96.7) translate(0,2.5)" font-size="7.2" text-anchor="end">Gm3764</text><text transform="translate(1603.8,2110.2) rotate(-99.0) translate(0,1.6)" font-size="4.5" text-anchor="end">Ikzf1</text><text transform="translate(1617.6,2100.5) rotate(-101.7) translate(0,1.6)" font-size="4.5" text-anchor="end">Laptm5</text><text transform="translate(1630.1,2089.3) rotate(-104.9) translate(0,2)" font-size="5.8" text-anchor="end">Sfxn5</text><text transform="translate(1641,2076.3) rotate(-109.0) translate(0,1.6)" font-size="4.5" text-anchor="end">Cd53</text><text transform="translate(1650.4,2062.3) rotate(-114.5) translate(0,1.6)" font-size="4.5" text-anchor="end">C1qa</text><text transform="translate(1658.5,2048) rotate(-122.3) translate(0,3.7)" font-size="10.5" font-weight="bold" text-anchor="end">Gli3</text><text transform="translate(1663.8,2031) rotate(-134.2) translate(0,1.6)" font-size="4.5" text-anchor="end">Itgam</text><text transform="translate(1667.7,2013.8) rotate(-153.2) translate(0,1.6)" font-size="4.5" text-anchor="end">Kcnk1</text></g>
<polygon points="1354.8,2328.7 1353.7,2312.2 1350.6,2296 1345.4,2280.3 1338.2,2265.4 1329.2,2251.5 1318.4,2238.8 1306.1,2227.5 1292.5,2217.8 1277.7,2209.8 1262.1,2203.7 1245.7,2199.6 1229,2197.6 1212.2,2197.6 1195.5,2199.6 1179.1,2203.7 1163.5,2209.8 1148.7,2217.8 1135.1,2227.5 1122.8,2238.8 1112,2251.5 1103,2265.4 1095.8,2280.3 1090.6,2296 1087.5,2312.2 1086.4,2328.7 1087.5,2345.2 1090.6,2361.4 1095.8,2377.1 1103,2392 1112,2405.9 1122.8,2418.6 1135.1,2429.9 1148.7,2439.6 1163.5,2447.6 1179.1,2453.7 1195.5,2457.8 1212.2,2459.8 1229,2459.8 1245.7,2457.8 1262.1,2453.7 1277.7,2447.6 1292.5,2439.6 1306.1,2429.9 1318.4,2418.6 1329.2,2405.9 1338.2,2392 1345.4,2377.1 1350.6,2361.4 1353.7,2345.2" fill="#ef4b24" fill-opacity="0.025" stroke="#ef4b24" stroke-opacity="0.08" stroke-width="1.5"/>
<path d="M1087.5 2312.2L1135.1 2429.9M1350.6 2361.4L1292.5 2439.6M1329.2 2251.5L1148.7 2439.6M1135.1 2429.9L1318.4 2238.8M1090.6 2296L1292.5 2439.6M1350.6 2361.4L1087.5 2312.2M1112 2251.5L1135.1 2429.9M1179.1 2453.7L1103 2392M1122.8 2238.8L1179.1 2453.7M1095.8 2377.1L1245.7 2457.8M1212.2 2197.6L1338.2 2392M1353.7 2345.2L1179.1 2453.7M1179.1 2453.7L1318.4 2238.8M1112 2251.5L1087.5 2345.2" stroke="#ef4b24" stroke-opacity="0.020" stroke-width="0.90" fill="none"/>
<path d="M1345.4 2377.1L1086.4 2328.7M1354.8 2328.7L1245.7 2199.6M1229 2197.6L1163.5 2447.6M1122.8 2238.8L1329.2 2405.9M1329.2 2251.5L1245.7 2457.8M1329.2 2251.5L1350.6 2296M1318.4 2418.6L1245.7 2457.8M1292.5 2439.6L1135.1 2429.9M1318.4 2238.8L1245.7 2457.8M1095.8 2377.1L1229 2459.8M1262.1 2453.7L1329.2 2251.5M1179.1 2453.7L1087.5 2312.2M1245.7 2199.6L1135.1 2227.5" stroke="#ef4b24" stroke-opacity="0.023" stroke-width="1.00" fill="none"/>
<path d="M1095.8 2377.1L1148.7 2439.6M1338.2 2392L1086.4 2328.7M1112 2251.5L1087.5 2312.2M1350.6 2361.4L1195.5 2457.8M1350.6 2296L1163.5 2447.6M1318.4 2418.6L1350.6 2296M1350.6 2361.4L1086.4 2328.7M1163.5 2209.8L1112 2251.5M1318.4 2238.8L1095.8 2377.1M1262.1 2203.7L1338.2 2265.4M1262.1 2453.7L1095.8 2280.3M1163.5 2447.6L1245.7 2457.8M1245.7 2199.6L1345.4 2280.3M1245.7 2457.8L1292.5 2439.6" stroke="#ef4b24" stroke-opacity="0.025" stroke-width="0.80" fill="none"/>
<path d="M1262.1 2203.7L1095.8 2377.1M1350.6 2361.4L1095.8 2280.3M1350.6 2361.4L1087.5 2345.2M1245.7 2457.8L1148.7 2439.6M1087.5 2345.2L1245.7 2199.6M1245.7 2457.8L1135.1 2429.9M1195.5 2457.8L1245.7 2199.6M1292.5 2439.6L1338.2 2392M1212.2 2197.6L1245.7 2199.6M1318.4 2238.8L1350.6 2296M1329.2 2405.9L1318.4 2418.6M1345.4 2280.3L1350.6 2361.4M1103 2392L1318.4 2238.8M1329.2 2251.5L1318.4 2238.8" stroke="#ef4b24" stroke-opacity="0.028" stroke-width="0.86" fill="none"/>
<path d="M1179.1 2453.7L1245.7 2457.8M1338.2 2265.4L1179.1 2453.7M1148.7 2439.6L1306.1 2429.9M1306.1 2227.5L1350.6 2296M1245.7 2457.8L1090.6 2361.4M1163.5 2209.8L1245.7 2457.8M1245.7 2457.8L1262.1 2453.7M1245.7 2199.6L1292.5 2439.6M1112 2405.9L1090.6 2296M1122.8 2418.6L1103 2392M1292.5 2217.8L1087.5 2345.2M1087.5 2312.2L1212.2 2459.8M1262.1 2453.7L1179.1 2453.7" stroke="#ef4b24" stroke-opacity="0.030" stroke-width="0.92" fill="none"/>
<path d="M1329.2 2251.5L1163.5 2209.8M1245.7 2457.8L1195.5 2199.6M1262.1 2203.7L1292.5 2217.8M1353.7 2312.2L1338.2 2392M1179.1 2453.7L1345.4 2377.1M1353.7 2312.2L1306.1 2227.5M1179.1 2453.7L1245.7 2457.8M1350.6 2361.4L1103 2392M1112 2251.5L1095.8 2280.3M1135.1 2429.9L1306.1 2227.5M1245.7 2457.8L1095.8 2280.3M1277.7 2209.8L1090.6 2361.4M1087.5 2312.2L1212.2 2197.6M1245.7 2457.8L1245.7 2199.6" stroke="#ef4b24" stroke-opacity="0.033" stroke-width="0.98" fill="none"/>
<path d="M1329.2 2251.5L1262.1 2453.7M1329.2 2251.5L1148.7 2217.8M1338.2 2392L1262.1 2453.7M1245.7 2457.8L1350.6 2361.4M1212.2 2197.6L1354.8 2328.7M1087.5 2312.2L1353.7 2312.2M1245.7 2199.6L1338.2 2392M1135.1 2429.9L1245.7 2199.6M1103 2392L1292.5 2217.8M1262.1 2203.7L1245.7 2199.6M1245.7 2457.8L1338.2 2265.4M1179.1 2453.7L1345.4 2280.3M1148.7 2439.6L1095.8 2280.3M1095.8 2280.3L1212.2 2197.6" stroke="#ef4b24" stroke-opacity="0.036" stroke-width="0.83" fill="none"/>
<path d="M1245.7 2457.8L1350.6 2296M1350.6 2361.4L1245.7 2457.8M1229 2197.6L1262.1 2203.7M1353.7 2312.2L1179.1 2453.7M1163.5 2209.8L1229 2459.8M1277.7 2447.6L1229 2197.6M1112 2405.9L1095.8 2377.1M1245.7 2199.6L1179.1 2453.7M1292.5 2439.6L1353.7 2345.2M1135.1 2227.5L1086.4 2328.7M1350.6 2361.4L1095.8 2280.3M1245.7 2457.8L1112 2405.9M1262.1 2453.7L1112 2251.5" stroke="#ef4b24" stroke-opacity="0.038" stroke-width="0.81" fill="none"/>
<path d="M1318.4 2238.8L1229 2197.6M1245.7 2457.8L1350.6 2361.4M1087.5 2345.2L1245.7 2457.8M1245.7 2199.6L1277.7 2209.8M1306.1 2227.5L1345.4 2280.3M1112 2405.9L1245.7 2457.8M1179.1 2453.7L1353.7 2312.2M1179.1 2453.7L1112 2405.9M1350.6 2361.4L1329.2 2251.5M1354.8 2328.7L1122.8 2238.8M1103 2392L1163.5 2447.6M1353.7 2345.2L1350.6 2361.4" stroke="#ef4b24" stroke-opacity="0.041" stroke-width="0.73" fill="none"/>
<path d="M1195.5 2457.8L1179.1 2453.7M1329.2 2251.5L1338.2 2265.4M1245.7 2199.6L1350.6 2361.4M1163.5 2209.8L1353.7 2345.2M1338.2 2392L1195.5 2457.8M1179.1 2453.7L1087.5 2312.2M1163.5 2209.8L1338.2 2392M1350.6 2361.4L1103 2392M1292.5 2439.6L1179.1 2453.7M1338.2 2265.4L1350.6 2361.4M1122.8 2238.8L1179.1 2203.7M1245.7 2457.8L1229 2197.6" stroke="#ef4b24" stroke-opacity="0.043" stroke-width="0.96" fill="none"/>
<path d="M1292.5 2217.8L1353.7 2312.2M1245.7 2457.8L1262.1 2203.7M1318.4 2418.6L1179.1 2453.7M1329.2 2251.5L1122.8 2418.6M1087.5 2312.2L1329.2 2405.9M1179.1 2453.7L1195.5 2457.8M1306.1 2429.9L1135.1 2227.5M1095.8 2280.3L1245.7 2457.8M1306.1 2429.9L1245.7 2199.6M1086.4 2328.7L1245.7 2457.8M1245.7 2199.6L1350.6 2361.4M1195.5 2457.8L1135.1 2429.9M1318.4 2238.8L1329.2 2405.9" stroke="#ef4b24" stroke-opacity="0.046" stroke-width="0.72" fill="none"/>
<path d="M1103 2392L1338.2 2265.4M1135.1 2429.9L1087.5 2312.2M1095.8 2280.3L1318.4 2238.8M1245.7 2457.8L1338.2 2392M1148.7 2217.8L1212.2 2459.8M1245.7 2457.8L1350.6 2361.4M1329.2 2251.5L1090.6 2296M1135.1 2429.9L1090.6 2361.4M1245.7 2457.8L1262.1 2453.7M1148.7 2217.8L1086.4 2328.7M1212.2 2459.8L1148.7 2217.8M1179.1 2203.7L1245.7 2457.8M1245.7 2457.8L1179.1 2453.7" stroke="#ef4b24" stroke-opacity="0.049" stroke-width="0.72" fill="none"/>
<path d="M1262.1 2203.7L1229 2197.6M1262.1 2203.7L1245.7 2457.8M1350.6 2296L1350.6 2361.4M1245.7 2199.6L1090.6 2296M1229 2459.8L1245.7 2199.6M1122.8 2418.6L1245.7 2457.8M1229 2459.8L1338.2 2265.4M1338.2 2392L1163.5 2209.8M1103 2392L1090.6 2296M1195.5 2457.8L1135.1 2429.9M1163.5 2209.8L1354.8 2328.7M1122.8 2238.8L1195.5 2199.6" stroke="#ef4b24" stroke-opacity="0.051" stroke-width="0.87" fill="none"/>
<path d="M1350.6 2296L1086.4 2328.7M1318.4 2238.8L1179.1 2453.7M1229 2197.6L1245.7 2457.8M1245.7 2457.8L1345.4 2377.1M1245.7 2457.8L1345.4 2377.1M1087.5 2345.2L1262.1 2203.7M1090.6 2361.4L1353.7 2312.2M1112 2405.9L1095.8 2280.3M1163.5 2209.8L1345.4 2377.1M1163.5 2447.6L1354.8 2328.7M1112 2405.9L1103 2265.4M1229 2197.6L1350.6 2296M1229 2459.8L1135.1 2429.9" stroke="#ef4b24" stroke-opacity="0.054" stroke-width="0.85" fill="none"/>
<path d="M1090.6 2296L1292.5 2439.6M1318.4 2238.8L1095.8 2280.3M1212.2 2197.6L1277.7 2447.6M1135.1 2227.5L1229 2459.8M1318.4 2418.6L1103 2265.4M1354.8 2328.7L1087.5 2345.2M1262.1 2453.7L1338.2 2265.4M1350.6 2361.4L1345.4 2377.1M1245.7 2199.6L1353.7 2345.2M1245.7 2457.8L1292.5 2439.6M1353.7 2345.2L1179.1 2453.7M1292.5 2217.8L1245.7 2457.8M1163.5 2447.6L1179.1 2453.7" stroke="#ef4b24" stroke-opacity="0.057" stroke-width="0.91" fill="none"/>
<path d="M1103 2392L1179.1 2453.7M1245.7 2199.6L1195.5 2199.6M1163.5 2447.6L1179.1 2203.7M1338.2 2392L1318.4 2418.6M1148.7 2439.6L1163.5 2209.8M1245.7 2457.8L1262.1 2203.7M1245.7 2457.8L1277.7 2209.8M1195.5 2199.6L1087.5 2345.2M1329.2 2405.9L1306.1 2227.5M1262.1 2203.7L1087.5 2312.2M1103 2265.4L1338.2 2392M1245.7 2457.8L1262.1 2203.7" stroke="#ef4b24" stroke-opacity="0.059" stroke-width="0.79" fill="none"/>
<path d="M1090.6 2361.4L1212.2 2459.8M1350.6 2361.4L1245.7 2457.8M1277.7 2209.8L1245.7 2457.8M1095.8 2280.3L1245.7 2457.8M1306.1 2227.5L1090.6 2361.4M1195.5 2199.6L1135.1 2227.5M1148.7 2217.8L1245.7 2457.8M1318.4 2238.8L1090.6 2296M1229 2197.6L1245.7 2457.8M1245.7 2457.8L1095.8 2280.3M1350.6 2361.4L1353.7 2312.2M1245.7 2457.8L1345.4 2280.3M1229 2197.6L1350.6 2361.4" stroke="#ef4b24" stroke-opacity="0.062" stroke-width="0.93" fill="none"/>
<path d="M1086.4 2328.7L1195.5 2199.6M1163.5 2209.8L1329.2 2405.9M1338.2 2265.4L1245.7 2199.6M1306.1 2429.9L1135.1 2429.9M1277.7 2447.6L1292.5 2439.6M1245.7 2457.8L1103 2392M1306.1 2227.5L1292.5 2217.8M1262.1 2453.7L1338.2 2392M1212.2 2197.6L1329.2 2251.5M1245.7 2199.6L1277.7 2209.8M1179.1 2453.7L1245.7 2457.8M1353.7 2345.2L1350.6 2361.4M1345.4 2377.1L1318.4 2418.6" stroke="#ef4b24" stroke-opacity="0.064" stroke-width="0.72" fill="none"/>
<path d="M1245.7 2199.6L1103 2265.4M1135.1 2429.9L1292.5 2439.6M1179.1 2453.7L1112 2251.5M1245.7 2457.8L1350.6 2361.4M1179.1 2453.7L1245.7 2457.8M1103 2392L1245.7 2457.8M1087.5 2345.2L1163.5 2209.8M1277.7 2447.6L1095.8 2280.3M1095.8 2377.1L1353.7 2312.2M1212.2 2197.6L1095.8 2280.3M1338.2 2265.4L1338.2 2392M1350.6 2296L1338.2 2265.4" stroke="#ef4b24" stroke-opacity="0.067" stroke-width="0.76" fill="none"/>
<path d="M1292.5 2439.6L1245.7 2457.8M1306.1 2429.9L1179.1 2453.7M1179.1 2453.7L1179.1 2203.7M1148.7 2439.6L1179.1 2453.7M1195.5 2199.6L1277.7 2209.8M1103 2265.4L1245.7 2457.8M1292.5 2439.6L1229 2459.8M1245.7 2199.6L1179.1 2453.7M1245.7 2457.8L1318.4 2238.8M1329.2 2405.9L1245.7 2457.8M1345.4 2280.3L1245.7 2199.6M1090.6 2296L1087.5 2345.2M1195.5 2199.6L1095.8 2280.3" stroke="#ef4b24" stroke-opacity="0.070" stroke-width="0.90" fill="none"/>
<path d="M1163.5 2209.8L1245.7 2199.6M1329.2 2251.5L1353.7 2345.2M1345.4 2377.1L1245.7 2199.6M1329.2 2251.5L1179.1 2453.7M1087.5 2312.2L1195.5 2199.6M1338.2 2392L1329.2 2251.5M1350.6 2361.4L1090.6 2361.4M1345.4 2377.1L1318.4 2238.8M1095.8 2280.3L1229 2459.8M1245.7 2457.8L1306.1 2429.9M1112 2251.5L1329.2 2251.5M1350.6 2361.4L1229 2197.6M1179.1 2453.7L1329.2 2251.5" stroke="#ef4b24" stroke-opacity="0.072" stroke-width="0.72" fill="none"/>
<path d="M1179.1 2203.7L1338.2 2265.4M1245.7 2199.6L1212.2 2197.6M1353.7 2312.2L1195.5 2199.6M1353.7 2345.2L1318.4 2418.6M1245.7 2199.6L1095.8 2280.3M1350.6 2361.4L1245.7 2457.8M1350.6 2361.4L1329.2 2251.5M1245.7 2457.8L1353.7 2312.2M1353.7 2312.2L1245.7 2199.6M1179.1 2453.7L1095.8 2280.3M1212.2 2197.6L1338.2 2392M1103 2392L1350.6 2361.4M1112 2405.9L1338.2 2265.4" stroke="#ef4b24" stroke-opacity="0.075" stroke-width="0.79" fill="none"/>
<path d="M1245.7 2457.8L1095.8 2280.3M1245.7 2457.8L1148.7 2217.8M1087.5 2312.2L1338.2 2265.4M1245.7 2457.8L1103 2265.4M1179.1 2453.7L1090.6 2361.4M1318.4 2238.8L1087.5 2312.2M1245.7 2199.6L1103 2392M1229 2459.8L1338.2 2392M1163.5 2447.6L1095.8 2377.1M1122.8 2418.6L1095.8 2377.1M1245.7 2457.8L1086.4 2328.7M1329.2 2251.5L1212.2 2459.8" stroke="#ef4b24" stroke-opacity="0.077" stroke-width="0.92" fill="none"/>
<path d="M1292.5 2439.6L1103 2265.4M1163.5 2209.8L1338.2 2265.4M1277.7 2209.8L1112 2251.5M1245.7 2457.8L1148.7 2439.6M1163.5 2209.8L1292.5 2439.6M1179.1 2453.7L1338.2 2392M1179.1 2203.7L1245.7 2457.8M1229 2459.8L1163.5 2209.8M1350.6 2361.4L1318.4 2238.8M1350.6 2361.4L1245.7 2457.8M1350.6 2361.4L1135.1 2429.9M1350.6 2361.4L1262.1 2453.7M1122.8 2418.6L1179.1 2453.7" stroke="#ef4b24" stroke-opacity="0.080" stroke-width="0.91" fill="none"/>
<path d="M1179.1 2203.7L1306.1 2227.5" stroke="#ef4b24" stroke-opacity="0.200" stroke-width="1.05" fill="none"/>
<path d="M1122.8 2238.8L1245.7 2457.8" stroke="#ef4b24" stroke-opacity="0.213" stroke-width="1.05" fill="none"/>
<path d="M1122.8 2238.8L1318.4 2238.8" stroke="#ef4b24" stroke-opacity="0.227" stroke-width="1.06" fill="none"/>
<path d="M1245.7 2457.8L1135.1 2429.9" stroke="#ef4b24" stroke-opacity="0.240" stroke-width="1.06" fill="none"/>
<path d="M1345.4 2377.1L1350.6 2361.4" stroke="#ef4b24" stroke-opacity="0.253" stroke-width="0.98" fill="none"/>
<path d="M1345.4 2377.1L1090.6 2296" stroke="#ef4b24" stroke-opacity="0.267" stroke-width="1.13" fill="none"/>
<path d="M1245.7 2457.8L1163.5 2209.8" stroke="#ef4b24" stroke-opacity="0.280" stroke-width="1.22" fill="none"/>
<path d="M1163.5 2209.8L1095.8 2280.3" stroke="#ef4b24" stroke-opacity="0.293" stroke-width="1.12" fill="none"/>
<path d="M1350.6 2361.4L1329.2 2405.9" stroke="#ef4b24" stroke-opacity="0.307" stroke-width="1.23" fill="none"/>
<path d="M1229 2197.6L1122.8 2238.8" stroke="#ef4b24" stroke-opacity="0.320" stroke-width="1.13" fill="none"/>
<line x1="1245.7" y1="2457.8" x2="1350.6" y2="2361.4" stroke="#ef4b24" stroke-opacity="0.80" stroke-width="2.34"/>
<line x1="1179.1" y1="2453.7" x2="1229" y2="2459.8" stroke="#ef4b24" stroke-opacity="0.67" stroke-width="1.17"/>
<line x1="1229" y1="2459.8" x2="1245.7" y2="2457.8" stroke="#ef4b24" stroke-opacity="0.67" stroke-width="1.17"/>
<line x1="1195.5" y1="2457.8" x2="1245.7" y2="2457.8" stroke="#ef4b24" stroke-opacity="0.67" stroke-width="1.17"/>
<line x1="1179.1" y1="2453.7" x2="1245.7" y2="2457.8" stroke="#ef4b24" stroke-opacity="0.59" stroke-width="0.94"/>
<line x1="1245.7" y1="2199.6" x2="1245.7" y2="2457.8" stroke="#ef4b24" stroke-opacity="0.63" stroke-width="1.01"/>
<line x1="1245.7" y1="2199.6" x2="1350.6" y2="2361.4" stroke="#ef4b24" stroke-opacity="0.59" stroke-width="1.01"/>
<line x1="1179.1" y1="2453.7" x2="1350.6" y2="2361.4" stroke="#ef4b24" stroke-opacity="0.46" stroke-width="0.78"/>
<line x1="1163.5" y1="2209.8" x2="1245.7" y2="2457.8" stroke="#ef4b24" stroke-opacity="0.46" stroke-width="0.78"/>
<line x1="1095.8" y1="2280.3" x2="1245.7" y2="2457.8" stroke="#ef4b24" stroke-opacity="0.42" stroke-width="0.70"/>
<line x1="1318.4" y1="2238.8" x2="1245.7" y2="2457.8" stroke="#ef4b24" stroke-opacity="0.46" stroke-width="0.78"/>
<line x1="1329.2" y1="2251.5" x2="1245.7" y2="2457.8" stroke="#ef4b24" stroke-opacity="0.46" stroke-width="0.78"/>
<line x1="1292.5" y1="2439.6" x2="1350.6" y2="2361.4" stroke="#ef4b24" stroke-opacity="0.50" stroke-width="0.94"/>
<line x1="1306.1" y1="2429.9" x2="1350.6" y2="2361.4" stroke="#ef4b24" stroke-opacity="0.46" stroke-width="0.78"/>
<line x1="1095.8" y1="2280.3" x2="1350.6" y2="2361.4" stroke="#ef4b24" stroke-opacity="0.38" stroke-width="0.70"/>
<g fill="#000"><circle cx="1354.8" cy="2328.7" r="0.95"/><circle cx="1353.7" cy="2312.2" r="0.95"/><circle cx="1350.6" cy="2296" r="0.95"/><circle cx="1345.4" cy="2280.3" r="0.95"/><circle cx="1338.2" cy="2265.4" r="0.95"/><circle cx="1329.2" cy="2251.5" r="1.35"/><circle cx="1318.4" cy="2238.8" r="1.35"/><circle cx="1306.1" cy="2227.5" r="0.95"/><circle cx="1292.5" cy="2217.8" r="0.95"/><circle cx="1277.7" cy="2209.8" r="0.95"/><circle cx="1262.1" cy="2203.7" r="0.95"/><circle cx="1245.7" cy="2199.6" r="1.75"/><circle cx="1229" cy="2197.6" r="0.95"/><circle cx="1212.2" cy="2197.6" r="0.95"/><circle cx="1195.5" cy="2199.6" r="0.95"/><circle cx="1179.1" cy="2203.7" r="0.95"/><circle cx="1163.5" cy="2209.8" r="1.35"/><circle cx="1148.7" cy="2217.8" r="0.95"/><circle cx="1135.1" cy="2227.5" r="0.95"/><circle cx="1122.8" cy="2238.8" r="0.95"/><circle cx="1112" cy="2251.5" r="0.95"/><circle cx="1103" cy="2265.4" r="0.95"/><circle cx="1095.8" cy="2280.3" r="1.35"/><circle cx="1090.6" cy="2296" r="0.95"/><circle cx="1087.5" cy="2312.2" r="0.95"/><circle cx="1086.4" cy="2328.7" r="0.95"/><circle cx="1087.5" cy="2345.2" r="0.95"/><circle cx="1090.6" cy="2361.4" r="0.95"/><circle cx="1095.8" cy="2377.1" r="0.95"/><circle cx="1103" cy="2392" r="0.95"/><circle cx="1112" cy="2405.9" r="0.95"/><circle cx="1122.8" cy="2418.6" r="0.95"/><circle cx="1135.1" cy="2429.9" r="0.95"/><circle cx="1148.7" cy="2439.6" r="0.95"/><circle cx="1163.5" cy="2447.6" r="0.95"/><circle cx="1179.1" cy="2453.7" r="1.75"/><circle cx="1195.5" cy="2457.8" r="1.75"/><circle cx="1212.2" cy="2459.8" r="0.95"/><circle cx="1229" cy="2459.8" r="1.75"/><circle cx="1245.7" cy="2457.8" r="2.15"/><circle cx="1262.1" cy="2453.7" r="0.95"/><circle cx="1277.7" cy="2447.6" r="0.95"/><circle cx="1292.5" cy="2439.6" r="1.75"/><circle cx="1306.1" cy="2429.9" r="1.35"/><circle cx="1318.4" cy="2418.6" r="0.95"/><circle cx="1329.2" cy="2405.9" r="0.95"/><circle cx="1338.2" cy="2392" r="0.95"/><circle cx="1345.4" cy="2377.1" r="0.95"/><circle cx="1350.6" cy="2361.4" r="2.15"/><circle cx="1353.7" cy="2345.2" r="0.95"/></g>
<g font-weight="normal" fill="#000"><text transform="translate(1358.4,2328.7) rotate(-0.0) translate(0,1.6)" font-size="4.5">Siglech</text><text transform="translate(1357,2310.6) rotate(-26.8) translate(0,1.6)" font-size="4.5">Trem2</text><text transform="translate(1353.1,2293.4) rotate(-45.8) translate(0,1.6)" font-size="4.5">Selplg</text><text transform="translate(1347.3,2277.3) rotate(-57.7) translate(0,1.6)" font-size="4.5">Csf1r</text><text transform="translate(1339.7,2262.1) rotate(-65.5) translate(0,1.6)" font-size="4.5">Cx3cr1</text><text transform="translate(1330.4,2247.9) rotate(-71.0) translate(0,2)" font-size="5.8">P2ry6</text><text transform="translate(1319.4,2235.1) rotate(-75.1) translate(0,2)" font-size="5.8">Nlrp3</text><text transform="translate(1306.9,2223.9) rotate(-78.3) translate(0,1.6)" font-size="4.5">Dock2</text><text transform="translate(1293.1,2214.2) rotate(-81.0) translate(0,1.6)" font-size="4.5">Ikzf1</text><text transform="translate(1278.2,2206.2) rotate(-83.3) translate(0,1.6)" font-size="4.5">Laptm5</text><text transform="translate(1262.4,2200.1) rotate(-85.4) translate(0,1.6)" font-size="4.5">Cd53</text><text transform="translate(1245.9,2195.6) rotate(-87.3) translate(0,2.5)" font-size="7.2">Cbs</text><text transform="translate(1229.1,2194) rotate(-89.1) translate(0,1.6)" font-size="4.5">C1qa</text><text transform="translate(1212.1,2194) rotate(-90.9) translate(0,1.6)" font-size="4.5">Itgam</text><text transform="translate(1195.3,2196) rotate(-92.7) translate(0,1.6)" font-size="4.5">Irf8</text><text transform="translate(1178.8,2200.1) rotate(-94.6) translate(0,1.6)" font-size="4.5">Hcls1</text><text transform="translate(1163,2206) rotate(-96.7) translate(0,2)" font-size="5.8">Lair1</text><text transform="translate(1148.1,2214.2) rotate(-99.0) translate(0,1.6)" font-size="4.5">Ptprc</text><text transform="translate(1134.3,2223.9) rotate(-101.7) translate(0,1.6)" font-size="4.5">Tyrobp</text><text transform="translate(1121.8,2235.3) rotate(-104.9) translate(0,1.6)" font-size="4.5">Fcgr3</text><text transform="translate(1110.9,2248.1) rotate(-109.0) translate(0,1.6)" font-size="4.5">Lyz2</text><text transform="translate(1101.5,2262.1) rotate(-114.5) translate(0,1.6)" font-size="4.5">Cd68</text><text transform="translate(1093.8,2277.1) rotate(-122.3) translate(0,2)" font-size="5.8">Il12</text><text transform="translate(1088.1,2293.4) rotate(-134.2) translate(0,1.6)" font-size="4.5">Mpeg1</text><text transform="translate(1084.2,2310.6) rotate(-153.2) translate(0,1.6)" font-size="4.5">Cd84</text><text transform="translate(1082.8,2328.7) rotate(-180.0) translate(0,1.6)" font-size="4.5">Clec7a</text><text transform="translate(1084.2,2346.8) rotate(-26.8) translate(0,1.6)" font-size="4.5" text-anchor="end">Ctss</text><text transform="translate(1088.1,2364) rotate(-45.8) translate(0,1.6)" font-size="4.5" text-anchor="end">Lyn</text><text transform="translate(1093.9,2380.1) rotate(-57.7) translate(0,1.6)" font-size="4.5" text-anchor="end">Cd14</text><text transform="translate(1101.5,2395.3) rotate(-65.5) translate(0,1.6)" font-size="4.5" text-anchor="end">Ptgs1</text><text transform="translate(1110.9,2409.3) rotate(-71.0) translate(0,1.6)" font-size="4.5" text-anchor="end">Fli1</text><text transform="translate(1121.8,2422.1) rotate(-75.1) translate(0,1.6)" font-size="4.5" text-anchor="end">Runx1</text><text transform="translate(1134.3,2433.5) rotate(-78.3) translate(0,1.6)" font-size="4.5" text-anchor="end">Spi1</text><text transform="translate(1148.1,2443.2) rotate(-81.0) translate(0,1.6)" font-size="4.5" text-anchor="end">Rgs9</text><text transform="translate(1163,2451.2) rotate(-83.3) translate(0,1.6)" font-size="4.5" text-anchor="end">Adcy5</text><text transform="translate(1178.8,2457.7) rotate(-85.4) translate(0,2.5)" font-size="7.2" text-anchor="end">Csf3r</text><text transform="translate(1195.3,2461.8) rotate(-87.3) translate(0,2.5)" font-size="7.2" text-anchor="end">Hexb</text><text transform="translate(1212.1,2463.4) rotate(-89.1) translate(0,1.6)" font-size="4.5" text-anchor="end">Gnal</text><text transform="translate(1229.1,2463.8) rotate(-90.9) translate(0,2.5)" font-size="7.2" text-anchor="end">Cfh</text><text transform="translate(1246,2462.4) rotate(-92.7) translate(0,3.7)" font-size="10.5" font-weight="bold" text-anchor="end">Ly86</text><text transform="translate(1262.4,2457.3) rotate(-94.6) translate(0,1.6)" font-size="4.5" text-anchor="end">Rasd2</text><text transform="translate(1278.2,2451.2) rotate(-96.7) translate(0,1.6)" font-size="4.5" text-anchor="end">Pde1b</text><text transform="translate(1293.1,2443.6) rotate(-99.0) translate(0,2.5)" font-size="7.2" text-anchor="end">Nckap1l</text><text transform="translate(1306.9,2433.7) rotate(-101.7) translate(0,2)" font-size="5.8" text-anchor="end">Tgfbr2</text><text transform="translate(1319.4,2422.1) rotate(-104.9) translate(0,1.6)" font-size="4.5" text-anchor="end">Kcnk4</text><text transform="translate(1330.3,2409.3) rotate(-109.0) translate(0,1.6)" font-size="4.5" text-anchor="end">Slc35d3</text><text transform="translate(1339.7,2395.3) rotate(-114.5) translate(0,1.6)" font-size="4.5" text-anchor="end">Gpr6</text><text transform="translate(1347.3,2380.1) rotate(-122.3) translate(0,1.6)" font-size="4.5" text-anchor="end">Arpp21</text><text transform="translate(1353.8,2364.7) rotate(-134.2) translate(0,3.7)" font-size="10.5" font-weight="bold" text-anchor="end">Apbb1ip</text><text transform="translate(1357,2346.8) rotate(-153.2) translate(0,1.6)" font-size="4.5" text-anchor="end">Pde10a</text></g>
<polygon points="1665.5,2329.9 1664.4,2313.4 1661.3,2297.2 1656.1,2281.5 1648.9,2266.6 1639.9,2252.7 1629.1,2240 1616.8,2228.7 1603.2,2219 1588.4,2211 1572.8,2204.9 1556.4,2200.8 1539.7,2198.8 1522.9,2198.8 1506.2,2200.8 1489.8,2204.9 1474.2,2211 1459.4,2219 1445.8,2228.7 1433.5,2240 1422.7,2252.7 1413.7,2266.6 1406.5,2281.5 1401.3,2297.2 1398.2,2313.4 1397.1,2329.9 1398.2,2346.4 1401.3,2362.6 1406.5,2378.3 1413.7,2393.2 1422.7,2407.1 1433.5,2419.8 1445.8,2431.1 1459.4,2440.8 1474.2,2448.8 1489.8,2454.9 1506.2,2459 1522.9,2461 1539.7,2461 1556.4,2459 1572.8,2454.9 1588.4,2448.8 1603.2,2440.8 1616.8,2431.1 1629.1,2419.8 1639.9,2407.1 1648.9,2393.2 1656.1,2378.3 1661.3,2362.6 1664.4,2346.4" fill="#ef4b24" fill-opacity="0.035" stroke="#ef4b24" stroke-opacity="0.11" stroke-width="1.5"/>
<path d="M1397.1 2329.9L1506.2 2459M1661.3 2362.6L1506.2 2459M1661.3 2297.2L1489.8 2454.9M1556.4 2459L1433.5 2419.8M1556.4 2200.8L1648.9 2393.2M1406.5 2281.5L1422.7 2252.7M1556.4 2459L1489.8 2204.9M1665.5 2329.9L1556.4 2200.8M1413.7 2266.6L1406.5 2378.3M1406.5 2281.5L1656.1 2281.5M1639.9 2407.1L1664.4 2313.4M1406.5 2281.5L1474.2 2211M1522.9 2461L1459.4 2440.8M1588.4 2211L1489.8 2204.9M1639.9 2407.1L1664.4 2346.4M1629.1 2240L1406.5 2281.5M1661.3 2362.6L1522.9 2461M1556.4 2459L1522.9 2198.8" stroke="#ef4b24" stroke-opacity="0.030" stroke-width="0.83" fill="none"/>
<path d="M1506.2 2459L1616.8 2228.7M1445.8 2228.7L1433.5 2240M1661.3 2362.6L1664.4 2346.4M1664.4 2313.4L1556.4 2459M1401.3 2362.6L1539.7 2461M1422.7 2252.7L1413.7 2266.6M1648.9 2393.2L1398.2 2346.4M1397.1 2329.9L1556.4 2459M1489.8 2454.9L1639.9 2252.7M1656.1 2281.5L1629.1 2240M1556.4 2459L1406.5 2378.3M1433.5 2419.8L1413.7 2393.2M1588.4 2211L1397.1 2329.9M1661.3 2362.6L1616.8 2431.1M1629.1 2240L1489.8 2204.9M1506.2 2200.8L1648.9 2266.6M1661.3 2362.6L1648.9 2266.6M1556.4 2459L1433.5 2419.8" stroke="#ef4b24" stroke-opacity="0.033" stroke-width="0.94" fill="none"/>
<path d="M1665.5 2329.9L1422.7 2252.7M1539.7 2461L1522.9 2461M1401.3 2362.6L1664.4 2313.4M1639.9 2407.1L1556.4 2459M1588.4 2211L1398.2 2313.4M1556.4 2459L1588.4 2211M1588.4 2448.8L1539.7 2461M1522.9 2461L1629.1 2240M1474.2 2211L1588.4 2211M1489.8 2454.9L1664.4 2346.4M1413.7 2393.2L1664.4 2346.4M1401.3 2297.2L1603.2 2219M1506.2 2459L1406.5 2281.5M1539.7 2461L1616.8 2431.1M1616.8 2228.7L1648.9 2393.2M1629.1 2419.8L1661.3 2362.6M1401.3 2297.2L1489.8 2454.9" stroke="#ef4b24" stroke-opacity="0.037" stroke-width="0.82" fill="none"/>
<path d="M1489.8 2204.9L1556.4 2459M1629.1 2240L1539.7 2198.8M1474.2 2211L1556.4 2459M1629.1 2419.8L1639.9 2407.1M1474.2 2448.8L1588.4 2448.8M1556.4 2200.8L1522.9 2198.8M1661.3 2362.6L1522.9 2461M1459.4 2219L1422.7 2252.7M1522.9 2198.8L1556.4 2459M1629.1 2240L1572.8 2454.9M1556.4 2200.8L1406.5 2281.5M1639.9 2407.1L1474.2 2211M1556.4 2200.8L1406.5 2281.5M1661.3 2297.2L1572.8 2454.9M1522.9 2198.8L1556.4 2459M1556.4 2459L1661.3 2362.6M1556.4 2459L1445.8 2431.1M1401.3 2297.2L1506.2 2459" stroke="#ef4b24" stroke-opacity="0.040" stroke-width="0.75" fill="none"/>
<path d="M1539.7 2461L1474.2 2448.8M1433.5 2240L1401.3 2362.6M1572.8 2454.9L1489.8 2454.9M1413.7 2393.2L1556.4 2459M1522.9 2198.8L1398.2 2313.4M1661.3 2362.6L1406.5 2378.3M1603.2 2440.8L1664.4 2346.4M1664.4 2346.4L1522.9 2461M1422.7 2252.7L1398.2 2346.4M1616.8 2431.1L1474.2 2211M1572.8 2204.9L1489.8 2454.9M1629.1 2240L1556.4 2200.8M1397.1 2329.9L1665.5 2329.9M1489.8 2454.9L1397.1 2329.9M1539.7 2461L1665.5 2329.9" stroke="#ef4b24" stroke-opacity="0.044" stroke-width="0.72" fill="none"/>
<path d="M1433.5 2419.8L1506.2 2459M1556.4 2459L1401.3 2362.6M1539.7 2198.8L1406.5 2378.3M1422.7 2252.7L1639.9 2252.7M1588.4 2448.8L1572.8 2454.9M1656.1 2281.5L1572.8 2454.9M1474.2 2448.8L1556.4 2459M1397.1 2329.9L1556.4 2200.8M1572.8 2204.9L1406.5 2281.5M1474.2 2448.8L1656.1 2378.3M1406.5 2378.3L1556.4 2459M1656.1 2378.3L1648.9 2266.6M1474.2 2211L1664.4 2346.4M1406.5 2281.5L1603.2 2440.8M1639.9 2252.7L1665.5 2329.9M1556.4 2200.8L1629.1 2240M1588.4 2448.8L1445.8 2431.1M1489.8 2454.9L1556.4 2459" stroke="#ef4b24" stroke-opacity="0.047" stroke-width="0.98" fill="none"/>
<path d="M1603.2 2219L1406.5 2281.5M1664.4 2313.4L1556.4 2459M1397.1 2329.9L1489.8 2454.9M1445.8 2228.7L1474.2 2211M1556.4 2200.8L1413.7 2393.2M1616.8 2431.1L1556.4 2459M1572.8 2454.9L1616.8 2228.7M1489.8 2454.9L1413.7 2393.2M1489.8 2204.9L1572.8 2454.9M1603.2 2219L1556.4 2200.8M1522.9 2461L1603.2 2440.8M1474.2 2211L1656.1 2378.3M1522.9 2461L1406.5 2378.3M1572.8 2204.9L1648.9 2266.6M1556.4 2200.8L1656.1 2378.3M1661.3 2362.6L1522.9 2461M1422.7 2407.1L1406.5 2281.5M1603.2 2440.8L1413.7 2393.2" stroke="#ef4b24" stroke-opacity="0.051" stroke-width="0.73" fill="none"/>
<path d="M1588.4 2211L1639.9 2407.1M1406.5 2281.5L1406.5 2378.3M1506.2 2200.8L1661.3 2362.6M1656.1 2378.3L1539.7 2461M1556.4 2459L1413.7 2266.6M1433.5 2240L1556.4 2459M1648.9 2266.6L1629.1 2240M1433.5 2240L1539.7 2198.8M1539.7 2198.8L1556.4 2200.8M1603.2 2440.8L1639.9 2407.1M1489.8 2454.9L1433.5 2240M1506.2 2459L1556.4 2459M1406.5 2281.5L1413.7 2266.6M1639.9 2407.1L1665.5 2329.9M1522.9 2461L1603.2 2440.8M1556.4 2459L1603.2 2219M1489.8 2454.9L1459.4 2440.8M1413.7 2393.2L1603.2 2219" stroke="#ef4b24" stroke-opacity="0.054" stroke-width="0.90" fill="none"/>
<path d="M1648.9 2266.6L1556.4 2459M1556.4 2200.8L1406.5 2281.5M1629.1 2419.8L1588.4 2211M1413.7 2393.2L1489.8 2454.9M1522.9 2461L1506.2 2459M1474.2 2211L1616.8 2228.7M1639.9 2252.7L1656.1 2281.5M1422.7 2252.7L1474.2 2448.8M1656.1 2378.3L1406.5 2378.3M1474.2 2211L1639.9 2252.7M1556.4 2200.8L1629.1 2240M1556.4 2200.8L1661.3 2362.6M1556.4 2459L1616.8 2228.7M1648.9 2393.2L1413.7 2266.6M1556.4 2459L1413.7 2393.2M1656.1 2378.3L1556.4 2459M1556.4 2200.8L1629.1 2419.8" stroke="#ef4b24" stroke-opacity="0.058" stroke-width="0.89" fill="none"/>
<path d="M1639.9 2252.7L1539.7 2461M1413.7 2266.6L1556.4 2459M1474.2 2211L1616.8 2431.1M1629.1 2240L1413.7 2393.2M1661.3 2362.6L1422.7 2407.1M1603.2 2440.8L1572.8 2454.9M1665.5 2329.9L1522.9 2198.8M1629.1 2240L1413.7 2393.2M1459.4 2440.8L1397.1 2329.9M1433.5 2240L1556.4 2200.8M1629.1 2240L1661.3 2297.2M1661.3 2362.6L1648.9 2266.6M1639.9 2407.1L1489.8 2454.9M1474.2 2211L1556.4 2200.8M1539.7 2461L1489.8 2454.9M1639.9 2252.7L1556.4 2200.8M1459.4 2219L1556.4 2459M1648.9 2266.6L1639.9 2407.1" stroke="#ef4b24" stroke-opacity="0.061" stroke-width="0.78" fill="none"/>
<path d="M1459.4 2219L1406.5 2281.5M1629.1 2240L1422.7 2407.1M1489.8 2204.9L1661.3 2362.6M1556.4 2459L1413.7 2266.6M1522.9 2461L1445.8 2228.7M1556.4 2200.8L1616.8 2431.1M1629.1 2240L1522.9 2461M1661.3 2362.6L1556.4 2459M1661.3 2362.6L1398.2 2313.4M1639.9 2407.1L1556.4 2459M1661.3 2362.6L1616.8 2228.7M1572.8 2204.9L1406.5 2281.5M1489.8 2454.9L1603.2 2219M1406.5 2281.5L1648.9 2393.2M1539.7 2461L1639.9 2252.7M1661.3 2362.6L1489.8 2454.9M1539.7 2198.8L1397.1 2329.9M1629.1 2240L1422.7 2252.7" stroke="#ef4b24" stroke-opacity="0.065" stroke-width="0.87" fill="none"/>
<path d="M1572.8 2454.9L1664.4 2313.4M1572.8 2204.9L1539.7 2461M1406.5 2378.3L1539.7 2461M1522.9 2198.8L1406.5 2281.5M1556.4 2459L1474.2 2211M1664.4 2313.4L1474.2 2211M1489.8 2454.9L1661.3 2362.6M1522.9 2198.8L1406.5 2281.5M1656.1 2378.3L1413.7 2266.6M1422.7 2407.1L1556.4 2459M1474.2 2448.8L1616.8 2228.7M1556.4 2459L1522.9 2461M1413.7 2393.2L1588.4 2211M1572.8 2454.9L1413.7 2393.2M1629.1 2419.8L1603.2 2219M1406.5 2378.3L1556.4 2459M1489.8 2454.9L1661.3 2297.2" stroke="#ef4b24" stroke-opacity="0.068" stroke-width="0.91" fill="none"/>
<path d="M1648.9 2266.6L1648.9 2393.2M1661.3 2297.2L1489.8 2204.9M1556.4 2459L1556.4 2200.8M1474.2 2211L1522.9 2461M1398.2 2346.4L1433.5 2240M1665.5 2329.9L1588.4 2211M1661.3 2362.6L1556.4 2459M1629.1 2240L1556.4 2459M1398.2 2313.4L1433.5 2240M1506.2 2200.8L1413.7 2393.2M1661.3 2362.6L1413.7 2393.2M1664.4 2346.4L1556.4 2459M1474.2 2211L1459.4 2440.8M1639.9 2252.7L1572.8 2204.9M1401.3 2297.2L1539.7 2461M1556.4 2459L1445.8 2228.7M1639.9 2252.7L1603.2 2219" stroke="#ef4b24" stroke-opacity="0.072" stroke-width="0.76" fill="none"/>
<path d="M1401.3 2362.6L1639.9 2252.7M1445.8 2228.7L1489.8 2454.9M1489.8 2204.9L1522.9 2198.8M1616.8 2228.7L1639.9 2252.7M1474.2 2211L1616.8 2228.7M1588.4 2211L1556.4 2459M1661.3 2362.6L1664.4 2313.4M1489.8 2454.9L1572.8 2204.9M1639.9 2407.1L1629.1 2240M1572.8 2204.9L1556.4 2459M1406.5 2281.5L1639.9 2407.1M1588.4 2211L1539.7 2198.8M1474.2 2211L1556.4 2459M1397.1 2329.9L1616.8 2228.7M1572.8 2204.9L1489.8 2454.9" stroke="#ef4b24" stroke-opacity="0.075" stroke-width="0.77" fill="none"/>
<path d="M1664.4 2346.4L1661.3 2362.6M1656.1 2281.5L1398.2 2313.4M1522.9 2461L1539.7 2461M1474.2 2211L1539.7 2461M1556.4 2200.8L1422.7 2407.1M1474.2 2211L1556.4 2200.8M1556.4 2200.8L1648.9 2393.2M1422.7 2407.1L1459.4 2440.8M1539.7 2198.8L1406.5 2378.3M1489.8 2454.9L1572.8 2204.9M1603.2 2440.8L1661.3 2362.6M1474.2 2211L1656.1 2281.5M1556.4 2459L1397.1 2329.9M1648.9 2393.2L1664.4 2313.4M1572.8 2204.9L1398.2 2346.4M1588.4 2211L1433.5 2419.8" stroke="#ef4b24" stroke-opacity="0.079" stroke-width="0.98" fill="none"/>
<path d="M1629.1 2240L1406.5 2281.5M1556.4 2200.8L1489.8 2204.9M1616.8 2228.7L1629.1 2419.8M1556.4 2459L1506.2 2459M1522.9 2198.8L1656.1 2281.5M1572.8 2204.9L1474.2 2211M1397.1 2329.9L1556.4 2200.8M1445.8 2431.1L1422.7 2252.7M1556.4 2459L1401.3 2362.6M1556.4 2200.8L1406.5 2281.5M1661.3 2362.6L1616.8 2431.1M1629.1 2419.8L1588.4 2211M1459.4 2219L1661.3 2362.6M1556.4 2459L1656.1 2281.5M1406.5 2281.5L1556.4 2200.8M1616.8 2431.1L1406.5 2281.5" stroke="#ef4b24" stroke-opacity="0.082" stroke-width="0.76" fill="none"/>
<path d="M1616.8 2228.7L1474.2 2211M1397.1 2329.9L1661.3 2362.6M1406.5 2281.5L1539.7 2198.8M1656.1 2378.3L1433.5 2240M1556.4 2459L1489.8 2204.9M1603.2 2440.8L1474.2 2448.8M1556.4 2459L1406.5 2281.5M1474.2 2211L1445.8 2228.7M1506.2 2459L1489.8 2454.9M1489.8 2454.9L1406.5 2281.5M1506.2 2459L1489.8 2204.9M1506.2 2459L1397.1 2329.9M1639.9 2252.7L1656.1 2378.3M1603.2 2219L1639.9 2252.7M1616.8 2431.1L1474.2 2211M1603.2 2219L1401.3 2297.2M1556.4 2200.8L1459.4 2440.8" stroke="#ef4b24" stroke-opacity="0.086" stroke-width="0.85" fill="none"/>
<path d="M1489.8 2454.9L1588.4 2211M1397.1 2329.9L1661.3 2362.6M1406.5 2281.5L1661.3 2362.6M1661.3 2297.2L1398.2 2346.4M1656.1 2378.3L1459.4 2440.8M1629.1 2240L1522.9 2461M1422.7 2407.1L1474.2 2211M1664.4 2346.4L1459.4 2219M1556.4 2459L1445.8 2228.7M1664.4 2313.4L1398.2 2346.4M1433.5 2419.8L1556.4 2459M1474.2 2448.8L1539.7 2461M1506.2 2200.8L1629.1 2419.8M1413.7 2266.6L1474.2 2211M1629.1 2240L1648.9 2266.6" stroke="#ef4b24" stroke-opacity="0.089" stroke-width="0.84" fill="none"/>
<path d="M1539.7 2461L1656.1 2281.5M1588.4 2211L1648.9 2393.2M1433.5 2419.8L1489.8 2454.9M1401.3 2297.2L1572.8 2204.9M1413.7 2266.6L1616.8 2431.1M1413.7 2393.2L1401.3 2297.2M1539.7 2198.8L1639.9 2252.7M1401.3 2362.6L1398.2 2313.4M1474.2 2211L1664.4 2313.4M1433.5 2240L1406.5 2281.5M1648.9 2266.6L1639.9 2252.7M1422.7 2407.1L1603.2 2219M1506.2 2200.8L1556.4 2459M1556.4 2459L1572.8 2204.9M1397.1 2329.9L1656.1 2281.5M1572.8 2204.9L1522.9 2461" stroke="#ef4b24" stroke-opacity="0.093" stroke-width="0.93" fill="none"/>
<path d="M1588.4 2211L1556.4 2459M1433.5 2240L1556.4 2200.8M1648.9 2393.2L1661.3 2362.6M1506.2 2459L1459.4 2219M1629.1 2419.8L1474.2 2211M1406.5 2378.3L1489.8 2454.9M1474.2 2448.8L1661.3 2362.6M1572.8 2204.9L1413.7 2266.6M1629.1 2419.8L1556.4 2459M1639.9 2252.7L1648.9 2393.2M1556.4 2459L1489.8 2204.9M1397.1 2329.9L1629.1 2419.8M1661.3 2362.6L1398.2 2346.4M1629.1 2240L1506.2 2459M1616.8 2228.7L1648.9 2266.6M1445.8 2228.7L1661.3 2362.6" stroke="#ef4b24" stroke-opacity="0.096" stroke-width="0.96" fill="none"/>
<path d="M1556.4 2459L1639.9 2407.1M1556.4 2459L1406.5 2281.5M1539.7 2198.8L1474.2 2211M1629.1 2240L1489.8 2454.9M1556.4 2459L1401.3 2362.6M1664.4 2346.4L1556.4 2459M1556.4 2200.8L1474.2 2211M1413.7 2266.6L1661.3 2362.6M1406.5 2378.3L1433.5 2419.8M1556.4 2459L1406.5 2281.5M1656.1 2378.3L1406.5 2378.3M1639.9 2407.1L1603.2 2219M1588.4 2211L1459.4 2440.8M1616.8 2228.7L1489.8 2454.9M1556.4 2459L1661.3 2362.6M1398.2 2346.4L1522.9 2461" stroke="#ef4b24" stroke-opacity="0.100" stroke-width="0.93" fill="none"/>
<path d="M1459.4 2440.8L1397.1 2329.9M1665.5 2329.9L1506.2 2200.8M1459.4 2440.8L1639.9 2407.1M1661.3 2362.6L1665.5 2329.9M1572.8 2454.9L1474.2 2448.8M1489.8 2454.9L1398.2 2313.4M1656.1 2378.3L1433.5 2240M1433.5 2240L1445.8 2228.7M1639.9 2407.1L1603.2 2219M1572.8 2454.9L1629.1 2419.8M1588.4 2211L1664.4 2313.4M1522.9 2461L1398.2 2313.4M1489.8 2204.9L1422.7 2407.1M1556.4 2459L1616.8 2431.1M1664.4 2346.4L1665.5 2329.9M1588.4 2211L1406.5 2281.5M1648.9 2393.2L1661.3 2362.6" stroke="#ef4b24" stroke-opacity="0.103" stroke-width="0.89" fill="none"/>
<path d="M1422.7 2252.7L1661.3 2297.2M1556.4 2459L1459.4 2219M1556.4 2459L1445.8 2431.1M1433.5 2240L1489.8 2204.9M1556.4 2459L1406.5 2281.5M1489.8 2454.9L1413.7 2266.6M1474.2 2211L1648.9 2393.2M1656.1 2378.3L1474.2 2211M1572.8 2454.9L1406.5 2281.5M1489.8 2454.9L1433.5 2240M1522.9 2198.8L1603.2 2440.8M1406.5 2281.5L1661.3 2362.6M1398.2 2313.4L1445.8 2228.7M1406.5 2281.5L1639.9 2252.7M1664.4 2313.4L1648.9 2393.2" stroke="#ef4b24" stroke-opacity="0.107" stroke-width="0.86" fill="none"/>
<path d="M1556.4 2459L1661.3 2362.6M1539.7 2198.8L1665.5 2329.9M1445.8 2228.7L1433.5 2240M1556.4 2200.8L1406.5 2281.5M1489.8 2454.9L1506.2 2200.8M1406.5 2281.5L1406.5 2378.3M1474.2 2448.8L1506.2 2459M1459.4 2219L1506.2 2459M1474.2 2211L1506.2 2200.8M1588.4 2448.8L1422.7 2252.7M1639.9 2252.7L1398.2 2346.4M1661.3 2362.6L1588.4 2448.8M1506.2 2200.8L1639.9 2252.7M1406.5 2281.5L1661.3 2362.6M1474.2 2211L1445.8 2228.7M1603.2 2440.8L1661.3 2297.2M1629.1 2240L1661.3 2362.6" stroke="#ef4b24" stroke-opacity="0.110" stroke-width="0.73" fill="none"/>
<path d="M1445.8 2431.1L1406.5 2281.5M1556.4 2459L1639.9 2252.7M1588.4 2448.8L1489.8 2454.9" stroke="#ef4b24" stroke-opacity="0.240" stroke-width="1.21" fill="none"/>
<path d="M1556.4 2459L1422.7 2252.7M1661.3 2362.6L1588.4 2448.8M1572.8 2204.9L1556.4 2459" stroke="#ef4b24" stroke-opacity="0.260" stroke-width="1.17" fill="none"/>
<path d="M1629.1 2240L1422.7 2252.7M1406.5 2378.3L1489.8 2454.9M1422.7 2252.7L1433.5 2419.8" stroke="#ef4b24" stroke-opacity="0.280" stroke-width="0.95" fill="none"/>
<path d="M1572.8 2454.9L1398.2 2346.4M1474.2 2211L1603.2 2219M1556.4 2459L1661.3 2362.6" stroke="#ef4b24" stroke-opacity="0.300" stroke-width="1.02" fill="none"/>
<path d="M1506.2 2459L1656.1 2281.5M1665.5 2329.9L1661.3 2362.6M1629.1 2240L1401.3 2297.2" stroke="#ef4b24" stroke-opacity="0.320" stroke-width="0.95" fill="none"/>
<path d="M1556.4 2200.8L1506.2 2200.8M1629.1 2419.8L1401.3 2297.2M1474.2 2211L1588.4 2448.8" stroke="#ef4b24" stroke-opacity="0.340" stroke-width="1.23" fill="none"/>
<path d="M1397.1 2329.9L1629.1 2240M1474.2 2448.8L1397.1 2329.9M1413.7 2266.6L1639.9 2407.1" stroke="#ef4b24" stroke-opacity="0.360" stroke-width="1.06" fill="none"/>
<path d="M1661.3 2362.6L1459.4 2219M1539.7 2461L1639.9 2252.7M1556.4 2459L1406.5 2281.5" stroke="#ef4b24" stroke-opacity="0.380" stroke-width="1.02" fill="none"/>
<path d="M1665.5 2329.9L1539.7 2198.8M1556.4 2459L1572.8 2204.9" stroke="#ef4b24" stroke-opacity="0.400" stroke-width="1.19" fill="none"/>
<path d="M1401.3 2362.6L1489.8 2454.9M1459.4 2440.8L1489.8 2454.9" stroke="#ef4b24" stroke-opacity="0.420" stroke-width="1.29" fill="none"/>
<line x1="1556.4" y1="2200.8" x2="1556.4" y2="2459" stroke="#ef4b24" stroke-opacity="0.80" stroke-width="2.34"/>
<line x1="1474.2" y1="2211" x2="1556.4" y2="2459" stroke="#ef4b24" stroke-opacity="0.76" stroke-width="1.95"/>
<line x1="1406.5" y1="2281.5" x2="1556.4" y2="2459" stroke="#ef4b24" stroke-opacity="0.76" stroke-width="1.72"/>
<line x1="1639.9" y1="2252.7" x2="1556.4" y2="2459" stroke="#ef4b24" stroke-opacity="0.71" stroke-width="1.56"/>
<line x1="1629.1" y1="2240" x2="1556.4" y2="2459" stroke="#ef4b24" stroke-opacity="0.67" stroke-width="1.17"/>
<line x1="1661.3" y1="2362.6" x2="1556.4" y2="2459" stroke="#ef4b24" stroke-opacity="0.71" stroke-width="1.56"/>
<line x1="1489.8" y1="2454.9" x2="1556.4" y2="2459" stroke="#ef4b24" stroke-opacity="0.76" stroke-width="1.95"/>
<line x1="1539.7" y1="2461" x2="1556.4" y2="2459" stroke="#ef4b24" stroke-opacity="0.71" stroke-width="1.56"/>
<line x1="1397.1" y1="2329.9" x2="1556.4" y2="2459" stroke="#ef4b24" stroke-opacity="0.59" stroke-width="1.01"/>
<line x1="1603.2" y1="2440.8" x2="1556.4" y2="2459" stroke="#ef4b24" stroke-opacity="0.63" stroke-width="1.17"/>
<line x1="1616.8" y1="2431.1" x2="1556.4" y2="2459" stroke="#ef4b24" stroke-opacity="0.63" stroke-width="1.17"/>
<line x1="1556.4" y1="2200.8" x2="1661.3" y2="2362.6" stroke="#ef4b24" stroke-opacity="0.42" stroke-width="0.78"/>
<line x1="1474.2" y1="2211" x2="1639.9" y2="2252.7" stroke="#ef4b24" stroke-opacity="0.42" stroke-width="0.78"/>
<line x1="1406.5" y1="2281.5" x2="1556.4" y2="2200.8" stroke="#ef4b24" stroke-opacity="0.42" stroke-width="0.78"/>
<line x1="1398.2" y1="2313.4" x2="1556.4" y2="2459" stroke="#ef4b24" stroke-opacity="0.46" stroke-width="0.78"/>
<line x1="1422.7" y1="2252.7" x2="1556.4" y2="2200.8" stroke="#ef4b24" stroke-opacity="0.42" stroke-width="0.78"/>
<line x1="1539.7" y1="2198.8" x2="1556.4" y2="2459" stroke="#ef4b24" stroke-opacity="0.50" stroke-width="0.86"/>
<line x1="1489.8" y1="2454.9" x2="1556.4" y2="2200.8" stroke="#ef4b24" stroke-opacity="0.42" stroke-width="0.78"/>
<g fill="#000"><circle cx="1665.5" cy="2329.9" r="0.95"/><circle cx="1664.4" cy="2313.4" r="0.95"/><circle cx="1661.3" cy="2297.2" r="0.95"/><circle cx="1656.1" cy="2281.5" r="0.95"/><circle cx="1648.9" cy="2266.6" r="0.95"/><circle cx="1639.9" cy="2252.7" r="1.35"/><circle cx="1629.1" cy="2240" r="1.35"/><circle cx="1616.8" cy="2228.7" r="0.95"/><circle cx="1603.2" cy="2219" r="0.95"/><circle cx="1588.4" cy="2211" r="0.95"/><circle cx="1572.8" cy="2204.9" r="0.95"/><circle cx="1556.4" cy="2200.8" r="1.75"/><circle cx="1539.7" cy="2198.8" r="0.95"/><circle cx="1522.9" cy="2198.8" r="0.95"/><circle cx="1506.2" cy="2200.8" r="0.95"/><circle cx="1489.8" cy="2204.9" r="0.95"/><circle cx="1474.2" cy="2211" r="1.75"/><circle cx="1459.4" cy="2219" r="0.95"/><circle cx="1445.8" cy="2228.7" r="0.95"/><circle cx="1433.5" cy="2240" r="0.95"/><circle cx="1422.7" cy="2252.7" r="0.95"/><circle cx="1413.7" cy="2266.6" r="0.95"/><circle cx="1406.5" cy="2281.5" r="1.35"/><circle cx="1401.3" cy="2297.2" r="0.95"/><circle cx="1398.2" cy="2313.4" r="0.95"/><circle cx="1397.1" cy="2329.9" r="1.35"/><circle cx="1398.2" cy="2346.4" r="0.95"/><circle cx="1401.3" cy="2362.6" r="0.95"/><circle cx="1406.5" cy="2378.3" r="0.95"/><circle cx="1413.7" cy="2393.2" r="0.95"/><circle cx="1422.7" cy="2407.1" r="0.95"/><circle cx="1433.5" cy="2419.8" r="0.95"/><circle cx="1445.8" cy="2431.1" r="0.95"/><circle cx="1459.4" cy="2440.8" r="0.95"/><circle cx="1474.2" cy="2448.8" r="0.95"/><circle cx="1489.8" cy="2454.9" r="1.75"/><circle cx="1506.2" cy="2459" r="1.35"/><circle cx="1522.9" cy="2461" r="0.95"/><circle cx="1539.7" cy="2461" r="1.75"/><circle cx="1556.4" cy="2459" r="2.15"/><circle cx="1572.8" cy="2454.9" r="0.95"/><circle cx="1588.4" cy="2448.8" r="0.95"/><circle cx="1603.2" cy="2440.8" r="1.35"/><circle cx="1616.8" cy="2431.1" r="1.35"/><circle cx="1629.1" cy="2419.8" r="0.95"/><circle cx="1639.9" cy="2407.1" r="0.95"/><circle cx="1648.9" cy="2393.2" r="0.95"/><circle cx="1656.1" cy="2378.3" r="0.95"/><circle cx="1661.3" cy="2362.6" r="1.75"/><circle cx="1664.4" cy="2346.4" r="0.95"/></g>
<g font-weight="normal" fill="#000"><text transform="translate(1669.1,2329.9) rotate(-0.0) translate(0,1.6)" font-size="4.5">Siglech</text><text transform="translate(1667.7,2311.8) rotate(-26.8) translate(0,1.6)" font-size="4.5">Trem2</text><text transform="translate(1663.8,2294.6) rotate(-45.8) translate(0,1.6)" font-size="4.5">Selplg</text><text transform="translate(1658,2278.5) rotate(-57.7) translate(0,1.6)" font-size="4.5">Csf1r</text><text transform="translate(1650.4,2263.3) rotate(-65.5) translate(0,1.6)" font-size="4.5">Cx3cr1</text><text transform="translate(1641.1,2249.1) rotate(-71.0) translate(0,2)" font-size="5.8">P2ry6</text><text transform="translate(1630.1,2236.3) rotate(-75.1) translate(0,2)" font-size="5.8">Nlrp3</text><text transform="translate(1617.6,2225.1) rotate(-78.3) translate(0,1.6)" font-size="4.5">Dock2</text><text transform="translate(1603.8,2215.4) rotate(-81.0) translate(0,1.6)" font-size="4.5">Ikzf1</text><text transform="translate(1588.9,2207.4) rotate(-83.3) translate(0,1.6)" font-size="4.5">Laptm5</text><text transform="translate(1573.1,2201.3) rotate(-85.4) translate(0,1.6)" font-size="4.5">Cd53</text><text transform="translate(1556.6,2196.8) rotate(-87.3) translate(0,2.5)" font-size="7.2">Cbs</text><text transform="translate(1539.8,2195.2) rotate(-89.1) translate(0,1.6)" font-size="4.5">C1qa</text><text transform="translate(1522.8,2195.2) rotate(-90.9) translate(0,1.6)" font-size="4.5">Itgam</text><text transform="translate(1506,2197.2) rotate(-92.7) translate(0,1.6)" font-size="4.5">Irf8</text><text transform="translate(1489.5,2201.3) rotate(-94.6) translate(0,1.6)" font-size="4.5">Hcls1</text><text transform="translate(1473.7,2207) rotate(-96.7) translate(0,2.5)" font-size="7.2">Lair1</text><text transform="translate(1458.8,2215.4) rotate(-99.0) translate(0,1.6)" font-size="4.5">Ptprc</text><text transform="translate(1445,2225.1) rotate(-101.7) translate(0,1.6)" font-size="4.5">Tyrobp</text><text transform="translate(1432.5,2236.5) rotate(-104.9) translate(0,1.6)" font-size="4.5">Fcgr3</text><text transform="translate(1421.6,2249.3) rotate(-109.0) translate(0,1.6)" font-size="4.5">Lyz2</text><text transform="translate(1412.2,2263.3) rotate(-114.5) translate(0,1.6)" font-size="4.5">Cd68</text><text transform="translate(1404.5,2278.3) rotate(-122.3) translate(0,2)" font-size="5.8">Il12</text><text transform="translate(1398.8,2294.6) rotate(-134.2) translate(0,1.6)" font-size="4.5">Mpeg1</text><text transform="translate(1394.9,2311.8) rotate(-153.2) translate(0,1.6)" font-size="4.5">Cd84</text><text transform="translate(1393.3,2329.9) rotate(-180.0) translate(0,2)" font-size="5.8">Clec7a</text><text transform="translate(1394.9,2348) rotate(-26.8) translate(0,1.6)" font-size="4.5" text-anchor="end">Ctss</text><text transform="translate(1398.8,2365.2) rotate(-45.8) translate(0,1.6)" font-size="4.5" text-anchor="end">Lyn</text><text transform="translate(1404.6,2381.3) rotate(-57.7) translate(0,1.6)" font-size="4.5" text-anchor="end">Cd14</text><text transform="translate(1412.2,2396.5) rotate(-65.5) translate(0,1.6)" font-size="4.5" text-anchor="end">Ptgs1</text><text transform="translate(1421.6,2410.5) rotate(-71.0) translate(0,1.6)" font-size="4.5" text-anchor="end">Fli1</text><text transform="translate(1432.5,2423.3) rotate(-75.1) translate(0,1.6)" font-size="4.5" text-anchor="end">Runx1</text><text transform="translate(1445,2434.7) rotate(-78.3) translate(0,1.6)" font-size="4.5" text-anchor="end">Spi1</text><text transform="translate(1458.8,2444.4) rotate(-81.0) translate(0,1.6)" font-size="4.5" text-anchor="end">Rgs9</text><text transform="translate(1473.7,2452.4) rotate(-83.3) translate(0,1.6)" font-size="4.5" text-anchor="end">Adcy5</text><text transform="translate(1489.5,2458.9) rotate(-85.4) translate(0,2.5)" font-size="7.2" text-anchor="end">Csf3r</text><text transform="translate(1506,2462.8) rotate(-87.3) translate(0,2)" font-size="5.8" text-anchor="end">Hexb</text><text transform="translate(1522.8,2464.6) rotate(-89.1) translate(0,1.6)" font-size="4.5" text-anchor="end">Gnal</text><text transform="translate(1539.8,2465) rotate(-90.9) translate(0,2.5)" font-size="7.2" text-anchor="end">Cfh</text><text transform="translate(1556.7,2463.6) rotate(-92.7) translate(0,3.7)" font-size="10.5" font-weight="bold" text-anchor="end">Ly86</text><text transform="translate(1573.1,2458.5) rotate(-94.6) translate(0,1.6)" font-size="4.5" text-anchor="end">Rasd2</text><text transform="translate(1588.9,2452.4) rotate(-96.7) translate(0,1.6)" font-size="4.5" text-anchor="end">Pde1b</text><text transform="translate(1603.8,2444.6) rotate(-99.0) translate(0,2)" font-size="5.8" text-anchor="end">Nckap1l</text><text transform="translate(1617.6,2434.9) rotate(-101.7) translate(0,2)" font-size="5.8" text-anchor="end">Tgfbr2</text><text transform="translate(1630.1,2423.3) rotate(-104.9) translate(0,1.6)" font-size="4.5" text-anchor="end">Kcnk4</text><text transform="translate(1641,2410.5) rotate(-109.0) translate(0,1.6)" font-size="4.5" text-anchor="end">Slc35d3</text><text transform="translate(1650.4,2396.5) rotate(-114.5) translate(0,1.6)" font-size="4.5" text-anchor="end">Gpr6</text><text transform="translate(1658,2381.3) rotate(-122.3) translate(0,1.6)" font-size="4.5" text-anchor="end">Arpp21</text><text transform="translate(1664.1,2365.4) rotate(-134.2) translate(0,2.5)" font-size="7.2" text-anchor="end">Apbb1ip</text><text transform="translate(1667.7,2348) rotate(-153.2) translate(0,1.6)" font-size="4.5" text-anchor="end">Pde10a</text></g>
</g>
</svg></body></html>
